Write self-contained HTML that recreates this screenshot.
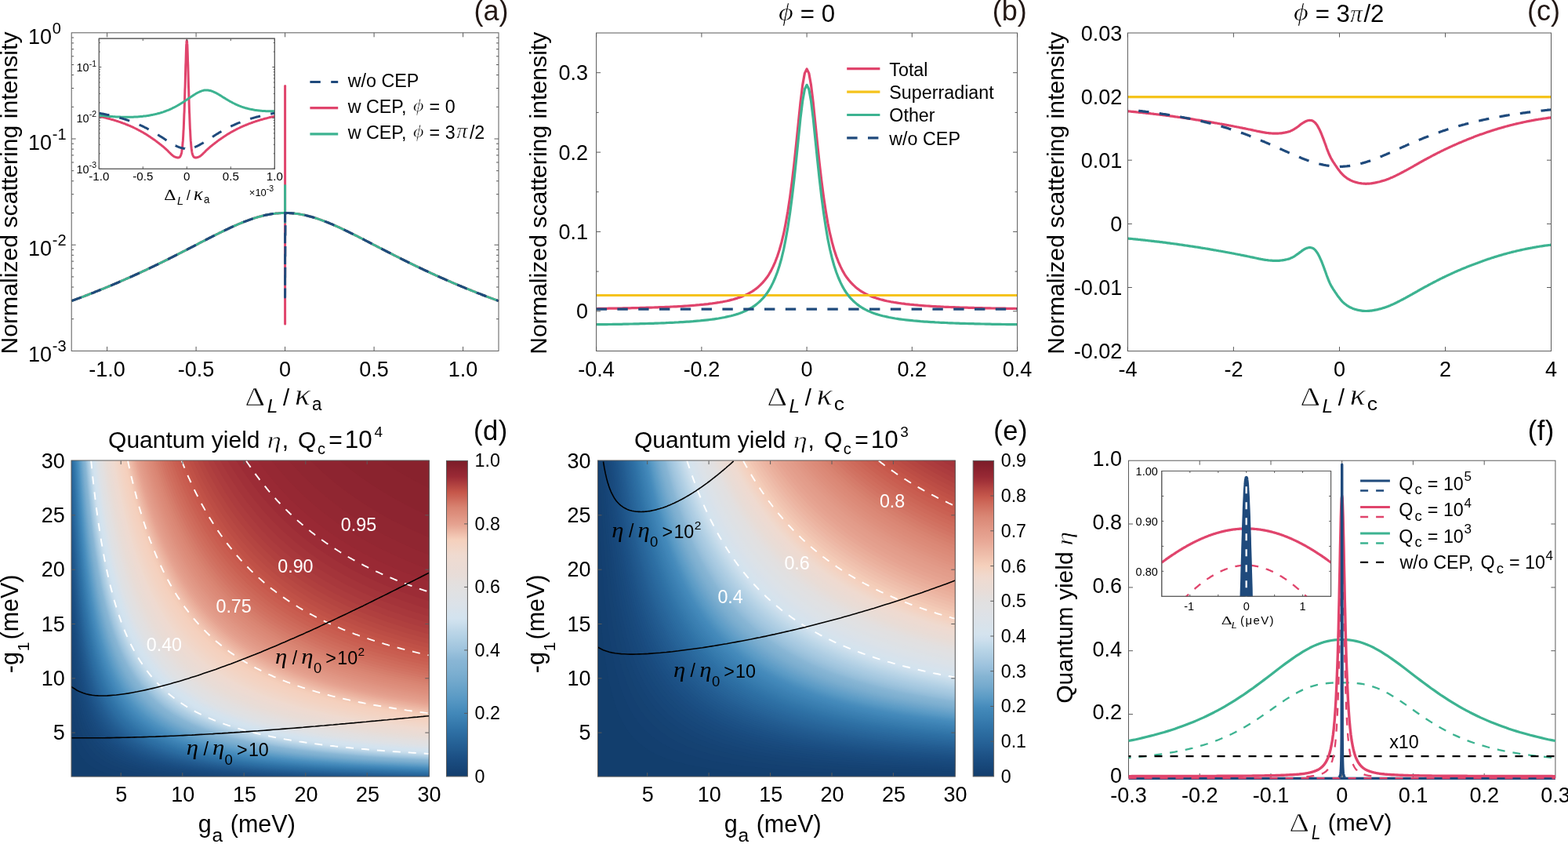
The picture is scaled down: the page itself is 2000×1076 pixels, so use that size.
<!DOCTYPE html>
<html lang="en"><head><meta charset="utf-8"><title>Figure</title>
<style>
html,body{margin:0;padding:0;background:#fff;}
body{width:2000px;height:1076px;position:relative;overflow:hidden;font-family:"Liberation Sans",sans-serif;}
svg{position:absolute;left:0;top:0;}
svg{font-family:"Liberation Sans",sans-serif;}
</style></head><body>

<svg width="2000" height="1076" viewBox="0 0 2000 1076">
<defs>
<clipPath id="cp_a"><rect x="90.7" y="41.3" width="545.8" height="406.6"/></clipPath>
<clipPath id="cp_ai"><rect x="125.8" y="48.6" width="225" height="167.2"/></clipPath>
<clipPath id="cp_b"><rect x="760.1" y="41.5" width="538" height="406.5"/></clipPath>
<clipPath id="cp_c"><rect x="1437.9" y="41.5" width="541.1" height="406.6"/></clipPath>
<clipPath id="cp_d"><rect x="91" y="587" width="456.3" height="403.1"/></clipPath>
<clipPath id="cp_dc"><rect x="569" y="586.9" width="27.9" height="403.5"/></clipPath>
<clipPath id="cp_e"><rect x="762.5" y="587" width="455.8" height="403.1"/></clipPath>
<clipPath id="cp_ec"><rect x="1240.7" y="586.9" width="27.4" height="403.5"/></clipPath>
<clipPath id="cp_f"><rect x="1439" y="586.7" width="545.4" height="405.2"/></clipPath>
<clipPath id="cp_fi"><rect x="1481.3" y="600" width="216.8" height="160.8"/></clipPath>
</defs>
<path d="M136.6 447.4v-5.5M136.6 41.8v5.5M250.1 447.4v-5.5M250.1 41.8v5.5M363.6 447.4v-5.5M363.6 41.8v5.5M477.1 447.4v-5.5M477.1 41.8v5.5M590.6 447.4v-5.5M590.6 41.8v5.5" stroke="#5a5a5a" stroke-width="1.0" fill="none"/>
<path d="M91.2 312.2h5.5M636 312.2h-5.5M91.2 177h5.5M636 177h-5.5" stroke="#5a5a5a" stroke-width="1.0" fill="none"/>
<path d="M91.2 406.7h3M636 406.7h-3M91.2 382.9h3M636 382.9h-3M91.2 366h3M636 366h-3M91.2 352.9h3M636 352.9h-3M91.2 342.2h3M636 342.2h-3M91.2 333.1h3M636 333.1h-3M91.2 325.3h3M636 325.3h-3M91.2 318.4h3M636 318.4h-3M91.2 271.5h3M636 271.5h-3M91.2 247.7h3M636 247.7h-3M91.2 230.8h3M636 230.8h-3M91.2 217.7h3M636 217.7h-3M91.2 207h3M636 207h-3M91.2 197.9h3M636 197.9h-3M91.2 190.1h3M636 190.1h-3M91.2 183.2h3M636 183.2h-3M91.2 136.3h3M636 136.3h-3M91.2 112.5h3M636 112.5h-3M91.2 95.6h3M636 95.6h-3M91.2 82.5h3M636 82.5h-3M91.2 71.8h3M636 71.8h-3M91.2 62.7h3M636 62.7h-3M91.2 54.9h3M636 54.9h-3M91.2 48h3M636 48h-3" stroke="#5a5a5a" stroke-width="1.0" fill="none"/>
<path d="M91.2 383.7L92.6 383.2L93.9 382.7L95.3 382.2L96.7 381.7L98 381.2L99.4 380.7L100.8 380.2L102.1 379.6L103.5 379.1L104.9 378.6L106.2 378.1L107.6 377.6L109 377L110.3 376.5L111.7 376L113 375.5L114.4 374.9L115.8 374.4L117.1 373.9L118.5 373.3L119.9 372.8L121.2 372.2L122.6 371.7L124 371.1L125.3 370.6L126.7 370L128.1 369.5L129.4 368.9L130.8 368.4L132.2 367.8L133.5 367.3L134.9 366.7L136.3 366.1L137.6 365.6L139 365L140.4 364.4L141.7 363.9L143.1 363.3L144.5 362.7L145.8 362.1L147.2 361.6L148.5 361L149.9 360.4L151.3 359.8L152.6 359.2L154 358.6L155.4 358L156.7 357.4L158.1 356.8L159.5 356.2L160.8 355.6L162.2 355L163.6 354.4L164.9 353.8L166.3 353.2L167.7 352.6L169 352L170.4 351.4L171.8 350.8L173.1 350.1L174.5 349.5L175.9 348.9L177.2 348.3L178.6 347.6L180 347L181.3 346.4L182.7 345.7L184 345.1L185.4 344.5L186.8 343.8L188.1 343.2L189.5 342.5L190.9 341.9L192.2 341.2L193.6 340.6L195 339.9L196.3 339.3L197.7 338.6L199.1 338L200.4 337.3L201.8 336.6L203.2 336L204.5 335.3L205.9 334.6L207.3 334L208.6 333.3L210 332.6L211.4 331.9L212.7 331.3L214.1 330.6L215.5 329.9L216.8 329.2L218.2 328.5L219.5 327.8L220.9 327.2L222.3 326.5L223.6 325.8L225 325.1L226.4 324.4L227.7 323.7L229.1 323L230.5 322.3L231.8 321.6L233.2 320.9L234.6 320.2L235.9 319.5L237.3 318.8L238.7 318.1L240 317.4L241.4 316.7L242.8 316L244.1 315.3L245.5 314.6L246.9 313.9L248.2 313.2L249.6 312.5L251 311.8L252.3 311.1L253.7 310.3L255 309.6L256.4 308.9L257.8 308.2L259.1 307.5L260.5 306.8L261.9 306.1L263.2 305.4L264.6 304.7L266 304L267.3 303.3L268.7 302.6L270.1 301.9L271.4 301.2L272.8 300.5L274.2 299.9L275.5 299.2L276.9 298.5L278.3 297.8L279.6 297.1L281 296.5L282.4 295.8L283.7 295.1L285.1 294.5L286.5 293.8L287.8 293.1L289.2 292.5L290.6 291.9L291.9 291.2L293.3 290.6L294.6 289.9L296 289.3L297.4 288.7L298.7 288.1L300.1 287.5L301.5 286.9L302.8 286.3L304.2 285.7L305.6 285.1L306.9 284.6L308.3 284L309.7 283.5L311 282.9L312.4 282.4L313.8 281.9L315.1 281.3L316.5 280.8L317.9 280.3L319.2 279.9L320.6 279.4L322 278.9L323.3 278.5L324.7 278L326.1 277.6L327.4 277.2L328.8 276.8L330.1 276.4L331.5 276L332.9 275.7L334.2 275.3L335.6 275L337 274.6L338.3 274.3L339.7 274L341.1 273.8L342.4 273.5L343.8 273.3L345.2 273L346.5 272.8L347.9 272.6L349.3 272.4L350.6 272.3L352 272.1L353.4 272L354.7 271.9L356.1 271.8L357.5 271.7L358.8 271.6L360.2 271.6L361.6 271.5L362.9 271.5L364.3 271.5L365.6 271.5L367 271.6L368.4 271.6L369.7 271.7L371.1 271.8L372.5 271.9L373.8 272L375.2 272.1L376.6 272.3L377.9 272.4L379.3 272.6L380.7 272.8L382 273L383.4 273.3L384.8 273.5L386.1 273.8L387.5 274L388.9 274.3L390.2 274.6L391.6 275L393 275.3L394.3 275.7L395.7 276L397.1 276.4L398.4 276.8L399.8 277.2L401.1 277.6L402.5 278L403.9 278.5L405.2 278.9L406.6 279.4L408 279.9L409.3 280.3L410.7 280.8L412.1 281.3L413.4 281.9L414.8 282.4L416.2 282.9L417.5 283.5L418.9 284L420.3 284.6L421.6 285.1L423 285.7L424.4 286.3L425.7 286.9L427.1 287.5L428.5 288.1L429.8 288.7L431.2 289.3L432.6 289.9L433.9 290.6L435.3 291.2L436.6 291.9L438 292.5L439.4 293.1L440.7 293.8L442.1 294.5L443.5 295.1L444.8 295.8L446.2 296.5L447.6 297.1L448.9 297.8L450.3 298.5L451.7 299.2L453 299.9L454.4 300.5L455.8 301.2L457.1 301.9L458.5 302.6L459.9 303.3L461.2 304L462.6 304.7L464 305.4L465.3 306.1L466.7 306.8L468.1 307.5L469.4 308.2L470.8 308.9L472.2 309.6L473.5 310.3L474.9 311.1L476.2 311.8L477.6 312.5L479 313.2L480.3 313.9L481.7 314.6L483.1 315.3L484.4 316L485.8 316.7L487.2 317.4L488.5 318.1L489.9 318.8L491.3 319.5L492.6 320.2L494 320.9L495.4 321.6L496.7 322.3L498.1 323L499.5 323.7L500.8 324.4L502.2 325.1L503.6 325.8L504.9 326.5L506.3 327.2L507.7 327.8L509 328.5L510.4 329.2L511.7 329.9L513.1 330.6L514.5 331.3L515.8 331.9L517.2 332.6L518.6 333.3L519.9 334L521.3 334.6L522.7 335.3L524 336L525.4 336.6L526.8 337.3L528.1 338L529.5 338.6L530.9 339.3L532.2 339.9L533.6 340.6L535 341.2L536.3 341.9L537.7 342.5L539.1 343.2L540.4 343.8L541.8 344.5L543.2 345.1L544.5 345.7L545.9 346.4L547.2 347L548.6 347.6L550 348.3L551.3 348.9L552.7 349.5L554.1 350.1L555.4 350.8L556.8 351.4L558.2 352L559.5 352.6L560.9 353.2L562.3 353.8L563.6 354.4L565 355L566.4 355.6L567.7 356.2L569.1 356.8L570.5 357.4L571.8 358L573.2 358.6L574.6 359.2L575.9 359.8L577.3 360.4L578.7 361L580 361.6L581.4 362.1L582.7 362.7L584.1 363.3L585.5 363.9L586.8 364.4L588.2 365L589.6 365.6L590.9 366.1L592.3 366.7L593.7 367.3L595 367.8L596.4 368.4L597.8 368.9L599.1 369.5L600.5 370L601.9 370.6L603.2 371.1L604.6 371.7L606 372.2L607.3 372.8L608.7 373.3L610.1 373.9L611.4 374.4L612.8 374.9L614.2 375.5L615.5 376L616.9 376.5L618.2 377L619.6 377.6L621 378.1L622.3 378.6L623.7 379.1L625.1 379.6L626.4 380.2L627.8 380.7L629.2 381.2L630.5 381.7L631.9 382.2L633.3 382.7L634.6 383.2L636 383.7" fill="none" stroke="#E0446C" stroke-width="3" clip-path="url(#cp_a)" stroke-linejoin="round"/>
<path d="M363.6 412.9V109.4" stroke="#E0446C" stroke-width="3" stroke-linecap="round" fill="none"/>
<path d="M91.2 383.7L92.6 383.2L93.9 382.7L95.3 382.2L96.7 381.7L98 381.2L99.4 380.7L100.8 380.2L102.1 379.6L103.5 379.1L104.9 378.6L106.2 378.1L107.6 377.6L109 377L110.3 376.5L111.7 376L113 375.5L114.4 374.9L115.8 374.4L117.1 373.9L118.5 373.3L119.9 372.8L121.2 372.2L122.6 371.7L124 371.1L125.3 370.6L126.7 370L128.1 369.5L129.4 368.9L130.8 368.4L132.2 367.8L133.5 367.3L134.9 366.7L136.3 366.1L137.6 365.6L139 365L140.4 364.4L141.7 363.9L143.1 363.3L144.5 362.7L145.8 362.1L147.2 361.6L148.5 361L149.9 360.4L151.3 359.8L152.6 359.2L154 358.6L155.4 358L156.7 357.4L158.1 356.8L159.5 356.2L160.8 355.6L162.2 355L163.6 354.4L164.9 353.8L166.3 353.2L167.7 352.6L169 352L170.4 351.4L171.8 350.8L173.1 350.1L174.5 349.5L175.9 348.9L177.2 348.3L178.6 347.6L180 347L181.3 346.4L182.7 345.7L184 345.1L185.4 344.5L186.8 343.8L188.1 343.2L189.5 342.5L190.9 341.9L192.2 341.2L193.6 340.6L195 339.9L196.3 339.3L197.7 338.6L199.1 338L200.4 337.3L201.8 336.6L203.2 336L204.5 335.3L205.9 334.6L207.3 334L208.6 333.3L210 332.6L211.4 331.9L212.7 331.3L214.1 330.6L215.5 329.9L216.8 329.2L218.2 328.5L219.5 327.8L220.9 327.2L222.3 326.5L223.6 325.8L225 325.1L226.4 324.4L227.7 323.7L229.1 323L230.5 322.3L231.8 321.6L233.2 320.9L234.6 320.2L235.9 319.5L237.3 318.8L238.7 318.1L240 317.4L241.4 316.7L242.8 316L244.1 315.3L245.5 314.6L246.9 313.9L248.2 313.2L249.6 312.5L251 311.8L252.3 311.1L253.7 310.3L255 309.6L256.4 308.9L257.8 308.2L259.1 307.5L260.5 306.8L261.9 306.1L263.2 305.4L264.6 304.7L266 304L267.3 303.3L268.7 302.6L270.1 301.9L271.4 301.2L272.8 300.5L274.2 299.9L275.5 299.2L276.9 298.5L278.3 297.8L279.6 297.1L281 296.5L282.4 295.8L283.7 295.1L285.1 294.5L286.5 293.8L287.8 293.1L289.2 292.5L290.6 291.9L291.9 291.2L293.3 290.6L294.6 289.9L296 289.3L297.4 288.7L298.7 288.1L300.1 287.5L301.5 286.9L302.8 286.3L304.2 285.7L305.6 285.1L306.9 284.6L308.3 284L309.7 283.5L311 282.9L312.4 282.4L313.8 281.9L315.1 281.3L316.5 280.8L317.9 280.3L319.2 279.9L320.6 279.4L322 278.9L323.3 278.5L324.7 278L326.1 277.6L327.4 277.2L328.8 276.8L330.1 276.4L331.5 276L332.9 275.7L334.2 275.3L335.6 275L337 274.6L338.3 274.3L339.7 274L341.1 273.8L342.4 273.5L343.8 273.3L345.2 273L346.5 272.8L347.9 272.6L349.3 272.4L350.6 272.3L352 272.1L353.4 272L354.7 271.9L356.1 271.8L357.5 271.7L358.8 271.6L360.2 271.6L361.6 271.5L362.9 271.5L364.3 271.5L365.6 271.5L367 271.6L368.4 271.6L369.7 271.7L371.1 271.8L372.5 271.9L373.8 272L375.2 272.1L376.6 272.3L377.9 272.4L379.3 272.6L380.7 272.8L382 273L383.4 273.3L384.8 273.5L386.1 273.8L387.5 274L388.9 274.3L390.2 274.6L391.6 275L393 275.3L394.3 275.7L395.7 276L397.1 276.4L398.4 276.8L399.8 277.2L401.1 277.6L402.5 278L403.9 278.5L405.2 278.9L406.6 279.4L408 279.9L409.3 280.3L410.7 280.8L412.1 281.3L413.4 281.9L414.8 282.4L416.2 282.9L417.5 283.5L418.9 284L420.3 284.6L421.6 285.1L423 285.7L424.4 286.3L425.7 286.9L427.1 287.5L428.5 288.1L429.8 288.7L431.2 289.3L432.6 289.9L433.9 290.6L435.3 291.2L436.6 291.9L438 292.5L439.4 293.1L440.7 293.8L442.1 294.5L443.5 295.1L444.8 295.8L446.2 296.5L447.6 297.1L448.9 297.8L450.3 298.5L451.7 299.2L453 299.9L454.4 300.5L455.8 301.2L457.1 301.9L458.5 302.6L459.9 303.3L461.2 304L462.6 304.7L464 305.4L465.3 306.1L466.7 306.8L468.1 307.5L469.4 308.2L470.8 308.9L472.2 309.6L473.5 310.3L474.9 311.1L476.2 311.8L477.6 312.5L479 313.2L480.3 313.9L481.7 314.6L483.1 315.3L484.4 316L485.8 316.7L487.2 317.4L488.5 318.1L489.9 318.8L491.3 319.5L492.6 320.2L494 320.9L495.4 321.6L496.7 322.3L498.1 323L499.5 323.7L500.8 324.4L502.2 325.1L503.6 325.8L504.9 326.5L506.3 327.2L507.7 327.8L509 328.5L510.4 329.2L511.7 329.9L513.1 330.6L514.5 331.3L515.8 331.9L517.2 332.6L518.6 333.3L519.9 334L521.3 334.6L522.7 335.3L524 336L525.4 336.6L526.8 337.3L528.1 338L529.5 338.6L530.9 339.3L532.2 339.9L533.6 340.6L535 341.2L536.3 341.9L537.7 342.5L539.1 343.2L540.4 343.8L541.8 344.5L543.2 345.1L544.5 345.7L545.9 346.4L547.2 347L548.6 347.6L550 348.3L551.3 348.9L552.7 349.5L554.1 350.1L555.4 350.8L556.8 351.4L558.2 352L559.5 352.6L560.9 353.2L562.3 353.8L563.6 354.4L565 355L566.4 355.6L567.7 356.2L569.1 356.8L570.5 357.4L571.8 358L573.2 358.6L574.6 359.2L575.9 359.8L577.3 360.4L578.7 361L580 361.6L581.4 362.1L582.7 362.7L584.1 363.3L585.5 363.9L586.8 364.4L588.2 365L589.6 365.6L590.9 366.1L592.3 366.7L593.7 367.3L595 367.8L596.4 368.4L597.8 368.9L599.1 369.5L600.5 370L601.9 370.6L603.2 371.1L604.6 371.7L606 372.2L607.3 372.8L608.7 373.3L610.1 373.9L611.4 374.4L612.8 374.9L614.2 375.5L615.5 376L616.9 376.5L618.2 377L619.6 377.6L621 378.1L622.3 378.6L623.7 379.1L625.1 379.6L626.4 380.2L627.8 380.7L629.2 381.2L630.5 381.7L631.9 382.2L633.3 382.7L634.6 383.2L636 383.7" fill="none" stroke="#3DB391" stroke-width="3" clip-path="url(#cp_a)" stroke-linejoin="round"/>
<path d="M363.6 284.6V235.4" stroke="#3DB391" stroke-width="3" fill="none"/>
<path d="M91.2 383.7L92.6 383.2L93.9 382.7L95.3 382.2L96.7 381.7L98 381.2L99.4 380.7L100.8 380.2L102.1 379.6L103.5 379.1L104.9 378.6L106.2 378.1L107.6 377.6L109 377L110.3 376.5L111.7 376L113.1 375.4L114.4 374.9L115.8 374.4L117.2 373.8L118.5 373.3L119.9 372.8L121.3 372.2L122.6 371.7L124 371.1L125.4 370.6L126.7 370L128.1 369.5L129.5 368.9L130.8 368.4L132.2 367.8L133.6 367.3L134.9 366.7L136.3 366.1L137.7 365.6L139 365L140.4 364.4L141.8 363.9L143.1 363.3L144.5 362.7L145.9 362.1L147.2 361.5L148.6 361L150 360.4L151.3 359.8L152.7 359.2L154.1 358.6L155.4 358L156.8 357.4L158.2 356.8L159.5 356.2L160.9 355.6L162.3 355L163.6 354.4L165 353.8L166.4 353.2L167.7 352.6L169.1 352L170.5 351.3L171.8 350.7L173.2 350.1L174.6 349.5L175.9 348.9L177.3 348.2L178.7 347.6L180 347L181.4 346.3L182.8 345.7L184.1 345.1L185.5 344.4L186.9 343.8L188.2 343.1L189.6 342.5L191 341.8L192.3 341.2L193.7 340.5L195.1 339.9L196.4 339.2L197.8 338.6L199.2 337.9L200.5 337.3L201.9 336.6L203.3 335.9L204.6 335.3L206 334.6L207.4 333.9L208.7 333.2L210.1 332.6L211.5 331.9L212.8 331.2L214.2 330.5L215.6 329.8L216.9 329.2L218.3 328.5L219.7 327.8L221 327.1L222.4 326.4L223.8 325.7L225.1 325L226.5 324.3L227.9 323.6L229.2 322.9L230.6 322.2L232 321.6L233.3 320.9L234.7 320.2L236.1 319.4L237.4 318.7L238.8 318L240.2 317.3L241.5 316.6L242.9 315.9L244.3 315.2L245.6 314.5L247 313.8L248.4 313.1L249.7 312.4L251.1 311.7L252.5 311L253.8 310.3L255.2 309.6L256.6 308.9L257.9 308.2L259.3 307.5L260.7 306.7L262 306L263.4 305.3L264.8 304.6L266.1 303.9L267.5 303.2L268.9 302.5L270.2 301.9L271.6 301.2L273 300.5L274.3 299.8L275.7 299.1L277.1 298.4L278.4 297.7L279.8 297.1L281.2 296.4L282.5 295.7L283.9 295L285.3 294.4L286.6 293.7L288 293.1L289.4 292.4L290.7 291.8L292.1 291.1L293.5 290.5L294.8 289.9L296.2 289.2L297.6 288.6L298.9 288L300.3 287.4L301.7 286.8L303 286.2L304.4 285.6L305.8 285.1L307.1 284.5L308.5 283.9L309.9 283.4L311.2 282.8L312.6 282.3L313.9 281.8L315.3 281.3L316.7 280.8L318 280.3L319.4 279.8L320.8 279.3L322.1 278.9L323.5 278.4L324.9 278L326.2 277.5L327.6 277.1L329 276.7L330.3 276.3L331.7 276L333.1 275.6L334.4 275.3L335.8 274.9L337.2 274.6L338.5 274.3L339.9 274L341.3 273.7L342.6 273.5L344 273.2L345.4 273L346.7 272.8L348.1 272.6L349.5 272.4L350.8 272.2L352.2 272.1L353.6 272L354.9 271.8L356.3 271.7L357.7 271.7L359 271.6L360.4 271.5L361.8 271.5L363.1 271.5L363.6 271.5L363.6 379.1L364.1 271.5L365.4 271.5L366.8 271.5L368.2 271.6L369.5 271.7L370.9 271.7L372.3 271.8L373.6 272L375 272.1L376.4 272.2L377.7 272.4L379.1 272.6L380.5 272.8L381.8 273L383.2 273.2L384.6 273.5L385.9 273.7L387.3 274L388.7 274.3L390 274.6L391.4 274.9L392.8 275.3L394.1 275.6L395.5 276L396.9 276.3L398.2 276.7L399.6 277.1L401 277.5L402.3 278L403.7 278.4L405.1 278.9L406.4 279.3L407.8 279.8L409.2 280.3L410.5 280.8L411.9 281.3L413.3 281.8L414.6 282.3L416 282.8L417.3 283.4L418.7 283.9L420.1 284.5L421.4 285.1L422.8 285.6L424.2 286.2L425.5 286.8L426.9 287.4L428.3 288L429.6 288.6L431 289.2L432.4 289.9L433.7 290.5L435.1 291.1L436.5 291.8L437.8 292.4L439.2 293.1L440.6 293.7L441.9 294.4L443.3 295L444.7 295.7L446 296.4L447.4 297.1L448.8 297.7L450.1 298.4L451.5 299.1L452.9 299.8L454.2 300.5L455.6 301.2L457 301.9L458.3 302.5L459.7 303.2L461.1 303.9L462.4 304.6L463.8 305.3L465.2 306L466.5 306.7L467.9 307.5L469.3 308.2L470.6 308.9L472 309.6L473.4 310.3L474.7 311L476.1 311.7L477.5 312.4L478.8 313.1L480.2 313.8L481.6 314.5L482.9 315.2L484.3 315.9L485.7 316.6L487 317.3L488.4 318L489.8 318.7L491.1 319.4L492.5 320.2L493.9 320.9L495.2 321.6L496.6 322.2L498 322.9L499.3 323.6L500.7 324.3L502.1 325L503.4 325.7L504.8 326.4L506.2 327.1L507.5 327.8L508.9 328.5L510.3 329.2L511.6 329.8L513 330.5L514.4 331.2L515.7 331.9L517.1 332.6L518.5 333.2L519.8 333.9L521.2 334.6L522.6 335.3L523.9 335.9L525.3 336.6L526.7 337.3L528 337.9L529.4 338.6L530.8 339.2L532.1 339.9L533.5 340.5L534.9 341.2L536.2 341.8L537.6 342.5L539 343.1L540.3 343.8L541.7 344.4L543.1 345.1L544.4 345.7L545.8 346.3L547.2 347L548.5 347.6L549.9 348.2L551.3 348.9L552.6 349.5L554 350.1L555.4 350.7L556.7 351.3L558.1 352L559.5 352.6L560.8 353.2L562.2 353.8L563.6 354.4L564.9 355L566.3 355.6L567.7 356.2L569 356.8L570.4 357.4L571.8 358L573.1 358.6L574.5 359.2L575.9 359.8L577.2 360.4L578.6 361L580 361.5L581.3 362.1L582.7 362.7L584.1 363.3L585.4 363.9L586.8 364.4L588.2 365L589.5 365.6L590.9 366.1L592.3 366.7L593.6 367.3L595 367.8L596.4 368.4L597.7 368.9L599.1 369.5L600.5 370L601.8 370.6L603.2 371.1L604.6 371.7L605.9 372.2L607.3 372.8L608.7 373.3L610 373.8L611.4 374.4L612.8 374.9L614.1 375.4L615.5 376L616.9 376.5L618.2 377L619.6 377.6L621 378.1L622.3 378.6L623.7 379.1L625.1 379.6L626.4 380.2L627.8 380.7L629.2 381.2L630.5 381.7L631.9 382.2L633.3 382.7L634.6 383.2L636 383.7" fill="none" stroke="#1F4A7C" stroke-width="3" stroke-dasharray="13.4 13.4" clip-path="url(#cp_a)" stroke-linejoin="round"/>
<rect x="91.2" y="41.8" width="544.8" height="405.6" fill="none" stroke="#5a5a5a" stroke-width="1.0"/>
<text x="136.6" y="479.6" font-size="27.0" text-anchor="middle">-1.0</text>
<text x="250.1" y="479.6" font-size="27.0" text-anchor="middle">-0.5</text>
<text x="363.6" y="479.6" font-size="27.0" text-anchor="middle">0</text>
<text x="477.1" y="479.6" font-size="27.0" text-anchor="middle">0.5</text>
<text x="590.6" y="479.6" font-size="27.0" text-anchor="middle">1.0</text>
<text x="36" y="55.6" font-size="27.0" text-anchor="start">10<tspan dy="-12.9" dx="0.7" font-size="20">0</tspan><tspan dy="12.9" font-size="27.0">&#8203;</tspan></text>
<text x="36" y="190.8" font-size="27.0" text-anchor="start">10<tspan dy="-12.9" dx="0.7" font-size="20">-1</tspan><tspan dy="12.9" font-size="27.0">&#8203;</tspan></text>
<text x="36" y="326" font-size="27.0" text-anchor="start">10<tspan dy="-12.9" dx="0.7" font-size="20">-2</tspan><tspan dy="12.9" font-size="27.0">&#8203;</tspan></text>
<text x="36" y="461.2" font-size="27.0" text-anchor="start">10<tspan dy="-12.9" dx="0.7" font-size="20">-3</tspan><tspan dy="12.9" font-size="27.0">&#8203;</tspan></text>
<text transform="translate(22.1 246) rotate(-90)" font-size="30.2" text-anchor="middle">Normalized scattering intensity</text>
<text transform="matrix(0.3982 0 0 0.3344 312.51 516.50)" font-size="100" font-family='"Liberation Serif", serif' stroke="#fff" stroke-width="1.91">Δ</text>
<text transform="matrix(0.2440 0 0 0.2478 340.67 526.10)" font-size="100" font-family='"Liberation Sans", sans-serif' font-style="italic">L</text>
<text transform="matrix(0.2945 0 0 0.2939 360.90 516.51)" font-size="100" font-family='"Liberation Sans", sans-serif'>/</text>
<text transform="matrix(0.4154 0 0 0.3758 375.95 516.20)" font-size="100" font-family='"Liberation Serif", serif' font-style="italic" stroke="#fff" stroke-width="1.26">κ</text>
<text transform="matrix(0.2235 0 0 0.2345 397.99 523.17)" font-size="100" font-family='"Liberation Sans", sans-serif'>a</text>
<text x="626.6" y="25.7" font-size="36" text-anchor="middle" fill="#231815">(a)</text>
<path d="M395.4 104.5H431.2" stroke="#1F4A7C" stroke-width="3.2" stroke-dasharray="13.4 13.4"/>
<text x="443.7" y="110.5" font-size="23.3" text-anchor="start">w/o CEP</text>
<path d="M395.4 137.7H431.2" stroke="#E0446C" stroke-width="3.2"/>
<text x="443.7" y="143.7" font-size="23.3" text-anchor="start">w CEP,</text>
<text transform="matrix(0.2628 0 0 0.2343 526.99 142.18)" font-size="100" font-family='"Liberation Serif", serif' font-style="italic" stroke="#fff" stroke-width="2.41">ϕ</text>
<text x="547.6" y="143.7" font-size="23.3" text-anchor="start">= 0</text>
<path d="M395.4 170.9H431.2" stroke="#3DB391" stroke-width="3.2"/>
<text x="443.7" y="176.9" font-size="23.3" text-anchor="start">w CEP,</text>
<text transform="matrix(0.2628 0 0 0.2343 526.99 175.38)" font-size="100" font-family='"Liberation Serif", serif' font-style="italic" stroke="#fff" stroke-width="2.41">ϕ</text>
<text x="547.6" y="176.9" font-size="23.3" text-anchor="start">= 3</text>
<text transform="matrix(0.2827 0 0 0.2667 582.16 176.43)" font-size="100" font-family='"Liberation Serif", serif' font-style="italic" stroke="#fff" stroke-width="1.46">π</text>
<text x="598.9" y="176.9" font-size="23.3" text-anchor="start">/2</text>
<rect x="126.3" y="49.1" width="224" height="166.2" fill="#fff" stroke="#5a5a5a" stroke-width="1.0"/>
<path d="M126.3 148.3L127.4 148.5L128.5 148.8L129.7 149L130.8 149.3L131.9 149.5L133 149.8L134.1 150.1L135.3 150.4L136.4 150.7L137.5 150.9L138.6 151.2L139.7 151.5L140.9 151.9L142 152.2L143.1 152.5L144.2 152.8L145.3 153.1L146.5 153.5L147.6 153.8L148.7 154.2L149.8 154.5L150.9 154.9L152.1 155.3L153.2 155.7L154.3 156.1L155.4 156.5L156.5 156.9L157.7 157.3L158.8 157.7L159.9 158.1L161 158.6L162.1 159L163.3 159.5L164.4 160L165.5 160.4L166.6 160.9L167.7 161.4L168.9 161.9L170 162.4L171.1 163L172.2 163.5L173.3 164L174.5 164.6L175.6 165.2L176.7 165.8L177.8 166.3L178.9 167L180.1 167.6L181.2 168.2L182.3 168.8L183.4 169.5L184.5 170.2L185.7 170.8L186.8 171.5L187.9 172.2L189 172.9L190.1 173.7L191.3 174.4L192.4 175.2L193.5 175.9L194.6 176.7L195.7 177.5L196.9 178.3L198 179.1L199.1 179.9L200.2 180.8L201.3 181.6L202.5 182.5L203.6 183.4L204.7 184.2L205.8 185.1L206.9 186L208.1 186.9L209.2 187.9L210.3 188.8L211.4 189.8L212.5 190.9L213.7 191.9L214.8 193.1L215.9 194.2L217 195.3L218.1 196.4L219.3 197.5L220.4 198.4L221.5 199.2L221.5 199.2L221.6 199.2L221.7 199.3L221.8 199.4L221.9 199.4L222.1 199.5L222.2 199.5L222.3 199.6L222.4 199.7L222.5 199.7L222.6 199.8L222.6 199.8L222.7 199.8L222.8 199.9L223 200L223.1 200L223.2 200.1L223.3 200.1L223.4 200.1L223.5 200.2L223.6 200.2L223.7 200.3L223.9 200.3L224 200.4L224.1 200.4L224.2 200.4L224.3 200.5L224.4 200.5L224.5 200.6L224.6 200.6L224.7 200.6L224.9 200.6L225 200.7L225.1 200.7L225.2 200.7L225.3 200.8L225.4 200.8L225.5 200.8L225.6 200.8L225.8 200.8L225.9 200.9L226 200.9L226.1 200.9L226.2 200.9L226.3 200.9L226.4 200.9L226.5 200.9L226.7 200.9L226.8 201L226.9 201L227 201L227.1 200.9L227.1 200.9L227.2 200.9L227.3 200.9L227.4 200.9L227.5 200.9L227.7 200.9L227.8 200.9L227.9 200.9L228 200.8L228.1 200.8L228.2 200.8L228.2 200.8L228.3 200.7L228.4 200.7L228.6 200.6L228.7 200.6L228.8 200.5L228.9 200.4L229 200.3L229.1 200.3L229.2 200.2L229.3 200.1L229.3 200.1L229.5 200L229.6 199.8L229.7 199.7L229.8 199.5L229.9 199.4L230 199.2L230.1 199L230.2 198.8L230.3 198.6L230.5 198.4L230.5 198.4L230.6 198.1L230.7 197.8L230.8 197.5L230.9 197.2L231 196.8L231.1 196.4L231.2 196L231.4 195.6L231.5 195.1L231.6 194.6L231.6 194.6L231.7 194L231.8 193.4L231.9 192.7L232 192L232.1 191.2L232.3 190.4L232.4 189.6L232.5 188.6L232.6 187.6L232.7 186.5L232.7 186.5L232.8 185.4L232.9 184.1L233 182.8L233.1 181.4L233.3 179.9L233.4 178.4L233.5 176.7L233.6 174.9L233.7 173.1L233.8 171.1L233.8 171.1L233.9 169L234 166.9L234.2 164.6L234.3 162.2L234.4 159.7L234.5 157.1L234.6 154.4L234.7 151.6L234.8 148.7L234.9 145.7L234.9 145.7L235.1 142.6L235.2 139.4L235.3 136.1L235.4 132.7L235.5 129.2L235.6 125.7L235.7 122L235.8 118.3L235.9 114.5L236.1 110.7L236.1 110.7L236.2 106.8L236.3 102.8L236.4 98.8L236.5 94.9L236.6 90.9L236.7 87L236.8 83L237 79.2L237.1 75.5L237.2 71.9L237.2 71.9L237.3 68.5L237.4 65.3L237.5 62.3L237.6 59.6L237.7 57.2L237.9 55.2L238 53.7L238.1 52.5L238.2 51.8L238.3 51.6L238.4 51.8L238.5 52.5L238.6 53.7L238.7 55.2L238.9 57.2L239 59.6L239.1 62.3L239.2 65.3L239.3 68.5L239.4 71.9L239.5 75.5L239.6 79.2L239.8 83L239.9 87L240 90.9L240.1 94.9L240.2 98.8L240.3 102.8L240.4 106.8L240.5 110.7L240.7 114.5L240.8 118.3L240.9 122L241 125.7L241.1 129.2L241.2 132.7L241.3 136.1L241.4 139.4L241.5 142.6L241.7 145.7L241.7 145.7L241.8 148.7L241.9 151.6L242 154.4L242.1 157.1L242.2 159.7L242.3 162.2L242.4 164.6L242.6 166.9L242.7 169L242.8 171.1L242.8 171.1L242.9 173.1L243 174.9L243.1 176.7L243.2 178.4L243.3 179.9L243.5 181.4L243.6 182.8L243.7 184.1L243.8 185.4L243.9 186.5L243.9 186.5L244 187.6L244.1 188.6L244.2 189.6L244.3 190.4L244.5 191.2L244.6 192L244.7 192.7L244.8 193.4L244.9 194L245 194.6L245 194.6L245.1 195.1L245.2 195.6L245.4 196L245.5 196.4L245.6 196.8L245.7 197.2L245.8 197.5L245.9 197.8L246 198.1L246.1 198.4L246.1 198.4L246.3 198.6L246.4 198.8L246.5 199L246.6 199.2L246.7 199.4L246.8 199.5L246.9 199.7L247 199.8L247.1 200L247.3 200.1L247.3 200.1L247.4 200.2L247.5 200.3L247.6 200.3L247.7 200.4L247.8 200.5L247.9 200.6L248 200.6L248.2 200.7L248.3 200.7L248.4 200.8L248.4 200.8L248.5 200.8L248.6 200.8L248.7 200.9L248.8 200.9L248.9 200.9L249.1 200.9L249.2 200.9L249.3 200.9L249.4 200.9L249.5 200.9L249.5 200.9L249.6 201L249.7 201L249.8 201L249.9 200.9L250.1 200.9L250.2 200.9L250.3 200.9L250.4 200.9L250.5 200.9L250.6 200.9L250.6 200.9L250.7 200.9L250.8 200.8L251 200.8L251.1 200.8L251.2 200.8L251.3 200.8L251.4 200.7L251.5 200.7L251.6 200.7L251.7 200.6L251.7 200.6L251.9 200.6L252 200.6L252.1 200.6L252.2 200.5L252.3 200.5L252.4 200.4L252.5 200.4L252.6 200.4L252.7 200.3L252.9 200.3L252.9 200.3L253 200.2L253.1 200.2L253.2 200.1L253.3 200.1L253.4 200.1L253.5 200L253.6 200L253.8 199.9L253.9 199.8L254 199.8L254 199.8L254.1 199.7L254.2 199.7L254.3 199.6L254.4 199.5L254.5 199.5L254.7 199.4L254.8 199.4L254.9 199.3L255 199.2L255.1 199.2L255.1 199.2L256.2 198.4L257.3 197.5L258.5 196.4L259.6 195.3L260.7 194.2L261.8 193.1L262.9 191.9L264.1 190.9L265.2 189.8L266.3 188.8L267.4 187.9L268.5 186.9L269.7 186L270.8 185.1L271.9 184.2L273 183.4L274.1 182.5L275.3 181.6L276.4 180.8L277.5 179.9L278.6 179.1L279.7 178.3L280.9 177.5L282 176.7L283.1 175.9L284.2 175.2L285.3 174.4L286.5 173.7L287.6 172.9L288.7 172.2L289.8 171.5L290.9 170.8L292.1 170.2L293.2 169.5L294.3 168.8L295.4 168.2L296.5 167.6L297.7 167L298.8 166.3L299.9 165.8L301 165.2L302.1 164.6L303.3 164L304.4 163.5L305.5 163L306.6 162.4L307.7 161.9L308.9 161.4L310 160.9L311.1 160.4L312.2 160L313.3 159.5L314.5 159L315.6 158.6L316.7 158.1L317.8 157.7L318.9 157.3L320.1 156.9L321.2 156.5L322.3 156.1L323.4 155.7L324.5 155.3L325.7 154.9L326.8 154.5L327.9 154.2L329 153.8L330.1 153.5L331.3 153.1L332.4 152.8L333.5 152.5L334.6 152.2L335.7 151.9L336.9 151.5L338 151.2L339.1 150.9L340.2 150.7L341.3 150.4L342.5 150.1L343.6 149.8L344.7 149.5L345.8 149.3L346.9 149L348.1 148.8L349.2 148.5L350.3 148.3" fill="none" stroke="#E0446C" stroke-width="3" clip-path="url(#cp_ai)" stroke-linejoin="round"/>
<path d="M126.3 147.2L127.4 147.3L128.5 147.4L129.7 147.5L130.8 147.6L131.9 147.7L133 147.8L134.1 147.9L135.3 148L136.4 148.1L137.5 148.2L138.6 148.3L139.7 148.4L140.9 148.5L142 148.5L143.1 148.6L144.2 148.7L145.3 148.8L146.5 148.8L147.6 148.9L148.7 148.9L149.8 149L150.9 149L152.1 149.1L153.2 149.1L154.3 149.2L155.4 149.2L156.5 149.2L157.7 149.3L158.8 149.3L159.9 149.3L161 149.3L162.1 149.3L163.3 149.3L164.4 149.3L165.5 149.3L166.6 149.2L167.7 149.2L168.9 149.2L170 149.2L171.1 149.1L172.2 149.1L173.3 149L174.5 148.9L175.6 148.9L176.7 148.8L177.8 148.7L178.9 148.6L180.1 148.5L181.2 148.4L182.3 148.3L183.4 148.1L184.5 148L185.7 147.9L186.8 147.7L187.9 147.6L189 147.4L190.1 147.2L191.3 147L192.4 146.8L193.5 146.6L194.6 146.4L195.7 146.1L196.9 145.9L198 145.6L199.1 145.4L200.2 145.1L201.3 144.8L202.5 144.5L203.6 144.2L204.7 143.9L205.8 143.5L206.9 143.2L208.1 142.8L209.2 142.4L210.3 142L211.4 141.6L212.5 141.2L213.7 140.7L214.8 140.3L215.9 139.8L217 139.3L218.1 138.8L219.3 138.3L220.4 137.7L221.5 137.2L221.5 137.2L221.6 137.1L221.7 137.1L221.8 137L221.9 136.9L222.1 136.9L222.2 136.8L222.3 136.8L222.4 136.7L222.5 136.7L222.6 136.6L222.6 136.6L222.7 136.5L222.8 136.5L223 136.4L223.1 136.4L223.2 136.3L223.3 136.3L223.4 136.2L223.5 136.1L223.6 136.1L223.7 136L223.9 136L224 135.9L224.1 135.8L224.2 135.8L224.3 135.7L224.4 135.7L224.5 135.6L224.6 135.5L224.7 135.5L224.9 135.4L225 135.4L225.1 135.3L225.2 135.2L225.3 135.2L225.4 135.1L225.5 135L225.6 135L225.8 134.9L225.9 134.9L226 134.8L226.1 134.7L226.2 134.7L226.3 134.6L226.4 134.5L226.5 134.5L226.7 134.4L226.8 134.4L226.9 134.3L227 134.2L227.1 134.2L227.1 134.2L227.2 134.1L227.3 134L227.4 134L227.5 133.9L227.7 133.8L227.8 133.8L227.9 133.7L228 133.6L228.1 133.6L228.2 133.5L228.2 133.5L228.3 133.4L228.4 133.4L228.6 133.3L228.7 133.2L228.8 133.2L228.9 133.1L229 133.1L229.1 133L229.2 132.9L229.3 132.8L229.3 132.8L229.5 132.8L229.6 132.7L229.7 132.6L229.8 132.6L229.9 132.5L230 132.4L230.1 132.4L230.2 132.3L230.3 132.2L230.5 132.2L230.5 132.2L230.6 132.1L230.7 132L230.8 132L230.9 131.9L231 131.8L231.1 131.8L231.2 131.7L231.4 131.6L231.5 131.5L231.6 131.5L231.6 131.5L231.7 131.4L231.8 131.3L231.9 131.3L232 131.2L232.1 131.1L232.3 131.1L232.4 131L232.5 130.9L232.6 130.8L232.7 130.8L232.7 130.8L232.8 130.7L232.9 130.6L233 130.6L233.1 130.5L233.3 130.4L233.4 130.3L233.5 130.3L233.6 130.2L233.7 130.1L233.8 130.1L233.8 130.1L233.9 130L234 129.9L234.2 129.8L234.3 129.8L234.4 129.7L234.5 129.6L234.6 129.5L234.7 129.5L234.8 129.4L234.9 129.3L234.9 129.3L235.1 129.2L235.2 129.2L235.3 129.1L235.4 129L235.5 129L235.6 128.9L235.7 128.8L235.8 128.7L235.9 128.7L236.1 128.6L236.1 128.6L236.2 128.5L236.3 128.4L236.4 128.4L236.5 128.3L236.6 128.2L236.7 128.1L236.8 128.1L237 128L237.1 127.9L237.2 127.8L237.2 127.8L237.3 127.8L237.4 127.7L237.5 127.6L237.6 127.5L237.7 127.5L237.9 127.4L238 127.3L238.1 127.2L238.2 127.2L238.3 127.1L238.4 127L238.5 126.9L238.6 126.9L238.7 126.8L238.9 126.7L239 126.6L239.1 126.5L239.2 126.5L239.3 126.4L239.4 126.3L239.5 126.2L239.6 126.2L239.8 126.1L239.9 126L240 125.9L240.1 125.9L240.2 125.8L240.3 125.7L240.4 125.6L240.5 125.6L240.7 125.5L240.8 125.4L240.9 125.3L241 125.3L241.1 125.2L241.2 125.1L241.3 125L241.4 124.9L241.5 124.9L241.7 124.8L241.7 124.8L241.8 124.7L241.9 124.6L242 124.6L242.1 124.5L242.2 124.4L242.3 124.3L242.4 124.3L242.6 124.2L242.7 124.1L242.8 124L242.8 124L242.9 124L243 123.9L243.1 123.8L243.2 123.7L243.3 123.7L243.5 123.6L243.6 123.5L243.7 123.4L243.8 123.3L243.9 123.3L243.9 123.3L244 123.2L244.1 123.1L244.2 123L244.3 123L244.5 122.9L244.6 122.8L244.7 122.7L244.8 122.7L244.9 122.6L245 122.5L245 122.5L245.1 122.4L245.2 122.4L245.4 122.3L245.5 122.2L245.6 122.2L245.7 122.1L245.8 122L245.9 121.9L246 121.9L246.1 121.8L246.1 121.8L246.3 121.7L246.4 121.6L246.5 121.6L246.6 121.5L246.7 121.4L246.8 121.4L246.9 121.3L247 121.2L247.1 121.1L247.3 121.1L247.3 121.1L247.4 121L247.5 120.9L247.6 120.8L247.7 120.8L247.8 120.7L247.9 120.6L248 120.6L248.2 120.5L248.3 120.4L248.4 120.4L248.4 120.4L248.5 120.3L248.6 120.2L248.7 120.2L248.8 120.1L248.9 120L249.1 119.9L249.2 119.9L249.3 119.8L249.4 119.7L249.5 119.7L249.5 119.7L249.6 119.6L249.7 119.5L249.8 119.5L249.9 119.4L250.1 119.3L250.2 119.3L250.3 119.2L250.4 119.2L250.5 119.1L250.6 119L250.6 119L250.7 119L250.8 118.9L251 118.8L251.1 118.8L251.2 118.7L251.3 118.6L251.4 118.6L251.5 118.5L251.6 118.5L251.7 118.4L251.7 118.4L251.9 118.3L252 118.3L252.1 118.2L252.2 118.2L252.3 118.1L252.4 118L252.5 118L252.6 117.9L252.7 117.9L252.9 117.8L252.9 117.8L253 117.8L253.1 117.7L253.2 117.7L253.3 117.6L253.4 117.5L253.5 117.5L253.6 117.4L253.8 117.4L253.9 117.3L254 117.3L254 117.3L254.1 117.2L254.2 117.2L254.3 117.1L254.4 117.1L254.5 117L254.7 117L254.8 116.9L254.9 116.9L255 116.8L255.1 116.8L255.1 116.8L256.2 116.3L257.3 115.9L258.5 115.6L259.6 115.3L260.7 115.1L261.8 115L262.9 114.9L264.1 114.9L265.2 115L266.3 115.2L267.4 115.4L268.5 115.6L269.7 116L270.8 116.4L271.9 116.8L273 117.3L274.1 117.8L275.3 118.4L276.4 119L277.5 119.6L278.6 120.3L279.7 120.9L280.9 121.6L282 122.3L283.1 123L284.2 123.7L285.3 124.4L286.5 125.1L287.6 125.8L288.7 126.5L289.8 127.1L290.9 127.8L292.1 128.5L293.2 129.1L294.3 129.7L295.4 130.3L296.5 130.9L297.7 131.5L298.8 132L299.9 132.6L301 133.1L302.1 133.6L303.3 134.1L304.4 134.6L305.5 135L306.6 135.5L307.7 135.9L308.9 136.3L310 136.7L311.1 137L312.2 137.4L313.3 137.7L314.5 138L315.6 138.3L316.7 138.6L317.8 138.9L318.9 139.1L320.1 139.4L321.2 139.6L322.3 139.8L323.4 140L324.5 140.2L325.7 140.4L326.8 140.5L327.9 140.7L329 140.8L330.1 141L331.3 141.1L332.4 141.2L333.5 141.3L334.6 141.4L335.7 141.5L336.9 141.5L338 141.6L339.1 141.7L340.2 141.7L341.3 141.8L342.5 141.8L343.6 141.8L344.7 141.8L345.8 141.8L346.9 141.8L348.1 141.8L349.2 141.8L350.3 141.8" fill="none" stroke="#3DB391" stroke-width="3" clip-path="url(#cp_ai)" stroke-linejoin="round"/>
<path d="M126.3 144.2L127.4 144.4L128.5 144.6L129.7 144.9L130.8 145.1L131.9 145.3L133 145.5L134.1 145.7L135.3 145.9L136.4 146.2L137.5 146.4L138.6 146.6L139.7 146.9L140.9 147.1L142 147.4L143.1 147.7L144.2 147.9L145.3 148.2L146.5 148.5L147.6 148.8L148.7 149L149.8 149.3L150.9 149.6L152.1 149.9L153.2 150.3L154.3 150.6L155.4 150.9L156.5 151.2L157.7 151.6L158.8 151.9L159.9 152.3L161 152.6L162.1 153L163.3 153.4L164.4 153.8L165.5 154.2L166.6 154.6L167.7 155L168.9 155.4L170 155.8L171.1 156.3L172.2 156.7L173.3 157.2L174.5 157.6L175.6 158.1L176.7 158.6L177.8 159.1L178.9 159.6L180.1 160.1L181.2 160.6L182.3 161.2L183.4 161.7L184.5 162.3L185.7 162.8L186.8 163.4L187.9 164L189 164.6L190.1 165.2L191.3 165.8L192.4 166.4L193.5 167.1L194.6 167.7L195.7 168.4L196.9 169L198 169.7L199.1 170.4L200.2 171.1L201.3 171.8L202.5 172.5L203.6 173.2L204.7 173.9L205.8 174.6L206.9 175.3L208.1 176.1L209.2 176.8L210.3 177.5L211.4 178.2L212.5 179L213.7 179.7L214.8 180.4L215.9 181.1L217 181.8L218.1 182.5L219.3 183.1L220.4 183.8L221.5 184.4L221.5 184.4L221.6 184.5L221.7 184.5L221.8 184.6L221.9 184.6L222.1 184.7L222.2 184.8L222.3 184.8L222.4 184.9L222.5 184.9L222.6 185L222.6 185L222.7 185.1L222.8 185.1L223 185.2L223.1 185.2L223.2 185.3L223.3 185.4L223.4 185.4L223.5 185.5L223.6 185.5L223.7 185.6L223.9 185.6L224 185.7L224.1 185.7L224.2 185.8L224.3 185.9L224.4 185.9L224.5 186L224.6 186L224.7 186.1L224.9 186.1L225 186.2L225.1 186.2L225.2 186.3L225.3 186.3L225.4 186.4L225.5 186.4L225.6 186.5L225.8 186.5L225.9 186.6L226 186.6L226.1 186.7L226.2 186.7L226.3 186.8L226.4 186.8L226.5 186.9L226.7 186.9L226.8 187L226.9 187L227 187.1L227.1 187.1L227.1 187.1L227.2 187.2L227.3 187.2L227.4 187.3L227.5 187.3L227.7 187.4L227.8 187.4L227.9 187.4L228 187.5L228.1 187.5L228.2 187.6L228.2 187.6L228.3 187.6L228.4 187.7L228.6 187.7L228.7 187.7L228.8 187.8L228.9 187.8L229 187.9L229.1 187.9L229.2 187.9L229.3 188L229.3 188L229.5 188L229.6 188.1L229.7 188.1L229.8 188.1L229.9 188.2L230 188.2L230.1 188.2L230.2 188.3L230.3 188.3L230.5 188.4L230.5 188.4L230.6 188.4L230.7 188.4L230.8 188.5L230.9 188.5L231 188.5L231.1 188.5L231.2 188.6L231.4 188.6L231.5 188.6L231.6 188.7L231.6 188.7L231.7 188.7L231.8 188.7L231.9 188.8L232 188.8L232.1 188.8L232.3 188.8L232.4 188.9L232.5 188.9L232.6 188.9L232.7 188.9L232.7 188.9L232.8 189L232.9 189L233 189L233.1 189L233.3 189.1L233.4 189.1L233.5 189.1L233.6 189.1L233.7 189.2L233.8 189.2L233.8 189.2L233.9 189.2L234 189.2L234.2 189.2L234.3 189.3L234.4 189.3L234.5 189.3L234.6 189.3L234.7 189.3L234.8 189.3L234.9 189.4L234.9 189.4L235.1 189.4L235.2 189.4L235.3 189.4L235.4 189.4L235.5 189.4L235.6 189.4L235.7 189.5L235.8 189.5L235.9 189.5L236.1 189.5L236.1 189.5L236.2 189.5L236.3 189.5L236.4 189.5L236.5 189.5L236.6 189.5L236.7 189.5L236.8 189.5L237 189.6L237.1 189.6L237.2 189.6L237.2 189.6L237.3 189.6L237.4 189.6L237.5 189.6L237.6 189.6L237.7 189.6L237.9 189.6L238 189.6L238.1 189.6L238.2 189.6L238.3 189.6L238.4 189.6L238.5 189.6L238.6 189.6L238.7 189.6L238.9 189.6L239 189.6L239.1 189.6L239.2 189.6L239.3 189.6L239.4 189.6L239.5 189.6L239.6 189.6L239.8 189.5L239.9 189.5L240 189.5L240.1 189.5L240.2 189.5L240.3 189.5L240.4 189.5L240.5 189.5L240.7 189.5L240.8 189.5L240.9 189.5L241 189.4L241.1 189.4L241.2 189.4L241.3 189.4L241.4 189.4L241.5 189.4L241.7 189.4L241.7 189.4L241.8 189.3L241.9 189.3L242 189.3L242.1 189.3L242.2 189.3L242.3 189.3L242.4 189.2L242.6 189.2L242.7 189.2L242.8 189.2L242.8 189.2L242.9 189.2L243 189.1L243.1 189.1L243.2 189.1L243.3 189.1L243.5 189L243.6 189L243.7 189L243.8 189L243.9 188.9L243.9 188.9L244 188.9L244.1 188.9L244.2 188.9L244.3 188.8L244.5 188.8L244.6 188.8L244.7 188.8L244.8 188.7L244.9 188.7L245 188.7L245 188.7L245.1 188.6L245.2 188.6L245.4 188.6L245.5 188.5L245.6 188.5L245.7 188.5L245.8 188.5L245.9 188.4L246 188.4L246.1 188.4L246.1 188.4L246.3 188.3L246.4 188.3L246.5 188.2L246.6 188.2L246.7 188.2L246.8 188.1L246.9 188.1L247 188.1L247.1 188L247.3 188L247.3 188L247.4 187.9L247.5 187.9L247.6 187.9L247.7 187.8L247.8 187.8L247.9 187.7L248 187.7L248.2 187.7L248.3 187.6L248.4 187.6L248.4 187.6L248.5 187.5L248.6 187.5L248.7 187.4L248.8 187.4L248.9 187.4L249.1 187.3L249.2 187.3L249.3 187.2L249.4 187.2L249.5 187.1L249.5 187.1L249.6 187.1L249.7 187L249.8 187L249.9 186.9L250.1 186.9L250.2 186.8L250.3 186.8L250.4 186.7L250.5 186.7L250.6 186.6L250.6 186.6L250.7 186.6L250.8 186.5L251 186.5L251.1 186.4L251.2 186.4L251.3 186.3L251.4 186.3L251.5 186.2L251.6 186.2L251.7 186.1L251.7 186.1L251.9 186.1L252 186L252.1 186L252.2 185.9L252.3 185.9L252.4 185.8L252.5 185.7L252.6 185.7L252.7 185.6L252.9 185.6L252.9 185.6L253 185.5L253.1 185.5L253.2 185.4L253.3 185.4L253.4 185.3L253.5 185.2L253.6 185.2L253.8 185.1L253.9 185.1L254 185L254 185L254.1 184.9L254.2 184.9L254.3 184.8L254.4 184.8L254.5 184.7L254.7 184.6L254.8 184.6L254.9 184.5L255 184.5L255.1 184.4L255.1 184.4L256.2 183.8L257.3 183.1L258.5 182.5L259.6 181.8L260.7 181.1L261.8 180.4L262.9 179.7L264.1 179L265.2 178.2L266.3 177.5L267.4 176.8L268.5 176.1L269.7 175.3L270.8 174.6L271.9 173.9L273 173.2L274.1 172.5L275.3 171.8L276.4 171.1L277.5 170.4L278.6 169.7L279.7 169L280.9 168.4L282 167.7L283.1 167.1L284.2 166.4L285.3 165.8L286.5 165.2L287.6 164.6L288.7 164L289.8 163.4L290.9 162.8L292.1 162.3L293.2 161.7L294.3 161.2L295.4 160.6L296.5 160.1L297.7 159.6L298.8 159.1L299.9 158.6L301 158.1L302.1 157.6L303.3 157.2L304.4 156.7L305.5 156.3L306.6 155.8L307.7 155.4L308.9 155L310 154.6L311.1 154.2L312.2 153.8L313.3 153.4L314.5 153L315.6 152.6L316.7 152.3L317.8 151.9L318.9 151.6L320.1 151.2L321.2 150.9L322.3 150.6L323.4 150.3L324.5 149.9L325.7 149.6L326.8 149.3L327.9 149L329 148.8L330.1 148.5L331.3 148.2L332.4 147.9L333.5 147.7L334.6 147.4L335.7 147.1L336.9 146.9L338 146.6L339.1 146.4L340.2 146.2L341.3 145.9L342.5 145.7L343.6 145.5L344.7 145.3L345.8 145.1L346.9 144.9L348.1 144.6L349.2 144.4L350.3 144.2" fill="none" stroke="#1F4A7C" stroke-width="3" stroke-dasharray="13.4 13.4" clip-path="url(#cp_ai)" stroke-linejoin="round"/>
<rect x="126.3" y="49.1" width="224" height="166.2" fill="none" stroke="#5a5a5a" stroke-width="1.0"/>
<path d="M126.3 215.3v-3M126.3 49.1v3M182.3 215.3v-3M182.3 49.1v3M238.3 215.3v-3M238.3 49.1v3M294.3 215.3v-3M294.3 49.1v3M350.3 215.3v-3M350.3 49.1v3" stroke="#5a5a5a" stroke-width="1.0" fill="none"/>
<path d="M126.3 215.3h3M350.3 215.3h-3M126.3 150.4h3M350.3 150.4h-3M126.3 85.5h3M350.3 85.5h-3" stroke="#5a5a5a" stroke-width="1.0" fill="none"/>
<path d="M126.3 195.8h1.5M350.3 195.8h-1.5M126.3 184.3h1.5M350.3 184.3h-1.5M126.3 176.2h1.5M350.3 176.2h-1.5M126.3 169.9h1.5M350.3 169.9h-1.5M126.3 164.8h1.5M350.3 164.8h-1.5M126.3 160.5h1.5M350.3 160.5h-1.5M126.3 156.7h1.5M350.3 156.7h-1.5M126.3 153.4h1.5M350.3 153.4h-1.5M126.3 130.9h1.5M350.3 130.9h-1.5M126.3 119.4h1.5M350.3 119.4h-1.5M126.3 111.3h1.5M350.3 111.3h-1.5M126.3 105h1.5M350.3 105h-1.5M126.3 99.9h1.5M350.3 99.9h-1.5M126.3 95.6h1.5M350.3 95.6h-1.5M126.3 91.8h1.5M350.3 91.8h-1.5M126.3 88.5h1.5M350.3 88.5h-1.5M126.3 66h1.5M350.3 66h-1.5M126.3 54.5h1.5M350.3 54.5h-1.5" stroke="#5a5a5a" stroke-width="1.0" fill="none"/>
<text x="126.3" y="230.2" font-size="15.1" text-anchor="middle">-1.0</text>
<text x="182.3" y="230.2" font-size="15.1" text-anchor="middle">-0.5</text>
<text x="238.3" y="230.2" font-size="15.1" text-anchor="middle">0</text>
<text x="294.3" y="230.2" font-size="15.1" text-anchor="middle">0.5</text>
<text x="350.3" y="230.2" font-size="15.1" text-anchor="middle">1.0</text>
<text x="123" y="91" font-size="14.5" text-anchor="end">10<tspan dy="-6.5" font-size="10.5">-1</tspan><tspan dy="6.5" font-size="14.5">&#8203;</tspan></text>
<text x="123" y="155.9" font-size="14.5" text-anchor="end">10<tspan dy="-6.5" font-size="10.5">-2</tspan><tspan dy="6.5" font-size="14.5">&#8203;</tspan></text>
<text x="123" y="220.8" font-size="14.5" text-anchor="end">10<tspan dy="-6.5" font-size="10.5">-3</tspan><tspan dy="6.5" font-size="14.5">&#8203;</tspan></text>
<text transform="matrix(0.2362 0 0 0.1983 209.36 255.20)" font-size="100" font-family='"Liberation Serif", serif'>Δ</text>
<text transform="matrix(0.1447 0 0 0.1470 226.05 260.89)" font-size="100" font-family='"Liberation Sans", sans-serif' font-style="italic">L</text>
<text transform="matrix(0.1747 0 0 0.1743 238.05 255.20)" font-size="100" font-family='"Liberation Sans", sans-serif'>/</text>
<text transform="matrix(0.2463 0 0 0.2229 246.97 255.02)" font-size="100" font-family='"Liberation Serif", serif' font-style="italic">κ</text>
<text transform="matrix(0.1326 0 0 0.1391 260.05 259.15)" font-size="100" font-family='"Liberation Sans", sans-serif'>a</text>
<text x="333.5" y="250.2" font-size="13" text-anchor="middle">&#215;10<tspan dy="-6" font-size="10.5">-3</tspan><tspan dy="6" font-size="13">&#8203;</tspan></text>
<path d="M760.6 447.5v-5.5M760.6 42v5.5M894.9 447.5v-5.5M894.9 42v5.5M1029.1 447.5v-5.5M1029.1 42v5.5M1163.3 447.5v-5.5M1163.3 42v5.5M1297.6 447.5v-5.5M1297.6 42v5.5" stroke="#5a5a5a" stroke-width="1.0" fill="none"/>
<path d="M760.6 396.8h5.5M1297.6 396.8h-5.5M760.6 295.4h5.5M1297.6 295.4h-5.5M760.6 194.1h5.5M1297.6 194.1h-5.5M760.6 92.7h5.5M1297.6 92.7h-5.5" stroke="#5a5a5a" stroke-width="1.0" fill="none"/>
<path d="M760.6 346.1h3M1297.6 346.1h-3M760.6 244.7h3M1297.6 244.7h-3M760.6 143.4h3M1297.6 143.4h-3" stroke="#5a5a5a" stroke-width="1.0" fill="none"/>
<path d="M760.6 393.5L763.3 393.4L766 393.4L768.7 393.4L771.3 393.3L774 393.3L776.7 393.2L779.4 393.2L782.1 393.2L784.8 393.1L787.5 393.1L790.1 393L792.8 393L795.5 392.9L798.2 392.9L800.9 392.8L803.6 392.8L806.2 392.7L808.9 392.6L811.6 392.6L814.3 392.5L817 392.4L819.7 392.4L822.4 392.3L825 392.2L827.7 392.1L830.4 392.1L833.1 392L835.8 391.9L838.5 391.8L841.1 391.7L843.8 391.6L846.5 391.5L849.2 391.4L851.9 391.3L854.6 391.2L857.3 391L859.9 390.9L862.6 390.8L865.3 390.6L868 390.5L870.7 390.3L873.4 390.1L876.1 390L878.7 389.8L881.4 389.6L884.1 389.4L886.8 389.2L889.5 388.9L892.2 388.7L894.9 388.4L897.5 388.2L900.2 387.9L902.9 387.6L905.6 387.2L908.3 386.9L911 386.5L913.6 386.1L916.3 385.7L919 385.2L921.7 384.8L924.4 384.2L927.1 383.7L929.8 383.1L932.4 382.4L935.1 381.7L937.8 380.9L940.5 380.1L943.2 379.2L945.9 378.2L948.5 377.1L951.2 375.9L953.9 374.6L956.6 373.2L959.3 371.6L962 369.8L964.7 367.9L967.3 365.7L970 363.2L972.7 360.4L975.4 357.3L978.1 353.8L980.8 349.8L983.5 345.1L986.1 339.9L988.8 333.8L991.5 326.7L994.2 318.5L996.9 308.9L999.6 297.7L1002.2 284.6L1004.9 269.3L1007.6 251.5L1010.3 231L1013 207.9L1015.7 182.5L1018.4 156L1021 130.4L1023.7 108.4L1026.4 93.4L1029.1 88L1031.8 93.4L1034.5 108.4L1037.2 130.4L1039.8 156L1042.5 182.5L1045.2 207.9L1047.9 231L1050.6 251.5L1053.3 269.3L1055.9 284.6L1058.6 297.7L1061.3 308.9L1064 318.5L1066.7 326.7L1069.4 333.8L1072.1 339.9L1074.7 345.1L1077.4 349.8L1080.1 353.8L1082.8 357.3L1085.5 360.4L1088.2 363.2L1090.9 365.7L1093.5 367.9L1096.2 369.8L1098.9 371.6L1101.6 373.2L1104.3 374.6L1107 375.9L1109.7 377.1L1112.3 378.2L1115 379.2L1117.7 380.1L1120.4 380.9L1123.1 381.7L1125.8 382.4L1128.4 383.1L1131.1 383.7L1133.8 384.2L1136.5 384.8L1139.2 385.2L1141.9 385.7L1144.6 386.1L1147.2 386.5L1149.9 386.9L1152.6 387.2L1155.3 387.6L1158 387.9L1160.7 388.2L1163.3 388.4L1166 388.7L1168.7 388.9L1171.4 389.2L1174.1 389.4L1176.8 389.6L1179.5 389.8L1182.1 390L1184.8 390.1L1187.5 390.3L1190.2 390.5L1192.9 390.6L1195.6 390.8L1198.3 390.9L1200.9 391L1203.6 391.2L1206.3 391.3L1209 391.4L1211.7 391.5L1214.4 391.6L1217 391.7L1219.7 391.8L1222.4 391.9L1225.1 392L1227.8 392.1L1230.5 392.1L1233.2 392.2L1235.8 392.3L1238.5 392.4L1241.2 392.4L1243.9 392.5L1246.6 392.6L1249.3 392.6L1252 392.7L1254.6 392.8L1257.3 392.8L1260 392.9L1262.7 392.9L1265.4 393L1268.1 393L1270.8 393.1L1273.4 393.1L1276.1 393.2L1278.8 393.2L1281.5 393.2L1284.2 393.3L1286.9 393.3L1289.5 393.4L1292.2 393.4L1294.9 393.4L1297.6 393.5" fill="none" stroke="#E0446C" stroke-width="3.2" clip-path="url(#cp_b)" stroke-linejoin="round"/>
<path d="M760.6 376.5L1297.6 376.5" fill="none" stroke="#F5C31C" stroke-width="3.2" clip-path="url(#cp_b)" stroke-linejoin="round"/>
<path d="M760.6 413.7L763.3 413.7L766 413.7L768.7 413.6L771.3 413.6L774 413.6L776.7 413.5L779.4 413.5L782.1 413.4L784.8 413.4L787.5 413.3L790.1 413.3L792.8 413.3L795.5 413.2L798.2 413.1L800.9 413.1L803.6 413L806.2 413L808.9 412.9L811.6 412.9L814.3 412.8L817 412.7L819.7 412.7L822.4 412.6L825 412.5L827.7 412.4L830.4 412.3L833.1 412.3L835.8 412.2L838.5 412.1L841.1 412L843.8 411.9L846.5 411.8L849.2 411.7L851.9 411.5L854.6 411.4L857.3 411.3L859.9 411.2L862.6 411L865.3 410.9L868 410.7L870.7 410.6L873.4 410.4L876.1 410.2L878.7 410.1L881.4 409.9L884.1 409.7L886.8 409.4L889.5 409.2L892.2 409L894.9 408.7L897.5 408.4L900.2 408.1L902.9 407.8L905.6 407.5L908.3 407.2L911 406.8L913.6 406.4L916.3 406L919 405.5L921.7 405L924.4 404.5L927.1 403.9L929.8 403.3L932.4 402.7L935.1 402L937.8 401.2L940.5 400.4L943.2 399.5L945.9 398.5L948.5 397.4L951.2 396.2L953.9 394.9L956.6 393.5L959.3 391.9L962 390.1L964.7 388.1L967.3 385.9L970 383.5L972.7 380.7L975.4 377.6L978.1 374.1L980.8 370L983.5 365.4L986.1 360.1L988.8 354L991.5 347L994.2 338.8L996.9 329.2L999.6 318L1002.2 304.9L1004.9 289.6L1007.6 271.8L1010.3 251.3L1013 228.2L1015.7 202.8L1018.4 176.3L1021 150.7L1023.7 128.7L1026.4 113.7L1029.1 108.3L1031.8 113.7L1034.5 128.7L1037.2 150.7L1039.8 176.3L1042.5 202.8L1045.2 228.2L1047.9 251.3L1050.6 271.8L1053.3 289.6L1055.9 304.9L1058.6 318L1061.3 329.2L1064 338.8L1066.7 347L1069.4 354L1072.1 360.1L1074.7 365.4L1077.4 370L1080.1 374.1L1082.8 377.6L1085.5 380.7L1088.2 383.5L1090.9 385.9L1093.5 388.1L1096.2 390.1L1098.9 391.9L1101.6 393.5L1104.3 394.9L1107 396.2L1109.7 397.4L1112.3 398.5L1115 399.5L1117.7 400.4L1120.4 401.2L1123.1 402L1125.8 402.7L1128.4 403.3L1131.1 403.9L1133.8 404.5L1136.5 405L1139.2 405.5L1141.9 406L1144.6 406.4L1147.2 406.8L1149.9 407.2L1152.6 407.5L1155.3 407.8L1158 408.1L1160.7 408.4L1163.3 408.7L1166 409L1168.7 409.2L1171.4 409.4L1174.1 409.7L1176.8 409.9L1179.5 410.1L1182.1 410.2L1184.8 410.4L1187.5 410.6L1190.2 410.7L1192.9 410.9L1195.6 411L1198.3 411.2L1200.9 411.3L1203.6 411.4L1206.3 411.5L1209 411.7L1211.7 411.8L1214.4 411.9L1217 412L1219.7 412.1L1222.4 412.2L1225.1 412.3L1227.8 412.3L1230.5 412.4L1233.2 412.5L1235.8 412.6L1238.5 412.7L1241.2 412.7L1243.9 412.8L1246.6 412.9L1249.3 412.9L1252 413L1254.6 413L1257.3 413.1L1260 413.1L1262.7 413.2L1265.4 413.3L1268.1 413.3L1270.8 413.3L1273.4 413.4L1276.1 413.4L1278.8 413.5L1281.5 413.5L1284.2 413.6L1286.9 413.6L1289.5 413.6L1292.2 413.7L1294.9 413.7L1297.6 413.7" fill="none" stroke="#3DB391" stroke-width="3.2" clip-path="url(#cp_b)" stroke-linejoin="round"/>
<path d="M760.6 394.2L1297.6 394.2" fill="none" stroke="#1F4A7C" stroke-width="3.2" stroke-dasharray="13.4 13.4" clip-path="url(#cp_b)" stroke-linejoin="round"/>
<rect x="760.6" y="42" width="537" height="405.5" fill="none" stroke="#5a5a5a" stroke-width="1.0"/>
<text x="760.6" y="479.6" font-size="27.0" text-anchor="middle">-0.4</text>
<text x="894.9" y="479.6" font-size="27.0" text-anchor="middle">-0.2</text>
<text x="1029.1" y="479.6" font-size="27.0" text-anchor="middle">0</text>
<text x="1163.3" y="479.6" font-size="27.0" text-anchor="middle">0.2</text>
<text x="1297.6" y="479.6" font-size="27.0" text-anchor="middle">0.4</text>
<text x="750" y="406.3" font-size="27.0" text-anchor="end">0</text>
<text x="750" y="304.9" font-size="27.0" text-anchor="end">0.1</text>
<text x="750" y="203.6" font-size="27.0" text-anchor="end">0.2</text>
<text x="750" y="102.2" font-size="27.0" text-anchor="end">0.3</text>
<text transform="translate(696.5 246.2) rotate(-90)" font-size="30.2" text-anchor="middle">Normalized scattering intensity</text>
<text transform="matrix(0.3982 0 0 0.3344 978.41 516.50)" font-size="100" font-family='"Liberation Serif", serif' stroke="#fff" stroke-width="1.91">Δ</text>
<text transform="matrix(0.2440 0 0 0.2478 1006.57 526.10)" font-size="100" font-family='"Liberation Sans", sans-serif' font-style="italic">L</text>
<text transform="matrix(0.2945 0 0 0.2939 1026.80 516.51)" font-size="100" font-family='"Liberation Sans", sans-serif'>/</text>
<text transform="matrix(0.4154 0 0 0.3758 1041.85 516.20)" font-size="100" font-family='"Liberation Serif", serif' font-style="italic" stroke="#fff" stroke-width="1.26">κ</text>
<text transform="matrix(0.2651 0 0 0.2345 1063.71 523.17)" font-size="100" font-family='"Liberation Sans", sans-serif'>c</text>
<text transform="matrix(0.3649 0 0 0.3160 993.04 26.16)" font-size="100" font-family='"Liberation Serif", serif' font-style="italic" stroke="#fff" stroke-width="1.76">ϕ</text>
<text x="1020.8" y="28.3" font-size="31.2" text-anchor="start">= 0</text>
<text x="1287.7" y="25.7" font-size="36" text-anchor="middle" fill="#231815">(b)</text>
<path d="M1080.2 87.7H1122.4" stroke="#E0446C" stroke-width="3.2"/>
<text x="1134.3" y="96.6" font-size="23.3" text-anchor="start">Total</text>
<path d="M1080.2 117.1H1122.4" stroke="#F5C31C" stroke-width="3.2"/>
<text x="1134.3" y="126" font-size="23.3" text-anchor="start">Superradiant</text>
<path d="M1080.2 146.5H1122.4" stroke="#3DB391" stroke-width="3.2"/>
<text x="1134.3" y="155.4" font-size="23.3" text-anchor="start">Other</text>
<path d="M1080.2 175.9H1122.4" stroke="#1F4A7C" stroke-width="3.2" stroke-dasharray="13.4 13.4"/>
<text x="1134.3" y="184.8" font-size="23.3" text-anchor="start">w/o CEP</text>
<path d="M1438.4 447.6v-5.5M1438.4 42v5.5M1573.4 447.6v-5.5M1573.4 42v5.5M1708.5 447.6v-5.5M1708.5 42v5.5M1843.5 447.6v-5.5M1843.5 42v5.5M1978.5 447.6v-5.5M1978.5 42v5.5" stroke="#5a5a5a" stroke-width="1.0" fill="none"/>
<path d="M1438.4 366.5h5.5M1978.5 366.5h-5.5M1438.4 285.4h5.5M1978.5 285.4h-5.5M1438.4 204.2h5.5M1978.5 204.2h-5.5M1438.4 123.1h5.5M1978.5 123.1h-5.5" stroke="#5a5a5a" stroke-width="1.0" fill="none"/>
<path d="M1438.4 123.7L1978.5 123.7" fill="none" stroke="#F5C31C" stroke-width="3.2" clip-path="url(#cp_c)" stroke-linejoin="round"/>
<path d="M1438.4 141.8L1439.8 141.9L1441.1 142L1442.5 142.2L1443.8 142.3L1445.2 142.4L1446.5 142.6L1447.9 142.7L1449.2 142.8L1450.6 143L1451.9 143.1L1453.3 143.3L1454.6 143.4L1456 143.5L1457.3 143.7L1458.7 143.8L1460 144L1461.4 144.1L1462.7 144.3L1464.1 144.4L1465.4 144.6L1466.8 144.7L1468.1 144.9L1469.5 145L1470.8 145.2L1472.2 145.4L1473.5 145.5L1474.9 145.7L1476.2 145.8L1477.6 146L1478.9 146.2L1480.3 146.3L1481.6 146.5L1483 146.7L1484.3 146.8L1485.7 147L1487 147.2L1488.4 147.4L1489.7 147.5L1491.1 147.7L1492.4 147.9L1493.8 148.1L1495.1 148.2L1496.5 148.4L1497.8 148.6L1499.2 148.8L1500.5 149L1501.9 149.2L1503.2 149.4L1504.6 149.5L1505.9 149.7L1507.3 149.9L1508.6 150.1L1510 150.3L1511.3 150.5L1512.7 150.7L1514 150.9L1515.4 151.1L1516.7 151.3L1518.1 151.5L1519.4 151.7L1520.8 151.9L1522.1 152.1L1523.5 152.3L1524.8 152.6L1526.2 152.8L1527.5 153L1528.9 153.2L1530.2 153.4L1531.6 153.6L1532.9 153.8L1534.3 154.1L1535.6 154.3L1537 154.5L1538.3 154.7L1539.7 155L1541 155.2L1542.4 155.4L1543.7 155.6L1545.1 155.9L1546.4 156.1L1547.8 156.3L1549.1 156.6L1550.5 156.8L1551.8 157L1553.2 157.3L1554.5 157.5L1555.9 157.8L1557.2 158L1558.6 158.2L1559.9 158.5L1561.3 158.7L1562.6 159L1564 159.2L1565.3 159.5L1566.7 159.7L1568 160L1569.4 160.2L1570.7 160.5L1572.1 160.7L1573.4 161L1574.8 161.3L1576.1 161.5L1577.5 161.8L1578.8 162L1580.2 162.3L1581.5 162.6L1582.9 162.8L1584.2 163.1L1585.6 163.4L1586.9 163.6L1588.3 163.9L1589.6 164.2L1591 164.5L1592.3 164.8L1593.7 165L1595 165.3L1596.4 165.6L1597.7 165.9L1599.1 166.2L1600.4 166.5L1601.8 166.8L1603.1 167.1L1604.5 167.3L1605.8 167.6L1607.2 167.9L1608.5 168.2L1609.9 168.4L1611.2 168.7L1612.6 168.9L1613.9 169.1L1615.3 169.3L1616.6 169.5L1618 169.6L1619.3 169.8L1620.7 169.9L1622 170L1623.4 170.1L1624.7 170.1L1626.1 170.2L1627.4 170.2L1628.8 170.1L1630.1 170.1L1631.5 170L1632.8 169.9L1634.2 169.8L1635.5 169.6L1636.9 169.4L1638.2 169.2L1639.6 168.9L1640.9 168.6L1642.3 168.3L1643.6 167.9L1645 167.4L1646.3 166.9L1647.7 166.3L1649 165.6L1650.4 164.9L1651.7 164L1653.1 163.1L1654.4 162.2L1655.8 161.2L1657.1 160.2L1658.5 159.1L1659.8 158.1L1661.2 157.2L1662.5 156.3L1663.9 155.5L1665.2 154.8L1666.6 154.2L1667.9 153.8L1669.3 153.5L1670.6 153.4L1672 153.5L1673.3 153.7L1674.7 154.3L1676 155.2L1677.4 156.4L1678.7 157.9L1680.1 159.8L1681.4 162.1L1682.8 164.7L1684.1 167.5L1685.5 170.7L1686.8 174.1L1688.2 177.6L1689.5 181.3L1690.9 185L1692.2 188.8L1693.6 192.4L1694.9 195.8L1696.3 198.8L1697.6 201.5L1699 203.9L1700.3 206.1L1701.7 208.1L1703 210.1L1704.4 212.1L1705.7 214.1L1707.1 216L1708.5 217.9L1709.8 219.6L1711.2 221.1L1712.5 222.5L1713.9 223.8L1715.2 225L1716.6 226.1L1717.9 227.1L1719.3 228L1720.6 228.7L1722 229.5L1723.3 230.1L1724.7 230.7L1726 231.2L1727.4 231.7L1728.7 232.1L1730.1 232.5L1731.4 232.9L1732.8 233.2L1734.1 233.5L1735.5 233.7L1736.8 233.9L1738.2 234L1739.5 234.2L1740.9 234.2L1742.2 234.3L1743.6 234.2L1744.9 234.2L1746.3 234.1L1747.6 234L1749 233.8L1750.3 233.6L1751.7 233.4L1753 233.2L1754.4 232.9L1755.7 232.6L1757.1 232.3L1758.4 232L1759.8 231.7L1761.1 231.3L1762.5 230.9L1763.8 230.5L1765.2 230.1L1766.5 229.7L1767.9 229.2L1769.2 228.7L1770.6 228.2L1771.9 227.7L1773.3 227.1L1774.6 226.6L1776 226L1777.3 225.4L1778.7 224.7L1780 224.1L1781.4 223.4L1782.7 222.8L1784.1 222.1L1785.4 221.4L1786.8 220.7L1788.1 220L1789.5 219.3L1790.8 218.5L1792.2 217.8L1793.5 217.1L1794.9 216.3L1796.2 215.6L1797.6 214.8L1798.9 214.1L1800.3 213.3L1801.6 212.6L1803 211.8L1804.3 211L1805.7 210.3L1807 209.5L1808.4 208.8L1809.7 208L1811.1 207.2L1812.4 206.5L1813.8 205.7L1815.1 205L1816.5 204.2L1817.8 203.5L1819.2 202.8L1820.5 202L1821.9 201.3L1823.2 200.6L1824.6 199.9L1825.9 199.1L1827.3 198.4L1828.6 197.7L1830 197L1831.3 196.3L1832.7 195.6L1834 194.9L1835.4 194.3L1836.7 193.6L1838.1 192.9L1839.4 192.2L1840.8 191.6L1842.1 190.9L1843.5 190.3L1844.8 189.6L1846.2 189L1847.5 188.4L1848.9 187.7L1850.2 187.1L1851.6 186.5L1852.9 185.9L1854.3 185.3L1855.6 184.7L1857 184.1L1858.3 183.5L1859.7 182.9L1861 182.3L1862.4 181.7L1863.7 181.2L1865.1 180.6L1866.4 180L1867.8 179.5L1869.1 178.9L1870.5 178.4L1871.8 177.8L1873.2 177.3L1874.5 176.7L1875.9 176.2L1877.2 175.7L1878.6 175.2L1879.9 174.6L1881.3 174.1L1882.6 173.6L1884 173.1L1885.3 172.6L1886.7 172.1L1888 171.6L1889.4 171.1L1890.7 170.7L1892.1 170.2L1893.4 169.7L1894.8 169.3L1896.1 168.8L1897.5 168.3L1898.8 167.9L1900.2 167.4L1901.5 167L1902.9 166.6L1904.2 166.1L1905.6 165.7L1906.9 165.3L1908.3 164.9L1909.6 164.4L1911 164L1912.3 163.6L1913.7 163.2L1915 162.9L1916.4 162.5L1917.7 162.1L1919.1 161.7L1920.4 161.3L1921.8 161L1923.1 160.6L1924.5 160.2L1925.8 159.9L1927.2 159.5L1928.5 159.2L1929.9 158.9L1931.2 158.5L1932.6 158.2L1933.9 157.9L1935.3 157.6L1936.6 157.3L1938 157L1939.3 156.7L1940.7 156.4L1942 156.1L1943.4 155.8L1944.7 155.5L1946.1 155.2L1947.4 154.9L1948.8 154.7L1950.1 154.4L1951.5 154.1L1952.8 153.9L1954.2 153.6L1955.5 153.4L1956.9 153.1L1958.2 152.9L1959.6 152.7L1960.9 152.5L1962.3 152.2L1963.6 152L1965 151.8L1966.3 151.6L1967.7 151.4L1969 151.2L1970.4 151L1971.7 150.8L1973.1 150.6L1974.4 150.4L1975.8 150.2L1977.1 150.1L1978.5 149.9" fill="none" stroke="#E0446C" stroke-width="3.2" clip-path="url(#cp_c)" stroke-linejoin="round"/>
<path d="M1438.4 304L1439.8 304.1L1441.1 304.3L1442.5 304.4L1443.8 304.5L1445.2 304.7L1446.5 304.8L1447.9 304.9L1449.2 305.1L1450.6 305.2L1451.9 305.4L1453.3 305.5L1454.6 305.6L1456 305.8L1457.3 305.9L1458.7 306.1L1460 306.2L1461.4 306.4L1462.7 306.5L1464.1 306.7L1465.4 306.8L1466.8 307L1468.1 307.1L1469.5 307.3L1470.8 307.4L1472.2 307.6L1473.5 307.8L1474.9 307.9L1476.2 308.1L1477.6 308.2L1478.9 308.4L1480.3 308.6L1481.6 308.7L1483 308.9L1484.3 309.1L1485.7 309.2L1487 309.4L1488.4 309.6L1489.7 309.8L1491.1 309.9L1492.4 310.1L1493.8 310.3L1495.1 310.5L1496.5 310.7L1497.8 310.8L1499.2 311L1500.5 311.2L1501.9 311.4L1503.2 311.6L1504.6 311.8L1505.9 312L1507.3 312.2L1508.6 312.4L1510 312.6L1511.3 312.8L1512.7 313L1514 313.2L1515.4 313.4L1516.7 313.6L1518.1 313.8L1519.4 314L1520.8 314.2L1522.1 314.4L1523.5 314.6L1524.8 314.8L1526.2 315L1527.5 315.2L1528.9 315.4L1530.2 315.6L1531.6 315.9L1532.9 316.1L1534.3 316.3L1535.6 316.5L1537 316.7L1538.3 317L1539.7 317.2L1541 317.4L1542.4 317.6L1543.7 317.9L1545.1 318.1L1546.4 318.3L1547.8 318.6L1549.1 318.8L1550.5 319L1551.8 319.3L1553.2 319.5L1554.5 319.8L1555.9 320L1557.2 320.2L1558.6 320.5L1559.9 320.7L1561.3 321L1562.6 321.2L1564 321.5L1565.3 321.7L1566.7 322L1568 322.2L1569.4 322.5L1570.7 322.7L1572.1 323L1573.4 323.2L1574.8 323.5L1576.1 323.8L1577.5 324L1578.8 324.3L1580.2 324.5L1581.5 324.8L1582.9 325.1L1584.2 325.3L1585.6 325.6L1586.9 325.9L1588.3 326.2L1589.6 326.4L1591 326.7L1592.3 327L1593.7 327.3L1595 327.6L1596.4 327.8L1597.7 328.1L1599.1 328.4L1600.4 328.7L1601.8 329L1603.1 329.3L1604.5 329.6L1605.8 329.9L1607.2 330.1L1608.5 330.4L1609.9 330.6L1611.2 330.9L1612.6 331.1L1613.9 331.3L1615.3 331.5L1616.6 331.7L1618 331.9L1619.3 332L1620.7 332.1L1622 332.2L1623.4 332.3L1624.7 332.4L1626.1 332.4L1627.4 332.4L1628.8 332.4L1630.1 332.3L1631.5 332.3L1632.8 332.1L1634.2 332L1635.5 331.8L1636.9 331.6L1638.2 331.4L1639.6 331.1L1640.9 330.8L1642.3 330.5L1643.6 330.1L1645 329.7L1646.3 329.1L1647.7 328.6L1649 327.9L1650.4 327.1L1651.7 326.3L1653.1 325.3L1654.4 324.4L1655.8 323.4L1657.1 322.4L1658.5 321.4L1659.8 320.4L1661.2 319.4L1662.5 318.5L1663.9 317.7L1665.2 317L1666.6 316.4L1667.9 316L1669.3 315.7L1670.6 315.6L1672 315.7L1673.3 316L1674.7 316.5L1676 317.4L1677.4 318.6L1678.7 320.2L1680.1 322.1L1681.4 324.3L1682.8 326.9L1684.1 329.8L1685.5 332.9L1686.8 336.3L1688.2 339.8L1689.5 343.5L1690.9 347.3L1692.2 351L1693.6 354.6L1694.9 358L1696.3 361.1L1697.6 363.7L1699 366.1L1700.3 368.3L1701.7 370.3L1703 372.3L1704.4 374.3L1705.7 376.3L1707.1 378.3L1708.5 380.1L1709.8 381.8L1711.2 383.4L1712.5 384.8L1713.9 386.1L1715.2 387.3L1716.6 388.3L1717.9 389.3L1719.3 390.2L1720.6 391L1722 391.7L1723.3 392.3L1724.7 392.9L1726 393.4L1727.4 393.9L1728.7 394.4L1730.1 394.7L1731.4 395.1L1732.8 395.4L1734.1 395.7L1735.5 395.9L1736.8 396.1L1738.2 396.3L1739.5 396.4L1740.9 396.5L1742.2 396.5L1743.6 396.5L1744.9 396.4L1746.3 396.3L1747.6 396.2L1749 396.1L1750.3 395.9L1751.7 395.7L1753 395.4L1754.4 395.1L1755.7 394.9L1757.1 394.6L1758.4 394.2L1759.8 393.9L1761.1 393.6L1762.5 393.2L1763.8 392.8L1765.2 392.4L1766.5 391.9L1767.9 391.5L1769.2 391L1770.6 390.5L1771.9 389.9L1773.3 389.4L1774.6 388.8L1776 388.2L1777.3 387.6L1778.7 387L1780 386.3L1781.4 385.7L1782.7 385L1784.1 384.3L1785.4 383.6L1786.8 382.9L1788.1 382.2L1789.5 381.5L1790.8 380.8L1792.2 380.1L1793.5 379.3L1794.9 378.6L1796.2 377.8L1797.6 377.1L1798.9 376.3L1800.3 375.6L1801.6 374.8L1803 374L1804.3 373.3L1805.7 372.5L1807 371.8L1808.4 371L1809.7 370.2L1811.1 369.5L1812.4 368.7L1813.8 368L1815.1 367.2L1816.5 366.5L1817.8 365.7L1819.2 365L1820.5 364.3L1821.9 363.5L1823.2 362.8L1824.6 362.1L1825.9 361.4L1827.3 360.7L1828.6 360L1830 359.3L1831.3 358.6L1832.7 357.9L1834 357.2L1835.4 356.5L1836.7 355.8L1838.1 355.1L1839.4 354.5L1840.8 353.8L1842.1 353.2L1843.5 352.5L1844.8 351.9L1846.2 351.2L1847.5 350.6L1848.9 350L1850.2 349.4L1851.6 348.7L1852.9 348.1L1854.3 347.5L1855.6 346.9L1857 346.3L1858.3 345.7L1859.7 345.1L1861 344.6L1862.4 344L1863.7 343.4L1865.1 342.8L1866.4 342.3L1867.8 341.7L1869.1 341.2L1870.5 340.6L1871.8 340.1L1873.2 339.5L1874.5 339L1875.9 338.5L1877.2 337.9L1878.6 337.4L1879.9 336.9L1881.3 336.4L1882.6 335.9L1884 335.4L1885.3 334.9L1886.7 334.4L1888 333.9L1889.4 333.4L1890.7 332.9L1892.1 332.4L1893.4 332L1894.8 331.5L1896.1 331L1897.5 330.6L1898.8 330.1L1900.2 329.7L1901.5 329.2L1902.9 328.8L1904.2 328.4L1905.6 327.9L1906.9 327.5L1908.3 327.1L1909.6 326.7L1911 326.3L1912.3 325.9L1913.7 325.5L1915 325.1L1916.4 324.7L1917.7 324.3L1919.1 323.9L1920.4 323.6L1921.8 323.2L1923.1 322.8L1924.5 322.5L1925.8 322.1L1927.2 321.8L1928.5 321.4L1929.9 321.1L1931.2 320.8L1932.6 320.5L1933.9 320.1L1935.3 319.8L1936.6 319.5L1938 319.2L1939.3 318.9L1940.7 318.6L1942 318.3L1943.4 318L1944.7 317.7L1946.1 317.4L1947.4 317.2L1948.8 316.9L1950.1 316.6L1951.5 316.4L1952.8 316.1L1954.2 315.9L1955.5 315.6L1956.9 315.4L1958.2 315.2L1959.6 314.9L1960.9 314.7L1962.3 314.5L1963.6 314.2L1965 314L1966.3 313.8L1967.7 313.6L1969 313.4L1970.4 313.2L1971.7 313L1973.1 312.8L1974.4 312.7L1975.8 312.5L1977.1 312.3L1978.5 312.1" fill="none" stroke="#3DB391" stroke-width="3.2" clip-path="url(#cp_c)" stroke-linejoin="round"/>
<path d="M1438.4 139.8L1439.8 140L1441.1 140.1L1442.5 140.2L1443.8 140.4L1445.2 140.5L1446.5 140.7L1447.9 140.8L1449.2 141L1450.6 141.1L1451.9 141.3L1453.3 141.4L1454.6 141.6L1456 141.7L1457.3 141.9L1458.7 142.1L1460 142.2L1461.4 142.4L1462.7 142.5L1464.1 142.7L1465.4 142.9L1466.8 143.1L1468.1 143.2L1469.5 143.4L1470.8 143.6L1472.2 143.8L1473.5 143.9L1474.9 144.1L1476.2 144.3L1477.6 144.5L1478.9 144.7L1480.3 144.9L1481.6 145.1L1483 145.3L1484.3 145.5L1485.7 145.7L1487 145.9L1488.4 146.1L1489.7 146.3L1491.1 146.5L1492.4 146.7L1493.8 147L1495.1 147.2L1496.5 147.4L1497.8 147.6L1499.2 147.9L1500.5 148.1L1501.9 148.3L1503.2 148.6L1504.6 148.8L1505.9 149L1507.3 149.3L1508.6 149.5L1510 149.8L1511.3 150.1L1512.7 150.3L1514 150.6L1515.4 150.8L1516.7 151.1L1518.1 151.4L1519.4 151.7L1520.8 151.9L1522.1 152.2L1523.5 152.5L1524.8 152.8L1526.2 153.1L1527.5 153.4L1528.9 153.7L1530.2 154L1531.6 154.3L1532.9 154.6L1534.3 154.9L1535.6 155.2L1537 155.6L1538.3 155.9L1539.7 156.2L1541 156.6L1542.4 156.9L1543.7 157.2L1545.1 157.6L1546.4 157.9L1547.8 158.3L1549.1 158.7L1550.5 159L1551.8 159.4L1553.2 159.8L1554.5 160.1L1555.9 160.5L1557.2 160.9L1558.6 161.3L1559.9 161.7L1561.3 162.1L1562.6 162.5L1564 162.9L1565.3 163.3L1566.7 163.7L1568 164.2L1569.4 164.6L1570.7 165L1572.1 165.5L1573.4 165.9L1574.8 166.4L1576.1 166.8L1577.5 167.3L1578.8 167.7L1580.2 168.2L1581.5 168.7L1582.9 169.2L1584.2 169.6L1585.6 170.1L1586.9 170.6L1588.3 171.1L1589.6 171.6L1591 172.1L1592.3 172.6L1593.7 173.1L1595 173.7L1596.4 174.2L1597.7 174.7L1599.1 175.2L1600.4 175.8L1601.8 176.3L1603.1 176.9L1604.5 177.4L1605.8 178L1607.2 178.5L1608.5 179.1L1609.9 179.7L1611.2 180.2L1612.6 180.8L1613.9 181.4L1615.3 182L1616.6 182.5L1618 183.1L1619.3 183.7L1620.7 184.3L1622 184.9L1623.4 185.5L1624.7 186.1L1626.1 186.7L1627.4 187.3L1628.8 187.9L1630.1 188.5L1631.5 189.1L1632.8 189.7L1634.2 190.3L1635.5 190.9L1636.9 191.5L1638.2 192.1L1639.6 192.7L1640.9 193.3L1642.3 193.9L1643.6 194.5L1645 195.1L1646.3 195.7L1647.7 196.3L1649 196.9L1650.4 197.4L1651.7 198L1653.1 198.6L1654.4 199.2L1655.8 199.7L1657.1 200.3L1658.5 200.8L1659.8 201.4L1661.2 201.9L1662.5 202.4L1663.9 202.9L1665.2 203.4L1666.6 203.9L1667.9 204.4L1669.3 204.9L1670.6 205.4L1672 205.8L1673.3 206.3L1674.7 206.7L1676 207.1L1677.4 207.5L1678.7 207.9L1680.1 208.3L1681.4 208.6L1682.8 209L1684.1 209.3L1685.5 209.6L1686.8 209.9L1688.2 210.2L1689.5 210.5L1690.9 210.7L1692.2 211L1693.6 211.2L1694.9 211.4L1696.3 211.6L1697.6 211.7L1699 211.9L1700.3 212L1701.7 212.1L1703 212.2L1704.4 212.3L1705.7 212.3L1707.1 212.3L1708.5 212.4L1709.8 212.3L1711.2 212.3L1712.5 212.3L1713.9 212.2L1715.2 212.1L1716.6 212L1717.9 211.9L1719.3 211.7L1720.6 211.6L1722 211.4L1723.3 211.2L1724.7 211L1726 210.7L1727.4 210.5L1728.7 210.2L1730.1 209.9L1731.4 209.6L1732.8 209.3L1734.1 209L1735.5 208.6L1736.8 208.3L1738.2 207.9L1739.5 207.5L1740.9 207.1L1742.2 206.7L1743.6 206.3L1744.9 205.8L1746.3 205.4L1747.6 204.9L1749 204.4L1750.3 203.9L1751.7 203.4L1753 202.9L1754.4 202.4L1755.7 201.9L1757.1 201.4L1758.4 200.8L1759.8 200.3L1761.1 199.7L1762.5 199.2L1763.8 198.6L1765.2 198L1766.5 197.4L1767.9 196.9L1769.2 196.3L1770.6 195.7L1771.9 195.1L1773.3 194.5L1774.6 193.9L1776 193.3L1777.3 192.7L1778.7 192.1L1780 191.5L1781.4 190.9L1782.7 190.3L1784.1 189.7L1785.4 189.1L1786.8 188.5L1788.1 187.9L1789.5 187.3L1790.8 186.7L1792.2 186.1L1793.5 185.5L1794.9 184.9L1796.2 184.3L1797.6 183.7L1798.9 183.1L1800.3 182.5L1801.6 182L1803 181.4L1804.3 180.8L1805.7 180.2L1807 179.7L1808.4 179.1L1809.7 178.5L1811.1 178L1812.4 177.4L1813.8 176.9L1815.1 176.3L1816.5 175.8L1817.8 175.2L1819.2 174.7L1820.5 174.2L1821.9 173.7L1823.2 173.1L1824.6 172.6L1825.9 172.1L1827.3 171.6L1828.6 171.1L1830 170.6L1831.3 170.1L1832.7 169.6L1834 169.2L1835.4 168.7L1836.7 168.2L1838.1 167.7L1839.4 167.3L1840.8 166.8L1842.1 166.4L1843.5 165.9L1844.8 165.5L1846.2 165L1847.5 164.6L1848.9 164.2L1850.2 163.7L1851.6 163.3L1852.9 162.9L1854.3 162.5L1855.6 162.1L1857 161.7L1858.3 161.3L1859.7 160.9L1861 160.5L1862.4 160.1L1863.7 159.8L1865.1 159.4L1866.4 159L1867.8 158.7L1869.1 158.3L1870.5 157.9L1871.8 157.6L1873.2 157.2L1874.5 156.9L1875.9 156.6L1877.2 156.2L1878.6 155.9L1879.9 155.6L1881.3 155.2L1882.6 154.9L1884 154.6L1885.3 154.3L1886.7 154L1888 153.7L1889.4 153.4L1890.7 153.1L1892.1 152.8L1893.4 152.5L1894.8 152.2L1896.1 151.9L1897.5 151.7L1898.8 151.4L1900.2 151.1L1901.5 150.8L1902.9 150.6L1904.2 150.3L1905.6 150.1L1906.9 149.8L1908.3 149.5L1909.6 149.3L1911 149L1912.3 148.8L1913.7 148.6L1915 148.3L1916.4 148.1L1917.7 147.9L1919.1 147.6L1920.4 147.4L1921.8 147.2L1923.1 147L1924.5 146.7L1925.8 146.5L1927.2 146.3L1928.5 146.1L1929.9 145.9L1931.2 145.7L1932.6 145.5L1933.9 145.3L1935.3 145.1L1936.6 144.9L1938 144.7L1939.3 144.5L1940.7 144.3L1942 144.1L1943.4 143.9L1944.7 143.8L1946.1 143.6L1947.4 143.4L1948.8 143.2L1950.1 143.1L1951.5 142.9L1952.8 142.7L1954.2 142.5L1955.5 142.4L1956.9 142.2L1958.2 142.1L1959.6 141.9L1960.9 141.7L1962.3 141.6L1963.6 141.4L1965 141.3L1966.3 141.1L1967.7 141L1969 140.8L1970.4 140.7L1971.7 140.5L1973.1 140.4L1974.4 140.2L1975.8 140.1L1977.1 140L1978.5 139.8" fill="none" stroke="#1F4A7C" stroke-width="3.2" stroke-dasharray="13.4 13.4" clip-path="url(#cp_c)" stroke-linejoin="round" stroke-dashoffset="12.9"/>
<rect x="1438.4" y="42" width="540.1" height="405.6" fill="none" stroke="#5a5a5a" stroke-width="1.0"/>
<text x="1438.4" y="479.6" font-size="27.0" text-anchor="middle">-4</text>
<text x="1573.4" y="479.6" font-size="27.0" text-anchor="middle">-2</text>
<text x="1708.5" y="479.6" font-size="27.0" text-anchor="middle">0</text>
<text x="1843.5" y="479.6" font-size="27.0" text-anchor="middle">2</text>
<text x="1978.5" y="479.6" font-size="27.0" text-anchor="middle">4</text>
<text x="1431.2" y="457.3" font-size="27.0" text-anchor="end">-0.02</text>
<text x="1431.2" y="376.2" font-size="27.0" text-anchor="end">-0.01</text>
<text x="1431.2" y="295.1" font-size="27.0" text-anchor="end">0</text>
<text x="1431.2" y="213.9" font-size="27.0" text-anchor="end">0.01</text>
<text x="1431.2" y="132.8" font-size="27.0" text-anchor="end">0.02</text>
<text x="1431.2" y="51.7" font-size="27.0" text-anchor="end">0.03</text>
<text transform="translate(1356.6 246.2) rotate(-90)" font-size="30.2" text-anchor="middle">Normalized scattering intensity</text>
<text transform="matrix(0.3982 0 0 0.3344 1658.41 516.50)" font-size="100" font-family='"Liberation Serif", serif' stroke="#fff" stroke-width="1.91">Δ</text>
<text transform="matrix(0.2440 0 0 0.2478 1686.57 526.10)" font-size="100" font-family='"Liberation Sans", sans-serif' font-style="italic">L</text>
<text transform="matrix(0.2945 0 0 0.2939 1706.80 516.51)" font-size="100" font-family='"Liberation Sans", sans-serif'>/</text>
<text transform="matrix(0.4154 0 0 0.3758 1721.85 516.20)" font-size="100" font-family='"Liberation Serif", serif' font-style="italic" stroke="#fff" stroke-width="1.26">κ</text>
<text transform="matrix(0.2651 0 0 0.2345 1743.71 523.17)" font-size="100" font-family='"Liberation Sans", sans-serif'>c</text>
<text transform="matrix(0.3649 0 0 0.3160 1649.94 26.16)" font-size="100" font-family='"Liberation Serif", serif' font-style="italic" stroke="#fff" stroke-width="1.76">ϕ</text>
<text x="1677.7" y="28.3" font-size="31.2" text-anchor="start">= 3</text>
<text transform="matrix(0.3163 0 0 0.3161 1722.09 27.68)" font-size="100" font-family='"Liberation Serif", serif' font-style="italic" stroke="#fff" stroke-width="1.26">π</text>
<text x="1739.4" y="28.3" font-size="31.2" text-anchor="start">/2</text>
<text x="1969" y="25.8" font-size="36" text-anchor="middle" fill="#231815">(c)</text>
<g clip-path="url(#cp_d)"><rect x="90.5" y="586.7" width="457.2" height="403.8" fill="#123e6d"/><path d="M147 988.7L155.9 990.4L547.7 990.4L547.7 586.7L90.5 586.7L90.5 927.7L93.6 941.4L97.6 953.3L100 958.3L102.9 963.4L108.2 970.2L111.5 973.4L115.4 976.4L123 981L132.6 984.9L138.3 986.7L147 988.7Z" fill="#133f6f"/><path d="M177.8 988.7L190.9 990.4L547.7 990.4L547.7 586.7L90.5 586.7L90.5 894.1L92.8 909.3L94.7 919.5L96.8 927.9L99.3 936.4L101.8 943.1L105 949.9L107.9 955L111.5 960L115.4 964.4L119.8 968.5L124.9 972.3L129.9 975.2L136.4 978.4L142.2 980.6L149.8 983L157.5 985L165.1 986.6L177.8 988.7Z" fill="#144071"/><path d="M202.3 988.7L218.9 990.4L547.7 990.4L547.7 586.7L90.5 586.7L90.5 867.8L92.6 885.7L94.7 899.2L97.1 911L99.6 921.2L102.2 929.6L104.7 936.4L107.9 943.1L111.7 949.9L115.4 955L119.8 960L124.9 964.8L130.7 969L136.4 972.3L144.1 975.9L151.7 978.8L159.4 981.1L168.9 983.4L180.4 985.7L202.3 988.7Z" fill="#154272"/><path d="M223.6 988.7L243.4 990.4L547.7 990.4L547.7 586.7L90.5 586.7L90.5 845.3L93 868.8L95.6 887.4L99.2 906L103.4 921.2L106.4 929.6L109.3 936.4L113 943.1L117.5 949.9L121.6 955L126.9 960.1L133.3 965.1L140.2 969.4L147.9 973.1L155.5 976.1L165.1 979.1L172.8 981L182.3 983.1L193.8 985.1L205.3 986.7L223.6 988.7Z" fill="#154374"/><path d="M243 988.7L265.9 990.4L547.7 990.4L547.7 586.7L90.5 586.7L90.5 825.3L93.5 857L97.4 884L101.6 904.3L104.5 914.4L107.3 922.9L110.9 931.3L114.4 938.1L118.6 944.8L124 951.6L129 956.6L134.5 961.1L140.3 965.1L147.9 969.2L155.5 972.6L165.1 976L176.6 979.2L186.2 981.3L197.6 983.4L212.9 985.6L243 988.7Z" fill="#164476"/><path d="M261.2 988.7L287.1 990.4L547.7 990.4L547.7 586.7L90.5 586.7L90.5 807.1L93.9 845.1L95.7 860.3L98.6 878.9L101.3 892.4L104.2 904.3L107.3 914.4L110.5 922.9L114.4 931.3L118.2 938.1L123 945L128.8 951.5L134.3 956.6L140.2 961.1L147.9 965.7L155.5 969.4L165.1 973.1L174.7 976.1L186.2 979L197.6 981.3L211 983.5L228.2 985.7L261.2 988.7Z" fill="#174678"/><path d="M278.5 988.7L307.5 990.4L547.7 990.4L547.7 586.7L90.5 586.7L90.5 790.1L91 797.8L93.1 823.2L95 841.8L97.2 858.7L99.6 873.9L102.6 889.1L106.1 902.6L109.9 914.4L114.1 924.5L118.5 933L122.9 939.8L128.3 946.5L133.2 951.6L139.2 956.6L146.7 961.7L153.6 965.5L163.2 969.8L172.8 973.1L184.2 976.4L195.7 979L209.1 981.4L226.3 983.9L241.6 985.7L278.5 988.7Z" fill="#17477a"/><path d="M295.1 988.7L327.2 990.4L547.7 990.4L547.7 586.7L90.5 586.7L90.5 774.3L92 796.2L93.7 816.4L95.8 836.7L98.7 858.7L101.3 873.9L104.5 889.1L108.2 902.6L112.4 914.4L116.9 924.5L121.6 933L126.3 939.8L132.1 946.5L137.4 951.6L144.1 956.8L151.7 961.6L159.4 965.5L168.9 969.5L178.5 972.7L191.9 976.3L205.3 979.1L218.7 981.4L234 983.4L255 985.7L295.1 988.7Z" fill="#18497b"/><path d="M311.3 988.7L346.7 990.4L547.7 990.4L547.7 586.7L90.5 586.7L90.5 759.2L93.7 804.6L95.9 826.6L98.6 848.5L101.3 865.4L104.3 880.6L107.3 892.4L111.5 906L116.2 917.8L120.4 926.2L125.7 934.7L131 941.4L136.4 947.2L143.5 953.3L150.9 958.3L159.4 963L168.9 967.3L178.5 970.7L190 974L201.5 976.7L214.8 979.3L230.1 981.6L249.3 983.9L268.4 985.8L311.3 988.7Z" fill="#194a7d"/><path d="M327.2 988.7L365.9 990.4L547.7 990.4L547.7 586.7L90.5 586.7L90.5 744.9L92.9 782.6L95.2 809.7L97.6 831.6L100.4 851.9L103.1 867.1L106.4 882.3L110.1 895.8L114.1 907.7L118.5 917.8L123 926.2L128.6 934.7L134.1 941.4L140.2 947.5L147.4 953.3L155.2 958.3L163.2 962.6L172.8 966.7L184.2 970.6L195.7 973.8L209.1 976.7L224.4 979.4L239.7 981.6L260.8 984L279.9 985.7L327.2 988.7Z" fill="#1a4b7f"/><path d="M342.9 988.7L385 990.4L547.7 990.4L547.7 586.7L90.5 586.7L90.5 731.2L93.3 775.9L96.6 813L99 833.3L101.4 850.2L104.5 867.1L107.9 882.3L111.8 895.8L116.1 907.7L120.7 917.8L125.4 926.2L131.3 934.7L137.1 941.4L144.1 947.9L151.1 953.3L159.4 958.3L168.9 963.1L178.5 966.9L190 970.6L203.4 974L214.8 976.4L232.1 979.4L249.3 981.7L272.2 984.1L293.3 985.8L342.9 988.7Z" fill="#1a4d81"/><path d="M358.4 988.7L404.3 990.4L547.7 990.4L547.7 586.7L90.5 586.7L90.5 718.1L93.5 767.4L97.4 811.4L99.6 829.9L102.6 850.2L105.5 865.4L109 880.6L113 894.1L117.3 906L121.9 916.1L127.8 926.2L133.9 934.7L140 941.4L147.7 948.2L154.7 953.3L163.2 958.2L172.8 962.8L184.2 967.1L195.7 970.6L209.1 973.9L222.5 976.6L239.7 979.3L258.8 981.7L281.8 984L304.8 985.8L358.4 988.7Z" fill="#1b4f83"/><path d="M373.9 988.7L423.6 990.4L547.7 990.4L547.7 586.7L90.5 586.7L90.5 705.4L94 764.1L96.5 794.5L98.9 816.4L101.4 835L104.7 855.3L108.3 872.2L111.9 885.7L116.4 899.2L120.6 909.3L125.8 919.5L131.2 927.9L137.9 936.4L144.1 942.6L151.7 948.9L159.4 954L168.9 959.2L178.6 963.4L190 967.4L203.4 971.2L218.7 974.6L234 977.3L251.2 979.8L272.2 982.2L295.2 984.3L318.1 985.9L373.9 988.7Z" fill="#1c5085"/><path d="M389.4 988.7L443.3 990.4L547.7 990.4L547.7 586.7L90.5 586.7L90.5 693.1L92.7 735.3L94.7 764.1L97.2 792.8L99.8 816.4L102.6 836.7L105.6 853.6L108.8 868.8L112.8 884L117.4 897.5L122.4 909.3L127.8 919.5L133.4 927.9L140.2 936.1L147.5 943.1L155.5 949.4L163.2 954.2L172.8 959.2L184.2 963.9L195.7 967.7L209.1 971.3L224.4 974.5L241.6 977.5L258.8 979.8L281.8 982.3L306.7 984.4L331.5 986L389.4 988.7Z" fill="#1d5286"/><path d="M405 988.7L463.3 990.4L547.7 990.4L547.7 586.7L90.5 586.7L90.5 681.2L90.9 689.7L93.1 730.3L95.3 762.4L97.8 791.1L101.2 819.8L104.2 840.1L107 855.3L110.4 870.5L114.8 885.7L118.9 897.5L124.2 909.3L129.8 919.5L136.4 928.9L142.9 936.4L150.2 943.1L157.5 948.6L167 954.5L176.6 959.2L188.1 963.8L201.5 968L214.8 971.4L230.1 974.5L249.3 977.6L268.4 980L291.4 982.3L316.2 984.3L343 986L405 988.7Z" fill="#1e5488"/><path d="M420.7 988.7L483.7 990.4L547.7 990.4L547.7 586.7L90.5 586.7L90.5 669.6L91.7 694.8L93.9 733.6L96.7 770.8L99.3 797.8L102.5 823.2L105.2 840.1L108.8 858.7L112.6 873.9L116.7 887.4L121.9 900.9L126.8 911L132.8 921.2L139.1 929.6L146 937L153.6 943.7L163.2 950.4L172.8 955.7L184.2 960.8L195.7 964.9L209.1 968.8L224.4 972.3L241.6 975.4L258.8 978L281.8 980.6L302.8 982.6L327.7 984.4L356.4 986.1L420.7 988.7Z" fill="#1f568a"/><path d="M436.6 988.7L504.7 990.4L547.7 990.4L547.7 586.7L90.5 586.7L90.5 658.3L92.7 704.9L95 740.4L97.2 769.1L99.7 794.5L103.2 821.5L106.5 841.8L109.9 858.7L113.8 873.9L118.1 887.4L122.7 899.2L128.5 911L134.7 921.2L141.2 929.6L149.4 938.1L157.5 944.6L167 950.9L176.6 956L188.1 960.9L201.5 965.4L214.8 969.1L230.1 972.4L249.3 975.7L266.5 978.1L289.4 980.6L312.4 982.6L339.2 984.5L367.9 986.1L436.6 988.7Z" fill="#20578c"/><path d="M452.8 988.7L526.3 990.4L547.7 990.4L547.7 586.7L90.5 586.7L90.5 647.2L93.5 708.3L95.7 742.1L98.5 775.9L101.3 801.2L104.6 824.9L108.1 845.1L111.4 860.3L115.5 875.6L120 889.1L124.9 900.9L130.7 912L136.6 921.2L144.1 930.5L151.8 938.1L160.3 944.8L168.9 950.3L180.4 956.2L191.9 960.9L205.3 965.3L220.6 969.3L235.9 972.5L255 975.7L274.1 978.2L297.1 980.6L322 982.7L350.7 984.6L381.3 986.2L452.8 988.7Z" fill="#21598e"/><path d="M469.2 988.7L547.7 990.4L547.7 586.7L90.5 586.7L90.5 636.4L92.2 674.5L94.6 718.4L96.9 750.5L99.4 777.6L102.5 804.6L105.4 824.9L108.7 843.5L112.5 860.3L116.7 875.6L121.3 889.1L126.4 900.9L131.7 911L138.4 921.2L146 930.3L154.1 938.1L163.2 945L172.8 950.9L184.2 956.5L195.7 961L211 965.8L226.3 969.6L241.6 972.6L260.8 975.7L279.9 978.1L304.8 980.6L331.5 982.8L360.2 984.6L392.7 986.2L469.2 988.7Z" fill="#225b8f"/><path d="M486 988.7L547.7 990L547.7 586.7L90.5 586.7L90.5 625.9L92.9 679.6L95.4 721.8L97.7 752.2L100.6 782.6L103.5 806.3L106.8 828.3L110.4 846.8L114.4 863.7L118.4 877.2L123.3 890.8L128.7 902.6L134.5 912.9L141.5 922.9L149 931.3L157.5 939L167 945.9L176.9 951.6L188.1 956.8L199.5 961.1L214.8 965.7L230.1 969.4L247.4 972.7L266.5 975.7L287.5 978.2L314.3 980.8L341.1 982.8L371.7 984.6L406.1 986.2L486 988.7Z" fill="#235c91"/><path d="M503.1 988.7L547.7 989.7L547.7 586.7L90.5 586.7L90.5 615.5L91.1 630.6L93.3 679.6L95.8 720.1L98.4 753.9L100.9 779.3L104.2 806.3L107.4 826.6L110.9 845.1L115 862L119.5 877.2L124.6 890.8L130.1 902.6L136.4 913.4L143.3 922.9L151 931.3L159.4 938.7L168.9 945.5L179.7 951.6L191.9 957.1L203.4 961.2L218.7 965.7L234 969.3L253.1 972.8L274.1 975.9L295.2 978.3L322 980.8L350.7 982.9L381.3 984.6L417.6 986.2L503.1 988.7Z" fill="#245e93"/><path d="M520.8 988.7L547.7 989.3L547.7 586.7L90.5 586.7L90.5 605.4L92.1 644.1L94.6 693.1L97 730.3L99.5 759L102.5 787.7L105.4 809.7L108.8 829.9L112.6 848.5L116.5 863.7L121.2 878.9L126.6 892.4L132.4 904.3L138.7 914.4L146 923.9L153.6 932L162.9 939.8L172.8 946.3L184.2 952.4L195.7 957.3L209.1 961.9L224.4 966.2L241.6 969.9L260.8 973.2L281.8 976.1L306.7 978.8L333.4 981.1L362.1 983L394.7 984.7L432.9 986.3L520.8 988.7Z" fill="#256095"/><path d="M538.9 988.7L547.7 988.9L547.7 586.7L90.5 586.7L91 608.6L93.3 661L95.3 698.2L97.7 732L100.4 762.4L103.2 787.7L106.4 811.4L109.9 831.6L113.9 850.2L118 865.4L122.4 878.9L127.8 892.4L133.8 904.3L140.2 914.4L147.9 924.1L156.7 933L165.1 939.8L175.5 946.5L186.2 952L199.5 957.6L212.9 962.1L228.2 966.1L245.5 969.8L266.5 973.3L289.4 976.4L314.3 978.9L341.1 981.1L371.7 983.1L404.2 984.7L444.4 986.3L538.9 988.7Z" fill="#266297"/><path d="M483.4 987.1L547.7 988.6L547.7 586.7L90.5 586.7L93.7 661L95.6 694.8L97.8 726.9L100.5 757.3L103 780.9L106.1 804.6L109.5 824.9L112.8 841.8L117 858.7L121.7 873.9L126.8 887.4L132.4 899.2L138.3 909.3L145.7 919.5L153.3 927.9L161.3 935.2L170.8 942.2L182.3 948.9L193.8 954.2L207.2 959.2L220.6 963.2L235.9 967L253.1 970.4L270.3 973.2L293.3 976.1L320.1 978.8L344.9 980.8L375.5 982.8L408.1 984.4L483.4 987.1Z" fill="#276498"/><path d="M497.8 987.1L547.7 988.2L547.7 586.7L90.9 586.7L94.1 661L96.6 703.2L98.7 732L101.2 759L104.3 786L107.1 806.3L110.5 826.6L114.5 845.1L118.4 860.3L122.7 873.9L128 887.4L133.7 899.2L139.8 909.3L147.3 919.5L155.1 927.9L163.2 935.1L172.8 942L183.6 948.2L195.7 953.8L209.1 958.8L222.5 962.8L239.7 967L258.8 970.6L279.9 973.8L300.9 976.3L327.7 978.9L354.5 981L385.1 982.8L419.5 984.5L497.8 987.1Z" fill="#28659a"/><path d="M512.4 987.1L547.7 987.9L547.7 586.7L91.2 586.7L93.4 639L95.1 672.8L99.1 730.3L101.6 757.3L104.5 782.6L107.3 802.9L111 824.9L114.5 841.8L118.9 858.7L123.8 873.9L129.2 887.4L135 899.2L141.2 909.3L148.9 919.5L156.8 927.9L166.8 936.4L176.6 943L188.1 949.2L199.5 954.2L212.9 959L226.3 962.9L243.5 966.9L262.7 970.5L283.7 973.6L306.7 976.3L333.4 978.8L362.1 981L394.7 982.8L429.1 984.4L512.4 987.1Z" fill="#29679c"/><path d="M527.5 987.1L547.7 987.5L547.7 586.7L91.6 586.7L93.8 639L95.6 672.8L99.6 730.3L102 755.7L105.3 784.3L108.7 808L112.4 828.3L116.6 846.8L120.8 862L125.4 875.6L131.1 889.1L137.3 900.9L143.8 911L151.7 920.9L159.4 928.6L168.8 936.4L178.5 942.8L190 948.9L201.5 953.9L214.8 958.6L230.1 963L249.3 967.3L268.4 970.7L289.4 973.7L310.5 976.1L339.2 978.8L369.8 980.9L436.7 984.3L527.5 987.1Z" fill="#2a699e"/><path d="M542.9 987.1L547.7 987.2L547.7 586.7L91.9 586.7L94.1 639L96 672.8L100.1 729.9L102 750.5L105.7 782.6L109.4 808L113.2 828.3L117 845.1L121.1 859.9L126.5 875.6L132.2 889.1L138.3 900.5L145.2 911L153.5 921.2L161.3 928.8L170.8 936.4L181.3 943.1L191.9 948.7L203.4 953.6L218.7 958.9L235.2 963.4L251.2 966.9L272.2 970.6L293.1 973.5L310.5 975.5L343.9 978.6L371.7 980.6L436.7 983.9L484.6 985.6L542.9 987.1Z" fill="#2b6b9f"/><path d="M492.2 985.4L547.7 986.8L547.7 586.7L92.3 586.7L94.3 634.7L96.2 669.8L100.2 725.2L102.2 747.2L105.8 778.6L108 794.5L111.7 816.4L115.5 835L119.3 850.2L124.9 868.4L130.7 883L136.4 894.7L142.2 904.4L149.8 914.9L157.5 923.4L166.2 931.3L175.4 938.1L186.2 944.5L197.3 949.9L210 955L226 960L245.5 964.9L262.7 968.2L283.7 971.6L298.7 973.5L327.7 976.6L351.2 978.6L405.4 982L442.9 983.7L492.2 985.4Z" fill="#2c6da1"/><path d="M508.5 985.4L547.7 986.3L547.7 586.7L92.6 586.7L96.5 666.1L98.6 698.2L100.8 725.2L103.9 756.6L106.6 779.3L110.2 802.9L113.9 823.2L118.1 841.8L122.4 857L127.6 872.2L132.5 884L138.6 895.8L144.9 906L152.7 916.1L160.7 924.5L170.7 933L180.4 939.6L191.9 946L203.4 951.1L216.8 956L232.1 960.6L247.4 964.3L266.5 968L287.5 971.3L310.5 974.2L333.4 976.5L359.8 978.6L416.5 982L456.1 983.7L508.5 985.4Z" fill="#2d6ea3"/><path d="M525.2 985.4L547.7 985.9L547.7 586.7L93 586.7L96.9 664.4L99.1 696.5L101.4 725.2L104.3 753.9L107.2 777.6L110.7 801.2L114.5 821.5L118.7 840.1L123.5 857L128.2 870.5L133.9 884L140.1 895.8L146.6 906L154.6 916.1L162.8 924.5L172.8 932.8L182.3 939.2L193.8 945.5L207.2 951.4L220.6 956.1L235.9 960.5L253.1 964.5L272.2 968.1L293.3 971.3L318.1 974.3L343 976.6L373.6 979L406.1 980.9L442.5 982.6L525.2 985.4Z" fill="#2e70a4"/><path d="M542.5 985.4L547.7 985.5L547.7 586.7L93.4 586.7L97.4 664.4L99.6 696.5L102.5 730.3L105.3 757.3L108.6 782.6L112.1 804.6L115.7 823.2L120.2 841.8L124.6 857L129.4 870.5L135.3 884L141.6 895.8L148.3 906L156.4 916.1L165.1 924.7L174.7 932.5L184.2 938.8L195.7 945L209.1 950.9L224.4 956.2L239.7 960.5L256.9 964.4L278 968.2L299 971.3L325.8 974.4L352.6 976.8L383.2 979L417.6 981L454 982.6L542.5 985.4Z" fill="#2f72a6"/><path d="M497.3 983.7L547.7 985.1L547.7 586.7L93.8 586.7L97.6 659.3L99.8 691.4L102.4 723.5L105 748.8L108.1 774.2L111.2 794.5L114.9 814.7L119 833.3L123.6 850.2L128 863.7L133.5 877.2L139.2 889.1L146.3 900.9L153.6 910.8L161.5 919.5L170.8 927.8L180.4 934.8L191.5 941.4L203.4 947.2L216.8 952.5L232.1 957.4L247.4 961.4L264.6 965L283.7 968.3L304.8 971.3L329.6 974.1L356.4 976.5L388.9 978.8L421.4 980.6L497.3 983.7Z" fill="#3174a8"/><path d="M511.7 983.7L547.7 984.7L547.7 586.7L94.2 586.7L96 623.8L98.4 664.4L100.7 696.5L103.2 725.2L106.2 753.9L109.1 775.9L112.5 797.8L116.4 818.1L120.8 836.7L125.7 853.6L130.7 867.7L136.3 880.6L142.5 892.4L149.1 902.6L157 912.7L165.1 921.1L174.7 929.2L184.2 935.8L195.7 942.3L207.2 947.6L220.6 952.7L235.9 957.4L253.1 961.7L272.2 965.6L293.3 969L314.3 971.7L339.2 974.4L366 976.6L398.5 978.8L432.9 980.7L511.7 983.7Z" fill="#3276a9"/><path d="M526.5 983.7L547.7 984.2L547.7 586.7L94.6 586.7L96.7 628.9L98.7 662.7L101.1 694.8L103.6 723.5L106.7 752.2L109.8 775.9L113.3 797.8L117.3 818.1L121.7 836.7L126.2 851.9L131.6 867.1L137.6 880.6L144 892.4L150.6 902.6L158.8 912.7L167 921.1L176.6 929L186.2 935.5L197.6 941.9L211 948L225.5 953.3L241.6 958L258.8 962.1L278 965.8L299 969L322 971.9L346.8 974.4L375.5 976.8L410 979L444.4 980.7L526.5 983.7Z" fill="#3478ab"/><path d="M541.8 983.7L547.7 983.8L547.7 586.7L95 586.7L97 627.2L99.2 662.7L101.6 694.8L104.5 726.9L107.3 752.2L110.7 777.6L114.4 799.5L118.1 818.1L122.7 836.7L127.8 853.6L133.5 868.8L138.8 880.6L145.4 892.4L152.2 902.6L160.5 912.7L169 921.2L178.5 928.9L189.9 936.4L201.5 942.5L214.8 948.3L230.1 953.7L245.5 958L264.6 962.4L283.7 966L306.7 969.4L331.5 972.3L356.4 974.7L387 977L421.4 979.1L457.8 980.8L541.8 983.7Z" fill="#367aad"/><path d="M499.6 982L547.7 983.4L547.7 586.7L95.4 586.7L99.4 659.3L101.7 689.7L104.5 721.8L107.3 747.2L110.7 772.5L114.2 794.5L117.8 813L122.2 831.6L126.6 846.8L131.2 860.3L136.8 873.9L142.8 885.7L149.8 897.1L157.5 907.3L165.5 916.1L174.7 924.3L184.2 931.4L195.3 938.1L207.2 944L220.6 949.4L235.9 954.4L253.1 959L270.3 962.7L289.4 966.1L312.4 969.4L337.3 972.3L362.1 974.6L390.8 976.7L425.3 978.8L499.6 982Z" fill="#377cae"/><path d="M512.5 982L547.7 983L547.7 586.7L95.8 586.7L99.9 659.3L102.5 693.1L105.1 721.8L108.1 748.8L111.1 770.8L114.6 792.8L118.6 813L122.7 829.9L127.6 846.8L133 862L138.8 875.6L145.1 887.4L152.7 899.2L160.8 909.3L168.9 917.7L178.5 925.8L188.9 933L199.5 939L212.9 945.3L226.3 950.4L241.6 955.1L258.8 959.5L276.1 963L295.2 966.3L318.1 969.5L343 972.2L369.8 974.6L398.5 976.7L434.8 978.8L512.5 982Z" fill="#397eb0"/><path d="M525.7 982L547.7 982.6L547.7 586.7L96.1 586.7L98.4 628.9L100.6 662.7L103 693.1L105.7 721.8L108.7 748.8L112 772.5L115.7 794.5L119.8 814.7L124 831.6L129.1 848.5L134.5 863.2L140.2 876L146.4 887.4L154.2 899.2L162.4 909.3L170.8 917.8L180.4 925.7L191.1 933L201.5 938.8L214.8 945L228.2 950L243.5 954.7L260.8 959.1L279.9 963L300.9 966.4L323.9 969.5L350.7 972.4L377.4 974.7L408.1 976.8L444.4 978.8L525.7 982Z" fill="#3b7fb2"/><path d="M539.3 982L547.7 982.2L547.7 586.7L96.5 586.7L98.7 627.2L101 662.7L103.5 693.1L106.4 723.5L109.3 748.8L112.7 772.5L116.4 794.5L120.6 814.7L125.4 833.3L130.1 848.5L135.1 862L141.2 875.6L147.9 887.7L155.5 899.1L164.1 909.3L172.8 917.9L183.1 926.2L193.8 933.3L205.3 939.5L218.7 945.4L234 950.9L249.3 955.4L266.5 959.5L285.6 963.2L306.7 966.6L331.5 969.8L358.3 972.5L387 974.9L421.4 977.1L455.9 978.9L539.3 982Z" fill="#3c81b3"/><path d="M500.1 980.3L547.7 981.8L547.7 586.7L96.9 586.7L99 625.5L101.2 659.3L103.7 689.7L106.6 720.1L109.5 745.5L112.8 769.1L116.5 791.1L120.3 809.7L124.4 826.6L129.4 843.5L134.2 857L139.9 870.5L146 882.3L153.4 894.1L161.2 904.3L168.9 912.7L178.4 921.2L188.1 928.3L199.5 935.3L211 941L224.4 946.6L239.7 951.7L255 956L274.1 960.3L295.2 964.1L316.2 967.2L339.2 970L366 972.6L392.7 974.7L425.3 976.8L500.1 980.3Z" fill="#3e83b5"/><path d="M511.8 980.3L547.7 981.4L547.7 586.7L97.2 586.7L101.6 657.6L104.3 691.4L107.1 720.1L110.3 747.2L113.7 770.8L117.5 792.8L121.5 811.4L125.7 828.3L130.9 845.1L136.4 860L142.2 872.8L149.2 885.7L156 895.8L164.1 906L172.4 914.4L182.3 922.8L192.1 929.6L203.8 936.4L216.8 942.5L230.1 947.6L245.5 952.5L262.7 957L279.9 960.7L299 964L322 967.3L346.8 970.2L373.6 972.7L402.3 974.9L436.7 977L511.8 980.3Z" fill="#4085b7"/><path d="M523.7 980.3L547.7 981.1L547.7 586.7L97.6 586.7L99.7 623.8L102.3 661L104.8 691.4L107.4 718.4L110.7 745.5L114.1 769.1L117.9 791.1L122.2 811.4L126.6 828.3L131.8 845.1L136.9 858.7L143 872.2L149.8 884.6L157.4 895.8L165.1 905.3L174.1 914.4L184.2 922.8L194.1 929.6L206.1 936.4L218.7 942.2L232.1 947.3L247.4 952.2L264.6 956.6L283.7 960.6L304.8 964.2L327.7 967.4L352.6 970.2L379.4 972.7L410 974.9L446.3 977.1L523.7 980.3Z" fill="#4187b8"/><path d="M535.9 980.3L547.7 980.7L547.7 586.7L98 586.7L100.3 627.2L102.7 661L105.3 691.4L108.2 720.1L111.3 745.5L114.7 769.1L118.3 789.4L122.6 809.7L127.4 828.3L132.2 843.5L137.9 858.7L144.1 872.2L150.7 884L158.8 895.8L167 905.8L175.8 914.4L186.2 922.9L197.6 930.5L209.1 936.7L222.5 942.7L237.5 948.2L253.1 952.9L270.3 957.1L289.4 961L310.5 964.4L333.4 967.5L360.2 970.4L388.9 972.9L419.5 975L455.9 977.1L535.9 980.3Z" fill="#4389ba"/><path d="M499.6 978.6L547.7 980.3L547.7 586.7L98.3 586.7L100.6 625.5L102.9 657.6L105.4 688L108.3 716.8L111.4 742.1L114.8 765.7L118.3 786L122.6 806.3L127.3 824.9L131.9 840.1L136.9 853.6L142.7 867.1L148.9 878.9L156.4 890.8L164.2 900.9L172.8 910.1L182.3 918.5L191.9 925.6L203.4 932.6L214.8 938.4L228.2 944L243.5 949.2L260.8 954L278 958L297.1 961.6L318.1 964.9L341.1 967.8L367.9 970.6L396.6 973L427.2 975L499.6 978.6Z" fill="#458abb"/><path d="M510.3 978.6L547.7 979.9L547.7 586.7L98.7 586.7L100.9 623.8L103.3 657.6L106.1 689.7L108.8 716.8L111.9 742.1L115.4 765.7L119.4 787.7L123.3 806.3L127.6 823.2L132.8 840.1L138.5 855.3L144.6 868.8L151.1 880.6L157.7 890.8L165.7 900.9L174.7 910.4L184.2 918.7L194.8 926.2L206.3 933L218.7 939L232.1 944.4L247.4 949.5L264.6 954.2L281.8 958L301.8 961.7L323.9 965L346.8 967.9L373.6 970.6L402.3 972.9L434.8 975L510.3 978.6Z" fill="#478cbc"/><path d="M521.2 978.6L547.7 979.5L547.7 586.7L99 586.7L101.4 625.5L104 661L106.5 689.7L109.3 716.8L112.5 742.1L116.1 765.7L120 787.7L124.1 806.3L128.5 823.2L133.7 840.1L139.5 855.3L145.7 868.8L152.3 880.6L159.4 891.2L167.1 900.9L176.6 910.7L186.2 918.8L196.8 926.2L208.4 933L220.6 938.8L234 944.2L249.3 949.2L266.5 953.8L285.6 958.1L306.7 961.8L329.6 965.2L354.5 968.1L381.3 970.7L411.9 973.1L444.4 975.1L521.2 978.6Z" fill="#4a8ebd"/><path d="M532.3 978.6L547.7 979.1L547.7 586.7L99.4 586.7L102.2 632.3L104.3 659.3L106.3 683L109.9 716.8L113.1 742.1L116.7 765.7L120.7 787.7L125.2 808L129.8 824.9L135.2 841.8L140.5 855.3L146.8 868.8L153.6 880.8L161.3 892L170.1 902.6L178.6 911L188.8 919.5L199.5 926.8L211 933.2L224.4 939.4L239.7 945.3L255 950L272.2 954.4L291.4 958.5L312.4 962.1L335.4 965.3L362.1 968.4L388.9 970.8L421.4 973.3L450.1 975L484.6 976.7L532.3 978.6Z" fill="#4c8fbe"/><path d="M543.7 978.6L547.7 978.7L547.7 586.7L99.8 586.7L102.5 630.6L104.5 657.6L106.6 681.3L110.1 715.1L113.8 743.8L117.6 767.4L121.4 787.7L125.6 806.3L131.1 826.6L135.5 840.1L141.5 855.3L147.9 868.8L154.7 880.6L162.9 892.4L171.5 902.6L180.4 911.3L190.6 919.5L201.5 926.7L212.9 933.1L226.3 939.2L241.1 944.8L256.9 949.7L276.1 954.6L293.3 958.1L312.4 961.5L335.4 964.7L364.1 968L400.4 971.3L455.9 974.9L490.3 976.6L543.7 978.6Z" fill="#4e91bf"/><path d="M508.4 976.9L547.7 978.4L547.7 586.7L100.1 586.7L102.6 627.2L104.6 654.2L106.7 677.9L110.4 713.4L114.1 742.1L117.8 765.7L121.6 786L125.8 804.6L129.4 818.1L135.2 836.7L141 851.9L146.3 863.7L153.8 877.2L161.6 889.1L169.8 899.2L178 907.7L187.9 916.1L197.2 922.9L207.2 929L220.6 935.8L232.1 940.6L247.4 946.1L264.6 951L285.6 956L304.8 959.6L325.8 962.9L350.7 966.1L383.2 969.4L431 973L459.7 974.7L508.4 976.9Z" fill="#5093c0"/><path d="M517.5 976.9L547.7 978.1L547.7 586.7L100.4 586.7L102.8 625.5L104.9 652.6L106.9 676.2L110.6 711.7L114.4 740.4L118.1 764.1L122.2 786L126 802.9L130.1 818.1L135.3 835L141.1 850.2L147.3 863.7L154.7 877.2L162.8 889.1L169.6 897.5L179.4 907.7L188.1 915.1L199.5 923.3L211 930.1L222.5 935.7L237.8 942L253.1 947.1L272.2 952.3L287.5 955.7L304.8 959L327.7 962.6L354.5 966L385.1 969.1L410 971.1L455.9 974.1L517.5 976.9Z" fill="#5294c1"/><path d="M525.3 976.9L547.7 977.8L547.7 586.7L100.7 586.7L105.1 650.9L107.2 674.5L110.9 710L114.6 738.7L118.3 762.4L122.4 784.3L126.2 801.2L130.2 816.4L136.1 835L141.9 850.2L148.1 863.7L154.7 875.6L162.5 887.4L170.7 897.5L180.6 907.7L190.7 916.1L201.5 923.6L212.9 930.2L226.3 936.6L239.7 941.9L255 947L274.1 952.1L289.4 955.5L306.7 958.8L329.6 962.4L356.4 965.8L388.9 969L431 972.2L459.7 974L525.3 976.9Z" fill="#5596c2"/><path d="M533.3 976.9L547.7 977.5L547.7 586.7L100.9 586.7L105.3 649.2L107.4 672.8L111.1 708.3L114.8 737L118.8 762.4L122.6 782.6L127.7 804.6L132.3 821.5L138 838.4L143.4 851.9L149.8 865.4L156.6 877.2L164.8 889.1L173.3 899.2L182.3 908.1L192 916.1L203.4 923.9L214.8 930.4L228.2 936.7L243.5 942.6L258.8 947.4L276.1 952L295.2 956.1L318.1 960.1L343 963.7L371.7 966.9L392.7 968.9L434.8 972.1L463.5 973.8L533.3 976.9Z" fill="#5798c3"/><path d="M541.5 976.9L547.7 977.2L547.7 586.7L101.2 586.7L103.4 620.5L106.4 657.6L109.2 688L112.3 715.1L115.7 740.4L119.6 764.1L123.9 786L128.2 804.6L133.5 823.2L138.6 838.4L144.8 853.6L151.5 867.1L158.6 878.9L167 890.7L174.7 899.5L184.2 908.8L193.8 916.5L205.9 924.5L218.3 931.3L232.1 937.5L247.1 943.1L262.7 947.9L279.9 952.3L299 956.3L320.1 960L343 963.2L367.9 966.1L394.7 968.7L429.1 971.3L467.4 973.7L541.5 976.9Z" fill="#5999c4"/><path d="M506.3 975.2L547.7 976.8L547.7 586.7L101.5 586.7L103.6 618.8L106.6 655.9L109.4 686.3L112.5 713.4L115.9 738.7L119.4 760.7L123.7 782.6L127.9 801.2L132.6 818.3L138.1 835L143.4 848.5L149.7 862L156.2 873.9L164.2 885.7L172.3 895.8L180.4 904.2L190 912.6L199.5 919.6L211 926.7L224.4 933.5L237.8 939.1L253.1 944.4L268.4 948.9L286.7 953.3L306.7 957.2L327.7 960.7L350.7 963.7L375.5 966.5L404.2 969.1L434.8 971.4L469.3 973.4L506.3 975.2Z" fill="#5b9bc5"/><path d="M513.4 975.2L547.7 976.6L547.7 586.7L101.8 586.7L104.2 622.1L106.7 654.2L109.4 683L112.7 711.7L116.1 737L119.6 759L123.8 780.9L128.1 799.5L133.1 818.1L138.1 833.3L144.1 848.5L150.4 862L157.5 874.5L165.1 885.7L172.8 895.1L181.6 904.3L191.4 912.7L201.5 920L212.9 926.9L226.3 933.6L239.7 939.1L255 944.4L272.2 949.3L289.4 953.3L310.5 957.4L331.5 960.7L354.5 963.8L381.3 966.7L410 969.2L440.6 971.4L475 973.4L513.4 975.2Z" fill="#5d9cc6"/><path d="M520.7 975.2L547.7 976.3L547.7 586.7L102.1 586.7L104.5 622.1L107 654.2L110 684.7L113.1 711.7L116.5 737L120.4 760.7L124.3 780.9L128.8 800.2L133.7 818.1L138.8 833.3L144.8 848.5L151.2 862L158 873.9L166 885.7L174.4 895.8L182.7 904.3L192.6 912.7L203.4 920.3L214.8 927.1L228.2 933.7L243.3 939.8L258.5 944.8L274.1 949.2L293.3 953.6L314.3 957.6L335.4 960.8L360.2 964L386.5 966.8L415.7 969.3L446.3 971.4L480.7 973.4L520.7 975.2Z" fill="#5f9dc7"/><path d="M528.1 975.2L547.7 976L547.7 586.7L102.3 586.7L104.8 622.1L107.5 655.9L110.5 686.3L113.7 713.4L117.2 738.7L120.8 760.7L124.9 781.6L129.6 801.2L134.5 818.6L140.1 835L146 849.6L152 862L159.4 874.8L167 885.7L175.5 895.8L184.2 904.6L193.9 912.7L205.3 920.7L216.8 927.3L230.1 933.8L245.1 939.8L260.5 944.8L278 949.6L295.2 953.5L316.2 957.4L339.2 960.9L364.1 964L390.7 966.8L419.5 969.2L452 971.4L488.4 973.5L528.1 975.2Z" fill="#619ec7"/><path d="M535.6 975.2L547.7 975.7L547.7 586.7L102.6 586.7L105 622.1L107.8 655.9L110.8 686.3L114 713.4L117.6 738.7L121.3 760.7L125.7 782.6L130.1 801.2L134.9 818.1L140.7 835L146.2 848.5L152.8 862L159.7 873.9L167.9 885.7L176.6 895.9L186.2 905.3L195.7 913.2L207.2 921L218.7 927.5L232.1 933.9L247 939.8L262.7 944.8L279.9 949.5L299 953.7L320.1 957.6L343 961L367.9 964.1L394.9 966.8L425.3 969.3L457.8 971.5L494.1 973.4L535.6 975.2Z" fill="#63a0c8"/><path d="M543.3 975.2L547.7 975.4L547.7 586.7L102.9 586.7L105.5 623.8L108.3 657.6L111.4 688L114.6 715.1L118.3 740.4L122 762.4L126.6 784.3L131.1 802.9L136.4 820.9L142 836.7L147.9 850.6L154.5 863.7L161.6 875.6L170.2 887.4L178.5 896.8L188 906L197.6 913.6L209.1 921.3L222.5 928.7L235.6 934.7L251.2 940.6L266.5 945.3L283.7 949.8L302.8 954L323.9 957.7L346.8 961.1L371.7 964.1L400.4 966.9L431 969.3L465.4 971.6L543.3 975.2Z" fill="#65a1c9"/><path d="M509.7 973.5L547.7 975.1L547.7 586.7L103.1 586.7L105.6 622.1L108.3 654.2L111.2 683L114.4 710L117.9 735.3L121.6 757.3L125.9 779.3L130.3 797.8L135.1 814.7L140.8 831.6L146.2 845.1L152.6 858.7L159.4 870.7L167 882L175.5 892.4L184.2 901.5L193.8 909.8L204.9 917.8L216.1 924.5L228.2 930.7L241.6 936.4L256.9 941.8L272.8 946.5L291.4 951L310.5 954.9L331.5 958.4L355.1 961.7L381.3 964.7L408.1 967.2L438.7 969.5L473.1 971.7L509.7 973.5Z" fill="#68a2c9"/><path d="M516.5 973.5L547.7 974.8L547.7 586.7L103.4 586.7L105.9 622.1L108.6 654.2L111.5 683.1L114.7 710L118.3 735.3L122 757.3L126.1 777.6L130.7 797.1L135.7 814.7L140.8 829.9L146.9 845.1L153.3 858.7L160.1 870.5L168.2 882.3L176.5 892.4L184.7 900.9L194.5 909.3L205.3 917.2L216.8 924.1L230.1 930.9L243.5 936.5L258.8 941.8L275 946.5L293.3 950.9L313.4 955L335.4 958.6L358.5 961.7L385.1 964.7L413.8 967.3L444.4 969.6L478.8 971.7L516.5 973.5Z" fill="#6aa3ca"/><path d="M523.4 973.5L547.7 974.5L547.7 586.7L103.7 586.7L106.2 622.1L109 654.2L111.9 683L115.1 710L118.7 735.3L122.5 757.3L126.9 778.9L131.4 797.8L136.4 815.2L142 831.6L147.9 845.9L154.1 858.7L161.3 871.1L168.9 882.1L177.5 892.4L186.2 901.2L195.7 909.4L207.2 917.6L219 924.5L232.1 931L245.5 936.5L260.8 941.8L278 946.7L297.1 951.2L316.2 955L339.2 958.7L362.1 961.7L388.9 964.7L417.6 967.2L450.1 969.6L484.6 971.7L523.4 973.5Z" fill="#6ca4cb"/><path d="M530.4 973.5L547.7 974.2L547.7 586.7L103.9 586.7L106.5 622.1L109.3 654.2L112.2 683L115.5 710L119.2 735.3L123 757.8L127.4 779.3L132 797.8L136.8 814.7L142.2 830.2L148.3 845.1L154.9 858.7L161.8 870.5L170 882.3L178.5 892.5L188.1 902L197.6 909.9L209.1 917.9L220.6 924.6L234.4 931.3L249.3 937.3L264.6 942.4L281.8 947.1L300.9 951.5L320.1 955.2L343 958.8L367.9 962L394.7 964.8L423.4 967.3L455.9 969.7L492.2 971.8L530.4 973.5Z" fill="#6ea6cb"/><path d="M537.6 973.5L547.7 973.9L547.7 586.7L104.2 586.7L106.8 622.1L109.6 654.5L112.8 684.7L116.1 711.7L119.8 737L123.7 759L127.9 779.3L132.6 798.2L138 816.4L143.3 831.6L149.7 846.8L156.6 860.3L163.7 872.2L172.3 884L180.4 893.4L189.9 902.6L200.3 911L211 918.3L222.5 924.8L236 931.3L251.2 937.3L266.5 942.3L283.7 947.1L303.7 951.6L323.9 955.3L346.8 958.9L371.7 962L400.4 965L431 967.6L463.5 969.8L537.6 973.5Z" fill="#70a7cc"/><path d="M544.9 973.5L547.7 973.6L547.7 586.7L104.5 586.7L107.1 622.1L109.9 654.2L113.1 684.7L116.5 711.7L120.3 737L124.2 759L128.8 780.8L133.5 799.5L138.6 816.4L144.6 833.3L150.4 846.8L157.3 860.3L164.5 872.2L172.8 883.5L182.1 894.1L191 902.6L201.5 911L212.9 918.6L224.4 925.1L237.8 931.4L253.1 937.3L268.4 942.3L287.5 947.4L306.7 951.7L327.7 955.5L350.7 959L375.5 962.1L404.2 965L434.8 967.5L467.4 969.7L503.7 971.7L544.9 973.5Z" fill="#72a8cc"/><path d="M512.8 971.8L547.7 973.4L547.7 586.7L104.7 586.7L107.3 620.5L110.1 652.6L113.1 681.3L116.4 708.3L120.1 733.6L124 755.6L128.1 775.9L132.7 794.5L137.5 811.4L143.3 828.3L148.8 841.8L155.5 855.7L162.1 867.1L170.2 878.9L178.5 889.1L188.1 898.9L197.6 907.2L207.6 914.4L218.7 921.2L232.1 928.1L245.5 933.8L260.8 939.3L278 944.4L295.2 948.7L316.2 953L337.3 956.6L360.2 959.8L385.1 962.7L411.9 965.3L442.5 967.7L476.9 970L512.8 971.8Z" fill="#74a9cd"/><path d="M519.3 971.8L547.7 973.1L547.7 586.7L105 586.7L107.7 622.1L110.6 654.2L113.6 683L117 710L120.8 735.3L124.7 757.3L129 777.6L133.6 796.2L138.6 813L144.1 828.5L150.3 843.5L157 857L164 868.8L172.4 880.6L180.4 890.2L189.4 899.2L199.5 907.7L209.1 914.5L220.6 921.5L234 928.3L249.3 934.6L264 939.8L281.5 944.8L299 949L318.1 952.9L340.6 956.6L364.1 959.9L388.9 962.7L417.6 965.4L448.2 967.8L482.7 970L519.3 971.8Z" fill="#76abce"/><path d="M525.9 971.8L547.7 972.8L547.7 586.7L105.3 586.7L107.8 620.5L110.7 652.6L113.8 681.3L117.2 708.3L121 733.6L124.9 755.6L129.1 775.9L133.7 794.5L138.7 811.4L144.1 826.9L150.2 841.8L156.8 855.3L163.7 867.1L172 878.9L180.4 889.1L190 898.7L199.5 906.8L211 914.9L222.5 921.8L235.9 928.4L251.1 934.7L265.9 939.8L283.6 944.8L300.9 948.9L322 953.1L343 956.6L367.9 959.9L392.7 962.7L421.4 965.4L454 967.8L488.4 970L525.9 971.8Z" fill="#78acce"/><path d="M532.6 971.8L547.7 972.5L547.7 586.7L105.5 586.7L108.1 620.5L111 652.6L114.1 681.3L117.5 708.3L121.1 732.1L125.3 755.6L129.6 775.9L134.5 795.4L139.8 813L145.2 828.3L151.7 843.5L158.5 857L165.7 868.8L174.2 880.6L182.3 890.1L191.6 899.2L201.8 907.7L212.9 915.3L224.4 922L237.8 928.6L252.9 934.7L268.4 939.9L285.8 944.8L304.8 949.2L325.5 953.3L346.8 956.7L371.7 960L398.5 962.9L427.2 965.5L459.7 967.9L494.1 970L532.6 971.8Z" fill="#7aadcf"/><path d="M539.5 971.8L547.7 972.2L547.7 586.7L105.8 586.7L108.6 622.1L111.5 654.2L114.7 683L118.2 710L122.1 735.3L126.1 757.3L130.5 777.6L135.3 796.2L140.4 813L146 828.6L152.4 843.5L159.3 857L166.5 868.8L174.7 880.1L183.9 890.8L192.7 899.2L203.4 907.9L214.8 915.7L226.3 922.3L239.7 928.7L254.6 934.7L270.3 939.9L287.5 944.7L306.7 949.1L327.7 953.2L349.6 956.6L375.4 960L402.3 962.9L432.9 965.6L465.4 967.9L501.8 970.1L539.5 971.8Z" fill="#7caed0"/><path d="M546.4 971.8L547.7 971.9L547.7 586.7L106.1 586.7L108.7 620.5L111.7 652.6L115 683L118.5 710L122.5 735.3L126.5 757.3L131 777.6L135.8 796.2L141 813L147.2 829.9L153.6 844.6L160 857L167.3 868.8L176 880.6L184.2 890L193.8 899.2L204.2 907.7L214.8 914.9L228.2 922.5L241.6 928.8L256.4 934.7L272.2 939.9L290.1 944.8L310.5 949.4L331.5 953.4L354.5 956.9L379.4 960.1L408.1 963.1L438.7 965.7L471.2 968L507.5 970L546.4 971.8Z" fill="#7dafd0"/><path d="M515.8 970.2L547.7 971.6L547.7 586.7L106.4 586.7L109 620.5L111.8 650.9L115 679.6L118.4 706.6L122.3 732L126.3 753.9L130.7 774.2L135.4 792.8L140.4 809.7L146 825.3L152.2 840.1L158.9 853.6L165.9 865.4L174.3 877.2L182.3 886.9L191.1 895.8L201 904.3L211 911.6L222.5 918.6L235.9 925.6L249.3 931.3L264.6 936.9L281.8 942.1L299.4 946.5L320.1 950.8L341.1 954.5L364.1 957.8L388.9 960.8L415.7 963.4L446.3 965.9L480.7 968.2L515.8 970.2Z" fill="#7fb0d1"/><path d="M522.1 970.2L547.7 971.3L547.7 586.7L106.6 586.7L109.3 620.5L112.1 650.9L115.4 680.2L118.8 706.6L122.7 732L126.8 753.9L131.2 774.2L135.9 792.8L141 809.7L146.4 824.9L152.9 840.1L159.4 853L166.7 865.4L174.7 876.6L183.7 887.4L192.2 895.8L202.1 904.3L212.9 912L224.4 918.9L237.8 925.7L253.1 932.2L268.4 937.5L285.6 942.6L302.8 946.8L323.9 951.1L344.9 954.6L367.9 957.9L392.7 960.8L421.4 963.6L452 966L486.5 968.3L522.1 970.2Z" fill="#80b1d1"/><path d="M528.4 970.2L547.7 971L547.7 586.7L106.9 586.7L109.6 620.9L112.6 652.6L115.9 681.3L119.2 706.6L123 731.2L126.9 752.2L131.2 772.5L136.4 792.7L142.2 811.3L147.7 826.6L153.6 840.2L160.4 853.6L167.6 865.4L176 877.2L184.7 887.4L193.8 896.3L203.4 904.3L214.8 912.4L226.8 919.5L239.7 925.9L255 932.3L270.3 937.5L287.5 942.5L304.8 946.7L325.8 950.9L346.8 954.5L371.7 957.9L396.6 960.8L425.3 963.5L455.9 965.9L490.3 968.2L528.4 970.2Z" fill="#81b2d2"/><path d="M534.9 970.2L547.7 970.7L547.7 586.7L107.2 586.7L109.6 617.5L113 652.6L116.2 681.3L119.8 708.3L123.6 732L127.7 753.9L132.1 774.2L137 792.8L142.2 809.6L147.9 825.4L154.2 840.1L161.2 853.6L168.4 865.4L176.6 876.8L185.7 887.4L194.3 895.8L205.3 904.9L216.6 912.7L228.2 919.5L241.6 926.1L256.9 932.3L272.2 937.5L289.4 942.5L306.7 946.6L327.7 950.8L348.8 954.3L373.6 957.8L400.4 960.8L429.1 963.5L461.6 966L498 968.3L534.9 970.2Z" fill="#83b3d2"/><path d="M541.5 970.2L547.7 970.4L547.7 586.7L107.4 586.7L110.5 623.8L113.5 654.2L116.8 683L120.2 708.3L124 732L128.1 753.9L132.6 774L137.5 792.8L142.8 809.7L149 826.6L155.5 841.4L161.9 853.6L169.2 865.4L177.8 877.2L186.2 886.8L195.7 896.1L205.6 904.3L217.9 912.7L230.1 919.8L243.5 926.2L258.8 932.4L274.1 937.6L291.4 942.4L310.5 946.9L331.5 951L354.5 954.7L379.4 958.1L404.2 960.8L432 963.4L463.5 965.8L503.7 968.3L541.5 970.2Z" fill="#84b3d3"/><path d="M512.9 968.5L547.7 970.1L547.7 586.7L107.7 586.7L113.1 647.5L115.4 668.6L119.2 698.7L123 723.5L126.9 745.3L131.9 769.1L136.4 787L141.7 804.6L147 819.8L153.3 835L159.4 847.5L166.7 860.3L174.7 872L183 882.3L192.8 892.4L202.4 900.9L212.9 908.7L224.8 916.1L237.7 922.9L251.2 928.8L267.1 934.7L283.5 939.8L299 943.8L319 948.2L339.2 951.9L362.1 955.4L387 958.6L417.1 961.7L442.5 963.9L480.7 966.6L512.9 968.5Z" fill="#86b4d3"/><path d="M518.9 968.5L547.7 969.8L547.7 586.7L108 586.7L113.5 648.2L117.3 681.3L121 708.3L124.9 732.7L128.8 752.7L132.6 770L138.1 791.1L143.9 809.7L149.6 824.9L155.5 838.4L161.3 849.7L168.9 862.6L176.6 873.4L184.2 882.6L193.8 892.4L203.6 900.9L215.2 909.3L226.3 916.2L239.7 923.1L254.9 929.6L268.9 934.7L285.6 939.8L305.6 944.8L322 948.3L341.1 951.8L362.1 955L388.9 958.4L421 961.7L442.5 963.6L482.7 966.4L518.9 968.5Z" fill="#87b5d4"/><path d="M525.1 968.5L547.7 969.5L547.7 586.7L108.3 586.7L111.5 625.5L113.7 647.5L117.3 678.7L121.1 706.6L124.9 730.2L128.8 750.5L132.9 769.1L138.3 790L144.1 808.3L149.8 823.8L156.2 838.4L163.2 851.8L170.8 864.2L178.5 874.7L186.5 884L195.7 893.2L205.3 901.3L216.5 909.3L227.6 916.1L240.8 922.9L255 929L270.8 934.7L287.6 939.8L306.7 944.5L324 948.2L342.8 951.6L365 955L392.7 958.4L421.4 961.4L450.1 963.8L490.3 966.5L525.1 968.5Z" fill="#89b6d5"/><path d="M531.5 968.5L547.7 969.2L547.7 586.7L108.6 586.7L111.5 622.2L114.1 647.5L117.3 676.2L121.3 704.9L125.1 728.6L129.6 752.2L134.5 773.7L139.2 791.1L144.5 808L150.2 823.2L156.1 836.7L163.2 850.4L170.8 862.9L178.8 873.9L188.1 884.6L197.6 894L208.1 902.6L220.4 911L232.1 917.8L245.5 924.3L260.8 930.5L276.1 935.8L293.3 940.7L310.3 944.8L331.5 949.1L352.6 952.7L377.4 956.2L404.2 959.3L429.4 961.7L463.5 964.4L531.5 968.5Z" fill="#8ab7d5"/><path d="M538.1 968.5L547.7 968.9L547.7 586.7L108.8 586.7L111.5 618.8L114.4 647.5L117.7 676.2L121.7 704.9L125.8 730.3L130.1 752.2L134.5 771.6L139.8 791.1L145.7 809.7L151.6 824.9L157.6 838.4L164.8 851.9L172.2 863.7L180.4 874.8L190 885.6L198.9 894.1L209.3 902.6L220.6 910.3L233.6 917.8L247.4 924.4L262.7 930.6L278 935.7L295.2 940.6L312.7 944.8L333.4 949L356.4 952.8L381.3 956.2L406.1 959.1L433.7 961.7L465.4 964.2L499.9 966.5L538.1 968.5Z" fill="#8db9d6"/><path d="M544.7 968.5L547.7 968.6L547.7 586.7L109.1 586.7L112 620.5L115.4 653.5L118.7 681.3L122.3 706.6L126.2 730.3L130.7 752.9L135.2 772.5L140.2 790.9L145.8 808L151.7 823.7L158.4 838.4L165.1 851.1L172.8 863.2L180.6 873.9L190 884.5L200 894.1L211 902.9L222.5 910.7L234 917.2L247.4 923.7L261.8 929.6L278 935.1L295.2 940.1L315.1 944.8L335.4 948.8L358.3 952.6L383.2 956L410 959.1L438 961.7L471.2 964.3L507.5 966.6L544.7 968.5Z" fill="#90bbd8"/><path d="M517.4 966.8L547.7 968.3L547.7 586.7L109.4 586.7L112.2 618.8L115.4 650.4L118.7 677.9L122.2 703.2L126.1 726.9L130.3 748.8L134.9 769.1L139.9 787.7L145.8 806.3L151.5 821.5L157.5 835L164.4 848.5L171.7 860.3L180.2 872.2L188.1 881.4L197.4 890.8L207.3 899.2L218.7 907.4L230.2 914.4L243.4 921.2L256.9 927L272.2 932.7L289.4 937.9L306.7 942.4L325.7 946.5L346.8 950.4L369.8 953.9L394.7 957L421.4 959.8L450.1 962.3L482.7 964.7L517.4 966.8Z" fill="#93bdd9"/><path d="M523.4 966.8L547.7 968L547.7 586.7L109.7 586.7L112.5 618.8L115.6 649.2L119 677.9L122.6 703.2L126.5 726.9L130.7 748.4L135.4 769.1L140.2 787.1L145.8 804.6L151.7 820.5L158.1 835L165.1 848.4L172.5 860.3L180.4 871.3L188.3 880.6L198.5 890.8L209.1 899.7L220.4 907.7L232.1 914.6L244.9 921.2L258.8 927.1L274.1 932.7L291.4 937.9L308.6 942.3L328.2 946.5L348.8 950.2L371.7 953.7L396.6 956.8L425.3 959.8L454 962.3L488.4 964.7L523.4 966.8Z" fill="#96beda"/><path d="M529.6 966.8L547.7 967.7L547.7 586.7L110 586.7L113 620.5L115.9 649.2L119.2 676.5L123 703.5L126.9 726.5L131.2 748.8L135.9 769.1L141 787.7L146.4 804.6L152.1 819.8L158 833.3L165.1 847L172.8 859.5L180.7 870.5L190 881.3L199.5 890.8L209.7 899.2L221.7 907.7L234 914.9L246.5 921.2L260.8 927.2L277 933L294.1 938.1L312.4 942.6L331.5 946.7L352.6 950.4L375.5 953.8L402.3 957.1L431 960L459.7 962.4L494.1 964.8L529.6 966.8Z" fill="#99c0db"/><path d="M535.9 966.8L547.7 967.4L547.7 586.7L110.3 586.7L113.3 620.5L116.3 649.2L119.5 676.2L123.4 703.2L127.4 726.9L131.7 748.8L136.4 769.1L141.5 787.7L147.6 806.3L153.5 821.5L159.6 835L166.8 848.5L174.2 860.3L182.3 871.4L191.9 882.3L200.6 890.8L211 899.3L222.5 907.3L234.5 914.4L248 921.2L262.7 927.3L278.9 933L296.2 938.1L314.3 942.5L333.4 946.5L356.4 950.5L379.4 953.8L406.1 957.1L435.8 960L465.4 962.4L499.9 964.8L535.9 966.8Z" fill="#9cc2dc"/><path d="M542.3 966.8L547.7 967L547.7 586.7L110.6 586.7L113.5 619.3L116.8 650.9L120.1 677.9L123.8 703.2L127.8 726.9L132.2 748.8L136.9 769.1L142.2 787.9L147.9 805.5L153.6 820.3L160.3 835L167 847.6L174.7 859.8L182.5 870.5L191.9 881.2L201.7 890.8L212.9 899.9L224.3 907.7L235.9 914.4L249.6 921.2L264.6 927.4L280.8 933L298.3 938.1L316.2 942.4L336 946.5L358.3 950.4L383.2 953.9L410 957.1L438.7 959.9L469.3 962.4L505.6 964.8L542.3 966.8Z" fill="#9ec4dd"/><path d="M516.4 965.1L547.7 966.7L547.7 586.7L110.8 586.7L113.6 617.1L116.9 649.2L120.3 676.2L123.9 701.5L127.9 725.2L132.3 747.2L136.6 765.7L141.6 784.3L147.6 802.9L153.4 818.1L159.4 831.7L166.4 845.1L173.6 857L182.1 868.8L190.7 878.9L199.5 887.8L209.1 896L220.6 904.4L232.1 911.5L245.5 918.5L259.1 924.5L274.1 930.2L291.4 935.6L308.6 940.1L327.7 944.4L348 948.2L369.8 951.6L394.8 955L421.4 957.9L450.1 960.5L482.7 963L516.4 965.1Z" fill="#a1c5de"/><path d="M522.3 965.1L547.7 966.4L547.7 586.7L111.1 586.7L114 618.8L117.3 649.3L120.9 677.9L124.3 701.5L128.4 725.2L132.6 746.4L137.1 765.7L142.2 784.2L147.9 802L153.6 817.2L160.1 831.6L167 844.9L174.4 857L182.3 867.9L190.2 877.2L200.2 887.4L210 895.8L220.6 903.6L232.6 911L245.5 917.8L258.8 923.7L274.4 929.6L291.4 935L310.5 940L329.6 944.3L350.8 948.2L372.4 951.6L398.3 955L425.3 957.9L454 960.5L486.5 962.9L522.3 965.1Z" fill="#a3c7df"/><path d="M528.3 965.1L547.7 966.1L547.7 586.7L111.4 586.7L114.4 618.8L117.4 647.5L121.1 677L124.9 702.9L128.8 725.1L133.2 747.2L138 767.4L142.7 784.3L147.9 800.3L153.6 815.6L160 829.9L167 843.6L174.7 856.1L182.6 867.1L191.9 878.1L201.5 887.6L211.2 895.8L222.5 904L234 911L247.4 918L260.8 923.8L276.2 929.6L293.3 935L312.4 940L331.5 944.1L353.6 948.2L375.5 951.6L401.8 955L431 958L459.7 960.6L492.2 962.9L528.3 965.1Z" fill="#a5c8e0"/><path d="M534.4 965.1L547.7 965.8L547.7 586.7L111.7 586.7L114.7 618.8L117.8 647.5L121.1 674.3L125.1 701.5L129.2 725.2L133.7 747.2L138.3 766.5L143.8 786L149.4 802.9L155.5 818.6L162.3 833.3L168.9 845.6L176.6 857.7L184.8 868.8L193.8 879L203.4 888.3L212.9 896.3L224.4 904.4L237.8 912.4L251.2 919L266.5 925.4L281.8 930.8L299 936L316.2 940.3L335.4 944.4L356.4 948.2L379.4 951.7L406.1 955L434.8 958L463.5 960.5L498 963L534.4 965.1Z" fill="#a8cae1"/><path d="M540.6 965.1L547.7 965.4L547.7 586.7L112 586.7L115.2 620.5L118.3 649.2L121.8 676.2L125.5 701.5L129.7 725.2L134.2 747.2L138.6 765.7L144.1 785.1L149.8 802.3L155.5 817.1L162.2 831.6L169.5 845.1L176.9 857L186.2 869.3L195.7 880L205.3 889.1L215.8 897.5L228.2 906L239.9 912.7L253.8 919.5L268.4 925.5L285.1 931.3L302.6 936.4L320.1 940.7L340.1 944.8L362.1 948.7L385.1 952L411.9 955.3L440.6 958.2L471.2 960.7L505.6 963.1L540.6 965.1Z" fill="#aacbe2"/><path d="M546.9 965.1L547.7 965.1L547.7 586.7L112.3 586.7L115.4 619.4L118.9 650.9L122.6 679.6L126.2 703.2L130.4 726.9L134.7 747.2L139.6 767.4L144.9 786L150.6 802.9L156.7 818.1L163.2 832.2L170.8 846.2L178.5 858L186.7 868.8L195.7 878.9L206.4 889.1L217 897.5L228.2 905.2L241.4 912.7L255 919.3L270.3 925.6L285.6 930.9L302.8 935.9L322 940.6L342.7 944.8L364.1 948.5L387 951.8L413.8 955.1L442.5 958L473.1 960.5L509.4 963L546.9 965.1Z" fill="#accce2"/><path d="M521.8 963.4L547.7 964.8L547.7 586.7L112.6 586.7L115.5 617.1L119 649.2L122.5 676.2L126.1 699.9L130.2 723.5L134.5 744.4L139.2 764.1L144.1 781.4L149.8 798.9L155.5 813.9L162 828.3L168.9 841.6L176.6 854L184.9 865.4L193.8 875.9L203.4 885.4L213.7 894.1L224.4 901.9L236.6 909.3L249.6 916.1L264.6 922.7L278.6 927.9L295.2 933.2L313.6 938.1L333.4 942.5L354.5 946.5L376.2 949.9L401.6 953.3L429.1 956.3L455.9 958.8L488.4 961.3L521.8 963.4Z" fill="#afcee3"/><path d="M527.6 963.4L547.7 964.5L547.7 586.7L112.9 586.7L115.8 617.1L119.2 648L123 677.3L126.7 701.5L130.7 723.6L135.2 745.5L140.2 765.7L145 782.6L150.6 799.5L157.3 816.4L163.5 829.9L170.8 843.5L178.3 855.3L186.2 865.9L195.7 876.9L204.8 885.7L214.9 894.1L226.3 902.3L238 909.3L251.2 916.1L264.6 922L280.5 927.9L297.1 933.1L315.8 938.1L335.4 942.4L357.6 946.5L379.4 949.9L405.1 953.3L432.9 956.3L459.7 958.7L492.2 961.2L527.6 963.4Z" fill="#b1cfe4"/><path d="M533.5 963.4L547.7 964.2L547.7 586.7L113.2 586.7L116.1 617.1L119.3 645.8L123 674.6L126.9 699.7L130.8 721.8L135.3 743.8L140.2 764L145.6 782.6L151.2 799.5L157.5 815.4L164.2 829.9L170.8 842.2L178.5 854.3L186.7 865.4L195.7 875.8L205.9 885.7L216.8 894.7L228.1 902.6L239.7 909.5L253.1 916.3L266.5 922.1L282.3 927.9L299 933.1L318.1 938.1L339.2 942.6L360.2 946.5L382.4 949.9L408.7 953.3L436.7 956.3L465.4 958.8L498 961.2L533.5 963.4Z" fill="#b3d1e5"/><path d="M539.6 963.4L547.7 963.8L547.7 586.7L113.5 586.7L116.6 618.8L119.6 645.8L123 671.9L127 698.2L131.2 721.8L135.8 743.8L140.3 762.4L146 782.2L151.7 799.2L157.5 813.8L164.1 828.3L171.4 841.8L178.8 853.6L188.1 866L197.6 876.8L207.2 885.9L217.2 894.1L229.4 902.6L241.6 909.8L255 916.5L270.1 922.9L284.2 927.9L300.9 933.1L320.4 938.1L341.1 942.5L363.2 946.5L385.6 949.9L412.2 953.3L440.6 956.2L469.3 958.8L503.7 961.3L539.6 963.4Z" fill="#b6d2e6"/><path d="M545.7 963.4L547.7 963.5L547.7 586.7L113.8 586.7L117.1 620.5L120.4 649.2L124 676.2L128 701.5L132.3 725.2L136.7 745.5L141.8 765.7L147.2 784.3L153.1 801.2L159.4 816.7L165.7 829.9L173.1 843.5L180.9 855.3L189.9 867.1L199.1 877.2L209.1 886.6L218.7 894.3L230.7 902.6L243.5 910.1L256.9 916.6L271.8 922.9L287.5 928.4L304.8 933.5L323.9 938.3L344.9 942.8L366.1 946.5L388.9 949.9L415.8 953.3L444.4 956.2L475 958.8L509.4 961.3L545.7 963.4Z" fill="#b8d4e6"/><path d="M521.8 961.7L547.7 963.2L547.7 586.7L114.1 586.7L117.3 619.2L120.5 647.5L124.2 674.5L127.8 698.2L132.1 721.8L136.4 742.2L140.9 760.7L146.2 779.3L151.7 795.8L157.5 810.7L163.8 824.9L171 838.4L178.5 850.6L186.7 862L195.7 872.6L205.4 882.3L215.2 890.8L226.3 898.9L237.8 906.1L251.2 913.2L265 919.5L279.9 925.2L297.1 930.8L314.3 935.5L333.4 939.9L354.5 944L377.4 947.8L402.3 951.2L429.1 954.3L455.9 956.9L488.4 959.5L521.8 961.7Z" fill="#bbd5e7"/><path d="M527.5 961.7L547.7 962.8L547.7 586.7L114.4 586.7L117.4 617.1L121.1 649.3L124.9 677.3L128.5 699.9L132.6 722L137.3 743.8L142.2 763.4L147.3 780.9L153.1 797.8L159.1 813L165.4 826.6L172.8 840.2L180.4 852.2L189 863.7L197.6 873.6L207.2 883L216.8 891.1L228.2 899.3L241.6 907.5L255 914.3L270.3 920.9L284.8 926.2L300.9 931.3L318.1 935.9L337.3 940.2L358.3 944.2L381.3 947.9L406.1 951.3L432.9 954.3L461.6 957L494.1 959.5L527.5 961.7Z" fill="#bdd7e8"/><path d="M533.3 961.7L547.7 962.5L547.7 586.7L114.7 586.7L117.7 617.1L121.1 646.4L124.9 674.7L128.8 698.8L133 721.8L137.7 743.8L142.4 762.4L147.9 781L153.6 797.7L159.4 812.1L166.1 826.6L173.5 840.1L181 851.9L190 863.8L199.5 874.6L209.1 883.7L219.8 892.4L231.9 900.9L243.5 907.7L256.7 914.4L272.2 921L286.6 926.2L303 931.3L322 936.3L343 940.9L364.1 944.8L386.2 948.2L411.9 951.6L438.7 954.5L467.4 957.1L499.9 959.6L533.3 961.7Z" fill="#c0d8e9"/><path d="M539.2 961.7L547.7 962.2L547.7 586.7L115 586.7L118.1 617.1L121.1 643.6L124.9 672L128.8 696.4L133.1 720.1L137.8 742.1L142.9 762.4L148.4 780.9L154.3 797.8L160.5 813L167 826.9L174.7 840.8L182.3 852.5L190.9 863.7L199.9 873.9L210.5 884L221 892.4L233.2 900.9L245.5 908L258.8 914.7L274.1 921.1L288.5 926.2L305 931.3L324.7 936.4L344.9 940.8L367.3 944.8L389.4 948.2L415.6 951.6L442.5 954.5L471.2 957L503.7 959.5L539.2 961.7Z" fill="#c2daea"/><path d="M545.3 961.7L547.7 961.8L547.7 586.7L115.3 586.7L118.8 620.5L122.2 649.2L125.9 676.2L129.8 699.9L133.9 721.8L138.3 742.1L143.5 762.4L149 780.9L154.9 797.8L161.3 813.4L167.6 826.6L175.1 840.1L182.7 851.9L191.8 863.7L200.9 873.9L211 883.5L222.2 892.4L234 900.5L246.2 907.7L259.9 914.4L274.1 920.4L290.4 926.2L307.1 931.3L327 936.4L348.8 941L370.2 944.8L392.7 948.2L419.2 951.6L444.4 954.3L476.9 957.1L505.6 959.3L545.3 961.7Z" fill="#c5dbea"/><path d="M522.4 960L547.7 961.4L547.7 586.7L115.7 586.7L118.7 617.1L122.5 649.2L126.3 676.2L130.2 699.9L134.4 721.8L138.3 740.1L143.5 760.7L149 779.3L154.9 796.2L161.1 811.4L167 824.1L174.7 838.1L182.3 850.1L190 860.4L199.5 871.4L208.9 880.6L218.9 889.1L230.1 897.2L241.6 904.3L255 911.4L269.3 917.8L283.7 923.3L300.9 928.9L318.1 933.7L339.2 938.5L363 943.1L384 946.5L408.7 949.9L438.5 953.3L459.7 955.3L497.3 958.3L522.4 960Z" fill="#c8dceb"/><path d="M528 960L547.7 960.9L547.7 586.7L116.2 586.7L117.1 598.5L118.3 606.9L119 617.1L120.1 623.8L121 634L122.1 640.7L122.9 649.2L123.9 654.2L124.7 662.7L126 669.4L126.9 677L127.8 681.3L128.6 688L129.7 693.1L130.6 699.9L131.5 703.2L132.5 710L133.4 713.4L134.5 720.3L135.4 723.5L136.2 728.6L137.2 732L140.1 745.5L141.2 748.8L141.8 752.2L142.9 755.6L144.1 760.7L149.6 779.3L155.5 796.2L161.3 810.3L167 822.6L174.7 836.8L182.1 848.5L190 859.2L195.7 866.1L201.3 872.2L209.1 879.8L218.7 888L230.1 896.3L242.9 904.3L255.8 911L271 917.8L284.2 922.9L299.6 927.9L318.1 933.1L339.3 938.1L365.8 943.1L387 946.5L412.2 949.9L461.6 955.1L502.4 958.3L519 959.2L528 960Z" fill="#cadeec"/><path d="M536.4 960L547.7 960.4L547.7 586.7L116.7 586.7L117.3 596L118.6 605.3L119.2 614.1L120.4 622.1L121.1 630.8L122.5 639L123 646.1L124.2 652.6L124.9 660.2L126.1 666.1L126.9 673.3L128.2 679.6L128.8 685.4L130.1 691.4L130.7 696.7L131.9 701.5L132.6 707.2L133.8 711.7L134.8 718.4L135.8 721.8L136.4 726.3L137.6 730.3L138.3 734.9L139.5 738.7L140.2 743L141.6 747.2L142.2 750.7L143.3 753.9L144.4 759L145.1 760.7L146 764.7L147 767.4L148.3 772.5L149.1 774.2L149.8 777.3L155.8 794.5L163.2 812.4L169.2 824.9L176.6 838.1L184.2 849.8L192.2 860.3L199.5 868.8L211.6 880.6L217.5 885.7L226.3 892.4L235.9 898.9L248 906L260.8 912.3L273.4 917.8L291.8 924.5L308.3 929.6L327.7 934.7L350.7 939.6L369.8 943.1L375.5 943.8L380.3 944.8L385.1 945.3L391.6 946.5L396.6 947L402.3 948L410 948.7L417.3 949.9L466.5 955L476.9 955.6L486.8 956.6L499.9 957.3L507.5 958.2L522.8 958.9L536.4 960Z" fill="#cddfed"/><path d="M523.4 958.3L547.7 959.8L547.7 586.7L117.2 586.7L120 613.7L123.5 642.4L127 667.8L131.4 694.8L135.6 716.8L140.2 737.9L145.7 759L150.8 775.9L156.7 792.8L162.9 808L169.3 821.5L176.6 834.8L184.2 846.7L191.9 857.1L201.5 868.2L211 877.7L220.6 885.8L232.1 894.2L243.5 901.5L256.9 908.6L270.3 914.8L286.7 921.2L301.9 926.2L320.1 931.4L339.2 935.9L358.3 939.8L381.3 943.8L406.1 947.4L431 950.4L458.7 953.3L490.3 956L523.4 958.3Z" fill="#cfe1ee"/><path d="M537.5 958.3L547.7 958.9L547.7 586.7L118 586.7L121.1 616.1L124.9 646.6L128.8 672.8L132.6 695.4L137.1 718.4L142.1 740.4L147.1 759L152.3 775.9L158.3 792.8L164.6 808L171.1 821.5L178.7 835L186.5 846.8L195.5 858.7L204.6 868.8L214.8 878.6L225.6 887.4L237.7 895.8L249.3 902.7L262.7 909.6L276.1 915.4L291.4 921.2L308.6 926.7L327.7 931.9L347.4 936.4L367.9 940.3L390.8 944.1L415.7 947.5L440.6 950.4L469.5 953.3L501.8 955.9L537.5 958.3Z" fill="#d2e2ef"/><path d="M525.2 956.6L547.7 958.1L547.7 586.7L118.8 586.7L122.1 617.1L125.5 644.1L129.3 669.4L133.6 694.8L138.3 718.4L142.6 737L147.9 757.1L153.2 774.2L159.2 791.1L165.1 805.3L171.2 818.1L178.7 831.6L186.3 843.5L195.1 855.3L203.9 865.4L214.2 875.6L224.4 884.2L235.8 892.4L247.4 899.6L260.8 906.8L276.1 913.7L291.1 919.5L306.7 924.6L324.4 929.6L343 934.1L362.4 938.1L385.1 942L410 945.7L434.8 948.7L462.1 951.6L492.2 954.2L525.2 956.6Z" fill="#d3e3ef"/><path d="M539.2 956.6L547.7 957.2L547.7 586.7L119.5 586.7L123.3 620.5L127.1 649.2L131 674.5L134.6 694.8L138.7 715.1L144.2 738.7L149.8 759L154.7 774.2L160.8 791.1L167 805.7L174 819.8L181.7 833.3L189.6 845.1L197.6 855.5L207.2 866.2L217 875.6L227.2 884L239.1 892.4L251.2 899.8L264.6 906.7L279.9 913.5L295.2 919.3L311.5 924.5L330 929.6L350.7 934.4L371.7 938.5L398.5 942.9L423.4 946.3L471.2 951.4L509.4 954.6L539.2 956.6Z" fill="#d4e3ee"/><path d="M527.7 955L538.1 955.9L547.7 956.4L547.7 586.7L120.1 586.7L120.9 591.7L121.7 601.9L122.9 608.6L123.7 618.8L124.9 625.5L125.5 632.3L126.7 639L127.6 647.5L128.7 652.6L129.4 659.3L130.5 664.4L131.3 671.1L132.4 676.2L133.3 683L134.5 688L135.1 693.1L136.4 698.1L137.1 703.2L138.3 707.6L138.9 711.7L140.2 716.5L141.1 721.8L142.2 725L142.7 728.6L144.1 732.8L144.8 737L146 740.4L146.6 743.8L147.9 747.4L148.5 750.5L149.7 753.9L150.4 757.3L151.7 760.6L152.5 764.1L153.6 766.6L154.2 769.1L155.5 772.4L156.5 775.9L157.5 777.9L158.3 780.9L159.4 783.1L160.2 786L161.1 787.7L162.2 791.1L163.2 792.8L165.7 799.5L166.8 801.2L171.3 811.4L179.5 826.6L186.8 838.4L198.2 853.6L205.6 862L217.7 873.9L232.1 885.5L241.6 892.1L255 900.1L268.4 906.9L279.9 912L293.3 917.2L300.9 919.6L302.8 920.5L306.7 921.5L308.6 922.3L320.1 925.7L323.9 926.5L325.8 927.3L346.8 932.5L350.5 933L362.1 935.7L367.9 936.5L371.7 937.5L377.4 938.3L381.3 939.2L387 939.9L390.8 940.8L396.8 941.4L402.3 942.5L410 943.4L413.8 944.2L420.8 944.8L427.2 945.9L434.8 946.6L442.5 947.7L450.1 948.3L457.8 949.4L467.4 950L475 951L486.5 951.8L494.1 952.7L505.6 953.3L515.2 954.4L527.7 955Z" fill="#d5e3ed"/><path d="M535.1 955L547.7 956L547.7 586.7L120.7 586.7L124.1 617.1L124.9 621.8L125.8 630.6L127 637.3L128 645.8L128.8 649.7L131.6 669.4L135.5 691.4L139.3 710L145.2 735.3L150.8 755.6L156.8 774.2L162.5 789.4L168.3 802.9L175.8 818.1L183.7 831.6L192.9 845.1L201 855.3L210.3 865.4L218.7 873.2L230.1 882.8L239.7 889.6L253.1 897.8L266.5 904.9L281.8 911.7L295.2 916.9L310.5 922L327.7 926.9L348.8 932L373.6 937.1L392.7 940.3L417.6 944L444.4 947.3L476.9 950.6L519 954L535.1 955Z" fill="#d6e3ed"/><path d="M541 955L547.7 955.5L547.7 586.7L121.2 586.7L124.2 613.7L128 642.4L131.9 667.8L135.8 689.7L139.9 710L145.4 733.6L151 753.9L157 772.5L164.7 792.8L170.8 806.3L176.8 818.1L184.2 830.9L192.8 843.5L201.5 854.5L211 864.9L220.5 873.9L232.1 883.2L243.5 891.1L256.9 899L270.3 905.8L285.6 912.4L300.9 918.1L316.2 922.9L335.4 928.2L358.3 933.4L375.5 936.8L396.6 940.3L419.5 943.6L446.3 946.9L480.7 950.4L522.8 953.8L541 955Z" fill="#d7e3ec"/><path d="M547.1 955L547.7 955L547.7 586.7L121.6 586.7L124.4 612L128.2 640.7L132.1 666.1L136 688L140.1 708.3L146 733.4L151.7 753.9L157.5 771.9L163.2 787.3L169.9 802.9L176.7 816.4L184.5 829.9L192.5 841.8L201.7 853.6L211 863.8L221.7 873.9L232.2 882.3L244.4 890.8L256.9 898.2L270.3 905L285.6 911.7L302.2 917.8L318.2 922.9L337 927.9L356.4 932.4L377.4 936.5L396.6 939.8L421.4 943.3L450.1 946.8L482.7 950.1L524.7 953.5L547.1 955Z" fill="#d8e2ec"/><path d="M527.9 953.3L547.7 954.6L547.7 586.7L121.9 586.7L124.6 610.3L128.7 640.7L132.6 665.9L137.2 691.4L141.7 713.4L146.2 732L151.7 752.1L157.5 770L163.2 785.5L169.9 801.2L176.6 814.7L184.2 828.1L191.9 839.7L199.9 850.2L209.1 860.7L219.1 870.5L229.1 878.9L240.7 887.4L253.1 895.2L266.5 902.4L279.9 908.5L295.2 914.6L312.4 920.4L329.6 925.4L346.8 929.7L367.9 934.2L389.4 938.1L411.9 941.5L437 944.8L467.4 948.2L496 950.8L527.9 953.3Z" fill="#d8e2eb"/><path d="M533.6 953.3L547.7 954.2L547.7 586.7L122.3 586.7L125.2 612L129.1 640.7L133.1 666.1L137.6 691.4L142.2 713L146.7 732L151.7 750.1L157.5 768.1L163.2 783.8L169.9 799.5L176.6 813.2L184.2 826.7L191.9 838.4L201.5 850.9L211 861.5L220.6 870.7L230.4 878.9L242.1 887.4L255 895.4L268.4 902.5L281.8 908.6L297.1 914.6L314.3 920.4L331.5 925.3L350.7 930L371.7 934.4L392.6 938.1L415.7 941.6L440.9 944.8L472.3 948.2L501.8 950.8L533.6 953.3Z" fill="#d9e2ea"/><path d="M539.5 953.3L547.7 953.8L547.7 586.7L122.6 586.7L126.5 618.8L130 644.1L134.4 671.1L138.3 692.5L142.8 713.4L147.9 734.3L153.6 754.4L159 770.8L165.1 786.8L171.4 801.2L178.5 815.3L186.2 828.4L194.1 840.1L203.4 851.9L212.6 862L222.5 871.4L233.9 880.6L245.5 888.7L257.3 895.8L270.3 902.6L285.4 909.3L300.9 915.3L318.1 920.9L335.4 925.7L354.5 930.2L376.3 934.7L396.6 938.2L421.4 941.9L446.3 945L476.8 948.2L507.5 950.9L539.5 953.3Z" fill="#dae2ea"/><path d="M545.5 953.3L547.7 953.4L547.7 586.7L123 586.7L126.9 618.5L130.4 644.1L134.5 669.3L138.3 690L142.9 711.7L147.9 732.2L153.6 752.5L159.4 769.9L165.1 785.1L172.2 801.2L179 814.7L187 828.3L195.7 841L204.4 851.9L213.7 862L224.4 872L235.2 880.6L247.5 889.1L260.8 896.9L274.1 903.6L289.4 910.2L304.8 915.9L321.4 921.2L339.2 926L358.3 930.5L379.3 934.7L400.4 938.3L425.3 941.9L450.1 944.9L481.5 948.2L513.3 950.9L545.5 953.3Z" fill="#dbe2e9"/><path d="M527.2 951.6L547.7 953L547.7 586.7L123.4 586.7L126.9 615.5L130.7 642.8L134.5 666.6L138.4 688L143.1 710L147.9 730L153.6 750.5L159.4 768.1L165.1 783.4L172.1 799.5L178.5 812.3L186.2 825.6L193.8 837.1L202.6 848.5L211.6 858.7L222 868.8L232.1 877.2L243.7 885.7L256.9 893.9L270.1 900.9L283.7 907.1L297.9 912.7L314.3 918.3L331.5 923.4L349.5 927.9L369.8 932.3L392 936.4L413.8 939.8L438.8 943.1L467.4 946.4L496 949.1L527.2 951.6Z" fill="#dce2e8"/><path d="M532.9 951.6L547.7 952.6L547.7 586.7L123.7 586.7L126.9 612.5L130.7 640L134.5 664L139.3 689.7L144.1 712.2L149 732L153.8 748.8L159.8 767.4L166.2 784.3L172.8 799.3L179.7 813L186.6 824.9L194.5 836.7L203.4 848.2L212.9 858.9L223.2 868.8L234 877.7L245.1 885.7L256.9 893L270.3 900.2L283.7 906.3L299.8 912.7L314.7 917.8L333.4 923.3L352.1 927.9L371.7 932.1L394.7 936.3L417.1 939.8L442.7 943.1L473.1 946.5L501.8 949.1L532.9 951.6Z" fill="#dce2e8"/><path d="M538.7 951.6L547.7 952.2L547.7 586.7L124.1 586.7L127.4 613.7L131.5 642.4L135.9 669.4L140.2 692.2L144.9 713.4L149.8 732.9L155.5 752.7L161.1 769.1L167 784.6L173.7 799.5L180.4 812.8L188.1 825.8L196.7 838.4L205.3 849.3L214.8 859.7L224.4 868.8L235.9 878.2L247.4 886.2L260.5 894.1L273.5 900.9L287.5 907.2L302.8 913.1L320.1 918.8L337.3 923.6L356.4 928.3L377.4 932.7L398.4 936.4L421.4 939.9L446.8 943.1L478 946.5L507.5 949.2L538.7 951.6Z" fill="#dde2e7"/><path d="M544.7 951.6L547.7 951.8L547.7 586.7L124.5 586.7L128.3 617.1L131.9 642.4L136.4 669.4L140.2 689.7L145 711.7L149.8 730.8L155.5 750.7L161.3 767.8L167.6 784.3L174.7 800L182.3 814.7L189.5 826.6L197.6 838.4L207.1 850.2L216.6 860.3L226.3 869.4L237.8 878.6L249.3 886.5L262.1 894.1L275.2 900.9L289.4 907.2L304.8 913L322 918.7L341.1 924L360.2 928.5L382.2 933L402.3 936.5L427.2 940.1L452 943.3L482.6 946.5L513.3 949.2L544.7 951.6Z" fill="#dde2e6"/><path d="M527.2 949.9L547.7 951.3L547.7 586.7L124.8 586.7L128.8 617.8L132.3 642.4L136.4 667L140.2 687.2L144.1 705.2L149.8 728.6L155.5 748.7L161.3 766L167 781.1L173.6 796.2L180.4 809.7L188.1 822.9L195.7 834.4L205.3 846.8L214.8 857.4L224.4 866.6L235.1 875.6L245.5 883.1L257.7 890.8L270.3 897.7L284.4 904.3L299 910.2L315.9 916.1L332.9 921.2L352.7 926.2L371.7 930.4L394.8 934.7L416.1 938.1L440.9 941.4L470.4 944.8L527.2 949.9Z" fill="#dee1e5"/><path d="M532.9 949.9L547.7 950.8L547.7 586.7L125.3 586.7L128.8 614.8L132.5 640.7L136.4 664.3L140.2 684.7L144.1 702.8L149.8 726.4L155.5 746.6L161.3 764.1L167 779.3L174.4 796.2L180.4 808.2L188.1 821.5L195.7 833L205.3 845.6L214.8 856.2L226.2 867.1L232.2 872.2L241 878.9L250.9 885.7L262.2 892.4L272.2 897.8L286.3 904.3L299 909.5L318.1 916.1L335.4 921.2L355.4 926.2L371.7 929.8L398.1 934.7L419.7 938.1L444.9 941.4L474.9 944.8L532.9 949.9Z" fill="#dee1e5"/><path d="M540.5 949.9L547.7 950.3L547.7 586.7L125.8 586.7L128.8 610.8L132.8 639L136.7 662.7L142.2 690.9L146.4 710L151.7 730.7L157.5 750.1L163.2 767L169.3 782.6L176.6 798.6L184.2 813.1L191.9 825.7L199.6 836.7L209.1 848.4L218.7 858.6L227.8 867.1L238.2 875.6L250.2 884L261.2 890.8L276.1 898.6L291.4 905.4L305.9 911L321 916.1L338.4 921.2L358.9 926.2L381.3 930.9L402.4 934.7L424.4 938.1L450.2 941.4L480.7 944.8L540.5 949.9Z" fill="#dfe1e4"/><path d="M526.7 948.2L547.7 949.8L547.7 586.7L126.4 586.7L129.3 610.3L133.5 639L138.3 667.6L142.2 687.2L146.5 706.6L151.7 727.5L157.5 747.1L163.2 764.1L168.9 779L175.8 794.5L182.3 807.4L190 820.5L197.6 832L207.2 844.3L216.8 854.9L226.3 864.2L235.9 872.2L247.4 880.7L260.7 889.1L273.1 895.8L287.5 902.6L302.8 908.8L319 914.4L335.9 919.5L355.6 924.5L373.6 928.5L396.6 932.9L418.3 936.4L442.7 939.8L471.2 943.1L526.7 948.2Z" fill="#e0e1e3"/><path d="M535.3 948.2L547.7 949.1L547.7 586.7L126.9 586.7L130.7 615.7L134.5 641.2L138.3 663.6L143.1 688L147.9 709.2L153.4 730.3L159 748.8L164.2 764.1L170.8 780.9L177 794.5L184.2 808.5L191.9 821.4L200.1 833.3L209.1 844.7L218.7 855.1L228.2 864.2L239.7 873.6L251.2 881.8L263 889.1L276.1 896L290.3 902.6L306.7 909.1L322.3 914.4L339.5 919.5L358.3 924.2L377.4 928.4L400.4 932.7L423.7 936.4L448.7 939.8L476.9 943L505.6 945.7L535.3 948.2Z" fill="#e0e1e3"/><path d="M544.2 948.2L547.7 948.4L547.7 586.7L127.5 586.7L130.7 611.1L134.9 639L139.2 664.4L144.1 688.8L148.5 708.3L153.6 727.9L159.4 747L165.1 763.7L171.3 779.3L178.5 795.1L186.2 809.6L193.4 821.5L201.6 833.3L211 845L220.6 855.3L230.1 864.2L241.6 873.5L253.1 881.6L265.5 889.1L278.3 895.8L293.1 902.6L308.6 908.6L325.7 914.4L343.3 919.5L363.8 924.5L383.2 928.6L406.1 932.8L429.3 936.4L455 939.8L484.6 943L513.3 945.7L544.2 948.2Z" fill="#e1e0e2"/><path d="M530.9 946.5L547.7 947.8L547.7 586.7L128.1 586.7L131.7 613.7L135.5 639L140 664.4L144.1 685L148.6 704.9L153.6 724.6L159.4 744L165.1 760.8L171 775.9L178.5 792.6L185.6 806.3L192.6 818.1L201.5 831.1L209.9 841.8L219 851.9L229.6 862L239.7 870.5L251.4 878.9L264.6 887.2L277.5 894.1L292 900.9L306.7 906.8L323.8 912.7L340.8 917.8L360.2 922.8L379.4 927L402.3 931.3L423.3 934.7L447.7 938.1L475 941.3L530.9 946.5Z" fill="#e1e0e1"/><path d="M539.7 946.5L547.7 947.1L547.7 586.7L128.7 586.7L132.6 615.4L136.4 640.1L140.7 664.4L145.9 689.7L150.3 708.3L155.5 728.1L161.3 746.8L167 763.1L172.8 777.6L180.4 794L188.1 808.3L195.7 820.7L203.4 831.6L212.9 843.4L222.5 853.6L232.1 862.5L243.5 871.8L255 879.9L267.4 887.4L280.1 894.1L294.9 900.9L310.5 907L327.2 912.7L344.6 917.8L364.1 922.7L383.2 926.8L406.1 931.1L428.9 934.7L453.9 938.1L482.7 941.4L539.7 946.5Z" fill="#e2e0e0"/><path d="M527.3 944.8L547.7 946.4L547.7 586.7L129.3 586.7L132.6 610.8L136.7 637.3L141.2 662.7L146 686.4L150.3 704.9L155.5 724.8L161.3 743.7L167 760.2L173.3 775.9L180.2 791.1L187.3 804.6L194.4 816.4L202.5 828.3L211 839.2L220.6 849.9L230.1 859.1L239.7 867.3L251.2 875.8L264 884L276.1 890.8L290 897.5L306.3 904.3L322 909.9L339.2 915.2L356.4 919.8L376.7 924.5L398.5 928.8L421.4 932.7L446.9 936.4L473.1 939.6L527.3 944.8Z" fill="#e2e0e0"/><path d="M535.9 944.8L547.7 945.7L547.7 586.7L130 586.7L134.4 618.8L138.3 642.9L142.2 663.9L146.8 686.3L151.7 707.1L157.5 728.2L163.2 746.4L168.9 762.4L175.2 777.6L182.3 792.8L189.6 806.3L196.9 818.1L205.3 829.9L213.4 840.1L222.7 850.2L233.5 860.3L243.8 868.8L255.6 877.2L268.4 885.2L281.8 892.3L296.8 899.2L310.5 904.7L327.7 910.7L344.9 915.8L364.1 920.7L383.2 924.9L406.1 929.3L428.9 933L453.2 936.4L480.7 939.6L535.9 944.8Z" fill="#e3dfdf"/><path d="M544.9 944.8L547.7 945L547.7 586.7L130.6 586.7L134.5 614.7L138.3 638.6L142.4 661L147.6 686.3L152.1 704.9L157.5 724.8L163.2 743.3L168.9 759.5L174.9 774.2L182.3 790.2L190 804.5L197.6 816.9L205.6 828.3L215.1 840.1L224.6 850.2L235.5 860.3L245.9 868.8L257.9 877.2L271.9 885.7L284.8 892.4L299.8 899.2L314.3 904.9L331.5 910.7L348.8 915.8L367.9 920.6L387 924.8L411.9 929.4L434.6 933L459.5 936.4L488.4 939.7L544.9 944.8Z" fill="#e4dfde"/><path d="M532.9 943.1L547.7 944.3L547.7 586.7L131.2 586.7L134.5 610L138.6 635.7L142.8 659.3L147.9 683.7L152.1 701.5L157.5 721.5L163.2 740.2L169.2 757.3L175.4 772.5L182.3 787.7L190 802.1L197.6 814.7L205.9 826.6L214.8 837.8L224.4 848.2L234 857.3L243.7 865.4L255.2 873.9L268.4 882.3L280.8 889.1L294.9 895.8L310.5 902.3L325.5 907.7L343 913.1L360.4 917.8L382.4 922.9L402.3 926.8L425.3 930.7L452 934.6L476.9 937.6L503.7 940.5L532.9 943.1Z" fill="#e4dfdd"/><path d="M541.8 943.1L547.7 943.6L547.7 586.7L131.9 586.7L136.4 618L140.2 641.1L144.1 661.5L149 684.7L153.6 703.9L159.4 724.7L165.1 742.7L170.8 758.6L177.3 774.2L184.2 788.9L191.9 803L199.5 815.3L207.5 826.6L217.1 838.4L226.6 848.5L237.5 858.7L249.3 868.1L260.8 876L274 884L286.9 890.8L301.8 897.5L316.2 903.2L333.4 909.1L350.7 914.2L369.8 919L388.9 923.2L411.9 927.6L434.8 931.3L459.2 934.7L486.5 937.9L541.8 943.1Z" fill="#e5dedc"/><path d="M530.6 941.4L547.7 942.9L547.7 586.7L132.6 586.7L136.4 613.4L140.2 636.7L144.4 659.3L149.8 684.5L154.4 703.2L159.4 721.3L165.1 739.6L170.8 755.6L177 770.8L184.2 786.3L191.9 800.6L199.5 813L207.9 824.9L216.8 836L226.3 846.3L235.9 855.4L245.8 863.7L257.3 872.2L270.3 880.4L283 887.4L297 894.1L310.5 899.8L327.5 906L343.5 911L362.1 916.1L381.3 920.6L400.4 924.5L423.4 928.6L448.2 932.4L473.1 935.6L499.9 938.5L530.6 941.4Z" fill="#e6dedb"/><path d="M539.5 941.4L547.7 942.1L547.7 586.7L133.2 586.7L136.4 608.7L140.8 635.7L145.6 661L150 681.3L155.5 704.1L161 723.5L167 742L172.8 757.6L179 772.5L186.2 787.4L193.8 801.4L201.5 813.6L209.5 824.9L218.7 836.1L228.2 846.4L237.8 855.3L248 863.7L259.7 872.2L272.2 880L285.7 887.4L300 894.1L314.3 900L331 906L347.4 911L366.3 916.1L387 920.9L406.1 924.7L429.1 928.6L454 932.3L480.7 935.6L507.5 938.5L539.5 941.4Z" fill="#e6deda"/><path d="M528.9 939.8L547.7 941.4L547.7 586.7L133.9 586.7L138.3 616.3L142.2 638.7L146.1 659.3L151.2 683L155.5 700.4L161.3 720.9L167 738.8L172.8 754.6L178.8 769.1L186.2 784.8L193.8 798.9L201.5 811.3L209.9 823.2L218.7 834.1L228.2 844.4L237.8 853.5L248 862L259.6 870.5L272.2 878.5L285.2 885.7L299.3 892.4L314.3 898.7L329.6 904.3L345.6 909.3L363.9 914.4L383.2 919L402.3 923L425.3 927.1L448.2 930.6L473.1 933.9L498 936.7L528.9 939.8Z" fill="#e7ddd9"/><path d="M537.8 939.8L547.7 940.6L547.7 586.7L134.6 586.7L138.3 611.6L142.2 634.3L146.6 657.6L151.7 681.1L157.5 704L163.1 723.5L168.9 741.1L174.7 756.4L180.8 770.8L188.1 785.9L195.7 799.7L203.4 811.8L211.6 823.2L220.6 834.2L230.1 844.4L240 853.6L251.2 862.8L262.7 870.9L275.6 878.9L288.1 885.7L302.4 892.4L316.2 898.2L333.2 904.3L349.5 909.3L368.2 914.4L388.9 919.2L408.1 923.1L431 927.1L455.9 930.8L480.7 933.9L505.6 936.7L537.8 939.8Z" fill="#e7ddd8"/><path d="M547 939.8L547.7 939.8L547.7 586.7L135.3 586.7L140 617.1L144.1 640.4L147.9 659.8L152.7 681.3L157.5 700.3L163.2 720.3L168.9 737.9L174.9 753.9L181.3 769.1L188.1 783.2L195.7 797.2L203.5 809.7L212.9 822.8L221.7 833.3L232.1 844.3L242.1 853.6L253.1 862.5L264.6 870.6L278 878.8L290.9 885.7L305.5 892.4L320.1 898.3L336.9 904.3L353.5 909.3L372.7 914.4L392.7 919L412.3 922.9L436.7 927L463.5 930.9L488.4 934L515.2 936.8L547 939.8Z" fill="#e8ddd7"/><path d="M536.7 938.1L547.7 939L547.7 586.7L136 586.7L140.5 615.4L144.6 639L148.7 659.3L154 683L157.9 698.2L163.7 718.4L169.2 735.3L176.1 753.9L182.6 769.1L190.1 784.3L197.6 797.9L205.1 809.7L213.7 821.5L222.5 832.2L232.1 842.4L241.6 851.3L252.6 860.3L264.4 868.8L276.1 876.1L289.4 883.5L302.8 889.9L317 895.8L333.4 901.9L350.7 907.3L369.8 912.6L390.8 917.5L415.7 922.5L434.8 925.8L457.8 929.2L484.6 932.7L536.7 938.1Z" fill="#e9dcd6"/><path d="M546 938.1L547.7 938.2L547.7 586.7L136.7 586.7L140.9 613.7L145.1 637.3L149.2 657.6L154.5 681.3L160.2 703.2L165.8 721.8L171.5 738.7L177.3 753.9L183.1 767.4L190.6 782.6L198.1 796.2L206.7 809.7L215.4 821.5L225.4 833.3L235.2 843.5L244.4 851.9L256.9 861.8L268.4 869.8L281.8 877.9L295.2 884.9L306.7 890.2L322 896.5L341.1 903.2L358.3 908.4L377.4 913.4L392.7 916.9L417.6 921.9L438.7 925.5L461.6 928.9L488.4 932.3L519 935.6L546 938.1Z" fill="#e9dcd6"/><path d="M535.4 936.4L547.7 937.5L547.7 586.7L137.4 586.7L141.7 613.7L145.6 635.7L149.6 655.9L155 679.6L160.7 701.5L166.3 720.1L172.6 738.7L177.8 752.2L184.2 767.1L191.9 782.6L199.5 796.2L207.1 808L214.8 818.7L224.4 830.3L234 840.4L243.5 849.4L254.9 858.7L266.7 867.1L279.9 875.3L292.8 882.3L307 889.1L322 895.2L337.7 900.9L354.5 906.2L372.2 911L388.9 915L411.9 919.8L431 923.3L452 926.6L476.9 930L505.6 933.4L535.4 936.4Z" fill="#eadcd5"/><path d="M543.7 936.4L547.7 936.7L547.7 586.7L138.1 586.7L142.1 612L146 633.6L150.1 654.2L155.5 678.2L161.3 700.2L166.7 718.4L172.8 736.2L178.5 751.1L184.8 765.7L191.9 780.2L199.5 793.9L207.4 806.3L216 818.1L224.4 828.3L234 838.6L245.5 849.3L256.9 858.6L269 867.1L281.8 875L295.2 882.2L310 889.1L323.9 894.7L341.1 900.9L357.5 906L376.3 911L394.7 915.3L415 919.5L436.7 923.3L459.7 926.9L486.5 930.4L511.3 933.2L543.7 936.4Z" fill="#eadcd5"/><path d="M533.7 934.7L547.7 936L547.7 586.7L138.8 586.7L142.2 607.8L146.8 634L151.7 657.9L155.9 676.2L161.3 696.8L167 716.1L172.8 733.2L178.7 748.8L184.5 762.4L191.9 777.7L199.5 791.5L207.8 804.6L216.8 817L226.1 828.3L235.6 838.4L245.5 847.6L256.9 857L268.4 865.2L279.9 872.4L293.3 879.8L306.7 886.3L321.2 892.4L337.3 898.4L354.5 904L371.7 908.8L388.9 913L411.2 917.8L431 921.4L454 925.1L478.8 928.6L501.8 931.4L533.7 934.7Z" fill="#ebdbd4"/><path d="M542 934.7L547.7 935.2L547.7 586.7L139.5 586.7L144.1 614.7L147.9 635.4L152.1 655.9L157.5 678.7L163.2 700.1L168.8 718.4L174.7 735.4L180.4 750.1L186.5 764.1L193.8 778.8L201.5 792.3L209.3 804.6L216.8 814.9L226.3 826.6L235.9 836.8L247.4 847.5L258.8 856.8L270.3 864.9L282 872.2L295.2 879.4L308.6 885.8L324.4 892.4L341.1 898.5L358.3 904L377.4 909.2L394.7 913.3L416.2 917.8L436.7 921.5L457.8 924.8L484.6 928.5L509.4 931.4L542 934.7Z" fill="#ebdbd4"/><path d="M532.6 933L547.7 934.4L547.7 586.7L140.2 586.7L144.1 610.4L147.9 631.3L152.3 652.6L157.5 675.1L163.2 696.7L168.7 715.1L174.7 732.4L180.4 747.3L186.2 760.7L193.8 776.2L201.5 789.9L209.1 802L217 813L226.6 824.9L236 835L246.7 845.1L256.9 853.6L268.4 862L281.7 870.5L293.8 877.2L307.5 884L323.3 890.8L337.3 896L354.5 901.7L369.8 906.1L389.3 911L410 915.6L430.5 919.5L450.8 922.9L476.9 926.6L500.9 929.6L532.6 933Z" fill="#ecdbd3"/><path d="M541 933L547.7 933.6L547.7 586.7L140.9 586.7L145.7 615.4L149.8 636.9L153.9 655.9L159.4 679L165.1 699.9L170.8 718.3L176.6 734.5L182.3 749L188.3 762.4L195.7 777.3L203.4 790.7L211.3 802.9L220 814.7L228.4 824.9L237.9 835L249.3 845.6L259.1 853.6L270.8 862L283.7 870.2L296.6 877.2L310.5 884L325.8 890.5L341.1 896.1L358.3 901.7L373.6 906L393.8 911L415.7 915.7L436 919.5L456.8 922.9L482.7 926.5L508.3 929.6L541 933Z" fill="#eddbd2"/><path d="M532.1 931.3L547.7 932.8L547.7 586.7L141.7 586.7L146 612.4L149.8 632.7L154 652.6L159.4 675.3L165.1 696.4L170.8 715L176.6 731.4L182.3 746.1L188.1 759.2L195.7 774.7L203.4 788.2L211 800.2L219 811.4L228.7 823.2L238.2 833.3L249 843.5L259.2 851.9L270.8 860.3L283.7 868.6L296.1 875.6L309.9 882.3L323.9 888.4L339 894.1L354.5 899.3L371.4 904.3L391.2 909.3L411.9 913.9L432 917.8L452 921.2L476.9 924.8L501.2 927.9L532.1 931.3Z" fill="#eddbd2"/><path d="M540.6 931.3L547.7 932L547.7 586.7L142.4 586.7L146.7 612L151.7 637.9L156 657.6L161.3 679L167 699.4L172.5 716.8L178.5 733.4L184.2 747.7L190.1 760.7L197.6 775.6L205.3 788.9L213.3 801.2L222.1 813L230.6 823.2L240.1 833.3L251.2 843.6L261.4 851.9L273.2 860.3L285.6 868.2L299 875.6L312.9 882.3L329 889.1L343 894.3L360.2 899.9L375.6 904.3L395.9 909.3L417.6 914L437.6 917.8L458.1 921.2L484.6 924.9L508.7 927.9L540.6 931.3Z" fill="#eedad1"/><path d="M532.2 929.6L547.7 931.1L547.7 586.7L143.2 586.7L147.9 614.1L151.7 633.8L155.8 652.6L161.3 675.2L167 695.9L172.8 714.1L178.5 730.3L184.2 744.7L190.6 759L197.6 773L205.3 786.4L213.8 799.5L222.5 811.4L232.1 822.8L241.6 832.8L251.2 841.7L261.5 850.2L273.2 858.7L285.6 866.6L298.6 873.9L312.3 880.6L325.8 886.5L341.5 892.4L356.6 897.5L373.7 902.6L393.4 907.7L413.8 912.2L433.8 916.1L454 919.5L478.8 923.2L501.9 926.2L532.2 929.6Z" fill="#eedad1"/><path d="M540.8 929.6L547.7 930.3L547.7 586.7L143.9 586.7L147.9 609.6L153.6 638.7L157.9 657.6L163.2 678.7L168.9 698.7L174.7 716.4L180.4 732.2L186.2 746.2L192 759L199.5 773.8L207.2 787L215.4 799.5L224.3 811.4L232.8 821.5L242.5 831.6L253.1 841.5L263.9 850.2L275.7 858.7L287.5 866.1L300.9 873.6L314.3 880.1L327.7 885.9L344.9 892.4L360.5 897.5L378 902.6L398.1 907.7L419.5 912.3L439.5 916.1L459.7 919.5L484.6 923.1L509.5 926.2L540.8 929.6Z" fill="#efdad0"/><path d="M532.9 927.9L547.7 929.4L547.7 586.7L144.7 586.7L149.8 615.3L153.6 634.4L157.6 652.6L163.2 674.9L168.9 695.2L174.7 713.1L180.4 729L186.2 743.2L191.9 756L199.5 771.1L207.2 784.5L214.8 796.3L222.5 806.8L232.1 818.5L241.6 828.8L253.1 839.5L264 848.5L275.7 857L287.5 864.5L300.9 872L314.3 878.6L327.7 884.5L344.1 890.8L359.2 895.8L376.3 900.9L395.8 906L415.7 910.4L435.9 914.4L455.4 917.8L478.8 921.3L503.1 924.5L532.9 927.9Z" fill="#efdacf"/><path d="M541.6 927.9L547.7 928.5L547.7 586.7L145.5 586.7L149.8 610.8L155.2 637.3L159.4 655.8L165 677.9L170.8 697.8L176.5 715.1L182.3 730.7L188.1 744.6L193.8 757.1L201.5 771.9L209.1 785L217.6 797.8L226.3 809.4L235.2 819.8L244.9 829.9L255 839.3L266.4 848.5L278 856.7L289.4 864L302.8 871.4L316.2 878L330 884L346.8 890.4L363.3 895.8L380.7 900.9L400.7 906L421.4 910.5L441.8 914.4L461.8 917.8L486.5 921.4L510.9 924.5L541.6 927.9Z" fill="#f0d9cd"/><path d="M534.2 926.2L547.7 927.5L547.7 586.7L146.5 586.7L149.8 606.2L155.5 634.8L159.4 651.7L165.1 674.3L170.8 694.1L176.6 711.8L182.3 727.4L189.8 745.5L195.7 758L203.4 772.6L212.9 788.4L220.6 799.5L229.8 811.4L235.9 818.4L245.5 828.4L255 837.2L264.6 845.2L276.1 853.7L289 862L300.9 868.8L314.3 875.6L329.4 882.3L343 887.6L362 894.1L379.1 899.2L398.6 904.3L421.2 909.3L438.4 912.7L457.8 916.1L480.7 919.6L504.9 922.9L534.2 926.2Z" fill="#f0d8cb"/><path d="M546.7 926.2L547.7 926.3L547.7 586.7L147.6 586.7L151.7 609.8L157.5 637.5L161.4 654.2L167 675.8L172.8 695.2L178.5 712.4L184.2 727.7L190 741.5L197.6 757.8L204.6 770.8L212.6 784.3L220.6 796.1L229.7 808L238.4 818.1L248.3 828.3L258.8 837.8L270.1 846.8L281.8 855.1L293.3 862.2L306.7 869.6L320.1 876.1L334.4 882.3L350.7 888.4L367.9 894.1L385.4 899.2L405.6 904.3L427.2 909L446.8 912.7L466.9 916.1L489.7 919.5L516 922.9L546.7 926.2Z" fill="#f1d7ca"/><path d="M544.1 924.5L547.7 924.9L547.7 586.7L148.8 586.7L153.6 612.6L157.5 630.9L162.5 652.6L167.4 671.1L172.8 689.6L178.5 707.1L184.5 723.5L191.9 741.1L199.5 757.1L206.9 770.8L214.8 783.8L222.5 795L231.2 806.3L240 816.4L249.9 826.6L260.8 836.4L271.7 845.1L283.7 853.6L295.2 860.8L308.6 868.2L322 874.7L335.7 880.6L352.6 887L368.9 892.4L386.3 897.5L406.1 902.6L427.2 907.2L446.7 911L466.3 914.4L490.3 918L514.3 921.2L544.1 924.5Z" fill="#f1d6c8"/><path d="M542 922.9L547.7 923.5L547.7 586.7L150.1 586.7L154.6 610.3L159.4 632.8L163.2 649.2L168.9 670.8L174.7 690.1L180.4 707.2L186.2 722.5L193.7 740.4L200.2 753.9L207.4 767.4L214.8 779.7L223.7 792.8L232.1 803.7L241.6 814.7L251.2 824.6L260.8 833.3L271.1 841.8L282.8 850.2L295.2 858.1L308.6 865.7L322 872.3L337.1 878.9L354.5 885.5L369.8 890.7L387.3 895.8L406.9 900.9L427.2 905.5L446.8 909.3L466.1 912.7L488.4 916.2L513 919.5L542 922.9Z" fill="#f2d5c6"/><path d="M540.5 921.2L547.7 921.9L547.7 586.7L151.5 586.7L155.5 607.9L161.3 634.4L165.3 650.9L170.8 671.4L176.6 690.3L182.3 707.1L188.1 722.1L195.2 738.7L201.5 751.8L209.1 766L216.8 778.6L224.4 789.8L232.1 800L241.7 811.4L251.5 821.5L262.7 831.8L272.9 840.1L284.5 848.5L297.1 856.5L309.8 863.7L323.4 870.5L338.7 877.2L352.6 882.6L369.8 888.5L388.5 894.1L407.9 899.2L427.2 903.6L446.3 907.5L466.3 911L488.4 914.5L512.2 917.8L540.5 921.2Z" fill="#f3d4c4"/><path d="M539.4 919.5L547.7 920.4L547.7 586.7L152.9 586.7L157.5 609.9L162.4 632.3L167 651.1L172.8 671.9L178.5 690.3L184.2 706.8L190 721.6L195.9 735.3L203.4 750.8L210.6 764.1L218.7 777.3L226.3 788.5L234.8 799.5L243.5 809.7L253.3 819.8L264.3 829.9L274.7 838.4L286.4 846.8L299 854.9L311.6 862L325.1 868.8L339.2 875L353.4 880.6L369.8 886.3L388.9 892.2L406.1 896.8L423.5 900.9L446.3 905.6L466.7 909.3L487.8 912.7L511.8 916.1L539.4 919.5Z" fill="#f3d3c2"/><path d="M538.9 917.8L547.7 918.8L547.7 586.7L154.4 586.7L159.4 611.6L163.2 628.7L167.4 645.8L172.9 666.1L178.5 684.3L184.2 701.1L190.2 716.8L197.6 734L205.3 749.7L212.3 762.4L220.6 775.9L228.2 787L236.6 797.8L245.5 808.1L255.1 818.1L266.2 828.3L276.6 836.7L288.3 845.1L300.9 853.2L313.6 860.3L327.1 867.1L341.1 873.3L355.2 878.9L371.7 884.7L388.9 890L406.1 894.7L424.8 899.2L446.3 903.7L467.5 907.7L488.3 911L511.9 914.4L538.9 917.8Z" fill="#f4d2c1"/><path d="M538.9 916.1L547.7 917.1L547.7 586.7L155.9 586.7L160.7 610.3L165.1 629.7L169.2 645.8L174.7 665.6L180.4 684L186.2 700.5L191.9 715.3L199.5 732.9L207.2 748.4L214.8 762.1L222.5 774.4L230.1 785.4L238.5 796.2L247.4 806.4L257.1 816.4L268.2 826.6L278.7 835L290.4 843.5L300.9 850.2L314.3 857.9L327.7 864.7L341.1 870.8L356.4 876.9L371.7 882.4L387.5 887.4L405.7 892.4L426.4 897.5L444.4 901.4L467.4 905.7L489.1 909.3L512.3 912.7L538.9 916.1Z" fill="#f4d1bf"/><path d="M539.4 914.4L547.7 915.4L547.7 586.7L157.4 586.7L161.3 605.4L167 630.3L171 645.8L176.6 665.5L182.3 683.6L188.1 699.8L194.1 715.1L201.5 731.7L209.1 747L216.8 760.6L224.4 772.8L232.1 783.7L240.5 794.5L249.3 804.6L259.2 814.7L270.3 824.8L280.8 833.3L292.6 841.8L303.1 848.5L316.2 856.1L327.9 862L342.6 868.8L358.3 875.1L373.7 880.6L389.7 885.7L407.7 890.8L428.3 895.8L446.3 899.7L469.3 904.1L490.4 907.7L513.3 911L539.4 914.4Z" fill="#f5d0bd"/><path d="M540.5 912.7L547.7 913.6L547.7 586.7L159.1 586.7L163.2 606.3L168.9 630.6L172.9 645.8L178.5 665.1L184.2 682.8L190 698.8L195.8 713.4L203.4 730.3L211 745.5L218.7 758.9L226.3 771L234 781.8L242.6 792.8L251.5 802.9L261.4 813L272.2 822.9L283.1 831.6L294.9 840.1L305.5 846.8L318.1 854.1L330.3 860.3L345.1 867.1L360.2 873.2L376.1 878.9L392 884L410 889.1L430.4 894.1L448.2 898L471.2 902.4L492 906L514.7 909.3L540.5 912.7Z" fill="#f4ceba"/><path d="M542 911L547.7 911.7L547.7 586.7L160.8 586.7L165.1 606.9L170.8 630.6L174.9 645.8L180.4 664.5L186.2 681.9L191.9 697.6L197.6 711.8L205.3 728.7L212.9 743.7L220.6 757.1L228.2 769.1L235.9 779.9L244.8 791.1L253.7 801.2L263.7 811.4L274.1 820.8L283.7 828.5L295.2 836.9L308 845.1L320.1 852.1L332.9 858.7L347.7 865.4L364.1 872L378.7 877.2L394.6 882.3L412.5 887.4L432.9 892.4L450.1 896.2L473.1 900.7L494.1 904.3L516.5 907.7L542 911Z" fill="#f3cab6"/><path d="M544.2 909.3L547.7 909.8L547.7 586.7L162.4 586.7L165.7 601.9L171.4 625.5L177.3 647.5L183 666.1L188.7 683L194.5 698.2L200.1 711.7L207.9 728.6L215.8 743.8L224.8 759L232.7 770.8L240.2 780.9L249.9 792.8L257.6 801.2L268 811.4L277.5 819.8L287.5 827.8L299 836L312.4 844.5L327.7 853L341.1 859.6L352.6 864.7L366 870.1L385.1 876.8L400.4 881.6L419.5 886.9L440.6 892L455.9 895.3L482.7 900.3L503.7 903.8L526.7 907.2L544.2 909.3Z" fill="#f1c5b2"/><path d="M542.3 907.7L547.7 908.3L547.7 586.7L163.8 586.7L168.3 606.9L172.5 623.8L178 644.1L183.7 662.7L189.4 679.6L195.7 696.5L201.3 710L209.1 726.7L216.8 741.4L224.1 753.9L232.1 766.2L239.7 776.9L248.4 787.7L257.4 797.8L267.5 808L278 817.4L287.5 825.1L299 833.4L312 841.8L323.9 848.6L336.8 855.3L351.5 862L367.9 868.7L382.4 873.9L398.5 879.1L415.8 884L436.7 889.3L452 892.7L476.9 897.6L498 901.3L542.3 907.7Z" fill="#f0c1ae"/><path d="M539.6 906L547.7 907L547.7 586.7L165 586.7L168.9 604L174.7 626.9L180.4 647.4L186.2 665.7L191.9 682.1L197.6 697L203.4 710.6L211 726.8L218.7 741.2L226.2 753.9L234 765.7L241.6 776.2L249.5 786L258.8 796.5L268.4 806.1L278 814.8L288.3 823.2L299.9 831.6L312.4 839.8L324.6 846.8L337.6 853.6L352.2 860.3L367.9 866.8L382.7 872.2L398.3 877.2L415.7 882.3L432.9 886.7L450.3 890.8L473.1 895.4L494.3 899.2L515.6 902.6L539.6 906Z" fill="#eebdaa"/><path d="M537.4 904.3L547.7 905.6L547.7 586.7L166.3 586.7L170.8 606.5L176.6 628.9L180.4 642.4L186.2 661L191.9 677.6L197.6 692.7L203.4 706.6L211.3 723.5L218.7 737.5L226.3 750.5L234 762.4L241.6 773L250.7 784.3L259.7 794.5L269.7 804.6L279.9 813.8L289.4 821.5L300.9 829.9L313.9 838.4L325.8 845.3L338.5 851.9L353 858.7L367.9 864.8L383.2 870.5L398.6 875.6L415.9 880.6L432.9 885.1L450.1 889.1L473.1 893.9L493.1 897.5L513.9 900.9L537.4 904.3Z" fill="#edb8a6"/><path d="M535.5 902.6L547.7 904.2L547.7 586.7L167.6 586.7L172.7 608.6L176.6 623.6L182.3 643.8L188.1 661.9L193.8 678.3L199.5 693.1L205.3 706.6L212.9 722.7L220.6 737.2L228.2 750.1L235.9 761.7L243.5 772.3L251.9 782.6L260.8 792.6L270.3 802.3L280.3 811.4L290.6 819.8L302.1 828.3L314.3 836.3L325.8 843L339.2 850.1L352.6 856.4L366 862.1L381.3 867.9L398.5 873.7L413.8 878.3L429.1 882.4L449.7 887.4L471.2 891.9L492.2 895.8L535.5 902.6Z" fill="#ecb4a1"/><path d="M546.3 902.6L547.7 902.8L547.7 586.7L168.9 586.7L172.8 603.1L178.5 625.2L184.2 645L190 662.7L195.7 678.8L201.5 693.3L207.2 706.6L214.8 722.5L222.5 736.7L229.8 748.8L237.8 761L245.5 771.4L254.6 782.6L263.8 792.8L274 802.9L283.7 811.5L294.1 819.8L305.8 828.3L318.1 836.2L330.8 843.5L344 850.2L358.8 857L373.6 863L388.9 868.6L405.2 873.9L422.7 878.9L440.6 883.5L457.8 887.5L480.7 892.1L501.3 895.8L522.4 899.2L546.3 902.6Z" fill="#eab09d"/><path d="M544.9 900.9L547.7 901.3L547.7 586.7L170.3 586.7L174.7 605.1L180.4 626.7L186.2 646L191.9 663.4L197.6 679.1L203.4 693.4L209.2 706.6L216.8 722.1L224.4 736.1L232.1 748.8L239.7 760.1L247.4 770.5L255.9 780.9L265.1 791.1L275.4 801.2L285.6 810.3L295.4 818.1L307.1 826.6L320.1 834.9L332.1 841.8L345.2 848.5L359.9 855.3L375.5 861.7L390.4 867.1L405.9 872.2L423.3 877.2L440.6 881.7L457.8 885.8L480.7 890.5L500.7 894.1L544.9 900.9Z" fill="#e9ac99"/><path d="M543.9 899.2L547.7 899.7L547.7 586.7L171.7 586.7L176.6 606.8L182.3 627.9L188.1 646.8L193.4 662.7L199.5 679.3L205.3 693.3L211.2 706.6L218.7 721.6L226.3 735.5L233.5 747.2L241.6 759.2L249.3 769.4L258.8 780.9L268.2 791.1L278 800.6L287.5 809L297.1 816.6L308.6 824.9L321.7 833.3L333.4 840.1L346.5 846.8L361.1 853.6L375.5 859.5L390.8 865.2L406.9 870.5L424.1 875.6L440.6 879.9L457.9 884L478.8 888.4L500.5 892.4L543.9 899.2Z" fill="#e7a795"/><path d="M543.3 897.5L547.7 898.1L547.7 586.7L173.1 586.7L182.3 622.2L188.1 641.4L193.8 658.7L199.5 674.4L205.3 688.6L212.6 704.9L219.2 718.4L226.3 731.4L234 744.1L241.6 755.5L249.3 765.9L258.8 777.6L268.1 787.7L278 797.5L287.8 806.3L298.4 814.7L310.1 823.2L320.4 829.9L333.4 837.6L344.9 843.6L358.7 850.2L374.6 857L388.9 862.4L404.2 867.6L421.4 872.8L437.6 877.2L458.5 882.3L480.7 887L500.6 890.8L543.3 897.5Z" fill="#e6a391"/><path d="M543.1 895.8L547.7 896.5L547.7 586.7L174.6 586.7L178.5 602.2L184.2 623.1L190 641.9L195.7 658.9L201.5 674.3L207.2 688.3L213.1 701.5L220.6 716.8L228.2 730.5L235.9 743.1L243.5 754.4L251.2 764.7L260.4 775.9L269.6 786L279.9 796.1L289.5 804.6L300 813L310.5 820.7L322 828.2L333.5 835L346.1 841.8L360.2 848.5L375.5 855.1L389.4 860.3L404.2 865.5L421.4 870.8L438.7 875.6L459.4 880.6L480.7 885.2L501 889.1L543.1 895.8Z" fill="#e4a08e"/><path d="M543.2 894.1L547.7 894.8L547.7 586.7L176.2 586.7L180.4 603.3L186.2 623.8L191.9 642.2L197.6 658.9L203.4 674L209.1 687.9L214.8 700.5L222.5 715.8L230.1 729.5L237.8 741.9L245.5 753.2L253.1 763.4L262 774.2L271.3 784.3L281.6 794.5L291.4 803.1L301.7 811.4L312.4 819.1L323.8 826.6L335.4 833.4L347.8 840.1L361.9 846.8L377.4 853.5L390.9 858.7L405.6 863.7L423.4 869.3L440 873.9L460.6 878.9L480.7 883.3L501.7 887.4L543.2 894.1Z" fill="#e39d8b"/><path d="M543.8 892.4L547.7 893L547.7 586.7L177.8 586.7L182.3 604.2L188.1 624.2L193.8 642.3L199.5 658.7L205.3 673.6L211 687.2L216.8 699.9L224.4 714.8L232.1 728.4L239.7 740.7L247.4 751.8L255.3 762.4L264.6 773.4L273.1 782.6L283.4 792.8L293.3 801.5L303.5 809.7L314.3 817.5L325.6 824.9L337.3 831.7L349.7 838.4L363.8 845.1L379.4 851.8L392.7 857L407.3 862L423.4 867.1L441.5 872.2L461.9 877.2L482.7 881.8L502.8 885.7L543.8 892.4Z" fill="#e29b89"/><path d="M544.7 890.8L547.7 891.2L547.7 586.7L179.4 586.7L184.2 604.8L190 624.4L195.7 642.2L201.5 658.3L207.2 673L212.9 686.4L218.7 698.8L226.3 713.7L234 727.2L241.6 739.3L249.3 750.4L257.1 760.7L266.5 771.9L274.9 780.9L285.3 791.1L295.2 799.8L305.5 808L316.2 815.7L327.6 823.2L339.2 830L351.7 836.7L365.8 843.5L381.3 850.1L394.7 855.3L409.2 860.3L425.3 865.4L443.3 870.5L463.5 875.5L484.6 880.2L504.1 884L544.7 890.8Z" fill="#e19886"/><path d="M546.1 889.1L547.7 889.3L547.7 586.7L181.2 586.7L186.2 605.1L191.9 624.4L197.6 641.9L203.3 657.6L209.1 672.2L214.8 685.5L220.8 698.2L228.2 712.5L235.9 725.8L243.5 737.9L251.2 748.8L259 759L268.4 770.2L276.9 779.3L287.3 789.4L297.1 798L307.6 806.3L318.1 813.9L329.6 821.4L341.2 828.3L353.9 835L367.9 841.8L383.2 848.3L396.8 853.6L411.3 858.7L427.4 863.7L445.3 868.8L465.4 873.8L486.5 878.5L505.6 882.3L546.1 889.1Z" fill="#e09684"/><path d="M537.1 885.7L547.7 887.3L547.7 586.7L183 586.7L188.1 605.2L193.8 624.2L199.5 641.3L205.3 657L211 671.3L216.8 684.4L222.5 696.5L230.1 711L237.8 724.3L245.5 736.2L253.1 747.1L260.8 757.1L268.4 766.2L278 776.6L287.5 786L297.1 794.5L307.6 802.9L318.1 810.7L329.3 818.1L341.1 825.2L352.9 831.6L366.6 838.4L381.3 844.9L394.7 850.2L408.7 855.3L425.3 860.7L441.4 865.4L460.8 870.5L480.7 875.1L499.1 878.9L537.1 885.7Z" fill="#df9381"/><path d="M539.4 884L547.7 885.3L547.7 586.7L184.8 586.7L190 605.1L195.7 623.7L201.5 640.6L207.2 655.9L212.9 670.1L218.7 683.1L224.4 695L232.1 709.5L239.7 722.6L247.4 734.5L255 745.3L262.7 755.2L270.3 764.3L279.9 774.6L289.4 784L299.4 792.8L309.9 801.2L320.1 808.7L331.5 816.3L343 823.2L355.4 829.9L369.2 836.7L383.2 842.9L397.3 848.5L411.3 853.6L427.2 858.8L444 863.7L463.4 868.8L482.7 873.3L501.6 877.2L539.4 884Z" fill="#de907e"/><path d="M542.1 882.3L547.7 883.2L547.7 586.7L186.8 586.7L191.9 604.6L197.6 622.9L203.4 639.6L209.1 654.8L214.8 668.8L220.6 681.6L226.3 693.4L234 707.7L241.6 720.7L249.3 732.5L256.9 743.3L265.2 753.9L274.1 764.4L283.4 774.2L293.3 783.6L302.8 791.9L312.4 799.6L323.9 807.9L335.4 815.3L346.8 822.2L358.3 828.4L371.9 835L387 841.6L400.1 846.8L414.1 851.9L429.7 857L446.9 862L465.4 866.9L484.6 871.4L503.7 875.4L542.1 882.3Z" fill="#dd8e7c"/><path d="M545.4 880.6L547.7 881L547.7 586.7L188.8 586.7L193.8 603.9L199.5 622L205.3 638.4L211 653.4L216.8 667.2L224.4 683.9L230.1 695.3L237.8 709.2L245.5 721.8L253.1 733.2L260.8 743.7L268.9 753.9L278 764.2L287.5 774.1L297.1 783.1L306.4 791.1L317.3 799.5L327.7 806.9L339.2 814.3L350.7 821L362.1 827.1L374.9 833.3L388.9 839.5L403.2 845.1L417.3 850.2L432.9 855.3L450.1 860.3L469.3 865.4L488.4 869.8L507.5 873.8L545.4 880.6Z" fill="#dc8b79"/><path d="M539 877.2L547.7 878.7L547.7 586.7L190.9 586.7L195.7 602.9L201.5 620.7L207.2 636.9L212.9 651.8L218.7 665.4L226.3 681.9L232.1 693.2L239.5 706.6L247.4 719.6L254.5 730.3L262.7 741.4L270.3 751L278.8 760.7L287.5 769.9L297.1 779L306.7 787.3L317.8 796.2L327.7 803.2L339.2 810.8L350.7 817.6L362.1 823.8L374.5 829.9L388.9 836.4L402.1 841.8L415.8 846.8L431 851.9L447.7 857L465.4 861.8L482.7 866L501.8 870.2L539 877.2Z" fill="#db8977"/><path d="M543.2 875.6L547.7 876.3L547.7 586.7L193.1 586.7L197.6 601.7L203.4 619.2L209.1 635.2L214.8 649.9L220.6 663.4L228.2 679.8L234.2 691.4L241.6 704.7L249.3 717.2L256.9 728.6L264.6 738.9L272.5 748.8L281.8 759.4L291.2 769.1L300.9 778.2L310 786L320.9 794.5L331.5 802.1L343 809.5L354.5 816.2L366 822.4L377.9 828.3L392.7 834.9L405.7 840.1L419.5 845.1L434.8 850.3L451.5 855.3L469.3 860.1L488.4 864.7L507.2 868.8L543.2 875.6Z" fill="#da8674"/><path d="M538.3 872.2L547.7 873.8L547.7 586.7L195.4 586.7L205.3 617.4L211 633.3L216.8 647.8L222.5 661.2L230.1 677.4L235.9 688.6L243.5 702.2L251.2 714.6L258.8 725.9L266.5 736.3L274.1 745.8L282.7 755.6L291.4 764.7L300.9 773.8L310.5 782.1L320.1 789.8L331.1 797.8L341.3 804.6L352.6 811.5L364.6 818.1L378 824.9L392.7 831.5L405.3 836.7L418.8 841.8L433.6 846.8L449.9 851.9L467.4 856.8L484.6 861.1L503.7 865.4L538.3 872.2Z" fill="#d88371"/><path d="M543.7 870.5L547.7 871.2L547.7 586.7L197.9 586.7L203.4 604.1L209.1 620.7L214.8 635.9L220.6 650L226.3 662.9L234 678.6L239.9 689.7L247.4 702.7L255 714.7L262.7 725.8L270.3 735.9L278 745.2L285.7 753.9L295.2 763.7L304.8 772.7L314.3 780.9L325.2 789.4L335.4 796.6L346.8 804.1L358.3 810.9L369.8 817.1L382 823.2L396.6 829.7L409.5 835L423.1 840.1L438.7 845.3L454.6 850.2L473 855.3L492.2 860L508.8 863.7L543.7 870.5Z" fill="#d67f6d"/><path d="M540.3 867.1L547.7 868.4L547.7 586.7L200.4 586.7L205.3 601.8L211 618.3L216.8 633.4L222.5 647.3L228.2 660.1L235.9 675.7L241.6 686.5L249.3 699.7L256.9 711.7L264.6 722.7L272.2 732.9L279.9 742.2L287.5 750.8L297.1 760.7L306.7 769.6L316.2 777.9L326.6 786L337.3 793.7L348.8 801.2L360.1 808L371.7 814.3L383.2 820L396.6 826.1L409.8 831.6L423.1 836.7L437.8 841.8L453.9 846.8L471.2 851.7L505.6 860.1L540.3 867.1Z" fill="#d57b6a"/><path d="M547 865.4L547.7 865.5L547.7 586.7L203.1 586.7L209.1 604.8L214.8 620.6L220.6 635.2L226.3 648.6L232.1 661.1L239.7 676.2L245.5 686.7L253.1 699.6L260.8 711.3L268.2 721.8L276.1 732L283.7 741.1L292.3 750.5L300.9 759.3L310.5 768.1L320.1 776.2L330.5 784.3L341.1 791.9L352.6 799.3L364.1 806.1L375.5 812.3L387.3 818.1L402.3 824.9L414.7 829.9L428.3 835L443.1 840.1L459.4 845.1L476.9 850L494.1 854.4L512.9 858.7L547 865.4Z" fill="#d37666"/><path d="M545.1 862L547.7 862.5L547.7 586.7L205.9 586.7L211 601.8L216.8 617.5L222.5 632L228.2 645.3L234 657.7L241.6 672.8L247.4 683.2L255 696.1L262.7 707.8L270.2 718.4L278 728.5L285.6 737.6L294.3 747.2L302.8 755.8L312.4 764.7L322 772.8L332.4 780.9L343 788.5L354.5 796L366 802.8L377.4 809.1L388.9 814.8L402.3 820.9L415.7 826.5L429.1 831.6L443.7 836.7L459.8 841.8L476.9 846.7L511.3 855.1L545.1 862Z" fill="#d17262"/><path d="M544.3 858.7L547.7 859.3L547.7 586.7L208.9 586.7L214.8 603.7L220.6 618.9L226.3 632.9L232.1 645.9L237.8 657.9L245.5 672.6L251.3 683L258.8 695.3L266.5 706.8L274.1 717.3L281.8 727.1L289.4 736L298.2 745.5L306.7 754L316.2 762.7L325.8 770.8L335.4 778.2L346.4 786L356.8 792.8L368.1 799.5L379.4 805.7L390.8 811.5L404.2 817.6L417.4 823.2L430.5 828.3L444.9 833.3L460.7 838.4L476.9 843.1L492.2 847.2L511.3 851.8L544.3 858.7Z" fill="#d06e5e"/><path d="M544.4 855.3L547.7 855.9L547.7 586.7L212.1 586.7L222.5 615L228.2 628.9L234 641.8L239.9 654.2L247.4 668.5L253.1 678.7L260.8 691.2L268.4 702.7L276.1 713.3L283.7 723L291.4 732L299 740.4L308.6 750L318.1 758.8L327.7 766.9L337.3 774.4L348.8 782.5L359.2 789.4L370.5 796.2L381.3 802.1L392.9 808L406.1 814.2L419.4 819.8L432.5 824.9L446.7 829.9L462.3 835L476.9 839.3L509.4 847.8L544.4 855.3Z" fill="#ce6a5b"/><path d="M545.4 851.9L547.7 852.3L547.7 586.7L215.5 586.7L226.3 615.4L237.8 641.5L243.5 653.2L251.2 667.5L257.2 677.9L264.6 689.7L272.2 701L279.9 711.4L287.5 721L295.2 729.9L303.4 738.7L312.4 747.6L322 756.3L331.5 764.3L341.1 771.7L351.7 779.3L362.1 786.1L373.3 792.8L385.1 799.3L396.6 805.1L410 811.3L422 816.4L435 821.5L449.1 826.6L464.5 831.6L478.8 835.9L511.3 844.4L545.4 851.9Z" fill="#cc6657"/><path d="M547.5 848.5L547.7 586.7L219.1 586.7L230.1 615.2L241.6 640.6L247.6 652.6L255 666.1L261 676.2L268.4 687.8L276.1 698.9L283.7 709.1L291.4 718.6L299 727.3L306.7 735.5L316.2 744.9L325.8 753.5L335.4 761.5L344.9 768.8L355 775.9L365.3 782.6L376.6 789.4L388.8 796.2L398.8 801.2L411.9 807.3L425.2 813L438.1 818.1L452.1 823.2L467.5 828.3L482.7 832.8L515.2 841.4L547.5 848.5Z" fill="#ca6153"/><path d="M542.7 843.5L547.7 844.5L547.7 586.7L222.9 586.7L234 614.4L245.5 639.2L251.5 650.9L258.8 664.1L265.1 674.5L272.2 685.5L279.9 696.4L287.5 706.5L295.2 715.8L302.8 724.5L311.6 733.6L320.1 741.8L327.8 748.8L337.3 756.7L346.7 764.1L356.4 771L366.4 777.6L377.4 784.3L388.9 790.8L399.2 796.2L411.9 802.2L424.9 808L451.1 818.1L478.8 827.2L507.5 835.2L542.7 843.5Z" fill="#c95d50"/><path d="M547.1 840.1L547.7 840.2L547.7 586.7L227 586.7L237.8 613L249.3 637.2L255 648.2L262.7 661.7L268.5 671.1L276.1 682.7L283.7 693.4L291.2 703.2L299 712.6L306.7 721.2L315.4 730.3L323.9 738.4L333.4 746.9L342 753.9L360.3 767.4L370.6 774.2L381.7 780.9L392.7 787.1L404.2 793.1L417.6 799.4L429.4 804.6L455.6 814.7L482.7 823.6L511.3 831.7L547.1 840.1Z" fill="#c7594c"/><path d="M545.1 835L547.7 835.6L547.7 586.7L231.4 586.7L242.9 613.7L254.5 637.3L261.9 650.9L267.9 661L281.2 681.3L288.6 691.4L296.6 701.5L311.4 718.4L327.7 734.5L336.2 742.1L344.9 749.3L354.5 756.6L364.1 763.4L373.6 769.7L385.1 776.7L406.1 788.1L429.1 798.9L454 808.8L469.3 814.2L484.6 819.2L513.3 827.3L545.1 835Z" fill="#c45549"/><path d="M543.2 829.9L547.7 831L547.7 586.7L235.8 586.7L247.4 612.9L258.8 635.7L264.6 646L272.2 658.8L285.6 678.8L299 696.3L306.7 705.4L314.3 713.8L322.2 721.8L331 730.3L339.2 737.5L348.8 745.4L358.3 752.7L367.9 759.4L377.4 765.8L388.5 772.5L410 784.2L431.9 794.5L457 804.6L482.7 813.5L509.7 821.5L543.2 829.9Z" fill="#c05147"/><path d="M542.9 824.9L547.7 826L547.7 586.7L240.6 586.7L251.2 610.1L262.7 632.5L268.4 642.6L276.1 655.2L289.4 675L302.8 692.3L310.5 701.3L318.5 710L326.8 718.4L335.4 726.5L352.6 741.1L362.1 748.4L371.7 755.1L390.8 767.3L411.9 778.9L433.9 789.4L458.7 799.5L482.7 808L510.2 816.4L542.9 824.9Z" fill="#bc4d45"/><path d="M544.1 819.8L547.7 820.7L547.7 586.7L245.8 586.7L256.9 610.4L268.4 632L281.8 654L295.2 673.2L308.6 690.1L323.9 707L339.2 721.8L348.8 730.1L357.3 737L375.5 750.3L394.4 762.4L415.7 774.1L436.9 784.3L461.4 794.5L486.5 803.4L513.3 811.7L544.1 819.8Z" fill="#b84943"/><path d="M547 814.7L547.7 814.9L547.7 586.7L251.5 586.7L262.7 609.7L274.1 630.6L287.5 651.9L300.9 670.6L314.3 687.1L329.6 703.7L337.8 711.7L346.8 719.9L363.6 733.6L382.5 747.2L401.4 759L423.2 770.8L444.4 780.8L469.3 790.9L493.6 799.5L520.9 807.8L547 814.7Z" fill="#b44541"/><path d="M545.1 808L547.7 808.6L547.7 586.7L257.7 586.7L268.4 608L280.3 628.9L293.3 649L306.7 667.3L320.1 683.4L335.4 699.6L350.7 713.9L367.9 728.1L385.1 740.5L404.2 752.6L425 764.1L446.1 774.2L470.4 784.3L493.6 792.8L520.5 801.2L545.1 808Z" fill="#b0403f"/><path d="M545.5 801.2L547.7 801.8L547.7 586.7L264.5 586.7L276.1 608.6L287.5 627.9L299 645.2L312.4 663L325.8 678.9L341.1 694.9L356.4 709L373.6 722.9L391 735.3L409.8 747.2L428.1 757.3L448.8 767.4L472.7 777.6L495.4 786L520.9 794.3L545.5 801.2Z" fill="#ac3c3e"/><path d="M542.1 792.8L547.7 794.3L547.7 586.7L272 586.7L283.7 607.8L295.2 626.3L306.7 642.9L319.4 659.3L333.4 675.5L346.8 689.2L362.1 703.2L377.4 715.6L393.1 726.9L411.5 738.7L429.3 748.8L450.1 759.3L472.5 769.1L494.1 777.5L519 785.9L542.1 792.8Z" fill="#a8383c"/><path d="M547.6 786L547.7 586.7L280.5 586.7L291.4 605.5L302.8 623.3L314.3 639.3L327.7 656L341.3 671.1L356.4 686.1L371.7 699.6L387 711.6L404 723.5L420.3 733.6L438.7 743.9L459.1 753.9L478.5 762.4L500.3 770.8L524.7 779.1L547.6 786Z" fill="#a4343a"/><path d="M544.5 775.9L547.7 776.8L547.7 586.7L290 586.7L300.9 604.5L312.4 621.5L323.9 636.8L335.6 650.9L348.8 665.2L362.1 678.3L377.1 691.4L392.2 703.2L408.1 714.4L425.1 725.2L442.5 735L459.9 743.8L478.8 752.3L499.5 760.7L522.8 769L544.5 775.9Z" fill="#a03038"/><path d="M545.2 765.7L547.7 766.5L547.7 586.7L300.9 586.7L310.5 601.6L322 617.8L333.4 632.4L346.5 647.5L358.3 659.8L372 672.8L385.9 684.7L400.4 695.9L415.8 706.6L432 716.8L450 726.9L466.8 735.3L485.4 743.8L503.7 751.3L524.7 759L545.2 765.7Z" fill="#9c2c36"/><path d="M545 753.9L547.7 754.8L547.7 586.7L313.5 586.7L323.9 601.7L335.4 616.8L346.8 630.5L357.7 642.4L369.8 654.5L383.2 666.7L396.6 677.8L410 687.9L424.9 698.2L440.6 707.9L456.4 716.8L473 725.2L490.3 733.2L507.5 740.4L525.3 747.2L545 753.9Z" fill="#992934"/><path d="M544.8 740.4L547.7 741.4L547.7 586.7L328.3 586.7L338.4 600.2L348.8 613L358.3 623.9L369.8 635.9L381.3 647L393.3 657.6L406.1 668.1L419.5 678L434.3 688L447.9 696.5L462.9 704.9L476.9 712.2L493.5 720.1L509.1 726.9L526.1 733.6L544.8 740.4Z" fill="#962833"/><path d="M545.9 725.2L547.7 725.8L547.7 586.7L346 586.7L356.4 599.4L366 610.3L375.5 620.3L386 630.6L396.6 640.2L408.1 649.9L419.5 658.8L431.9 667.8L444.6 676.2L457.8 684.3L470.3 691.4L484.6 698.9L499.9 706.3L515.2 713.1L530.5 719.4L545.9 725.2Z" fill="#932732"/><path d="M545.5 706.6L547.7 707.4L547.7 586.7L367.8 586.7L385.1 605.3L394.7 614.6L404.2 623.3L414.7 632.3L425.3 640.7L436.7 649.2L446.3 655.8L467.9 669.4L479.8 676.2L492.5 683L517.1 694.8L532.4 701.4L545.5 706.6Z" fill="#902631"/><path d="M546.2 684.7L547.7 685.3L547.7 586.7L395.5 586.7L411.5 601.9L427.3 615.4L444.9 628.9L463.5 641.7L482.7 653.5L502.5 664.4L523.1 674.5L546.2 684.7Z" fill="#8d2430"/><path d="M547.4 657.6L547.7 657.7L547.7 586.7L432.6 586.7L445 596.8L458.4 606.9L473 617.1L486.2 625.5L500.5 634L515.9 642.4L532.4 650.7L547.4 657.6Z" fill="#8a232e"/><path d="M547.2 622.1L547.7 622.4L547.7 586.7L485.7 586.7L499.9 595.9L515.4 605.3L530.7 613.7L547.2 622.1Z" fill="#88222d"/></g>
<path d="M116.2 587.5L116.5 590.2L116.8 592.9L117 595.6L117.3 598.3L117.6 601L117.9 603.7L118.1 606.4L118.4 609.1L118.7 611.8L119 614.1L119 614.5L119.3 617.2L119.6 619.9L119.9 622.6L120.2 625.3L120.5 628L120.9 630.7L121.2 633.4L121.5 636.1L121.8 638.8L122 640.2L122.2 641.5L122.5 644.2L122.9 646.9L123.2 649.6L123.6 652.3L123.9 655L124.3 657.7L124.7 660.4L125.1 663.1L125.1 663.1L125.5 665.8L125.9 668.5L126.3 671.2L126.7 673.9L127.1 676.6L127.5 679.3L127.9 682L128.1 683.3L128.3 684.7L128.8 687.4L129.2 690L129.7 692.7L130.2 695.4L130.6 698.1L131.1 700.8L131.2 701.3L131.6 703.5L132.1 706.2L132.6 708.9L133.1 711.6L133.6 714.3L134.2 717L134.2 717.4L134.7 719.7L135.3 722.4L135.8 725.1L136.4 727.8L137 730.5L137.3 731.9L137.6 733.2L138.2 735.9L138.8 738.6L139.5 741.3L140.1 744L140.3 745L140.8 746.7L141.5 749.4L142.2 752.1L142.9 754.8L143.4 756.9L143.6 757.5L144.3 760.2L145.1 762.9L145.8 765.6L146.5 767.7L146.6 768.3L147.4 771L148.3 773.7L149.1 776.4L149.5 777.7L150 779.1L150.9 781.8L151.8 784.5L152.6 786.8L152.7 787.2L153.7 789.9L154.6 792.6L155.6 795.3L155.6 795.3L156.7 798L157.7 800.7L158.7 803.1L158.8 803.4L159.9 806.1L161.1 808.8L161.7 810.3L162.3 811.5L163.5 814.2L164.7 816.9L164.8 817L166 819.6L167.3 822.3L167.8 823.3L168.7 825L170.1 827.7L170.9 829.1L171.6 830.4L173.1 833.1L174 834.6L174.6 835.8L176.2 838.5L177 839.8L177.9 841.2L179.6 843.9L180.1 844.6L181.4 846.6L183.1 849.1L183.2 849.3L185.1 852L186.2 853.4L187.1 854.7L189.2 857.4L189.2 857.5L191.3 860.1L192.3 861.3L193.5 862.8L195.3 864.9L195.8 865.5L198.2 868.2L198.4 868.4L200.7 870.9L201.5 871.6L203.3 873.6L204.5 874.7L206.1 876.3L207.6 877.7L208.9 879L210.6 880.5L211.9 881.7L213.7 883.2L215.1 884.4L216.7 885.7L218.3 887.1L219.8 888.2L221.8 889.7L222.8 890.5L225.4 892.4L225.9 892.8L229 894.9L229.3 895.1L232 897L233.3 897.8L235.1 899L237.6 900.5L238.1 900.9L241.2 902.7L242.1 903.2L244.2 904.4L246.9 905.9L247.3 906.1L250.3 907.8L252.1 908.6L253.4 909.3L256.5 910.8L257.5 911.3L259.5 912.3L262.6 913.7L263.3 914L265.6 915.1L268.7 916.4L269.6 916.7L271.7 917.6L274.8 918.9L276.2 919.4L277.8 920L280.9 921.2L283.5 922.1L284 922.3L287 923.4L290.1 924.4L291.2 924.8L293.1 925.4L296.2 926.4L299.2 927.4L299.7 927.5L302.3 928.3L305.3 929.2L308.4 930.1L308.9 930.2L311.5 930.9L314.5 931.8L317.6 932.6L319 932.9L320.6 933.3L323.7 934.1L326.7 934.8L329.8 935.6L330.1 935.6L332.9 936.3L335.9 936.9L339 937.6L342 938.3L342.3 938.3L345.1 938.9L348.1 939.5L351.2 940.1L354.2 940.7L356 941L357.3 941.3L360.4 941.8L363.4 942.4L366.5 942.9L369.5 943.4L371.3 943.7L372.6 943.9L375.6 944.4L378.7 944.9L381.7 945.4L384.8 945.8L387.9 946.3L388.6 946.4L390.9 946.7L394 947.2L397 947.6L400.1 948L403.1 948.4L406.2 948.8L408.5 949.1L409.2 949.2L412.3 949.6L415.4 950L418.4 950.3L421.5 950.7L424.5 951L427.6 951.4L430.6 951.7L431.4 951.8L433.7 952.1L436.7 952.4L439.8 952.7L442.9 953L445.9 953.3L449 953.6L452 953.9L455.1 954.2L458.1 954.5L458.4 954.5L461.2 954.8L464.2 955L467.3 955.3L470.4 955.6L473.4 955.8L476.5 956.1L479.5 956.3L482.6 956.6L485.6 956.8L488.7 957.1L490.7 957.2L491.7 957.3L494.8 957.5L497.9 957.7L500.9 958L504 958.2L507 958.4L510.1 958.6L513.1 958.8L516.2 959L519.2 959.2L522.3 959.4L525.4 959.6L528.4 959.8L530.3 959.9L531.5 960L534.5 960.2L537.6 960.3L540.6 960.5L543.7 960.7L546.8 960.9" fill="none" stroke="#fff" stroke-width="1.9" stroke-dasharray="10 10" clip-path="url(#cp_d)" stroke-linejoin="round"/>
<path d="M163.1 587.5L163.6 590.2L164.2 592.9L164.8 595.6L164.8 595.6L165.4 598.3L166 601L166.6 603.7L167.2 606.4L167.8 609L167.9 609.1L168.5 611.8L169.2 614.5L169.8 617.2L170.5 619.9L170.9 621.6L171.2 622.6L171.9 625.3L172.6 628L173.3 630.7L174 633.3L174 633.4L174.7 636.1L175.5 638.8L176.2 641.5L176.9 644.2L177 644.4L177.7 646.9L178.5 649.6L179.3 652.3L180.1 654.8L180.1 655L180.9 657.7L181.8 660.4L182.6 663.1L183.1 664.6L183.5 665.8L184.4 668.5L185.3 671.2L186.2 673.9L186.2 673.9L187.1 676.6L188 679.3L189 682L189.2 682.7L190 684.7L190.9 687.4L191.9 690L192.3 691L193 692.7L194 695.4L195.1 698.1L195.3 698.9L196.2 700.8L197.3 703.5L198.4 706.2L198.4 706.3L199.5 708.9L200.7 711.6L201.5 713.4L201.9 714.3L203.1 717L204.3 719.7L204.5 720.2L205.6 722.4L206.9 725.1L207.6 726.6L208.2 727.8L209.5 730.5L210.6 732.7L210.9 733.2L212.3 735.9L213.7 738.6L213.7 738.6L215.2 741.3L216.6 744L216.7 744.2L218.2 746.7L219.7 749.4L219.8 749.5L221.3 752.1L222.8 754.6L223 754.8L224.6 757.5L225.9 759.5L226.3 760.2L228.1 762.9L229 764.2L229.9 765.6L231.7 768.3L232 768.7L233.6 771L235.1 773.1L235.5 773.7L237.5 776.4L238.1 777.2L239.6 779.1L241.2 781.2L241.6 781.8L243.8 784.5L244.2 785.1L246 787.2L247.3 788.8L248.3 789.9L250.3 792.3L250.6 792.6L253 795.3L253.4 795.8L255.5 798L256.5 799.1L258 800.7L259.5 802.3L260.6 803.4L262.6 805.3L263.3 806.1L265.6 808.3L266.1 808.8L268.7 811.2L269 811.5L271.7 814L271.9 814.2L274.8 816.7L275 816.9L277.8 819.3L278.2 819.6L280.9 821.8L281.5 822.3L284 824.3L284.9 825L287 826.6L288.4 827.7L290.1 828.9L292 830.4L293.1 831.2L295.8 833.1L296.2 833.3L299.2 835.4L299.8 835.8L302.3 837.5L303.9 838.5L305.3 839.4L308.1 841.2L308.4 841.4L311.5 843.2L312.5 843.9L314.5 845L317.2 846.6L317.6 846.8L320.6 848.5L322 849.3L323.7 850.2L326.7 851.8L327 852L329.8 853.4L332.3 854.7L332.9 855L335.9 856.5L337.8 857.4L339 857.9L342 859.3L343.6 860.1L345.1 860.7L348.1 862.1L349.6 862.8L351.2 863.4L354.2 864.7L356 865.5L357.3 866L360.4 867.2L362.7 868.2L363.4 868.4L366.5 869.6L369.5 870.7L369.8 870.9L372.6 871.9L375.6 872.9L377.3 873.6L378.7 874L381.7 875.1L384.8 876.1L385.3 876.3L387.9 877.1L390.9 878.1L393.7 879L394 879L397 880L400.1 880.9L402.7 881.7L403.1 881.8L406.2 882.7L409.2 883.5L412.2 884.4L412.3 884.4L415.4 885.2L418.4 886L421.5 886.8L422.5 887.1L424.5 887.6L427.6 888.3L430.6 889.1L433.5 889.7L433.7 889.8L436.7 890.5L439.8 891.2L442.9 891.9L445.3 892.4L445.9 892.6L449 893.2L452 893.9L455.1 894.5L458 895.1L458.1 895.2L461.2 895.8L464.2 896.4L467.3 897L470.4 897.6L471.9 897.8L473.4 898.1L476.5 898.7L479.5 899.2L482.6 899.8L485.6 900.3L486.9 900.5L488.7 900.8L491.7 901.3L494.8 901.8L497.9 902.3L500.9 902.8L503.4 903.2L504 903.3L507 903.8L510.1 904.2L513.1 904.7L516.2 905.1L519.2 905.6L521.6 905.9L522.3 906L525.4 906.5L528.4 906.9L531.5 907.3L534.5 907.7L537.6 908.1L540.6 908.5L541.8 908.6L543.7 908.9L546.8 909.3" fill="none" stroke="#fff" stroke-width="1.9" stroke-dasharray="10 10" clip-path="url(#cp_d)" stroke-linejoin="round"/>
<path d="M231.7 587.5L232 588.2L232.8 590.2L233.9 592.9L235 595.6L235.1 595.7L236.2 598.3L237.3 601L238.1 602.9L238.5 603.7L239.6 606.4L240.8 609.1L241.2 609.9L242.1 611.8L243.3 614.5L244.2 616.6L244.5 617.2L245.8 619.9L247.1 622.6L247.3 623L248.4 625.3L249.7 628L250.3 629.2L251.1 630.7L252.5 633.4L253.4 635.2L253.9 636.1L255.3 638.8L256.5 641L256.7 641.5L258.2 644.2L259.5 646.6L259.7 646.9L261.2 649.6L262.6 652L262.7 652.3L264.3 655L265.6 657.2L265.9 657.7L267.5 660.4L268.7 662.2L269.2 663.1L270.9 665.8L271.7 667.1L272.6 668.5L274.4 671.2L274.8 671.8L276.1 673.9L277.8 676.4L278 676.6L279.8 679.3L280.9 680.8L281.7 682L283.6 684.7L284 685.1L285.6 687.4L287 689.3L287.6 690L289.6 692.7L290.1 693.3L291.7 695.4L293.1 697.2L293.9 698.1L296 700.8L296.2 701L298.3 703.5L299.2 704.7L300.5 706.2L302.3 708.3L302.8 708.9L305.2 711.6L305.3 711.8L307.6 714.3L308.4 715.2L310.1 717L311.5 718.5L312.7 719.7L314.5 721.7L315.3 722.4L317.6 724.8L317.9 725.1L320.6 727.8L320.7 727.8L323.4 730.5L323.7 730.8L326.3 733.2L326.7 733.6L329.3 735.9L329.8 736.4L332.3 738.6L332.9 739.1L335.4 741.3L335.9 741.8L338.5 744L339 744.4L341.8 746.7L342 746.9L345.1 749.4L345.1 749.4L348.1 751.8L348.6 752.1L351.2 754.1L352.1 754.8L354.2 756.4L355.8 757.5L357.3 758.6L359.5 760.2L360.4 760.8L363.4 762.9L363.4 762.9L366.5 765L367.4 765.6L369.5 767L371.5 768.3L372.6 769L375.6 771L375.7 771L378.7 772.8L380.1 773.7L381.7 774.7L384.6 776.4L384.8 776.5L387.9 778.3L389.3 779.1L390.9 780L394 781.7L394.1 781.8L397 783.4L399.1 784.5L400.1 785L403.1 786.6L404.3 787.2L406.2 788.1L409.2 789.7L409.7 789.9L412.3 791.2L415.3 792.6L415.4 792.6L418.4 794.1L421.1 795.3L421.5 795.5L424.5 796.8L427.1 798L427.6 798.2L430.6 799.5L433.4 800.7L433.7 800.8L436.7 802.1L439.8 803.3L440 803.4L442.9 804.5L445.9 805.7L446.8 806.1L449 806.9L452 808.1L453.9 808.8L455.1 809.2L458.1 810.3L461.2 811.4L461.4 811.5L464.2 812.5L467.3 813.5L469.2 814.2L470.4 814.6L473.4 815.6L476.5 816.6L477.4 816.9L479.5 817.6L482.6 818.5L485.6 819.5L486 819.6L488.7 820.4L491.7 821.3L494.8 822.2L495 822.3L497.9 823.1L500.9 823.9L504 824.8L504.6 825L507 825.6L510.1 826.5L513.1 827.3L514.7 827.7L516.2 828.1L519.2 828.9L522.3 829.6L525.3 830.4L525.4 830.4L528.4 831.1L531.5 831.9L534.5 832.6L536.6 833.1L537.6 833.3L540.6 834L543.7 834.7L546.8 835.4" fill="none" stroke="#fff" stroke-width="1.9" stroke-dasharray="10 10" clip-path="url(#cp_d)" stroke-linejoin="round"/>
<path d="M314 587.5L314.5 588.2L315.8 590.2L317.6 592.8L317.7 592.9L319.6 595.6L320.6 597.1L321.4 598.3L323.4 601L323.7 601.4L325.3 603.7L326.7 605.6L327.3 606.4L329.4 609.1L329.8 609.7L331.4 611.8L332.9 613.6L333.5 614.5L335.7 617.2L335.9 617.5L337.9 619.9L339 621.2L340.1 622.6L342 624.9L342.3 625.3L344.6 628L345.1 628.5L347 630.7L348.1 632L349.4 633.4L351.2 635.4L351.8 636.1L354.2 638.8L354.3 638.8L356.8 641.5L357.3 642L359.4 644.2L360.4 645.2L362 646.9L363.4 648.3L364.7 649.6L366.5 651.3L367.4 652.3L369.5 654.3L370.2 655L372.6 657.2L373.1 657.7L375.6 660L376 660.4L378.7 662.8L379 663.1L381.7 665.5L382.1 665.8L384.8 668.1L385.2 668.5L387.9 670.7L388.4 671.2L390.9 673.3L391.7 673.9L394 675.7L395 676.6L397 678.2L398.4 679.3L400.1 680.5L401.9 682L403.1 682.9L405.5 684.7L406.2 685.1L409.2 687.4L409.2 687.4L412.3 689.6L413 690L415.4 691.7L416.9 692.7L418.4 693.8L420.8 695.4L421.5 695.9L424.5 697.9L424.9 698.1L427.6 699.9L429.1 700.8L430.6 701.8L433.4 703.5L433.7 703.7L436.7 705.6L437.9 706.2L439.8 707.4L442.4 708.9L442.9 709.2L445.9 711L447.1 711.6L449 712.7L451.9 714.3L452 714.4L455.1 716L456.9 717L458.1 717.7L461.2 719.3L462.1 719.7L464.2 720.8L467.3 722.4L467.4 722.4L470.4 723.9L472.8 725.1L473.4 725.4L476.5 726.9L478.5 727.8L479.5 728.3L482.6 729.7L484.3 730.5L485.6 731.1L488.7 732.5L490.4 733.2L491.7 733.8L494.8 735.1L496.6 735.9L497.9 736.4L500.9 737.7L503.1 738.6L504 739L507 740.2L509.9 741.3L510.1 741.4L513.1 742.6L516.2 743.8L516.9 744L519.2 744.9L522.3 746.1L524.1 746.7L525.4 747.2L528.4 748.3L531.5 749.4L531.7 749.4L534.5 750.4L537.6 751.5L539.5 752.1L540.6 752.5L543.7 753.5L546.8 754.5" fill="none" stroke="#fff" stroke-width="1.9" stroke-dasharray="10 10" clip-path="url(#cp_d)" stroke-linejoin="round"/>
<path d="M90.7 940.7L94.6 940.8L98.4 940.8L102.3 940.8L106.1 940.8L110 940.8L113.8 940.8L117.7 940.8L121.6 940.8L125.4 940.7L129.3 940.7L133.1 940.7L137 940.6L140.8 940.6L144.7 940.5L148.5 940.4L152.4 940.4L156.2 940.3L160.1 940.2L163.9 940.1L167.8 940L171.6 939.9L175.4 939.8L179.3 939.7L183.1 939.6L187 939.5L190.8 939.3L194.7 939.2L198.5 939.1L202.4 938.9L206.2 938.8L210.1 938.6L213.9 938.5L217.8 938.3L221.6 938.2L225.4 938L229.3 937.8L233.1 937.6L237 937.4L240.8 937.2L244.7 937.1L248.5 936.9L252.3 936.6L256.2 936.4L260 936.2L263.9 936L267.7 935.8L271.5 935.6L275.4 935.3L279.2 935.1L283.1 934.9L286.9 934.6L290.7 934.4L294.6 934.1L298.4 933.9L302.3 933.6L306.1 933.4L309.9 933.1L313.8 932.9L317.6 932.6L321.4 932.3L325.3 932L329.1 931.8L333 931.5L336.8 931.2L340.6 930.9L344.5 930.6L348.3 930.3L352.1 930L356 929.7L359.8 929.4L363.6 929.1L367.5 928.8L371.3 928.5L375.1 928.2L379 927.9L382.8 927.6L386.6 927.3L390.5 926.9L394.3 926.6L398.1 926.3L402 926L405.8 925.6L409.6 925.3L413.5 925L417.3 924.6L421.1 924.3L425 924L428.8 923.6L432.6 923.3L436.5 922.9L440.3 922.6L444.1 922.2L447.9 921.9L451.8 921.6L455.6 921.2L459.4 920.9L463.3 920.5L467.1 920.2L470.9 919.8L474.8 919.4L478.6 919.1L482.4 918.7L486.2 918.4L490.1 918L493.9 917.7L497.7 917.3L501.6 917L505.4 916.6L509.2 916.2L513 915.9L516.9 915.5L520.7 915.2L524.5 914.8L528.3 914.4L532.2 914.1L536 913.7L539.8 913.4L543.7 913L547.5 912.7" fill="none" stroke="#000" stroke-width="1.6" clip-path="url(#cp_d)" stroke-linejoin="round"/>
<path d="M90.7 875.5L94.6 877.8L98.4 880.2L102.3 882.1L106.1 883.6L109.9 884.8L113.8 885.6L117.6 886.3L121.5 886.7L125.3 886.9L129.1 887L133 887L136.8 886.9L140.6 886.6L144.5 886.3L148.3 886L152.2 885.5L156 885L159.8 884.5L163.7 883.9L167.5 883.2L171.3 882.5L175.2 881.8L179 881L182.9 880.2L186.7 879.4L190.5 878.5L194.4 877.6L198.2 876.7L202.1 875.7L205.9 874.8L209.7 873.7L213.6 872.7L217.4 871.7L221.2 870.6L225.1 869.5L228.9 868.4L232.8 867.2L236.6 866L240.4 864.9L244.3 863.6L248.1 862.4L252 861.2L255.8 859.9L259.6 858.6L263.5 857.3L267.3 856L271.1 854.7L275 853.4L278.8 852L282.7 850.6L286.5 849.2L290.3 847.8L294.2 846.4L298 844.9L301.9 843.5L305.7 842L309.5 840.5L313.4 839.1L317.2 837.5L321 836L324.9 834.5L328.7 832.9L332.6 831.4L336.4 829.8L340.2 828.2L344.1 826.6L347.9 825L351.7 823.4L355.6 821.8L359.4 820.1L363.3 818.5L367.1 816.8L370.9 815.1L374.8 813.5L378.6 811.8L382.5 810.1L386.3 808.4L390.1 806.6L394 804.9L397.8 803.2L401.6 801.4L405.5 799.7L409.3 797.9L413.2 796.1L417 794.3L420.8 792.5L424.7 790.7L428.5 788.9L432.4 787.1L436.2 785.3L440 783.5L443.9 781.6L447.7 779.8L451.5 777.9L455.4 776.1L459.2 774.2L463.1 772.4L466.9 770.5L470.7 768.6L474.6 766.7L478.4 764.8L482.3 762.9L486.1 761L489.9 759.1L493.8 757.2L497.6 755.3L501.4 753.4L505.3 751.5L509.1 749.5L513 747.6L516.8 745.7L520.6 743.7L524.5 741.8L528.3 739.9L532.2 737.9L536 736L539.8 734L543.7 732L547.5 730.1" fill="none" stroke="#000" stroke-width="1.6" clip-path="url(#cp_d)" stroke-linejoin="round"/>
<rect x="91" y="587" width="456.3" height="403.1" fill="none" stroke="#5a5a5a" stroke-width="1.0"/>
<path d="M154.2 989.6v-4.5M154.2 587.5v4.5M232.8 989.6v-4.5M232.8 587.5v4.5M311.2 989.6v-4.5M311.2 587.5v4.5M389.8 989.6v-4.5M389.8 587.5v4.5M468.2 989.6v-4.5M468.2 587.5v4.5" stroke="#5a5a5a" stroke-width="1.0" fill="none"/>
<path d="M91.5 934.1h4.5M546.8 934.1h-4.5M91.5 864.8h4.5M546.8 864.8h-4.5M91.5 795.5h4.5M546.8 795.5h-4.5M91.5 726.2h4.5M546.8 726.2h-4.5M91.5 656.8h4.5M546.8 656.8h-4.5" stroke="#5a5a5a" stroke-width="1.0" fill="none"/>
<text x="154.8" y="1022.1" font-size="27.0" text-anchor="middle">5</text>
<text x="82.7" y="943.1" font-size="27.0" text-anchor="end">5</text>
<text x="233.3" y="1022.1" font-size="27.0" text-anchor="middle">10</text>
<text x="82.7" y="873.8" font-size="27.0" text-anchor="end">10</text>
<text x="311.9" y="1022.1" font-size="27.0" text-anchor="middle">15</text>
<text x="82.7" y="804.5" font-size="27.0" text-anchor="end">15</text>
<text x="390.4" y="1022.1" font-size="27.0" text-anchor="middle">20</text>
<text x="82.7" y="735.2" font-size="27.0" text-anchor="end">20</text>
<text x="468.9" y="1022.1" font-size="27.0" text-anchor="middle">25</text>
<text x="82.7" y="665.8" font-size="27.0" text-anchor="end">25</text>
<text x="547.4" y="1022.1" font-size="27.0" text-anchor="middle">30</text>
<text x="82.7" y="596.5" font-size="27.0" text-anchor="end">30</text>
<g transform="translate(22.6 858.2) rotate(-90)">
<text x="0" y="0" font-size="30.5" text-anchor="start">-g</text>
<text x="27.9" y="14.2" font-size="21" text-anchor="start">1</text>
<text x="42.7" y="0" font-size="30.5" text-anchor="start">(meV)</text>
</g>
<text x="252.8" y="1060.8" font-size="30.5" text-anchor="start">g</text>
<text x="270.6" y="1072.8" font-size="24.5" text-anchor="start">a</text>
<text x="293.8" y="1060.8" font-size="30.5" text-anchor="start">(meV)</text>
<text x="138.1" y="570.9" font-size="30" text-anchor="start">Quantum yield</text>
<text transform="matrix(0.3643 0 0 0.3044 340.78 571.21)" font-size="100" font-family='"Liberation Serif", serif' font-style="italic" stroke="#fff" stroke-width="1.79">η</text>
<text x="359.7" y="570.9" font-size="30" text-anchor="start">,</text>
<text x="380" y="570.9" font-size="30" text-anchor="start">Q</text>
<text x="404.9" y="578.8" font-size="20" text-anchor="start">c</text>
<text x="419.3" y="570.9" font-size="30" text-anchor="start">=</text>
<text x="439.8" y="570.9" font-size="31.5" text-anchor="start">10</text>
<text x="477.4" y="556.9" font-size="19" text-anchor="start">4</text>
<text x="625.8" y="560.9" font-size="34.5" text-anchor="middle" letter-spacing="0.5">(d)</text>
<linearGradient id="cb_d" x1="0" y1="1" x2="0" y2="0"><stop offset="0.000" stop-color="#123d6c"/><stop offset="0.017" stop-color="#154273"/><stop offset="0.033" stop-color="#174779"/><stop offset="0.050" stop-color="#1a4c80"/><stop offset="0.067" stop-color="#1d5287"/><stop offset="0.083" stop-color="#21598d"/><stop offset="0.100" stop-color="#245f94"/><stop offset="0.117" stop-color="#28669a"/><stop offset="0.133" stop-color="#2c6ca1"/><stop offset="0.150" stop-color="#3073a7"/><stop offset="0.167" stop-color="#367aad"/><stop offset="0.183" stop-color="#3c81b3"/><stop offset="0.200" stop-color="#4288b9"/><stop offset="0.217" stop-color="#4a8ebd"/><stop offset="0.233" stop-color="#5294c1"/><stop offset="0.250" stop-color="#5a9ac5"/><stop offset="0.267" stop-color="#629fc7"/><stop offset="0.283" stop-color="#69a3ca"/><stop offset="0.300" stop-color="#71a8cc"/><stop offset="0.317" stop-color="#78accf"/><stop offset="0.333" stop-color="#7eb0d1"/><stop offset="0.350" stop-color="#84b3d3"/><stop offset="0.367" stop-color="#89b6d5"/><stop offset="0.383" stop-color="#92bcd9"/><stop offset="0.400" stop-color="#9dc3dd"/><stop offset="0.417" stop-color="#a6c8e0"/><stop offset="0.433" stop-color="#aecee3"/><stop offset="0.450" stop-color="#b7d3e6"/><stop offset="0.467" stop-color="#c0d8e9"/><stop offset="0.483" stop-color="#cadeec"/><stop offset="0.500" stop-color="#d3e3ef"/><stop offset="0.517" stop-color="#d6e3ed"/><stop offset="0.533" stop-color="#d9e2ea"/><stop offset="0.550" stop-color="#dce2e8"/><stop offset="0.567" stop-color="#dee1e5"/><stop offset="0.583" stop-color="#e0e1e3"/><stop offset="0.600" stop-color="#e2e0e0"/><stop offset="0.617" stop-color="#e4dfdd"/><stop offset="0.633" stop-color="#e7ddd9"/><stop offset="0.650" stop-color="#e9dcd6"/><stop offset="0.667" stop-color="#ebdbd4"/><stop offset="0.683" stop-color="#eddbd2"/><stop offset="0.700" stop-color="#efdad0"/><stop offset="0.717" stop-color="#f1d7c9"/><stop offset="0.733" stop-color="#f3d3c3"/><stop offset="0.750" stop-color="#f5d0bc"/><stop offset="0.767" stop-color="#f0c0ad"/><stop offset="0.783" stop-color="#eab19e"/><stop offset="0.800" stop-color="#e5a18f"/><stop offset="0.817" stop-color="#e19886"/><stop offset="0.833" stop-color="#dd8e7c"/><stop offset="0.850" stop-color="#d98573"/><stop offset="0.867" stop-color="#d37665"/><stop offset="0.883" stop-color="#cc6658"/><stop offset="0.900" stop-color="#c6574a"/><stop offset="0.917" stop-color="#b74843"/><stop offset="0.933" stop-color="#a9393c"/><stop offset="0.950" stop-color="#9a2a35"/><stop offset="0.967" stop-color="#902531"/><stop offset="0.983" stop-color="#85212c"/><stop offset="1.000" stop-color="#7b1c28"/></linearGradient>
<rect x="569.5" y="587.4" width="26.9" height="402.5" fill="url(#cb_d)" stroke="#5a5a5a" stroke-width="1"/>
<text x="605.5" y="997.8" font-size="23.3" text-anchor="start">0</text>
<path d="M596.4 909.4h-4.3" stroke="#5a5a5a" stroke-width="1"/>
<text x="605.5" y="917.3" font-size="23.3" text-anchor="start">0.2</text>
<path d="M596.4 828.9h-4.3" stroke="#5a5a5a" stroke-width="1"/>
<text x="605.5" y="836.8" font-size="23.3" text-anchor="start">0.4</text>
<path d="M596.4 748.4h-4.3" stroke="#5a5a5a" stroke-width="1"/>
<text x="605.5" y="756.3" font-size="23.3" text-anchor="start">0.6</text>
<path d="M596.4 667.9h-4.3" stroke="#5a5a5a" stroke-width="1"/>
<text x="605.5" y="675.8" font-size="23.3" text-anchor="start">0.8</text>
<text x="605.5" y="595.3" font-size="23.3" text-anchor="start">1.0</text>
<text x="209.4" y="830.2" font-size="23.3" text-anchor="middle" fill="#fff">0.40</text>
<text x="298.1" y="781" font-size="23.3" text-anchor="middle" fill="#fff">0.75</text>
<text x="376.9" y="730.3" font-size="23.3" text-anchor="middle" fill="#fff">0.90</text>
<text x="457.5" y="677.4" font-size="23.3" text-anchor="middle" fill="#fff">0.95</text>
<text transform="matrix(0.3083 0 0 0.2676 350.97 846.23)" font-size="100" font-family='"Liberation Serif", serif' font-style="italic">η</text>
<text x="372.7" y="846.5" font-size="23.3" text-anchor="start">/</text>
<text transform="matrix(0.3083 0 0 0.2676 384.22 846.23)" font-size="100" font-family='"Liberation Serif", serif' font-style="italic">η</text>
<text x="399.9" y="858.4" font-size="18.5" text-anchor="start">0</text>
<text x="415.2" y="847.3" font-size="23.3" text-anchor="start">&gt;</text>
<text x="430.2" y="847.3" font-size="23.3" text-anchor="start">10</text>
<text x="456.6" y="836.1" font-size="15.5" text-anchor="start">2</text>
<text transform="matrix(0.3083 0 0 0.2676 237.67 962.43)" font-size="100" font-family='"Liberation Serif", serif' font-style="italic">η</text>
<text x="259.4" y="962.7" font-size="23.3" text-anchor="start">/</text>
<text transform="matrix(0.3083 0 0 0.2676 270.92 962.43)" font-size="100" font-family='"Liberation Serif", serif' font-style="italic">η</text>
<text x="286.6" y="974.6" font-size="18.5" text-anchor="start">0</text>
<text x="301.9" y="963.5" font-size="23.3" text-anchor="start">&gt;</text>
<text x="316.9" y="963.5" font-size="23.3" text-anchor="start">10</text>
<g clip-path="url(#cp_e)"><rect x="762.1" y="586.7" width="456.7" height="403.8" fill="#123e6d"/><path d="M1008.9 988.7L1049.4 990.4L1218.7 990.4L1218.7 586.7L762.1 586.7L762.1 725.8L764.9 772.5L768.5 813L770.9 833.3L773.9 853.6L776.7 868.8L779.9 882.3L783.7 895.8L788 907.7L792.5 917.8L797.2 926.2L803 934.7L808.8 941.4L815.6 947.9L822.6 953.3L830.8 958.4L840.4 963.2L850 967.1L861.4 970.8L874.8 974.3L886.3 976.7L901.5 979.3L918.7 981.7L939.8 984L960.8 985.8L1008.9 988.7Z" fill="#133f6f"/><path d="M1167.8 988.7L1218.7 989.8L1218.7 586.7L762.1 586.7L762.1 606.9L763.4 640.7L765.5 683L768.4 728.6L770.6 755.6L773.2 780.9L776.3 806.3L779.8 828.3L783.8 848.5L787.6 863.7L791.7 877.2L796.8 890.8L802.3 902.6L808.2 912.7L815.5 922.9L823.1 931.3L830.8 938.3L840.4 945.2L851.5 951.6L863.3 957L874.8 961.2L890.1 965.7L905.4 969.4L924.5 972.9L943.6 975.8L964.6 978.3L991.4 980.8L1020 982.9L1085 986.2L1167.8 988.7Z" fill="#144071"/><path d="M1174.7 985.4L1218.7 986.5L1218.7 586.7L764.5 586.7L768.4 664.4L770.6 696.5L772.9 725.2L775.9 755.6L778.6 777.6L782.1 801.2L785.8 821.5L790 840.1L794.2 855.3L799.3 870.5L804.9 884L810.9 895.8L817.2 906L825 916.1L832.8 924.3L842.3 932.5L851.9 939.2L863.3 945.7L874.8 950.9L888.2 955.9L903.5 960.6L918.7 964.3L935.9 967.7L957 971.1L979.9 974.1L1002.8 976.4L1033.4 978.9L1065.9 981L1098.4 982.6L1174.7 985.4Z" fill="#154272"/><path d="M1164.5 982L1218.7 983.6L1218.7 586.7L767.2 586.7L771.2 655.9L773.9 693.1L776.4 720.1L779.6 748.8L782.5 770.8L786 792.8L790 813L794 829.9L798.8 846.8L803.4 860.3L809 873.9L814.9 885.7L822.2 897.5L829.8 907.7L837.5 916.1L846.1 924L855.9 931.3L866.9 938.1L878.6 943.9L892 949.4L905.4 954L922.6 958.7L939.8 962.5L958.9 966L979.9 969.1L1004.7 972.1L1029.6 974.5L1056.3 976.6L1092.6 978.8L1164.5 982Z" fill="#154374"/><path d="M1193.8 980.3L1218.7 981.1L1218.7 586.7L769.6 586.7L772.1 628.9L774.4 661L776.8 689.7L779.9 720.1L782.6 742.1L786.2 767.4L790.1 789.4L794.4 809.7L799.1 828.3L803.8 843.5L809.5 858.7L815.7 872.2L822.2 884L830.1 895.8L838.4 906L846.1 913.8L855.7 921.9L867.2 929.8L878.6 936.3L892 942.5L905.4 947.6L920.7 952.4L937.9 956.9L957 960.9L978 964.4L1000.9 967.6L1027.7 970.6L1052.5 972.8L1081.2 974.9L1119.4 977.2L1193.8 980.3Z" fill="#164476"/><path d="M1214.5 978.6L1218.7 978.7L1218.7 586.7L771.8 586.7L774.2 623.8L776.6 655.9L779.7 689.7L782.7 716.8L786 742.1L790 767.4L794.3 789.4L799 809.7L803.7 826.6L809.4 843.5L814.9 857L821.5 870.5L828.5 882.3L835.7 892.4L844.3 902.6L853.8 911.8L863.3 919.5L874.8 927.1L888.2 934.4L901.5 940.3L916.8 945.9L932.1 950.5L949.3 954.8L968.4 958.7L991.4 962.5L1014.3 965.6L1037.2 968.2L1067.8 970.9L1098.4 973.2L1136.6 975.4L1214.5 978.6Z" fill="#174678"/><path d="M1183.9 975.2L1218.7 976.6L1218.7 586.7L773.8 586.7L776.3 622.1L778.9 654.2L782.1 686.3L785.4 715.1L788.5 737L792.3 760.7L796.7 782.6L801 801.2L805.7 818.1L810.8 833.3L816.7 848.5L823.1 862L829.8 873.9L837.8 885.7L846.1 895.8L854.3 904.3L864.1 912.7L874.8 920.4L886.3 927.3L899.6 933.9L913 939.4L928.3 944.7L943.6 949.1L962.7 953.6L981.8 957.3L1002.8 960.7L1025.7 963.7L1050.6 966.5L1079.3 969.1L1109.8 971.3L1142.3 973.2L1183.9 975.2Z" fill="#17477a"/><path d="M1194.1 973.5L1218.7 974.5L1218.7 586.7L775.7 586.7L778.2 620.5L780.9 650.9L784 681.3L787.5 710L791.2 735.3L794.9 757.3L799.1 777.6L803.5 796.2L808.9 814.7L814.1 829.9L820.2 845.1L826.8 858.7L833.6 870.5L841.8 882.3L850.2 892.4L859.5 901.8L869.1 909.9L880.2 917.8L891.6 924.5L903.5 930.5L918.7 936.8L934 942.1L951.2 947L968.4 951.1L989.4 955.2L1010.5 958.6L1035.3 961.9L1060.1 964.7L1088.8 967.3L1119.4 969.5L1153.8 971.6L1194.1 973.5Z" fill="#18497b"/><path d="M1201 971.8L1218.7 972.6L1218.7 586.7L777.5 586.7L780.3 622.1L783.5 655.9L786.3 681.3L789.8 708.3L793.6 733.6L797.6 755.6L802 775.9L807.1 796.2L812.8 814.7L818.3 829.9L824.1 843.5L831 857L838.1 868.8L846.1 880L855.3 890.8L863.9 899.2L874.8 908.2L886.3 916.1L897.7 922.7L911.1 929.2L926.4 935.3L941.7 940.4L958.9 945.2L976.1 949.3L995.2 953L1018.1 956.8L1041 959.9L1067.8 962.9L1096.4 965.5L1127 967.8L1161.4 969.9L1201 971.8Z" fill="#194a7d"/><path d="M1205.4 970.2L1218.7 970.8L1218.7 586.7L779.2 586.7L781.9 618.8L784.6 647.5L787.9 676.2L791.7 704.9L795.4 728.6L799.4 750.5L803.8 770.8L809.1 791.1L814.8 809.7L820.3 824.9L826.9 840.1L833.9 853.6L841.1 865.4L849.6 877.2L858.4 887.4L867.2 896L877.1 904.3L888.2 912.1L900.7 919.5L914.4 926.2L928.3 932L943.6 937.3L960.8 942.3L979.9 946.9L999 950.7L1021.9 954.6L1044.9 957.8L1073.5 961L1102.2 963.7L1132.8 966L1165.2 968.1L1205.4 970.2Z" fill="#1a4b7f"/><path d="M1207.9 968.5L1218.7 969L1218.7 586.7L780.9 586.7L784 622.1L787.1 652.6L790.2 677.9L794 704.9L797.9 728.6L802.5 752.2L807.2 772.5L812.3 791.1L818.3 809.7L824.1 824.9L830.2 838.4L837.4 851.9L844.8 863.7L852.3 873.9L861 884L871 893.7L880.5 901.6L892 909.7L905.4 917.5L918.7 924L934 930.3L949.3 935.5L966.5 940.5L985.6 945.1L1004.7 949L1027.7 952.8L1050.6 956L1077.3 959.1L1107.9 962L1136.6 964.3L1169.1 966.4L1207.9 968.5Z" fill="#1a4d81"/><path d="M1208.9 966.8L1218.7 967.3L1218.7 586.7L782.4 586.7L785.5 620.5L788.4 647.5L792 676.2L795.9 703.2L799.9 726.9L804.7 750.5L809.1 769.1L814.3 787.7L820.4 806.3L826.3 821.5L832.5 835L839.7 848.5L847.2 860.3L855.7 871.8L864.9 882.3L873.7 890.8L884.4 899.6L895.8 907.5L907.5 914.4L921 921.2L935.9 927.4L951.2 932.8L968.4 937.9L987.5 942.6L1008.6 947L1029.6 950.6L1054.4 954.2L1079.3 957.1L1106 959.8L1138.5 962.5L1171 964.7L1208.9 966.8Z" fill="#1b4f83"/><path d="M1208.7 965.1L1218.7 965.6L1218.7 586.7L784 586.7L787.2 620.5L790.2 647.5L793.7 674.5L797.7 701.5L801.6 723.5L806.5 747.2L811.4 767.4L816.7 786L822.4 802.9L828.4 818.1L834.7 831.9L841.8 845.1L849.3 857L858 868.8L866.9 878.9L876.7 888.4L887.9 897.5L899.6 905.6L911.1 912.3L924.5 919L939.8 925.4L955.1 930.8L972.2 936L989.4 940.3L1008.6 944.4L1031.5 948.5L1056.3 952.2L1081.2 955.2L1107.9 958L1140.4 960.8L1172.9 963L1208.7 965.1Z" fill="#1c5085"/><path d="M1207.7 963.4L1218.7 964L1218.7 586.7L785.4 586.7L788.4 617.1L791.9 647.5L795.5 674.5L799.5 699.9L803.8 723.5L808.5 745.5L813.1 764.1L818.4 782.6L824.2 799.5L830.2 814.7L837.3 829.9L844.2 842.7L851.9 854.7L859.9 865.4L869.1 875.9L879.1 885.7L890.1 894.7L901.3 902.6L913 909.5L926.4 916.3L941.6 922.9L957 928.4L974.2 933.6L993.3 938.5L1012.4 942.7L1035.3 946.8L1060.1 950.5L1085 953.6L1111.7 956.4L1142.3 959.1L1207.7 963.4Z" fill="#1d5286"/><path d="M1205.9 961.7L1218.7 962.4L1218.7 586.7L786.9 586.7L790 617.1L793.6 647.5L797.3 674.5L801.1 698.2L805.6 721.8L810.4 743.8L815.1 762.4L820.6 780.9L826.5 797.8L832.6 813L839 826.6L846.4 840.1L854 851.9L862.9 863.7L871.8 873.9L882.4 884L892.7 892.4L904.9 900.9L916.8 908L930.2 914.7L945.4 921.2L960.8 926.7L978 932L995.2 936.4L1014.3 940.6L1035.3 944.5L1056.3 947.9L1083.1 951.4L1109.8 954.4L1140.4 957.2L1171 959.5L1205.9 961.7Z" fill="#1e5488"/><path d="M1203.7 960L1218.7 960.9L1218.7 586.7L788.3 586.7L791.7 618.8L795.2 647.5L799.1 674.5L802.7 696.5L806.9 718.4L811.4 738.7L816.6 759L822.1 777.6L828 794.5L834.2 809.7L841.4 824.9L848 836.9L855.7 848.8L864.3 860.3L873.1 870.5L883.5 880.6L893.9 889.3L905.4 897.4L916.8 904.4L930.2 911.4L945.5 918.1L960.8 923.9L978 929.3L995.2 933.9L1014.3 938.3L1035.3 942.4L1058.2 946.1L1083.1 949.5L1109.8 952.5L1140.4 955.4L1171 957.9L1203.7 960Z" fill="#1f568a"/><path d="M1201.1 958.3L1218.7 959.4L1218.7 586.7L789.6 586.7L793.2 618.8L796.8 647.5L800.8 674.5L804.6 696.5L808.9 718.4L813.9 740.4L818.9 759L824.1 775.9L830.1 792.8L836.4 808L842.8 821.5L850.3 835L858 846.8L866.9 858.7L875.9 868.8L886.3 878.8L896.6 887.4L908.5 895.8L920.7 903.1L934 910L947.4 915.9L962.7 921.7L979.9 927.3L997.1 932L1016.2 936.4L1037.2 940.6L1058.2 944.1L1083.1 947.6L1109.8 950.8L1138.5 953.6L1167.1 956L1201.1 958.3Z" fill="#20578c"/><path d="M1198.2 956.6L1218.7 957.9L1218.7 586.7L791 586.7L794 613.7L797.7 642.4L801.4 667.8L805.8 693.1L810.5 716.8L815.2 737L820.2 755.6L825.9 774.2L832.1 791.1L838.4 806.3L845 819.8L852.6 833.3L860.4 845.1L869.1 856.5L878.5 867.1L887.2 875.6L897.7 884.4L909.2 892.7L920.7 899.8L934 906.9L947.4 913L962.7 919L979.9 924.7L997.1 929.6L1016.2 934.2L1037.2 938.5L1060.1 942.4L1083.1 945.7L1109.8 949L1136.6 951.8L1165.2 954.2L1198.2 956.6Z" fill="#21598e"/><path d="M1195.2 955L1218.7 956.5L1218.7 586.7L792.3 586.7L795.6 615.4L799.2 642.4L803 667.8L807.2 691.4L811.3 711.7L816.4 733.6L821.9 753.9L827.2 770.8L832.6 786L838.9 801.2L845.4 814.7L852.8 828.3L860.3 840.1L869.1 851.9L878.6 863L888.2 872.5L897.7 880.7L909.2 889.2L920.7 896.6L934.8 904.3L949.3 911L964.6 917.1L979.9 922.3L997.1 927.3L1016.2 932L1035.3 936L1058.2 940.2L1081.2 943.6L1106 946.8L1132.8 949.7L1163.3 952.5L1195.2 955Z" fill="#225b8f"/><path d="M1216.7 955L1218.7 955.1L1218.7 586.7L793.5 586.7L797.2 617.1L800.9 644.1L804.9 669.4L809.3 693.1L813.9 715.1L818.8 735.3L824 753.9L830.1 772.5L836.5 789.4L843.2 804.6L850 818.1L857.6 831L866.1 843.5L874.8 854.4L884.4 864.8L894 873.9L905.4 883L916.8 891L930.2 898.9L943.6 905.6L958.9 912.3L974.2 917.9L991.4 923.4L1008.6 928L1027.7 932.4L1050.6 936.9L1073.5 940.7L1096.4 943.9L1125.1 947.3L1153.8 950.2L1184.3 952.7L1216.7 955Z" fill="#235c91"/><path d="M1212.2 953.3L1218.7 953.7L1218.7 586.7L794.8 586.7L798.1 613.7L801.9 640.7L806.2 667.8L810.6 691.4L815.3 713.4L820.3 733.6L826.1 753.9L831.8 770.8L837.5 786L844.2 801.3L851 814.7L858.9 828.3L867.2 840.4L876.2 851.9L885.5 862L895.8 871.8L906.7 880.6L918.7 889L930.2 895.9L943.6 902.9L958.9 909.7L974.2 915.5L991.4 921.1L1008.6 925.8L1027.7 930.4L1046.8 934.3L1069.7 938.3L1094.5 942L1121.3 945.3L1148 948.1L1178.6 950.8L1212.2 953.3Z" fill="#245e93"/><path d="M1207.8 951.6L1218.7 952.3L1218.7 586.7L796 586.7L799.6 615.4L803.5 642.4L807.4 666.1L812.3 691.4L816.7 711.7L821.8 732L827.2 750.5L832.8 767.4L839.2 784.3L845.2 797.8L852 811.4L859.8 824.9L867.7 836.7L876.9 848.5L886.3 859L896.5 868.8L907.3 877.7L918.5 885.7L930.2 892.9L943.6 900.1L958.9 907.1L974.2 913.1L991.4 918.8L1008.6 923.7L1027.7 928.4L1048.7 932.8L1071.6 936.8L1094.5 940.3L1119.4 943.5L1146.1 946.4L1174.8 949L1207.8 951.6Z" fill="#256095"/><path d="M1203.4 949.9L1218.7 951L1218.7 586.7L797.3 586.7L801 615.4L804.7 640.7L809 666.1L813.2 688L818 710L822.8 728.6L828.1 747.2L834.3 765.7L840.2 780.9L846.9 796.2L853.8 809.8L861.6 823.2L869.6 835L878.6 846.6L888 857L897.7 866.4L908.8 875.6L920.6 884L932.1 891.2L945.5 898.3L958.9 904.6L974.2 910.7L991.4 916.6L1008.6 921.6L1027.7 926.4L1046.8 930.5L1067.8 934.4L1092.6 938.3L1117.5 941.7L1142.3 944.5L1171 947.3L1203.4 949.9Z" fill="#266297"/><path d="M1199.1 948.2L1218.7 949.6L1218.7 586.7L798.5 586.7L802 613.7L806 640.3L809.8 662.7L815.5 691.4L821 715.1L825.1 730.5L830.6 748.8L836.5 765.7L842.3 780.6L849.3 796.2L855.7 808.5L863.3 821.4L872.7 835L880.5 844.9L889.9 855.3L898.6 863.7L909.2 872.7L920.7 881L933.4 889.1L945.8 895.8L960.8 902.9L976.8 909.3L991.5 914.4L1008.3 919.5L1028 924.5L1044.9 928.3L1069.5 933L1090.7 936.4L1115.6 939.8L1143.7 943.1L1199.1 948.2Z" fill="#276498"/><path d="M1218.1 948.2L1218.7 948.2L1218.7 586.7L799.7 586.7L803.1 612L807.3 639L812 666.1L816.5 688L821.6 710L826.5 728.6L832.2 747.2L838.1 764.1L844.2 779.4L851.1 794.5L858.2 808L866.4 821.5L874.8 833.5L884.2 845.1L893.7 855.3L903.5 864.4L914.9 873.7L926.4 881.7L939.8 889.8L953.1 896.7L968.4 903.5L983.7 909.4L1000.9 915.1L1018.1 920L1037.2 924.6L1058.2 929L1079.3 932.8L1104.1 936.6L1128.1 939.8L1155.7 942.8L1186.3 945.7L1218.1 948.2Z" fill="#28659a"/><path d="M1214.6 946.5L1218.7 946.8L1218.7 586.7L801 586.7L805 615.4L809 640.7L813.3 664.4L817.8 686.3L822.6 706.6L828 726.9L833.7 745.5L839.7 762.4L845.8 777.6L852.9 792.8L860 806.3L868.3 819.8L876.7 831.7L886.2 843.5L895.7 853.6L905.4 862.5L916.8 871.8L928.3 879.8L940.7 887.4L953.5 894.1L968.4 901L983.7 907L1000.9 912.8L1018.1 917.8L1037.2 922.6L1058.2 927.1L1079.3 931L1102.2 934.6L1127 938L1153.8 941L1182.4 943.9L1214.6 946.5Z" fill="#29679c"/><path d="M1211.1 944.8L1218.7 945.4L1218.7 586.7L802.3 586.7L806.4 615.4L810.2 639L814.5 662.7L819.1 684.7L823.9 704.9L829.4 725.2L835.2 743.8L841.3 760.7L847.5 775.9L854.6 791.1L861.8 804.6L870.1 818.1L878.5 829.9L886.7 840.1L896.1 850.2L906.8 860.3L917.2 868.8L929 877.2L941.7 885.1L955.1 892.2L968.4 898.4L983.7 904.6L1000.9 910.6L1018.1 915.7L1037.2 920.6L1056.3 924.8L1077.3 928.9L1100.3 932.6L1125.1 936.1L1151.9 939.3L1180.5 942.2L1211.1 944.8Z" fill="#2a699e"/><path d="M1207.7 943.1L1218.7 944L1218.7 586.7L803.5 586.7L807.2 612L811.3 637.3L816.1 662.7L820.8 684.7L825.7 704.9L831.3 725.2L837.3 743.8L842.8 759L849.1 774.2L856.2 789.4L863.3 802.6L870.8 814.7L879.1 826.6L888.2 837.9L897.7 848.3L907.3 857.3L918.7 866.8L930.2 875L941.8 882.3L955.1 889.5L968.4 895.9L983.7 902.2L1000.9 908.3L1018.1 913.6L1037.2 918.6L1056.3 923L1077.3 927.1L1100.3 930.9L1123.2 934.2L1150 937.5L1178.6 940.5L1207.7 943.1Z" fill="#2b6b9f"/><path d="M1204.2 941.4L1218.7 942.6L1218.7 586.7L804.8 586.7L808.8 613.7L812.7 637.3L817.2 661L822 683L827 703.2L832.2 721.8L838.1 740.4L844.2 757.1L850.6 772.5L857.6 787.2L865.2 801.2L872.5 813L880.8 824.9L890.1 836.3L899.6 846.7L909.2 855.7L920.7 865.2L932.1 873.4L943.7 880.6L957 887.9L970.3 894.3L985.6 900.6L1000.9 906.1L1018.1 911.5L1035.3 916.2L1054.4 920.7L1075.4 924.9L1098.4 928.9L1121.3 932.4L1148 935.8L1174.8 938.7L1204.2 941.4Z" fill="#2c6da1"/><path d="M1200.9 939.8L1218.7 941.3L1218.7 586.7L806 586.7L810.1 613.7L814.5 639L818.7 661L823.6 683L828.7 703.2L834 721.8L839.5 738.7L845.7 755.6L852.1 770.8L859.4 786L866.8 799.5L874.2 811.4L882.4 823.1L890.7 833.3L899.9 843.5L910.5 853.6L920.7 862.1L932.1 870.5L943.6 877.8L957 885.3L970.3 891.8L985.6 898.3L1000.9 904L1018.1 909.5L1035.3 914.2L1054.4 918.8L1075.4 923.2L1096.4 926.9L1119.4 930.5L1144.2 933.8L1171 936.8L1200.9 939.8Z" fill="#2d6ea3"/><path d="M1216.7 939.8L1218.7 939.9L1218.7 586.7L807.2 586.7L811.1 612L815.2 635.7L819.9 659.3L824.8 681.3L830 701.5L835.3 720.1L841.5 738.7L847.8 755.6L854.3 770.8L861.4 785.3L869.1 799L876.9 811.4L885.5 823.2L895.3 835L905 845.1L914.9 854.3L926.4 863.5L937.9 871.5L950 878.9L962.7 885.7L976.1 892L991.4 898.3L1008.6 904.4L1025.7 909.7L1044.9 914.7L1064 919.1L1085 923.3L1107.9 927.2L1130.8 930.5L1157.6 933.9L1186.3 937L1216.7 939.8Z" fill="#2e70a4"/><path d="M1212.7 938.1L1218.7 938.6L1218.7 586.7L808.4 586.7L812.7 613.7L816.9 637.3L821.7 661L826.4 681.3L831.6 701.5L837.1 720.1L842.8 737L849.2 753.9L855.8 769.1L863.3 784.3L870.9 797.8L878.5 809.7L887.1 821.5L895.8 832.1L905.4 842.2L915.8 851.9L926.4 860.5L938 868.8L951.2 877L964.2 884L978 890.5L993.3 896.8L1008.6 902.3L1025.7 907.7L1044.9 912.9L1064 917.3L1085 921.6L1106 925.2L1130.8 929L1155.7 932.2L1184.3 935.4L1212.7 938.1Z" fill="#2f72a6"/><path d="M1208.8 936.4L1218.7 937.3L1218.7 586.7L809.6 586.7L813.4 610.3L818 635.7L822.4 657.6L827.5 679.6L832.8 699.9L838.4 718.4L844.2 735.8L850.5 752.2L857.2 767.4L864.7 782.6L872.4 796.2L880 808L888.2 819.2L897 829.9L906.5 840.1L916.8 849.7L927.8 858.7L939.6 867.1L951.2 874.4L964.6 881.8L978 888.2L993.3 894.6L1008.6 900.2L1025.7 905.7L1044.9 911L1064 915.6L1085 919.9L1106 923.6L1128.9 927.2L1153.8 930.5L1180.5 933.6L1208.8 936.4Z" fill="#3174a8"/><path d="M1205.1 934.7L1218.7 935.9L1218.7 586.7L810.8 586.7L814.7 610.3L819 634L823.9 657.6L828.6 677.9L833.5 696.5L839 715.1L844.7 732L851.1 748.8L857.7 764.1L865.2 779.3L872.8 792.8L880.3 804.6L888.8 816.4L897.7 827.3L907.3 837.6L917 846.8L928.3 856.2L939.8 864.5L951.7 872.2L964.6 879.4L978 885.9L993.3 892.5L1008.6 898.2L1025.7 903.8L1042.9 908.7L1062.1 913.4L1083.1 917.8L1104.1 921.7L1127 925.4L1151.9 928.8L1178.6 932L1205.1 934.7Z" fill="#3276a9"/><path d="M1201.5 933L1218.7 934.6L1218.7 586.7L812 586.7L816.2 612L820.6 635.7L825.3 657.6L830.1 677.9L835.1 696.5L840.8 715.1L846.6 732L853.1 748.8L859.8 764.1L866.6 777.6L874.2 791.1L881.7 802.9L890.2 814.7L899.6 826.2L909.2 836.4L918.7 845.4L928.6 853.6L940 862L951.2 869.3L965.1 877.2L978.7 884L993.3 890.3L1008.6 896.1L1025.7 901.8L1042.9 906.8L1062.1 911.6L1081.2 915.8L1102.2 919.8L1125.1 923.6L1148 926.9L1174.8 930.2L1201.5 933Z" fill="#3478ab"/><path d="M1215.3 933L1218.7 933.3L1218.7 586.7L813.2 586.7L817.5 612L822 635.7L826.7 657.6L831.7 677.9L837.2 698.2L842.5 715.1L848.4 732L855.1 748.8L861.9 764.1L868.8 777.6L876.6 791.1L884.4 803L893 814.7L902.9 826.6L912.7 836.7L922.6 845.8L934 855L945.5 863.1L957.3 870.5L970.3 877.6L983.7 884.1L999.6 890.8L1016.2 896.8L1033.4 902.3L1052.5 907.5L1071.6 912.1L1092.6 916.4L1113.6 920.2L1136.6 923.8L1161.4 927.2L1188.2 930.3L1215.3 933Z" fill="#367aad"/><path d="M1211.2 931.3L1218.7 932L1218.7 586.7L814.3 586.7L818.7 612L823.3 635.7L828.1 657.6L833.2 677.9L838.5 697L844.2 715.1L850.2 732L856.3 747.2L863.2 762.4L870.1 775.9L877.9 789.4L885.6 801.2L894.3 813L903.5 823.9L913 834L923.2 843.5L934 852.3L945.5 860.5L957 867.8L970.3 875.3L983.7 881.9L999 888.4L1014.3 894.2L1031.5 899.8L1048.7 904.7L1067.8 909.5L1088.8 914.1L1109.8 918L1132.8 921.8L1157.6 925.3L1184.3 928.5L1211.2 931.3Z" fill="#377cae"/><path d="M1207.4 929.6L1218.7 930.7L1218.7 586.7L815.5 586.7L819.9 612L824.3 634L829.1 655.9L834.2 676.2L839.4 694.8L845.3 713.4L851.4 730.3L857.5 745.5L864.4 760.7L871.3 774.2L879.2 787.7L886.9 799.5L895.7 811.4L904.1 821.5L913.7 831.6L924.5 841.7L934.9 850.2L946.5 858.7L958.9 866.5L972 873.9L985.6 880.6L999 886.4L1014.3 892.2L1031.5 897.9L1048.7 903L1067.8 907.8L1086.9 912.1L1107.9 916.1L1130.8 920L1153.8 923.3L1180.5 926.7L1207.4 929.6Z" fill="#397eb0"/><path d="M1203.7 927.9L1218.7 929.4L1218.7 586.7L816.6 586.7L820.8 610.3L825.6 634L830.1 654.2L835.2 674.5L840.5 693.1L846.4 711.7L852.5 728.6L858.7 743.8L865.6 759L872.6 772.5L880.4 786L888.2 797.8L897 809.7L905.4 819.7L914.9 829.8L924.5 838.8L934 846.9L945.5 855.4L957 863L970.3 870.7L983.7 877.5L999 884.3L1014.3 890.2L1030.7 895.8L1047.6 900.9L1065.9 905.7L1085 910L1106 914.2L1128.9 918.2L1151.9 921.6L1176.7 924.9L1203.7 927.9Z" fill="#3b7fb2"/><path d="M1216.3 927.9L1218.7 928.2L1218.7 586.7L817.8 586.7L822.1 610.3L826.5 632.3L831.5 654.2L836.7 674.5L842.1 693.1L848 711.5L854.3 728.6L860.6 743.8L867.6 759L874.7 772.5L882.4 785.5L890.7 797.8L899.6 809.7L909.2 820.8L918.7 830.7L929.1 840.1L939.8 848.7L951.5 857L964.6 865.2L977.4 872.2L991.4 878.9L1006.6 885.4L1021.9 891L1039.1 896.6L1056.3 901.5L1075.4 906.3L1096.4 910.8L1117.5 914.8L1140.4 918.5L1163.3 921.8L1190.1 925.1L1216.3 927.9Z" fill="#3c81b3"/><path d="M1212.3 926.2L1218.7 926.9L1218.7 586.7L818.9 586.7L823.6 612L828.2 634L833.3 655.9L838.2 674.5L843.6 693.1L849.8 711.7L856.1 728.6L862.4 743.8L869.6 759L876.7 772.2L884 784.3L892 796.3L900.8 808L909.5 818.1L919.2 828.3L930.2 838.3L940.8 846.8L952.6 855.3L964.6 862.8L978 870.3L991.4 876.8L1006.6 883.4L1021.9 889.1L1037.2 894.2L1054.4 899.3L1073.5 904.2L1092.6 908.5L1113.6 912.6L1136.6 916.5L1159.5 919.9L1184.3 923.1L1212.3 926.2Z" fill="#3e83b5"/><path d="M1208.4 924.5L1218.7 925.6L1218.7 586.7L820 586.7L824.5 610.3L829.1 632.3L833.8 652.6L839.1 672.8L844.6 691.4L850.2 708.3L856.5 725.2L862.8 740.4L869.9 755.6L877.1 769.1L885.1 782.6L893.1 794.5L901.5 805.7L910.7 816.4L920.4 826.6L930.2 835.6L941.7 845L953.1 853.2L964.6 860.5L978 868.1L991.4 874.7L1006.6 881.4L1021.9 887.3L1037.2 892.4L1054.3 897.5L1071.6 902.1L1090.7 906.5L1111.7 910.7L1134.7 914.8L1157.6 918.3L1182.4 921.6L1208.4 924.5Z" fill="#4085b7"/><path d="M1204.7 922.9L1218.7 924.4L1218.7 586.7L821.2 586.7L825.7 610.3L830 630.6L834.8 650.9L840.1 671.1L845.6 689.7L851.2 706.6L857.5 723.5L863.9 738.7L871 753.7L878.2 767.4L886.3 780.9L893.9 792.3L901.9 802.9L911.1 813.9L920.7 823.9L930.7 833.3L941.7 842.4L952.3 850.2L964.6 858.2L977.1 865.4L990.4 872.2L1004.7 878.6L1020 884.7L1035.3 890L1052.5 895.3L1069.7 900L1088.8 904.5L1109.8 908.9L1130.8 912.7L1153.8 916.3L1178.6 919.7L1204.7 922.9Z" fill="#4187b8"/><path d="M1216.4 922.9L1218.7 923.1L1218.7 586.7L822.3 586.7L826.9 610.3L831.6 632.3L836.5 652.6L841.6 671.1L847.2 689.7L852.9 706.6L859.3 723.5L865.7 738.7L872.9 753.7L880.3 767.4L888.2 780.4L895.8 791.7L905.4 804.1L914.6 814.7L924.5 824.9L934 833.6L945.5 842.8L957 851L969.1 858.7L981.8 865.7L995.2 872.4L1010.5 879L1025.7 884.9L1042.9 890.7L1060.1 895.8L1079.3 900.7L1098.4 905L1119.4 909.2L1142.3 913.1L1165.2 916.6L1190.1 919.9L1216.4 922.9Z" fill="#4389ba"/><path d="M1212.5 921.2L1218.7 921.8L1218.7 586.7L823.4 586.7L827.4 606.9L832.9 632.3L837.9 652.6L843 671.1L848.7 689.7L854.5 706.6L861 723.5L867.6 738.7L874.1 752.2L881.4 765.7L889.6 779.3L897.7 791.1L906.9 802.9L915.7 813L925.6 823.2L935.9 832.6L947.4 841.8L958.9 849.9L970.3 857.1L983.7 864.6L997.1 871.2L1012.4 877.9L1027.7 883.7L1042.9 888.9L1060.1 894.1L1077.3 898.6L1096.4 903.1L1117.5 907.4L1138.5 911.1L1161.4 914.7L1186.3 918.1L1212.5 921.2Z" fill="#458abb"/><path d="M1208.7 919.5L1218.7 920.7L1218.7 586.7L824.4 586.7L827.7 603.6L833.6 630.6L837.3 645.8L843.2 667.8L848.9 686.3L854.7 703.2L860.5 718.4L867.7 735.3L873.3 747.2L881.4 762.4L890.6 777.6L896.3 786L903.8 796.2L913.6 808L923.1 818.1L935.9 830L945.5 837.9L957 846.4L970.3 855L981.8 861.6L995.2 868.4L1010.5 875.3L1021.9 879.9L1041 886.7L1058.2 892L1075.4 896.7L1090.7 900.4L1113.6 905.3L1142.3 910.5L1163.3 913.8L1188.2 917.2L1208.7 919.5Z" fill="#478cbc"/><path d="M1216.2 919.5L1218.7 919.8L1218.7 586.7L825.3 586.7L828.2 601.9L834.1 628.9L839.6 650.9L845.3 671.1L851.1 689.7L857.1 706.6L864.5 725.2L870.5 738.7L878.2 753.9L883.8 764.1L893.3 779.3L899.1 787.7L906.9 797.8L918.5 811.4L928.3 821.2L937.9 829.9L949.3 839.1L960.8 847.3L974.2 855.7L985.6 862.1L999 868.8L1012.4 874.7L1023.8 879.3L1042.9 886L1060.1 891.3L1079.3 896.5L1100.3 901.4L1117.5 905L1144.2 909.8L1167.1 913.3L1192 916.7L1216.2 919.5Z" fill="#4a8ebd"/><path d="M1207.9 917.8L1218.7 919L1218.7 586.7L826 586.7L830.4 608.6L836.2 634L840 649.2L845.7 669.4L851.5 688L857.5 704.9L863.4 720.1L870.1 735.3L876.7 748.9L884.4 762.9L892 775.3L900.5 787.7L909.2 798.9L918.5 809.7L928.3 819.6L937.7 828.3L948 836.7L959.6 845.1L972.2 853.3L984.7 860.3L998 867.1L1012.4 873.5L1027.7 879.6L1042.9 885L1060.1 890.3L1077.3 895L1096.4 899.6L1115.6 903.6L1136.6 907.6L1159.5 911.3L1182.4 914.6L1207.9 917.8Z" fill="#4c8fbe"/><path d="M1214.3 917.8L1218.7 918.3L1218.7 586.7L826.6 586.7L831.1 608.6L836.1 630.6L841.3 650.9L846.5 669.4L852.4 688L858.4 704.9L864.4 720.1L871.2 735.3L877.8 748.8L885.3 762.4L893.6 775.9L901.5 787.3L911.1 799.5L920.1 809.7L930.1 819.8L939.8 828.5L951.2 837.7L962.7 845.9L975 853.6L987.5 860.6L1000.9 867.3L1015.8 873.9L1031.5 879.9L1046.8 885.2L1064 890.4L1081.2 895L1100.3 899.6L1121.3 903.9L1142.3 907.7L1165.2 911.4L1190.1 914.8L1214.3 917.8Z" fill="#4e91bf"/><path d="M1206.2 916.1L1218.7 917.6L1218.7 586.7L827.3 586.7L831.8 608.6L836.6 629.5L841.6 649.2L846.9 667.8L852.7 686.3L858.7 703.2L864.7 718.4L871.4 733.6L878.1 747.2L885.5 760.7L893.8 774.2L901.5 785.4L909.8 796.2L918.7 806.6L928.3 816.5L939.2 826.6L949.6 835L961.2 843.5L972.2 850.7L985.6 858.4L999 865.2L1012.4 871.3L1027.7 877.5L1042.9 882.9L1060.1 888.3L1077.3 893.1L1096.4 897.8L1115.6 901.9L1136.6 905.9L1157.6 909.4L1180.5 912.8L1206.2 916.1Z" fill="#5093c0"/><path d="M1212.5 916.1L1218.7 916.8L1218.7 586.7L827.9 586.7L832.5 608.6L837.6 630.6L842.8 650.9L848 669L853.8 686.8L859.7 703.2L865.7 718.4L872.5 733.6L879.2 747.2L886.6 760.7L895.1 774.2L903.3 786L911.2 796.2L920.7 807L930.2 816.8L941 826.6L951.4 835L962.7 843.2L974.2 850.5L987.5 858.2L1000.9 865L1016.2 871.8L1031.5 877.8L1046.8 883.2L1064 888.5L1081.2 893.2L1100.3 897.8L1119.4 901.8L1140.4 905.8L1163.3 909.5L1188.2 913.1L1212.5 916.1Z" fill="#5294c1"/><path d="M1204.6 914.4L1218.7 916.1L1218.7 586.7L828.6 586.7L833.2 608.6L837.9 628.9L843.1 649.2L848.5 667.8L853.9 684.7L859.9 701.5L866 716.8L872.7 732L879.4 745.5L886.8 759L894.1 770.8L902.2 782.6L911.1 794.3L920 804.6L929.7 814.7L939.8 824L949.3 832L960.8 840.5L973 848.5L985.6 855.9L999 862.9L1012.4 869.1L1027.7 875.3L1042.9 880.9L1058.2 885.8L1075.6 890.8L1094.5 895.5L1113.6 899.8L1134.7 903.9L1156.6 907.7L1180.5 911.2L1204.6 914.4Z" fill="#5596c2"/><path d="M1210.7 914.4L1218.7 915.4L1218.7 586.7L829.3 586.7L833.9 608.6L838.6 628.9L843.9 649.2L849.3 667.8L854.8 684.7L860.9 701.5L867.2 717.2L873.8 732L880.5 745.5L888 759L895.8 771.5L903.5 782.6L912.7 794.5L921.5 804.6L931.3 814.7L941.7 824.2L951.2 832L962.7 840.5L975.1 848.5L987.5 855.7L1000.9 862.6L1016.2 869.6L1031.5 875.7L1046.8 881.1L1064 886.5L1081.2 891.3L1100.3 896L1119.4 900.1L1140.4 904.1L1163.3 907.9L1186.3 911.3L1210.7 914.4Z" fill="#5798c3"/><path d="M1216.9 914.4L1218.7 914.6L1218.7 586.7L829.9 586.7L834.6 608.6L839.4 628.9L844.7 649.2L850 667.1L855.7 684.7L861.8 701.5L867.9 716.8L874.8 732L881.6 745.5L889.2 759L896.6 770.8L905.4 783.4L914.9 795.5L924.5 806.2L934 815.8L944.2 824.9L955.1 833.6L966.5 841.7L978 849L991.4 856.6L1004.7 863.3L1020 870.1L1035.3 876.1L1050.6 881.4L1067.8 886.7L1085 891.4L1104.1 896L1125.1 900.4L1146.1 904.3L1169.1 908L1192 911.3L1216.9 914.4Z" fill="#5999c4"/><path d="M1209 912.7L1218.7 913.9L1218.7 586.7L830.6 586.7L835.3 608.6L840.1 628.9L845.5 649.2L851 667.8L856.5 684.7L862.7 701.5L869.1 717.1L875.8 732L882.7 745.5L890.1 758.5L897.8 770.8L906.1 782.6L914.9 793.8L924.5 804.6L934 814.3L943.6 822.9L954.3 831.6L964.6 839.1L976.5 846.8L989.4 854.4L1002.8 861.2L1016.2 867.4L1031.5 873.6L1046.8 879.1L1064 884.6L1081.2 889.4L1100 894.1L1119.4 898.4L1140.4 902.5L1161.4 906L1184.3 909.5L1209 912.7Z" fill="#5b9bc5"/><path d="M1215.1 912.7L1218.7 913.2L1218.7 586.7L831.2 586.7L836 608.6L840.8 628.9L846.1 648.7L851.8 667.8L857.6 685.2L863.7 701.5L869.9 716.8L876.7 731.6L883.8 745.5L891.5 759L899.1 770.8L907.5 782.6L916.8 794.4L926 804.6L935.9 814.5L945.5 823.1L957 832.2L968.4 840.4L979.9 847.7L993.3 855.2L1006.6 861.9L1020 867.9L1035 873.9L1050.6 879.4L1067.8 884.8L1085 889.5L1103.8 894.1L1123.2 898.3L1144.2 902.3L1167.1 906.2L1190.1 909.5L1215.1 912.7Z" fill="#5d9cc6"/><path d="M1207.3 911L1218.7 912.4L1218.7 586.7L831.9 586.7L836.6 608.2L841.6 628.9L846.6 647.5L852.1 666.1L857.7 683L863.9 699.9L870.2 715.1L877.1 730.3L884.4 744.4L891.7 757.3L899.6 769.8L907.5 780.9L916.8 792.7L925.9 802.9L935.9 813L945.3 821.5L955.7 829.9L967.4 838.4L979.9 846.4L991.4 853L1004.7 859.9L1018.1 866L1033.3 872.2L1048.7 877.7L1064 882.7L1081.2 887.6L1100.3 892.4L1119.4 896.7L1140.4 900.8L1161.4 904.4L1184.3 907.9L1207.3 911Z" fill="#5f9dc7"/><path d="M1213.3 911L1218.7 911.7L1218.7 586.7L832.5 586.7L837.4 608.6L842.3 628.9L847.3 647.5L852.9 666.1L858.6 683L864.8 699.9L871.1 715.1L878.1 730.3L885.1 743.8L892.9 757.3L900.4 769.1L909.2 781.4L918.3 792.8L927.4 802.9L937.6 813L947 821.5L957.5 829.9L968.4 837.8L979.9 845.2L993.3 852.8L1006.6 859.6L1020 865.7L1035.3 871.9L1050.6 877.4L1067.8 882.8L1085 887.7L1104.1 892.4L1123.2 896.6L1144.2 900.7L1165.2 904.3L1188.2 907.7L1213.3 911Z" fill="#619ec7"/><path d="M1205.7 909.3L1218.7 911L1218.7 586.7L833.2 586.7L838.1 608.6L843.1 628.9L848.1 647.5L853.8 666.1L859.4 683L865.2 698.5L871.4 713.4L878.4 728.6L885.3 742.1L893 755.6L900.5 767.4L908.9 779.3L916.9 789.4L926.4 800.3L935.9 810L945.5 818.7L955.1 826.6L966.5 835.1L978 842.7L991.4 850.6L1004.7 857.6L1018.1 863.8L1033.4 870.1L1048.2 875.6L1064 880.7L1081.2 885.7L1098.4 890.2L1117.5 894.6L1138.5 898.8L1159.5 902.5L1182.4 906.1L1205.7 909.3Z" fill="#63a0c8"/><path d="M1211.5 909.3L1218.7 910.2L1218.7 586.7L833.8 586.7L838.8 608.6L843.8 628.9L848.9 647.5L854.6 666.1L860.3 683L866.7 699.9L872.9 714.6L879.4 728.6L886.4 742.1L893.9 755.2L901.7 767.4L910.2 779.3L918.7 790L928.3 800.7L937.9 810.3L947.4 819L957 826.7L968.4 835.1L979.9 842.6L993.3 850.4L1006.6 857.4L1020.5 863.7L1035.3 869.8L1051.1 875.6L1067.8 880.9L1085 885.8L1104.1 890.7L1123.2 894.9L1144.2 899.1L1165.2 902.7L1188.2 906.2L1211.5 909.3Z" fill="#65a1c9"/><path d="M1217.4 909.3L1218.7 909.5L1218.7 586.7L834.5 586.7L839.4 608.6L844.5 628.9L850 648.4L855.4 666.1L861.2 683L867.2 698.7L873.3 713.4L880.4 728.6L887.5 742.1L895.3 755.6L903 767.4L911.1 778.7L919.6 789.4L928.7 799.5L938.7 809.7L949.3 819.2L960.7 828.3L972.2 836.4L983.7 843.7L997.1 851.3L1010.5 858.1L1023.8 864.1L1039.1 870.2L1054.4 875.7L1071.6 881.1L1088.8 885.9L1107.9 890.7L1127 894.9L1148 898.9L1169.4 902.6L1192 906L1217.4 909.3Z" fill="#68a2c9"/><path d="M1209.9 907.7L1218.7 908.8L1218.7 586.7L835.2 586.7L839.7 606.9L844.8 627.2L850 645.8L855.7 664.4L861.4 681.2L867.2 696.5L873.5 711.7L880.6 726.9L887.6 740.4L895.4 753.9L903.5 766.3L911.5 777.6L920.7 789L930.1 799.5L939.8 809.2L949.3 817.7L958.9 825.5L970.3 833.9L982.5 841.8L995.2 849.1L1008.6 856L1021.9 862.2L1037.2 868.5L1052.5 874L1067.8 879L1085 884L1104.1 888.9L1123.2 893.2L1142.3 897.1L1163.9 900.9L1186.3 904.4L1209.9 907.7Z" fill="#6aa3ca"/><path d="M1215.6 907.7L1218.7 908L1218.7 586.7L835.8 586.7L840.4 606.9L845.5 627.2L850.7 645.8L856.5 664.4L862.3 681.3L868.8 698.2L874.8 712.3L881.6 726.9L888.7 740.4L896.6 753.9L904.3 765.7L913 777.8L922.4 789.4L931.6 799.5L941.7 809.5L951.2 817.9L962.1 826.6L972.2 833.9L984.5 841.8L997.1 849L1010.5 855.8L1024.1 862L1039.1 868.2L1054.9 873.9L1071.6 879.2L1088.8 884.1L1107.9 888.9L1127 893.2L1148 897.3L1169.1 901L1192 904.5L1215.6 907.7Z" fill="#6ca4cb"/><path d="M1208.3 906L1218.7 907.3L1218.7 586.7L836.5 586.7L841.1 606.9L846.1 626.7L851.5 645.8L856.8 662.7L862.6 679.6L869 696.5L875.5 711.7L881.8 725.2L888.9 738.7L896.7 752.2L904.3 764.1L912.8 775.9L920.9 786L930.2 796.5L939.8 806.2L949.3 814.9L959.4 823.2L970.9 831.6L983.7 840L995.3 846.8L1008.6 853.8L1021.9 860L1037.2 866.4L1052.5 872L1068.3 877.2L1085 882.2L1102.2 886.7L1121.3 891.1L1142.3 895.4L1163.3 899.2L1184.4 902.6L1208.3 906Z" fill="#6ea6cb"/><path d="M1213.9 906L1218.7 906.6L1218.7 586.7L837.1 586.7L841.8 606.9L847 627.2L852.3 645.8L857.6 662.8L863.3 679.3L869.2 694.8L875.7 710L882.9 725.2L890 738.7L896.8 750.5L904.4 762.4L913 774.4L922.3 786L931.3 796.2L941.4 806.3L951.2 815.1L961.2 823.2L972.7 831.6L985.6 840L997.5 846.8L1010.5 853.6L1023.8 859.8L1039.1 866.1L1054.4 871.7L1071.3 877.2L1088.8 882.3L1106 886.7L1125.1 891.1L1146.1 895.3L1167.1 899.1L1190.1 902.7L1213.9 906Z" fill="#70a7cc"/><path d="M1206.7 904.3L1218.7 905.9L1218.7 586.7L837.8 586.7L842.5 606.9L847.7 627.2L853.1 645.8L858.4 662.7L864.3 679.6L870.8 696.5L877.4 711.7L883.9 725.2L891 738.7L898 750.5L905.6 762.4L914.1 774.2L922.6 784.7L932.1 795.4L941.7 805.1L951.2 813.7L960.8 821.5L972.2 830L983.7 837.6L996.6 845.1L1009.4 851.9L1023.8 858.7L1037.2 864.3L1052.5 870.1L1067.8 875.2L1085 880.3L1102.2 884.9L1121.3 889.4L1140.4 893.4L1161.4 897.3L1183.4 900.9L1206.7 904.3Z" fill="#72a8cc"/><path d="M1212.3 904.3L1218.7 905.1L1218.7 586.7L838.4 586.7L843.2 606.9L848.5 627.2L853.8 645.6L859.2 662.7L865.2 679.6L871.1 694.8L877.6 710L884.4 724.1L892 738.5L899.1 750.5L907.3 763L915.4 774.2L924.5 785.4L934 795.9L943.6 805.4L953.1 813.9L962.7 821.7L974.2 830L985.6 837.5L999 845.3L1012.4 852.3L1026.2 858.7L1041 864.8L1056.3 870.4L1072 875.6L1088.8 880.5L1106 885L1125.1 889.4L1146.1 893.7L1167.1 897.5L1188.4 900.9L1212.3 904.3Z" fill="#74a9cd"/><path d="M1217.9 904.3L1218.7 904.4L1218.7 586.7L839.1 586.7L844.2 608.2L849.2 627.2L854.6 645.8L860 662.7L866 679.6L872.7 696.5L879.4 711.7L885.9 725.2L893.2 738.7L900.3 750.5L908.1 762.4L916.8 774.3L926.4 786L935.7 796.2L945.5 805.7L955.1 814.2L964.6 821.8L976.1 830.1L987.5 837.5L1000.9 845.2L1014.3 852.1L1028.7 858.7L1042.9 864.5L1059.4 870.5L1075.4 875.7L1092.7 880.6L1111.7 885.5L1130.8 889.8L1150 893.6L1172 897.5L1193.9 901L1217.9 904.3Z" fill="#76abce"/><path d="M1210.7 902.6L1218.7 903.7L1218.7 586.7L839.8 586.7L844.6 606.9L849.9 627.2L855.4 645.8L860.8 662.7L866.9 679.6L872.9 694.8L879.6 710L886.3 723.8L893.3 737L900.4 748.8L908.1 760.7L916.8 772.7L926.3 784.3L935.5 794.5L945.5 804.3L955.1 812.8L964.6 820.5L976.1 828.8L988.3 836.7L1000.9 844L1014.3 851L1027.2 857L1041 862.7L1056.3 868.4L1071.6 873.5L1088.8 878.6L1106 883.2L1125.1 887.7L1144.2 891.7L1165.2 895.6L1187.3 899.2L1210.7 902.6Z" fill="#78acce"/><path d="M1216.2 902.6L1218.7 902.9L1218.7 586.7L840.4 586.7L845.3 606.9L850.2 625.5L855.7 644.3L861.4 662L867.2 678L873.8 694.8L880.5 710L887.1 723.5L894.4 737L902.6 750.5L910.5 762.4L918.7 773.5L927.7 784.3L937 794.5L947.4 804.6L957 813L967.7 821.5L978 828.8L990.2 836.7L1002.8 843.9L1016.2 850.8L1029.7 857L1044.9 863.2L1060.1 868.8L1075.7 873.9L1092.6 878.8L1109.8 883.3L1128.9 887.7L1150 892L1171 895.8L1192.3 899.2L1216.2 902.6Z" fill="#7aadcf"/><path d="M1209.2 900.9L1218.7 902.2L1218.7 586.7L841.1 586.7L846 606.9L850.9 625.5L856.4 644.1L861.9 661L868 677.9L874 693.1L880.5 707.9L887.3 721.8L893.9 734.2L901.6 747.2L909.3 759L918 770.8L926.4 781.2L935.9 791.8L945.3 801.2L955.1 810L965 818.1L976.5 826.6L987.5 833.8L1000.9 841.7L1014.3 848.7L1027.7 855L1041 860.7L1056.3 866.4L1071.6 871.6L1088.8 876.8L1106 881.4L1125.1 886L1144.2 890L1165.2 894L1186.3 897.5L1209.2 900.9Z" fill="#7caed0"/><path d="M1214.6 900.9L1218.7 901.5L1218.7 586.7L841.7 586.7L846.7 606.9L851.9 626.2L857.2 644.1L862.7 661L868.8 677.9L874.8 692.8L881.7 708.3L888.3 721.8L895.8 735.7L903.5 748.3L911.1 759.8L919.2 770.8L927.5 780.9L936.7 791.1L946.8 801.2L957 810.2L966.7 818.1L978.4 826.6L991.4 835L1003.1 841.8L1016.2 848.6L1029.6 854.8L1044.9 861.1L1060.1 866.8L1075.4 871.9L1092.6 877L1109.8 881.5L1128.9 886L1148 890L1169.1 893.9L1191.2 897.5L1214.6 900.9Z" fill="#7dafd0"/><path d="M1207.8 899.2L1218.7 900.7L1218.7 586.7L842.4 586.7L847.4 606.9L852.4 625.5L857.6 642.9L863.3 660.4L869.1 676.2L875.1 691.4L881.8 706.6L888.4 720.1L895.8 733.8L903.5 746.5L911.1 758.1L919.2 769.1L928.3 780.3L937.9 790.8L947.4 800.3L957 808.9L966.5 816.6L978 825L989.4 832.6L1002.2 840.1L1014.3 846.5L1027.7 852.9L1041.2 858.7L1056.3 864.5L1071.6 869.7L1088.8 875L1106 879.7L1123.8 884L1142.3 888L1163.3 892.1L1185.4 895.8L1207.8 899.2Z" fill="#7fb0d1"/><path d="M1213.1 899.2L1218.7 900L1218.7 586.7L843.1 586.7L848 606.8L853.1 625.5L858.7 644.1L864.4 661L870.6 677.9L876.7 693L883.6 708.3L890.1 721.3L897.7 735.2L905 747.2L913 759L920.7 769.3L930.2 780.9L939.5 791.1L949.3 800.7L958.9 809.1L968.4 816.8L979.9 825.1L991.4 832.5L1004.7 840.3L1018.1 847.3L1031.5 853.5L1044.9 859.1L1060.1 864.8L1075.4 870L1092.6 875.2L1109.8 879.8L1128.9 884.3L1148 888.3L1169.1 892.3L1190.2 895.8L1213.1 899.2Z" fill="#80b1d1"/><path d="M1218.4 899.2L1218.7 899.2L1218.7 586.7L843.7 586.7L848.8 606.9L853.9 625.5L859.5 644.1L865.2 661.2L871.4 677.9L877.7 693.1L884.4 707.8L891.4 721.8L898.9 735.3L906.1 747.2L914.2 759L922.6 770.1L931.6 780.9L941 791.1L951.2 801L960.8 809.3L970.3 816.9L981.8 825.1L993.3 832.5L1006.6 840.2L1020 847.1L1033.4 853.3L1048.7 859.6L1064 865.2L1080 870.5L1096.4 875.3L1113.6 879.8L1132.8 884.3L1151.9 888.3L1172.9 892.2L1195.1 895.8L1218.4 899.2Z" fill="#81b2d2"/><path d="M1211.6 897.5L1218.7 898.5L1218.7 586.7L844.4 586.7L849 605.3L854.1 623.8L859.5 641.6L865.2 658.8L871 674.4L877.1 689.7L883.9 704.9L890.6 718.4L897.7 731.5L905.4 744.2L913 755.6L921.7 767.4L930.2 777.8L939.8 788.3L949.3 797.8L958.9 806.4L969.2 814.7L980.8 823.2L993.3 831.3L1004.7 838L1018.1 845.1L1031.5 851.4L1044.9 857.1L1060.1 862.9L1075.4 868.1L1092.6 873.3L1109.8 878L1127.6 882.3L1146.1 886.3L1167.1 890.4L1189.2 894.1L1211.6 897.5Z" fill="#83b3d2"/><path d="M1216.9 897.5L1218.7 897.8L1218.7 586.7L845 586.7L850 606.1L855.4 625.5L860.5 642.4L866.2 659.3L872.5 676.2L878.6 691L884.9 704.9L892 719.1L899.6 732.9L907.3 745.4L914.9 756.6L923 767.4L931.4 777.6L940.6 787.7L950.9 797.8L960.8 806.6L970.9 814.7L982.6 823.2L995.2 831.3L1007.5 838.4L1020.5 845.1L1035.1 851.9L1048.7 857.6L1064 863.3L1079.3 868.4L1096.4 873.5L1113.6 878.1L1132.8 882.6L1151.9 886.7L1172.9 890.6L1194 894.1L1216.9 897.5Z" fill="#84b3d3"/><path d="M1210.2 895.8L1218.7 897L1218.7 586.7L845.7 586.7L850.4 605.3L855.7 624.1L861.4 642.7L867.2 659.6L872.9 674.9L879 689.7L885.9 704.9L892.7 718.4L899.6 731.1L907.3 743.6L914.9 754.9L922.9 765.7L931.2 775.9L940.4 786L950.6 796.2L960.8 805.3L970.4 813L982 821.5L993.3 828.9L1006.5 836.7L1018.1 842.9L1031.5 849.2L1045.5 855.3L1060.1 860.9L1075.4 866.2L1092.6 871.5L1109.8 876.2L1127.7 880.6L1146.1 884.7L1167.1 888.8L1188.2 892.4L1210.2 895.8Z" fill="#86b4d3"/><path d="M1215.4 895.8L1218.7 896.3L1218.7 586.7L846.4 586.7L851.6 606.9L856.8 625.5L862.1 642.4L867.9 659.3L874.3 676.2L880.5 691.2L886.8 704.9L893.9 718.9L901.2 732L908.5 743.8L916.6 755.6L924.5 766.1L934 777.5L943.5 787.7L953.1 797.1L962.7 805.5L972.2 813.1L983.8 821.5L995.2 828.9L1008.6 836.7L1021.9 843.7L1035.3 849.9L1048.7 855.5L1064 861.3L1079.3 866.5L1096.4 871.7L1113.6 876.3L1131.4 880.6L1150 884.6L1171 888.7L1193 892.4L1215.4 895.8Z" fill="#87b5d4"/><path d="M1208.9 894.1L1218.7 895.6L1218.7 586.7L847 586.7L851.9 605.4L857.1 623.8L862.3 640.7L868.1 657.6L874.5 674.5L880.5 689.1L887 703.2L893.9 717L901.3 730.3L908.6 742.1L916.6 753.9L924.5 764.5L933.9 775.9L943.3 786L953.1 795.7L962.7 804.2L972.2 811.8L983.7 820.2L995.2 827.7L1007.6 835L1020 841.6L1033.4 848L1046.8 853.7L1062.1 859.6L1077.3 864.9L1092.6 869.7L1109.8 874.5L1127.7 878.9L1146.1 883L1167.1 887.2L1208.9 894.1Z" fill="#89b6d5"/><path d="M1214 894.1L1218.7 894.8L1218.7 586.7L847.7 586.7L852.5 605.3L857.8 623.8L863.3 641.4L869.5 659.3L876 676.2L882.4 691.4L888.8 704.9L895.7 718.4L903.4 732L910.8 743.8L918.7 755.2L926.8 765.7L935.9 776.6L944.7 786L955.1 796.1L964.6 804.4L974.2 812L985.6 820.3L998 828.3L1010.5 835.5L1023.8 842.4L1037 848.5L1050.6 854.3L1065.9 860L1081.8 865.4L1098.4 870.4L1115.6 875.1L1132.8 879.2L1151.9 883.4L1171 887.1L1192 890.7L1214 894.1Z" fill="#8ab7d5"/><path d="M1207.7 892.4L1218.7 894.1L1218.7 586.7L848.4 586.7L853.2 605.3L858.6 623.8L864.5 642.4L869.7 657.6L875.5 672.8L881.9 688L888.2 701.7L894.9 715.1L901.5 727L909.2 739.5L916.8 750.9L925.4 762.4L934 772.9L943.6 783.4L953 792.8L962.7 801.4L972.8 809.7L984.3 818.1L997.1 826.5L1008.6 833.2L1020 839.4L1033.4 845.9L1047.3 851.9L1062.1 857.7L1077.3 863L1092.6 867.8L1109.8 872.7L1127.8 877.2L1146.1 881.4L1165.2 885.2L1186.6 889.1L1207.7 892.4Z" fill="#8db9d6"/><path d="M1212.7 892.4L1218.7 893.3L1218.7 586.7L849.1 586.7L853.8 604.6L859.3 623.8L865.2 642.4L870.6 657.6L876.4 672.8L882.4 687.2L889.9 703.2L895.8 714.8L903.5 728.4L911.1 740.7L920.2 753.9L928 764.1L935.9 773.6L945.5 783.9L954.5 792.8L964.6 801.7L972.3 808L983.7 816.4L996.4 824.9L1008.6 832.1L1023.6 840.1L1035.3 845.7L1049.8 851.9L1064 857.4L1077.3 862.1L1094.5 867.5L1111.7 872.3L1131.4 877.2L1148 880.9L1171.9 885.7L1212.7 892.4Z" fill="#90bbd8"/><path d="M1218.7 892.4L1218.7 586.7L849.9 586.7L853.8 601.9L859.7 622.1L865.2 639.7L871 656.1L876.7 671.1L884.4 689.1L890.2 701.5L898.1 716.8L905.4 729.5L913.3 742.1L922.6 755.2L930.2 765L938.1 774.2L947.6 784.3L957 793.3L968 802.9L978 810.8L988.2 818.1L1000.9 826.3L1013.2 833.3L1026.2 840.1L1040.7 846.8L1056.3 853.3L1069.7 858.3L1085.8 863.7L1102.2 868.6L1121.3 873.8L1135.7 877.2L1157.6 882L1174.8 885.3L1195.8 888.9L1218.7 892.4Z" fill="#93bdd9"/><path d="M1214.4 890.8L1218.7 891.4L1218.7 586.7L850.8 586.7L855.8 605.3L861.4 624.4L867.2 642.1L872.9 658.1L878.6 672.8L885.2 688L892 702.4L898.6 715.1L905.4 726.9L913 739.1L920.9 750.5L929.9 762.4L938.5 772.5L947.4 782.1L957 791.4L966.5 799.8L976.7 808L988.3 816.4L1000.9 824.6L1012.4 831.3L1023.8 837.4L1037.2 843.8L1050.6 849.6L1065.9 855.5L1081.2 860.9L1098.4 866.3L1115.6 871L1132.8 875.3L1151.9 879.6L1171 883.4L1192 887.2L1214.4 890.8Z" fill="#96beda"/><path d="M1210.3 889.1L1218.7 890.3L1218.7 586.7L851.8 586.7L856.8 605.3L861.8 622.1L867.2 639L873.3 655.9L879.2 671.1L885.7 686.3L892.1 699.9L899.1 713.4L906.9 726.9L914.3 738.7L922.6 750.5L930.2 760.5L938.9 770.8L947.4 780L956.9 789.4L966.5 797.9L976.9 806.3L987.5 814.1L999 821.7L1010.5 828.6L1022.3 835L1036.1 841.8L1050.6 848.1L1064.4 853.6L1079.3 858.9L1096.4 864.4L1113.6 869.3L1130.8 873.7L1150 878L1169.1 881.9L1210.3 889.1Z" fill="#99c0db"/><path d="M1217.4 889.1L1218.7 889.3L1218.7 586.7L852.7 586.7L857.8 605.3L863.3 623.7L869.1 641.1L874.8 656.9L881.1 672.8L887.8 688L894.3 701.5L901.5 715.1L908.4 726.9L916 738.7L924.3 750.5L932.2 760.7L940.8 770.8L950.3 780.9L960.8 791L970.3 799.2L979.9 806.8L991.4 815L1002.8 822.4L1015.8 829.9L1027.7 836.2L1041 842.5L1055.1 848.5L1069.7 854.2L1085 859.5L1102.2 864.8L1119.4 869.6L1136.6 873.8L1155.7 878.1L1174.8 881.9L1195.8 885.6L1217.4 889.1Z" fill="#9cc2dc"/><path d="M1213.3 887.4L1218.7 888.2L1218.7 586.7L853.7 586.7L858.8 605.3L863.9 622.1L869.5 639L875.6 655.9L881.7 671.1L888.2 686L894.9 699.9L901.5 712.5L908.9 725.2L916.4 737L924.5 748.5L932.6 759L941.7 769.7L950.7 779.3L960.8 789L970.3 797.3L979.9 805L991.4 813.2L1002.8 820.7L1015.6 828.3L1027.7 834.6L1041 841L1054.4 846.8L1069.7 852.8L1085 858.1L1100.3 862.9L1117.5 867.8L1134.7 872.2L1153.8 876.5L1172.9 880.4L1213.3 887.4Z" fill="#9ec4dd"/><path d="M1209.4 885.7L1218.7 887.1L1218.7 586.7L854.6 586.7L859.5 604.2L865.2 623L871 640.1L876.7 655.7L882.4 670L888.9 684.7L895.8 699L902.5 711.7L909.4 723.5L916.9 735.3L924.5 746.1L933 757.3L941.7 767.5L951 777.6L960.8 787L970.3 795.5L979.9 803.1L991.4 811.5L1002.8 819L1014.3 825.9L1025.7 832.1L1039.1 838.6L1052.5 844.6L1067.8 850.7L1083.1 856.1L1098.4 861L1115.6 866L1132.8 870.5L1150 874.5L1169.1 878.5L1209.4 885.7Z" fill="#a1c5de"/><path d="M1216.3 885.7L1218.7 886.1L1218.7 586.7L855.6 586.7L860.8 605.3L866 622.1L871.7 639L877.3 654.2L883.5 669.4L890.1 684.4L896.8 698.2L903.5 710.7L910.9 723.5L918.6 735.3L926.4 746.4L934.8 757.3L943.6 767.5L953.1 777.6L962.7 786.8L972.2 795.2L982 802.9L993.7 811.4L1004.7 818.5L1018.1 826.4L1029.6 832.5L1042.9 838.9L1057.4 845.1L1071.6 850.7L1086.9 856.1L1102.2 860.9L1119.4 865.8L1136.6 870.2L1155.7 874.6L1174.8 878.5L1216.3 885.7Z" fill="#a3c7df"/><path d="M1212.4 884L1218.7 885L1218.7 586.7L856.6 586.7L861.4 603.7L867.2 622.2L872.9 639.1L878.6 654.5L884.4 668.6L890.7 683L897.7 697.3L904.5 710L911.4 721.8L919 733.6L926.4 744.1L935.3 755.6L943.9 765.7L953.1 775.6L962.7 784.9L972.2 793.3L982.2 801.2L993.3 809.3L1004.7 816.9L1016.2 823.7L1027.7 829.9L1041.4 836.7L1054.4 842.5L1069.7 848.6L1085 854.1L1100.3 859L1117.5 864L1134.7 868.5L1151.9 872.6L1171 876.6L1192 880.6L1212.4 884Z" fill="#a5c8e0"/><path d="M1208.7 882.3L1218.7 883.9L1218.7 586.7L857.6 586.7L862.9 605.3L868.2 622.1L874 639L879.7 654.2L886 669.4L892 682.9L898.7 696.5L905.4 708.9L913 721.9L920.7 733.6L928.3 744.4L935.9 754.2L944.3 764.1L953.1 773.6L962.7 782.9L972.2 791.4L982.3 799.5L993.3 807.6L1004.7 815.2L1016.2 822.1L1027.7 828.4L1041 835L1054.4 841L1068.8 846.8L1083.1 852.1L1098.4 857.1L1114.9 862L1132.8 866.8L1150 870.9L1169.1 875L1208.7 882.3Z" fill="#a8cae1"/><path d="M1215.5 882.3L1218.7 882.8L1218.7 586.7L858.6 586.7L863.4 603.6L869.1 621.5L874.8 638.1L880.5 653.3L886.5 667.8L893.4 683L900.1 696.5L907.3 709.7L914.9 722.4L922.6 734L930.2 744.6L938.9 755.6L947.4 765.4L957 775.4L966.5 784.4L976.1 792.7L987 801.2L997.1 808.4L1008.6 815.9L1020 822.6L1031.5 828.8L1044.9 835.3L1058.2 841.2L1073.5 847.2L1088.8 852.7L1104.1 857.6L1121.3 862.5L1138.5 867L1155.7 871L1174.8 875L1215.5 882.3Z" fill="#aacbe2"/><path d="M1211.8 880.6L1218.7 881.7L1218.7 586.7L859.5 586.7L865 605.3L870.4 622.1L876.3 639L882.1 654.2L888.2 668.7L894.7 683L901.5 696.5L908 708.3L915 720.1L922.8 732L930.2 742.4L939.3 753.9L948.1 764.1L957 773.4L966.5 782.5L976.1 790.8L985.6 798.4L997.1 806.7L1008.6 814.2L1020 821L1031.5 827.2L1044.9 833.8L1058.2 839.7L1071.8 845.1L1086.9 850.7L1102.2 855.7L1118 860.3L1134.7 864.8L1151.9 869L1171 873.1L1192 877.2L1211.8 880.6Z" fill="#accce2"/><path d="M1218.5 880.6L1218.7 586.7L860.5 586.7L865.5 603.6L871 620.7L876.7 637L882.6 652.6L889 667.8L895.2 681.3L902 694.8L909.2 707.9L916.8 720.5L924.5 732.1L932.1 742.6L941.1 753.9L950 764.1L958.9 773.2L968.4 782.3L978 790.5L987.5 798L999 806.3L1010.5 813.7L1021.9 820.5L1033.4 826.6L1047.1 833.3L1060.1 839.1L1075.5 845.1L1090.7 850.6L1106 855.5L1122.5 860.3L1140.4 865L1159.5 869.5L1178.6 873.5L1218.5 880.6Z" fill="#afcee3"/><path d="M1214.9 878.9L1218.7 879.6L1218.7 586.7L861.5 586.7L867.2 605.6L872.6 622.1L878 637.3L883.9 652.6L890.1 667.3L896.6 681.3L903.4 694.8L909.9 706.6L917.1 718.4L924.9 730.3L933.5 742.1L941.5 752.2L950.4 762.4L958.9 771.2L968.4 780.3L978 788.6L987.5 796.2L999 804.5L1010.5 812L1021.9 818.8L1033.4 825.1L1046.8 831.6L1060.1 837.6L1074.7 843.5L1088.8 848.6L1104.1 853.6L1121 858.7L1138.5 863.3L1155.7 867.4L1174.8 871.6L1214.9 878.9Z" fill="#b1cfe4"/><path d="M1211.4 877.2L1218.7 878.5L1218.7 586.7L862.5 586.7L867.6 603.6L872.9 619.9L878.6 636L884.4 650.9L890.1 664.4L897.1 679.6L903.9 693.1L911.1 706.1L918.7 718.6L926.4 730.1L934 740.6L941.7 750.2L949.3 759.1L958.9 769.2L968.4 778.4L978 786.8L987.6 794.5L999 802.8L1010.5 810.3L1021.9 817.2L1033.4 823.5L1046.8 830.1L1060.1 836.1L1073.5 841.6L1088.8 847.2L1104.1 852.3L1119.6 857L1136.6 861.6L1153.8 865.8L1172.9 870L1211.4 877.2Z" fill="#b3d1e5"/><path d="M1218 877.2L1218.7 877.4L1218.7 586.7L863.5 586.7L869.1 604.9L874.8 622.1L880.5 638L886.3 652.5L892.9 667.8L899.2 681.3L905.4 693.2L912.9 706.6L920.7 719.2L928.2 730.3L935.9 740.8L943.8 750.5L953.1 761.1L962.5 770.8L971.5 779.3L981.4 787.7L991.4 795.5L1002.8 803.7L1014.3 811L1025.7 817.8L1037.2 823.9L1050.6 830.4L1064 836.3L1077.7 841.8L1092.6 847.2L1107.9 852.2L1124.1 857L1142.3 861.8L1159.5 865.9L1178.6 870L1218 877.2Z" fill="#b6d2e6"/><path d="M1214.6 875.6L1218.7 876.3L1218.7 586.7L864.5 586.7L869.1 601.9L874.8 619L880.5 634.9L886.8 650.9L893.4 666.1L899.6 679.3L905.8 691.4L913 704.3L920.7 716.7L928.3 728.1L935.9 738.5L944.2 748.8L953.1 759L962.7 768.9L972.2 777.9L981.6 786L992.4 794.5L1002.8 801.9L1014.3 809.4L1025.7 816.1L1037.2 822.3L1050.6 828.9L1064 834.8L1077.3 840.2L1092.6 845.8L1107.9 850.9L1123.2 855.4L1140.4 860.1L1157.6 864.3L1176.7 868.5L1214.6 875.6Z" fill="#b8d4e6"/><path d="M1211.2 873.9L1218.7 875.1L1218.7 586.7L865.5 586.7L871 604.3L876.4 620.5L882.4 636.9L888 650.9L893.9 664.4L900.3 677.9L907.3 691.4L913.9 703.2L921.2 715.1L929.1 726.9L937.8 738.7L945.5 748.2L953.5 757.3L962.7 766.9L972.2 776L981.8 784.3L992.5 792.8L1002.8 800.2L1014.3 807.7L1025.7 814.5L1038.6 821.5L1050.6 827.4L1063.9 833.3L1076.3 838.4L1090.7 843.8L1106 848.9L1121.3 853.6L1138.5 858.3L1172.9 866.5L1211.2 873.9Z" fill="#bbd5e7"/><path d="M1217.8 873.9L1218.7 874L1218.7 586.7L866.6 586.7L871.8 603.6L877.5 620.5L883.2 635.7L889.3 650.9L895.2 664.4L901.5 677.7L908.7 691.4L915.4 703.2L922.7 715.1L930.7 726.9L939.6 738.7L947.4 748.3L955.4 757.3L964.6 766.8L974.2 775.8L984.1 784.3L995 792.8L1004.7 799.7L1016.2 807.2L1027.7 814L1039.1 820.2L1052.5 826.8L1065.9 832.7L1079.9 838.4L1094.5 843.7L1109.8 848.8L1125.8 853.6L1142.3 858.1L1159.5 862.3L1178.6 866.5L1217.8 873.9Z" fill="#bdd7e8"/><path d="M1214.5 872.2L1218.7 872.9L1218.7 586.7L867.6 586.7L872.9 603.6L878.6 620.3L884.4 635.7L890.1 649.9L896.5 664.4L903 677.9L909.2 689.7L916.8 703.1L924.3 715.1L931.2 725.2L939.8 736.7L947.4 746.1L955.8 755.6L964.6 764.8L974.2 773.8L984.4 782.6L995.1 791.1L1004.7 798L1016.2 805.5L1027.7 812.4L1039.1 818.6L1052.5 825.2L1065.9 831.2L1079.3 836.7L1092.9 841.8L1107.9 846.9L1124.5 851.9L1140.4 856.3L1157.6 860.6L1176.7 864.9L1214.5 872.2Z" fill="#c0d8e9"/><path d="M1211.3 870.5L1218.7 871.8L1218.7 586.7L868.6 586.7L874 603.6L879.2 618.8L884.9 634L891 649.2L897 662.7L903.5 676.1L909.7 688L916.8 700.6L924.5 712.9L931.7 723.5L939.8 734.5L947.4 744L956.1 753.9L964.6 762.7L974.2 771.9L984.6 780.9L995.2 789.3L1004.7 796.2L1016.2 803.8L1027.7 810.7L1039.1 817L1052.5 823.7L1065.9 829.8L1078.6 835L1092.6 840.3L1106.8 845.1L1123.1 850.2L1138.5 854.5L1154.6 858.7L1172.9 862.9L1211.3 870.5Z" fill="#c2daea"/><path d="M1217.8 870.5L1218.7 870.7L1218.7 586.7L869.6 586.7L874.8 602.8L880.5 619.4L886.3 634.5L892 648.5L898.3 662.7L904.9 676.2L911.1 688L918.9 701.5L926.4 713.4L934 724.5L942.2 735.3L950.5 745.5L958.9 754.8L968.4 764.5L978 773.4L987.5 781.5L997.7 789.4L1008.6 797.1L1020 804.5L1031.5 811.3L1044.3 818.1L1056.3 824L1069.7 829.9L1083.1 835.3L1096.4 840.3L1111.7 845.4L1127.6 850.2L1144.2 854.8L1178.6 862.9L1217.8 870.5Z" fill="#c5dbea"/><path d="M1214.6 868.8L1218.7 869.5L1218.7 586.7L870.7 586.7L876.1 603.6L881.5 618.8L887.2 634L893.5 649.2L899.6 662.7L905.4 674.5L912.6 688L919.4 699.9L926.4 711L934 722.1L942.6 733.6L950.9 743.8L958.9 752.7L968.4 762.5L978 771.4L987.5 779.6L997.9 787.7L1008.6 795.4L1020 802.8L1031.5 809.6L1042.9 815.8L1054.4 821.5L1067.8 827.6L1081.6 833.3L1095.1 838.4L1109.9 843.5L1126.3 848.5L1142.3 853L1159.5 857.4L1176.7 861.3L1214.6 868.8Z" fill="#c8dceb"/><path d="M1211.6 867.1L1218.7 868.4L1218.7 586.7L871.7 586.7L876.7 602L882.4 618.3L888.2 633.3L894.1 647.5L900.2 661L907.3 675.5L914 688L920.7 699.4L928.3 711.4L935.5 721.8L943.6 732.6L951.2 741.9L958.9 750.6L968.4 760.5L978 769.5L987.5 777.7L997.1 785.3L1007.4 792.8L1018.1 799.9L1029.6 806.9L1041 813.3L1054.4 820L1067.8 826.1L1081 831.6L1094.5 836.8L1108.9 841.8L1125 846.8L1140.4 851.2L1157.6 855.7L1174.8 859.7L1211.6 867.1Z" fill="#cadeec"/><path d="M1218 867.1L1218.7 867.2L1218.7 586.7L872.8 586.7L878.6 604.4L884.4 620.4L890.1 635.1L895.8 648.6L902.3 662.7L909 676.2L915.5 688L922.5 699.9L930.1 711.7L937.2 721.8L944.8 732L953.1 742L960.8 750.5L970.3 760.3L979.9 769.2L989.6 777.6L1000.5 786L1010.5 793.1L1021.9 800.6L1033.4 807.4L1044.9 813.7L1058.2 820.3L1071.6 826.3L1084.6 831.6L1098.4 836.8L1113.6 842L1129.5 846.8L1146.1 851.5L1180.5 859.7L1218 867.1Z" fill="#cddfed"/><path d="M1215 865.4L1218.7 866.1L1218.7 586.7L873.8 586.7L884.4 617.3L890.1 632.1L896.6 647.5L902.8 661L909.2 673.8L916 686.3L923 698.2L930.2 709.5L937.9 720.4L946.6 732L955.1 742L962.8 750.5L972.2 760.2L981.8 769L991.4 777.1L1000.9 784.5L1012.4 792.7L1022.9 799.5L1034.3 806.3L1046.7 813L1058.2 818.7L1071.6 824.8L1084 829.9L1097.4 835L1112.1 840.1L1128.3 845.1L1144.2 849.7L1161.4 854.1L1178.6 858.1L1215 865.4Z" fill="#cfe1ee"/><path d="M1212.2 863.7L1218.7 864.9L1218.7 586.7L874.9 586.7L880.5 603.5L886.1 618.8L892 633.8L897.7 647.2L904.1 661L911 674.5L917.5 686.3L924.5 698.1L932.1 709.9L939.3 720.1L947.1 730.3L955.1 739.9L963.1 748.8L972.2 758.1L981.8 767L991.4 775.2L1000.9 782.7L1012.4 790.9L1022.9 797.8L1033.4 804.1L1044.9 810.5L1056.6 816.4L1069.7 822.5L1083.4 828.3L1096.6 833.3L1111.7 838.6L1127.1 843.5L1142.3 847.9L1159.5 852.4L1176.7 856.4L1212.2 863.7Z" fill="#d2e2ef"/><path d="M1218.6 863.7L1218.7 586.7L876 586.7L880.5 600.3L886.3 616.1L892 630.8L897.7 644.3L905.4 660.7L911.1 672L918.7 685.9L926.4 698.6L934 710.3L943.6 723.5L953.1 735.3L958.9 742.1L968.4 752.2L976.1 759.7L984.5 767.4L994.6 775.9L1001 780.9L1012.8 789.4L1025.7 797.8L1037.1 804.6L1046.4 809.7L1059.9 816.4L1074.9 823.2L1087.1 828.3L1100.6 833.3L1115.3 838.4L1131.6 843.5L1149.6 848.5L1184.6 857L1218.6 863.7Z" fill="#d3e3ef"/><path d="M1217 862L1218.7 862.4L1218.7 586.7L877.3 586.7L882.4 601.9L888.2 617.5L893.9 631.8L900 645.8L906.3 659.3L913 672.5L919.8 684.7L926.9 696.5L934 707.4L941.7 718.2L949.7 728.6L958.2 738.7L966.5 747.8L976.1 757.4L985.6 766.1L995.2 774.1L1004.7 781.5L1015.8 789.4L1026.3 796.2L1037.6 802.9L1050.1 809.7L1062.1 815.6L1075.1 821.5L1087.3 826.6L1100.6 831.6L1115.6 836.8L1130.8 841.6L1146.1 846L1162.1 850.2L1180.5 854.6L1217 862Z" fill="#d4e3ee"/><path d="M1215.6 860.3L1218.7 860.9L1218.7 586.7L878.6 586.7L884.4 603.4L890.1 618.7L895.8 632.8L901.5 645.8L908 659.3L914.9 672.8L921.6 684.7L928.3 695.7L935.9 707.3L943.6 718L951.2 727.8L958.9 736.8L966.7 745.5L976.1 754.9L985.6 763.8L995.2 771.9L1004.7 779.3L1016.2 787.5L1026.9 794.5L1037.2 800.7L1048.7 807L1060.7 813L1073.5 819L1087.5 824.9L1100.7 829.9L1115.6 835.1L1130.8 840L1146.1 844.4L1178.6 852.6L1215.6 860.3Z" fill="#d5e3ed"/><path d="M1214.3 858.7L1218.7 859.5L1218.7 586.7L879.9 586.7L885.2 601.9L890.9 617.1L897.1 632.3L903.1 645.8L909.2 658.5L915.8 671.1L922.6 683.2L929.6 694.8L937.5 706.6L944.8 716.8L952.7 726.9L960.8 736.4L969.2 745.5L978 754.3L987.5 763.1L996.7 770.8L1006.6 778.5L1017.2 786L1027.7 792.9L1038.8 799.5L1050.6 806L1062.1 811.8L1075.4 818L1087.8 823.2L1100.9 828.3L1115.6 833.4L1130.8 838.4L1146.1 842.8L1178.6 851.1L1214.3 858.7Z" fill="#d6e3ed"/><path d="M1213.1 857L1218.7 858.1L1218.7 586.7L881.2 586.7L892 616.2L897.7 630.1L903.5 643.1L909.6 655.9L916.6 669.4L923.2 681.3L930.2 692.7L937.9 704.3L945.5 714.9L953.1 724.7L960.8 733.8L968.4 742.2L978 751.8L987.5 760.7L997.1 768.8L1006.6 776.3L1017.9 784.3L1028.2 791.1L1039.1 797.7L1050.6 804.1L1062.1 809.9L1075.4 816.1L1088 821.5L1101 826.6L1115.6 831.8L1130.8 836.7L1146.1 841.2L1178.6 849.6L1213.1 857Z" fill="#d7e3ec"/><path d="M1212 855.3L1218.7 856.6L1218.7 586.7L882.6 586.7L888.2 602.4L893.8 617.1L899.6 631L905.4 643.8L911.3 655.9L918.3 669.4L925.1 681.3L932.1 692.7L939.8 704.1L947.4 714.6L955.1 724.3L962.7 733.3L970.8 742.1L979.9 751.2L989.4 760L998.2 767.4L1008.6 775.5L1018.1 782.3L1028.8 789.4L1040 796.2L1050.6 802.1L1062.1 808L1075.4 814.3L1088.3 819.8L1101.2 824.9L1115.6 830L1130.7 835L1146.1 839.6L1178.6 848.1L1212 855.3Z" fill="#d8e2ec"/><path d="M1210.9 853.6L1218.7 855.1L1218.7 586.7L883.9 586.7L890 603.6L895.3 617.1L901.5 631.8L907.1 644.1L913 656.1L920.1 669.4L926.4 680.4L933.2 691.4L940 701.5L947.4 711.8L955.2 721.8L963.8 732L972.2 741.1L980 748.8L989.4 757.6L999 765.7L1008.6 773.2L1019.3 780.9L1029.6 787.8L1040.6 794.5L1052.5 801.1L1064 807L1076.9 813L1088.7 818.1L1101.4 823.2L1115.4 828.3L1144.2 837.4L1176.7 846.1L1210.9 853.6Z" fill="#d8e2eb"/><path d="M1218.4 853.6L1218.7 853.7L1218.7 586.7L885.3 586.7L890.8 601.9L896.8 617.1L903.3 632.3L909.2 645L915.5 657.6L922.6 670.6L928.8 681.3L935.9 692.6L943.6 703.7L950.7 713.4L958.9 723.5L966.5 732.3L974.2 740.5L983.7 749.9L993.3 758.6L1002.8 766.5L1012.4 773.8L1022.5 780.9L1033.4 788.1L1044.9 794.9L1056.3 801.2L1067.8 806.9L1081.1 813L1093.1 818.1L1106.1 823.2L1120.4 828.3L1150 837.4L1182.4 845.9L1218.4 853.6Z" fill="#d9e2ea"/><path d="M1217.3 851.9L1218.7 852.2L1218.7 586.7L886.7 586.7L897.7 615.7L909.2 641.5L915.5 654.2L922.6 667.4L928.6 677.9L936 689.7L943.6 700.8L951.2 711.2L958.9 720.8L966.5 729.7L974.9 738.7L983.7 747.4L993.3 756.2L1002.8 764.2L1012.4 771.6L1023.2 779.3L1033.5 786L1044.8 792.8L1056.3 799.2L1067.8 805L1081.2 811.2L1093.4 816.4L1106.4 821.5L1120.5 826.6L1150 835.8L1182.4 844.3L1217.3 851.9Z" fill="#dae2ea"/><path d="M1216.4 850.2L1218.7 850.7L1218.7 586.7L888 586.7L893.9 602.4L899.6 616.6L911.1 642.1L917.2 654.2L924.5 667.6L930.5 677.9L937.9 689.5L945.5 700.6L952.5 710L960.6 720.1L968.4 729.1L977.4 738.7L985.6 746.8L995.2 755.4L1004.7 763.4L1014.3 770.7L1023.9 777.6L1034.2 784.3L1045.4 791.1L1056.3 797.2L1067.8 803L1081.2 809.3L1093.8 814.7L1106.7 819.8L1120.7 824.9L1150 834.2L1182.4 842.7L1216.4 850.2Z" fill="#dbe2e9"/><path d="M1215.5 848.5L1218.7 849.2L1218.7 586.7L889.5 586.7L900.7 615.4L907.3 630.5L912.9 642.4L918.7 653.9L925.4 666.1L932.1 677.4L938.9 688L945.5 697.7L953.1 708L960.8 717.6L968.8 726.9L976.6 735.3L985.6 744.3L995.2 753L1004.7 761L1014.3 768.5L1024.7 775.9L1035.3 782.9L1046.1 789.4L1058.2 796.2L1069.7 802L1082.4 808L1094.2 813L1107 818.1L1120.8 823.2L1150 832.5L1180.5 840.7L1215.5 848.5Z" fill="#dce2e8"/><path d="M1214.7 846.8L1218.7 847.7L1218.7 586.7L890.9 586.7L902.2 615.4L908.2 628.9L914.6 642.4L920.7 654.2L927.3 666.1L934 677.4L940.9 688L947.4 697.4L955.1 707.7L962.7 717.2L971.2 726.9L979.2 735.3L987.7 743.8L997.1 752.2L1006.6 760.2L1016.2 767.6L1025.7 774.4L1035.7 780.9L1046.8 787.7L1058.2 794.1L1069.7 800L1082.9 806.3L1094.6 811.4L1107.9 816.7L1121.3 821.6L1150 830.8L1180.5 839.1L1214.7 846.8Z" fill="#dce2e8"/><path d="M1214 845.1L1218.7 846.1L1218.7 586.7L892.3 586.7L903.5 614.7L914.9 639.6L921.6 652.6L928.1 664.4L934.2 674.5L941.7 686.2L949.3 697.1L956.4 706.6L964.6 716.7L972.2 725.4L980 733.6L989.4 742.9L999 751.5L1008 759L1018.1 766.7L1027.7 773.5L1037.2 779.8L1048.7 786.7L1060.1 793.1L1071.6 799L1095.1 809.7L1121.3 819.8L1150 829.1L1180.5 837.5L1214 845.1Z" fill="#dde2e7"/><path d="M1213.3 843.5L1218.7 844.6L1218.7 586.7L893.7 586.7L899.6 601.8L905.3 615.4L916.8 640L923.4 652.6L930 664.4L936.1 674.5L943.6 686L951.2 696.8L958.7 706.6L966.5 716.2L974.2 724.8L982.6 733.6L991.3 742.1L999 749L1008.6 757L1018.1 764.4L1027.7 771.3L1037.2 777.6L1048.7 784.6L1060.1 791.1L1071.6 797L1083.1 802.5L1095.5 808L1121.6 818.1L1150 827.4L1180.5 835.9L1213.3 843.5Z" fill="#dde2e6"/><path d="M1212.7 841.8L1218.7 843L1218.7 586.7L895.2 586.7L901.2 601.9L906.9 615.4L918.7 640.4L925.2 652.6L931.9 664.4L944.7 684.7L951.9 694.8L959.6 704.9L967.9 715.1L975.4 723.5L983.7 732.2L992.2 740.4L1000.9 748.3L1009.7 755.6L1020 763.5L1029.6 770.3L1040.6 777.6L1050.6 783.6L1062.1 790L1073.5 795.9L1096.4 806.5L1122 816.4L1150 825.7L1180.5 834.2L1212.7 841.8Z" fill="#dee1e5"/><path d="M1212.2 840.1L1218.7 841.5L1218.7 586.7L896.7 586.7L907.3 612.6L918.9 637.3L925.1 649.2L932.1 661.6L939 672.8L945.6 683L953.1 693.6L960.5 703.2L968.4 712.9L976.1 721.5L984.4 730.3L993.1 738.7L1000.9 745.8L1010.6 753.9L1020 761.2L1029.6 768.1L1039.1 774.4L1050.6 781.5L1062.1 788L1073.5 793.9L1096.6 804.6L1122.3 814.7L1150 824L1180.5 832.6L1212.2 840.1Z" fill="#dee1e5"/><path d="M1211.8 838.4L1218.7 839.9L1218.7 586.7L898.1 586.7L909.2 613.3L920.7 637.3L926.9 649.2L934 661.6L947.4 682.5L955.1 693.2L962.7 703.2L970.3 712.4L978 720.9L987 730.3L995.2 738.1L1003.4 745.5L1012.4 752.9L1021.9 760.3L1031.5 767.1L1042.2 774.2L1052.5 780.5L1073.5 791.9L1097.1 802.9L1122.7 813L1150 822.2L1178.6 830.4L1211.8 838.4Z" fill="#dfe1e4"/><path d="M1211.4 836.7L1218.7 838.3L1218.7 586.7L899.6 586.7L911.1 613.9L922.6 637.6L928.8 649.2L935.6 661L948.6 681.3L962.7 700.3L970.3 709.6L978.2 718.4L986.2 726.9L994.9 735.3L1002.8 742.5L1012.4 750.5L1021.9 758L1031.5 764.8L1041 771.2L1052.5 778.3L1073.5 789.9L1085 795.5L1097.7 801.2L1123.2 811.4L1150 820.4L1178.6 828.7L1211.4 836.7Z" fill="#e0e1e3"/><path d="M1211.1 835L1218.7 836.7L1218.7 586.7L901.2 586.7L912.7 613.7L924.5 637.8L930.6 649.2L937.6 661L950.8 681.3L964.6 699.8L972.2 709L979.9 717.6L988.9 726.9L997.1 734.8L1005.2 742.1L1014.3 749.6L1023.8 757L1033.4 763.9L1052.5 776.1L1073.5 787.8L1085 793.4L1098.4 799.5L1123.2 809.5L1150 818.7L1178.6 827L1211.1 835Z" fill="#e0e1e3"/><path d="M1218.5 835L1218.7 835.1L1218.7 586.7L902.7 586.7L914.3 613.7L926.4 638L932.5 649.2L939.5 661L952.9 681.3L960.8 692L968.3 701.5L976.1 710.6L983.7 718.9L991.5 726.9L1000.5 735.3L1008.6 742.5L1018.1 750.3L1027.7 757.5L1037.2 764.2L1047.4 770.8L1058.2 777.3L1069.7 783.7L1080.8 789.4L1104.1 800L1128.9 809.7L1157.6 819.3L1186.3 827.3L1218.5 835Z" fill="#e1e0e2"/><path d="M1218.3 833.3L1218.7 833.4L1218.7 586.7L904.2 586.7L915.2 612L920.9 623.8L927.9 637.3L940.5 659.3L953.9 679.6L960.8 689.1L968.4 698.8L976.1 707.8L984.2 716.8L992.5 725.2L1000.9 733.2L1010.5 741.6L1019.4 748.8L1029.6 756.5L1039.1 763.2L1048.7 769.4L1059.5 775.9L1081.2 787.5L1104.1 798.1L1129.3 808L1157.6 817.5L1186.3 825.6L1218.3 833.3Z" fill="#e1e0e1"/><path d="M1218.1 831.6L1218.7 831.8L1218.7 586.7L905.8 586.7L916.9 612L928.3 634.8L934.4 645.8L941.7 658L955.1 678.2L962.7 688.6L970.3 698.2L978 707.2L985.6 715.5L993.5 723.5L1002.4 732L1010.5 739.1L1020.4 747.2L1029.6 754.1L1039.1 760.9L1049.2 767.4L1060.1 774.1L1081.2 785.4L1104.3 796.2L1129.8 806.3L1157.6 815.7L1186.3 823.9L1218.1 831.6Z" fill="#e2e0e0"/><path d="M1217.8 829.9L1218.7 830.2L1218.7 586.7L907.4 586.7L910.1 593.4L917.6 610.3L929.6 634L942.2 655.9L955.6 676.2L961.8 684.7L971.1 696.5L984.4 711.7L994.3 721.8L1001.4 728.6L1010.5 736.7L1020 744.6L1031.5 753.3L1041 760L1060.1 772L1081.2 783.5L1106 795L1119.4 800.6L1132.8 805.6L1157.6 814L1186.3 822.3L1207.3 827.6L1217.8 829.9Z" fill="#e2e0e0"/><path d="M1215.5 828.3L1218.7 829L1218.7 586.7L908.4 586.7L914.3 600.2L920.6 613.7L931.9 635.7L944.8 657.6L958.5 677.9L972.2 695.7L979.9 704.6L987.9 713.4L996.3 721.8L1004.7 729.8L1021.9 744.3L1031.5 751.5L1041 758.3L1060.9 770.8L1071.6 776.9L1083.1 782.9L1106 793.6L1130.8 803.5L1159.5 813.2L1188.2 821.5L1215.5 828.3Z" fill="#e3dfdf"/><path d="M1213.1 826.6L1218.7 827.9L1218.7 586.7L909.5 586.7L920.7 611.4L932.2 634L938.9 645.8L945.5 656.6L958.9 676.4L973.1 694.8L988.1 711.7L996.4 720.1L1004.7 728L1021.9 742.7L1031.5 749.9L1041 756.7L1060.1 768.9L1081.2 780.5L1104.1 791.4L1128.9 801.5L1155.7 810.8L1184.3 819.3L1213.1 826.6Z" fill="#e4dfde"/><path d="M1217.9 826.6L1218.7 826.7L1218.7 586.7L910.6 586.7L922.1 612L934 635L940.2 645.8L947.4 657.5L960.2 676.2L974.2 694.2L981.8 703L989.8 711.7L998.2 720.1L1006.6 728L1023.8 742.5L1033.4 749.7L1042.9 756.5L1063.1 769.1L1084.9 780.9L1107.9 791.7L1132.8 801.6L1159.5 810.8L1188.2 819.2L1217.9 826.6Z" fill="#e4dfdd"/><path d="M1215.5 824.9L1218.7 825.6L1218.7 586.7L911.7 586.7L922.6 610.6L934.7 634L947.4 655.3L960.8 675L968.4 685.1L976.1 694.5L991.4 711.5L1007.3 726.9L1016.2 734.6L1025.4 742.1L1044 755.6L1064 768.2L1085 779.6L1107.9 790.3L1130.8 799.6L1157.6 808.9L1186.3 817.5L1215.5 824.9Z" fill="#e5dedc"/><path d="M1213.2 823.2L1218.7 824.5L1218.7 586.7L912.8 586.7L924.4 612L935.9 633.9L949.2 655.9L962 674.5L976.1 692.6L991.4 709.6L1007.4 725.2L1016.2 732.9L1025.4 740.4L1042.9 753.3L1062.4 765.7L1083.8 777.6L1106 788.1L1129.6 797.8L1155.7 807.1L1182.4 815.2L1213.2 823.2Z" fill="#e6dedb"/><path d="M1218.1 823.2L1218.7 823.3L1218.7 586.7L913.9 586.7L924.8 610.3L937.3 634L949.5 654.2L963.5 674.5L978 692.9L993.3 709.8L1002 718.4L1010.5 726.2L1027.7 740.5L1046.2 753.9L1065.9 766.3L1086.9 777.7L1109.8 788.5L1134.7 798.5L1161.4 807.7L1188.2 815.6L1218.1 823.2Z" fill="#e6deda"/><path d="M1215.9 821.5L1218.7 822.2L1218.7 586.7L915 586.7L926.4 611.1L937.9 632.7L951.2 654.7L964.6 674L978.4 691.4L993.6 708.3L1002.1 716.8L1010.5 724.5L1027.7 738.9L1046 752.2L1065.9 764.8L1086.9 776.3L1109.8 787.1L1132.8 796.4L1159.5 805.8L1186.3 813.9L1215.9 821.5Z" fill="#e7ddd9"/><path d="M1213.7 819.8L1218.7 821L1218.7 586.7L916.1 586.7L927.2 610.3L938.9 632.3L951.2 652.6L964.6 671.9L978.6 689.7L993.8 706.6L1002.3 715.1L1010.5 722.7L1027.7 737.2L1045.9 750.5L1064.4 762.4L1085.7 774.2L1107.9 784.9L1131.1 794.5L1157.6 803.9L1184.3 812.1L1213.7 819.8Z" fill="#e7ddd8"/><path d="M1218.6 819.8L1218.7 586.7L917.2 586.7L928.3 610.1L940.2 632.3L953.1 653.3L966.5 672.5L980.3 689.7L995.6 706.6L1004.1 715.1L1012.4 722.7L1029.6 737L1048.2 750.5L1067.8 762.9L1088.8 774.3L1111.7 785.1L1134.7 794.5L1161.4 803.9L1188.2 812L1218.6 819.8Z" fill="#e8ddd7"/><path d="M1216.5 818.1L1218.7 818.7L1218.7 586.7L918.4 586.7L930.2 611.4L941.7 632.5L955.1 654.1L968.4 672.8L981.9 689.7L997.4 706.6L1006.1 715.1L1014.3 722.6L1031.5 736.8L1041 743.9L1050.6 750.5L1069.6 762.4L1090.7 773.8L1111.7 783.8L1136.6 793.9L1161.4 802.6L1188.2 810.7L1216.5 818.1Z" fill="#e9dcd6"/><path d="M1214.5 816.4L1218.7 817.5L1218.7 586.7L919.5 586.7L930.2 609L941.9 630.6L955.1 651.9L968.4 670.9L982.2 688L997.6 704.9L1014.3 720.8L1031.5 735.1L1050.5 748.8L1069.3 760.7L1090.7 772.4L1111.7 782.3L1134.7 791.8L1159.5 800.7L1186.3 808.9L1214.5 816.4Z" fill="#e9dcd6"/><path d="M1212.5 814.7L1218.7 816.3L1218.7 586.7L920.7 586.7L932.1 610.3L943.6 631.2L957 652.6L970.2 671.1L983.9 688L999 704.4L1014.3 719L1031.5 733.4L1050.4 747.2L1069.1 759L1090.6 770.8L1111.7 780.9L1134.7 790.5L1159.5 799.4L1186.3 807.7L1212.5 814.7Z" fill="#eadcd5"/><path d="M1217.4 814.7L1218.7 815.1L1218.7 586.7L921.8 586.7L933.4 610.3L945.5 632.1L957.3 650.9L970.5 669.4L984.1 686.3L999.7 703.2L1016.2 718.9L1033.4 733.2L1042.9 740.3L1052.5 746.9L1071.6 758.9L1092.6 770.4L1113.6 780.4L1138.5 790.6L1163.3 799.4L1190.1 807.5L1217.4 814.7Z" fill="#eadcd5"/><path d="M1215.5 813L1218.7 813.8L1218.7 586.7L923 586.7L934 609.1L946 630.6L958.9 651L972.2 669.6L985.9 686.3L1000.9 702.6L1016.2 717.1L1025.6 725.2L1034 732L1052.5 745.3L1071.5 757.3L1092.6 768.9L1113.6 778.9L1136.6 788.5L1161.4 797.4L1188.2 805.7L1215.5 813Z" fill="#ebdbd4"/><path d="M1213.7 811.4L1218.7 812.6L1218.7 586.7L924.2 586.7L935.9 610.3L947.4 630.6L959.1 649.2L972.4 667.8L986.1 684.7L1000.9 700.7L1016.2 715.3L1025.7 723.5L1034.1 730.3L1052.5 743.7L1071.6 755.8L1092.6 767.4L1113.6 777.5L1136.6 787.1L1161.4 796.1L1186.3 803.9L1213.7 811.4Z" fill="#ebdbd4"/><path d="M1218.6 811.4L1218.7 586.7L925.4 586.7L936.4 608.6L948.7 630.6L960.8 649.4L974.2 667.9L987.9 684.7L1003.7 701.5L1020 716.9L1037.2 730.9L1055.1 743.8L1074 755.6L1094.5 766.9L1117.1 777.6L1140.4 787.2L1165.2 796L1192 804.3L1218.6 811.4Z" fill="#ecdbd3"/><path d="M1216.8 809.7L1218.7 810.1L1218.7 586.7L926.6 586.7L937.9 609L949.3 629.2L962.7 650L975.7 667.8L989.4 684.4L1004.7 700.7L1020 715.1L1037.2 729.2L1055.1 742.1L1073.8 753.9L1094.5 765.3L1115.6 775.4L1138.5 785L1163.3 794L1190.1 802.4L1216.8 809.7Z" fill="#eddbd2"/><path d="M1215.1 808L1218.7 808.9L1218.7 586.7L927.8 586.7L939.8 610.1L951.2 630L962.7 647.8L976.1 666.2L983.7 675.7L991.4 684.6L1005.8 699.9L1021.9 714.9L1038.7 728.6L1056.3 741.2L1075.4 753.3L1095 764.1L1116.1 774.2L1138.5 783.6L1163.3 792.7L1188.2 800.6L1215.1 808Z" fill="#eddbd2"/><path d="M1213.5 806.3L1218.7 807.6L1218.7 586.7L929.1 586.7L939.8 607.7L952 628.9L964.6 648.3L978 666.5L991.7 683L1006.6 698.8L1021.9 713L1038.8 726.9L1056.3 739.6L1075.4 751.7L1094.7 762.4L1115.6 772.5L1138.5 782.2L1161.4 790.7L1186.3 798.7L1213.5 806.3Z" fill="#eedad1"/><path d="M1218.4 806.3L1218.7 806.4L1218.7 586.7L930.3 586.7L941.7 608.7L953.4 628.9L966.5 648.8L979.9 666.8L993.5 683L1008.6 698.7L1024.4 713.4L1041 726.9L1058.2 739.2L1077.3 751.2L1097.8 762.4L1118.9 772.5L1142.3 782.3L1166.7 791.1L1192 799.1L1218.4 806.3Z" fill="#eedad1"/><path d="M1216.8 804.6L1218.7 805.1L1218.7 586.7L931.6 586.7L943 608.6L954.9 628.9L966.5 646.6L979.9 664.6L993.3 680.6L1008.6 696.8L1024.6 711.7L1041.2 725.2L1058.2 737.5L1077.3 749.5L1097.5 760.7L1118.5 770.8L1142.3 780.8L1165.2 789.2L1190.1 797.2L1216.8 804.6Z" fill="#efdad0"/><path d="M1215.3 802.9L1218.7 803.8L1218.7 586.7L932.9 586.7L943.6 607.2L955.3 627.2L968.4 647.1L981.4 664.4L995.2 680.7L1010.2 696.5L1025.7 710.8L1041.3 723.5L1058.2 735.7L1077.3 747.9L1097.3 759L1118.1 769.1L1140.4 778.6L1164.9 787.7L1190.1 795.8L1215.3 802.9Z" fill="#efdacf"/><path d="M1213.9 801.2L1218.7 802.5L1218.7 586.7L934.1 586.7L945.5 608.2L957 627.5L968.4 644.8L981.8 662.7L995.2 678.6L1010.5 694.7L1025.7 708.9L1042.9 723L1060.2 735.3L1078.9 747.2L1097.1 757.3L1117.7 767.4L1140.4 777.2L1163.3 785.8L1188.2 793.9L1213.9 801.2Z" fill="#f0d9cd"/><path d="M1212.5 799.5L1218.7 801.2L1218.7 586.7L935.4 586.7L947.1 608.6L958.9 628.2L970.7 645.8L983.7 663L997.1 678.7L1012.4 694.6L1027.7 708.7L1042.9 721.1L1060.2 733.6L1078.8 745.5L1096.9 755.6L1117.5 765.8L1140.4 775.7L1163.3 784.3L1188.2 792.5L1212.5 799.5Z" fill="#f0d8cb"/><path d="M1217.5 799.5L1218.7 799.9L1218.7 586.7L936.7 586.7L947.6 606.9L959.8 627.2L972.2 645.7L985.6 663.2L999 678.7L1014.3 694.5L1029.6 708.4L1046.2 721.8L1064 734.4L1081.6 745.5L1100.3 755.8L1121.3 766L1144.2 775.7L1167.1 784.3L1192 792.3L1217.5 799.5Z" fill="#f1d7ca"/><path d="M1216.2 797.8L1218.7 798.5L1218.7 586.7L938.1 586.7L949.3 607.5L960.8 626.4L974 645.8L987 662.7L1000.9 678.8L1014.9 693.1L1029.7 706.6L1046.8 720.4L1064 732.7L1081.6 743.8L1100.3 754.2L1121.3 764.5L1144 774.2L1166.6 782.6L1192 790.9L1216.2 797.8Z" fill="#f1d6c8"/><path d="M1214.9 796.2L1218.7 797.2L1218.7 586.7L939.4 586.7L951.2 608.3L962.7 627L974.4 644.1L987.5 661.2L1000.9 676.7L1016.2 692.4L1031.5 706.2L1046.8 718.6L1064 730.9L1081.6 742.1L1100.3 752.5L1121.3 762.9L1143.6 772.5L1165.9 780.9L1190.1 788.9L1214.9 796.2Z" fill="#f2d5c6"/><path d="M1213.7 794.5L1218.7 795.8L1218.7 586.7L940.8 586.7L951.2 605.8L962.7 624.6L974.9 642.4L987.8 659.3L1000.9 674.6L1016.2 690.4L1031.5 704.3L1046.8 716.8L1064 729.1L1081.2 740.1L1100.3 750.9L1119.9 760.7L1142.3 770.5L1165.2 779.2L1190.1 787.5L1213.7 794.5Z" fill="#f3d4c4"/><path d="M1212.6 792.8L1218.7 794.5L1218.7 586.7L942.1 586.7L953.1 606.6L964.6 625.1L976.5 642.4L989.4 659.1L1002.8 674.5L1017.6 689.7L1032.5 703.2L1048.7 716.3L1065.8 728.6L1083.1 739.5L1102.2 750.3L1121.3 759.7L1142.3 768.9L1164.7 777.6L1188.2 785.5L1212.6 792.8Z" fill="#f3d3c2"/><path d="M1217.6 792.8L1218.7 793.1L1218.7 586.7L943.5 586.7L955.1 607.3L966.5 625.6L978.2 642.4L991.4 659.2L1004.8 674.5L1019.7 689.7L1034.8 703.2L1050.6 715.9L1067.8 728.1L1085 739L1104.1 749.6L1125.1 759.9L1146.5 769.1L1168.8 777.6L1193.9 785.9L1217.6 792.8Z" fill="#f4d2c1"/><path d="M1216.6 791.1L1218.7 791.7L1218.7 586.7L944.9 586.7L956.3 606.9L968 625.5L979.9 642.4L993.3 659.3L1006.7 674.5L1021.9 689.7L1037.1 703.2L1051.9 715.1L1068.6 726.9L1086.9 738.3L1105.8 748.8L1125.1 758.3L1146.1 767.4L1168.3 775.9L1192 783.8L1216.6 791.1Z" fill="#f4d1bf"/><path d="M1215.6 789.4L1218.7 790.3L1218.7 586.7L946.3 586.7L957 605.5L968.4 623.7L980.4 640.7L993.7 657.6L1007.2 672.8L1021.9 687.7L1037.2 701.4L1052.5 713.6L1069.7 725.8L1086.9 736.6L1105.8 747.2L1125.1 756.7L1145.9 765.7L1167.8 774.2L1192 782.4L1215.6 789.4Z" fill="#f5d0bd"/><path d="M1214.8 787.7L1218.7 788.5L1218.7 586.7L948.1 586.7L958.9 605.8L961.9 610.3L962.7 612.2L964 613.7L964.6 615.3L969.5 622.1L970.3 623.9L975.2 630.6L976.1 632.3L977.6 634L983.7 642.6L990.5 650.9L991.4 652.4L996 657.6L997.1 659.3L1012.4 676.1L1023.8 687.1L1034.2 696.5L1052.5 711.7L1071.6 725.2L1081.2 731L1084.9 733.6L1086.9 734.5L1090.7 737L1092.6 737.8L1096.4 740.3L1098.4 741.1L1105.9 745.5L1107.9 746.2L1115.9 750.5L1117.5 751L1119.4 752.3L1121.3 752.9L1123 753.9L1138 760.7L1144.2 763.1L1145.9 764.1L1148 764.7L1149.8 765.7L1151.9 766.2L1154.2 767.4L1161.4 769.9L1163 770.8L1165.2 771.4L1167.5 772.5L1174.8 774.8L1176.7 775.8L1180.5 776.8L1182.1 777.6L1190.1 779.9L1192.2 780.9L1195.8 781.7L1197.6 782.6L1201.5 783.5L1203.3 784.3L1207.3 785.2L1209 786L1213 786.9L1214.8 787.7Z" fill="#f4ceba"/><path d="M1215.5 784.3L1218.7 785.3L1218.7 586.7L951.4 586.7L962.7 606L974.2 623.6L985.6 639.4L999 656L1012.4 670.8L1025.7 684.1L1041 697.6L1056.3 709.8L1073.4 721.8L1090.7 732.7L1107.9 742.3L1127.9 752.2L1148 761.1L1169.1 769.3L1192 777.2L1215.5 784.3Z" fill="#f3cab6"/><path d="M1216.6 780.9L1218.7 781.6L1218.7 586.7L955.1 586.7L966.5 605.7L978 622.9L989.9 639L1002.8 654.7L1016.2 669.3L1029.6 682.4L1044.9 695.8L1060.1 707.7L1075.4 718.5L1092.6 729.3L1109.8 738.9L1129.7 748.8L1148.7 757.3L1170.2 765.7L1193.9 774L1216.6 780.9Z" fill="#f1c5b2"/><path d="M1218 777.6L1218.7 777.8L1218.7 586.7L959 586.7L970.3 605.2L981.8 622.1L993.3 637.3L1006.6 653.3L1020 667.7L1033.4 680.6L1047.9 693.1L1063.1 704.9L1079.3 716.2L1096.4 726.9L1114.7 737L1132.8 746L1151.9 754.4L1172.9 762.7L1195.8 770.7L1218 777.6Z" fill="#f0c1ae"/><path d="M1214 772.5L1218.7 773.9L1218.7 586.7L963 586.7L974.2 604.5L985.2 620.5L997.1 636L1008.6 649.6L1021.9 664L1035.3 676.9L1048.7 688.5L1064 700.6L1079.3 711.3L1095.8 721.8L1113.6 731.9L1130.8 740.7L1150 749.4L1169.4 757.3L1192 765.4L1214 772.5Z" fill="#eebdaa"/><path d="M1216 769.1L1218.7 770L1218.7 586.7L967.1 586.7L978 603.6L989.4 619.9L1000.9 634.6L1012.4 648L1025.7 662.1L1039.1 674.8L1052.5 686.4L1067.8 698.2L1083.1 708.9L1100.3 719.7L1117.5 729.3L1134.7 738L1153.8 746.6L1172.9 754.4L1193.9 762L1216 769.1Z" fill="#edb8a6"/><path d="M1218.3 765.7L1218.7 765.9L1218.7 586.7L971.4 586.7L981.8 602.6L993.3 618.6L1004.7 633L1017.4 647.5L1029.6 660.1L1043.1 672.8L1057.1 684.7L1072.5 696.5L1087.3 706.6L1104.1 717.1L1121.3 726.6L1138.5 735.2L1157.5 743.8L1176.7 751.5L1197.4 759L1218.3 765.7Z" fill="#ecb4a1"/><path d="M1215.5 760.7L1218.7 761.7L1218.7 586.7L975.8 586.7L986 601.9L997.1 617.1L1008.6 631.3L1021.5 645.8L1033.4 658L1046.8 670.4L1060.1 681.6L1075.2 693.1L1090 703.2L1106 713.2L1121.3 721.8L1138.5 730.5L1156.3 738.7L1174.8 746.4L1195.2 753.9L1215.5 760.7Z" fill="#eab09d"/><path d="M1218.4 757.3L1218.7 757.4L1218.7 586.7L980.4 586.7L991.4 602.6L1002.3 617.1L1014.3 631.6L1025.7 644.2L1037.5 655.9L1050.6 667.9L1064.6 679.6L1079.3 690.6L1094.5 700.9L1109.2 710L1125.1 718.9L1142.3 727.6L1159.5 735.4L1178.6 743.3L1198.1 750.5L1218.4 757.3Z" fill="#e9ac99"/><path d="M1216.4 752.2L1218.7 753L1218.7 586.7L985.2 586.7L995.2 600.9L1006.6 615.9L1018.1 629.4L1029.6 641.9L1041 653.2L1054.4 665.4L1067.8 676.4L1081.2 686.4L1096.4 696.8L1111.7 706.2L1127.5 715.1L1144.1 723.5L1161.4 731.5L1178.8 738.7L1196.7 745.5L1216.4 752.2Z" fill="#e7a795"/><path d="M1214.9 747.2L1218.7 748.4L1218.7 586.7L990.1 586.7L1000.9 601.6L1010.5 613.8L1021.9 627.2L1033.4 639.4L1045.1 650.9L1058.2 662.6L1070.7 672.8L1084.3 683L1098.4 692.5L1112.8 701.5L1127.7 710L1144.1 718.4L1161.4 726.5L1178.1 733.6L1195.8 740.5L1214.9 747.2Z" fill="#e6a391"/><path d="M1213.8 742.1L1218.7 743.7L1218.7 586.7L995.2 586.7L1005.3 600.2L1016.1 613.7L1026.5 625.5L1037.8 637.3L1050.1 649.2L1062.1 659.7L1074.1 669.4L1087.7 679.6L1102.2 689.4L1115.6 697.7L1130.8 706.3L1146.1 714.2L1162.2 721.8L1178.6 728.9L1195.8 735.6L1213.8 742.1Z" fill="#e4a08e"/><path d="M1218.2 738.7L1218.7 738.9L1218.7 586.7L1000.6 586.7L1010.5 599.6L1020.7 612L1031.5 624.1L1042.9 635.9L1054.4 646.7L1067 657.6L1079.3 667.4L1092.6 677.1L1106 686.1L1120.2 694.8L1134.7 702.9L1150 710.8L1166.2 718.4L1182.4 725.4L1199.6 732.1L1218.2 738.7Z" fill="#e39d8b"/><path d="M1218 733.6L1218.7 733.9L1218.7 586.7L1006.2 586.7L1016.8 600.2L1025.7 610.7L1037.2 623.2L1047.9 634L1060.1 645.3L1071.6 655L1083.1 664.1L1096.4 673.7L1109.8 682.6L1121.3 689.7L1132.8 696.3L1151.9 706.3L1169.1 714.4L1186.3 721.7L1203.5 728.5L1218 733.6Z" fill="#e29b89"/><path d="M1214.3 728.6L1218.7 730.2L1218.7 586.7L1010.5 586.7L1020 598.6L1030.1 610.3L1041 622L1051.4 632.3L1062.1 642.1L1073.5 651.8L1085.2 661L1098.4 670.5L1109.8 678.2L1123.2 686.5L1137.8 694.8L1151.9 702.1L1167.1 709.5L1182.4 716.2L1197.7 722.4L1214.3 728.6Z" fill="#e19886"/><path d="M1214.7 725.2L1218.7 726.6L1218.7 586.7L1014.5 586.7L1023.8 598.2L1033.4 609.1L1042.9 619.2L1054.4 630.5L1065.9 640.9L1077.3 650.5L1088.8 659.4L1100.4 667.8L1113.6 676.5L1126.9 684.7L1140.4 692.3L1153.8 699.2L1169.1 706.6L1184.3 713.3L1199.6 719.6L1214.7 725.2Z" fill="#e09684"/><path d="M1215.3 721.8L1218.7 723.1L1218.7 586.7L1018.6 586.7L1027.7 597.6L1037.5 608.6L1047.3 618.8L1058.2 629.4L1069.7 639.6L1081.2 649.1L1092.6 657.8L1104.1 666L1117.1 674.5L1128.9 681.8L1142.3 689.3L1155.7 696.3L1170.1 703.2L1184.3 709.6L1199.6 715.9L1215.3 721.8Z" fill="#df9381"/><path d="M1216.1 718.4L1218.7 719.4L1218.7 586.7L1022.9 586.7L1031.5 596.8L1041 607.4L1050.6 617.2L1062.1 628.1L1072.5 637.3L1083.1 646L1094.5 654.8L1106 662.9L1118.4 671.1L1130.8 678.7L1144.2 686.3L1157.3 693.1L1171.2 699.9L1186.3 706.6L1201.5 712.9L1216.1 718.4Z" fill="#de907e"/><path d="M1217.2 715.1L1218.7 715.6L1218.7 586.7L1027.3 586.7L1037.2 598.1L1046.8 608.3L1056.3 617.8L1065.9 626.7L1076.1 635.7L1086.9 644.4L1098.4 653.1L1109.8 661.1L1121.3 668.6L1133.8 676.2L1146.1 683.2L1159.5 690.2L1172.9 696.6L1187.5 703.2L1201.5 709.1L1217.2 715.1Z" fill="#dd8e7c"/><path d="M1218.4 711.7L1218.7 711.8L1218.7 586.7L1031.8 586.7L1041 597L1050.6 607.1L1060.1 616.5L1070 625.5L1079.9 634L1090.7 642.7L1102.2 651.2L1113.6 659.2L1125.1 666.6L1138.3 674.5L1150.5 681.3L1163.3 687.9L1176.7 694.4L1190.1 700.3L1218.4 711.7Z" fill="#dc8b79"/><path d="M1215.5 706.6L1218.7 707.9L1218.7 586.7L1036.6 586.7L1044.9 595.8L1054.4 605.7L1064 615L1073.5 623.6L1083.7 632.3L1094.4 640.7L1104.1 647.9L1115.6 655.9L1127 663.3L1138.5 670.2L1161.9 683L1174.8 689.3L1188.2 695.4L1215.5 706.6Z" fill="#db8977"/><path d="M1217.2 703.2L1218.7 703.8L1218.7 586.7L1041.5 586.7L1050.6 596.5L1059.3 605.3L1077.7 622.1L1087.8 630.6L1098.4 638.9L1119.4 653.7L1130.8 661L1142.1 667.8L1165.2 680.3L1190.1 692.1L1217.2 703.2Z" fill="#da8674"/><path d="M1214.9 698.2L1218.7 699.7L1218.7 586.7L1046.5 586.7L1064 604.4L1081.7 620.5L1100.7 635.7L1121.3 650.2L1142.3 663.3L1165.2 675.8L1190.1 687.8L1214.9 698.2Z" fill="#d88371"/><path d="M1217.2 694.8L1218.7 695.4L1218.7 586.7L1051.8 586.7L1068.8 603.6L1086.9 619.6L1106 634.5L1125.1 647.8L1146.1 660.8L1168.3 672.8L1192 684.2L1217.2 694.8Z" fill="#d67f6d"/><path d="M1215.5 689.7L1218.7 691L1218.7 586.7L1057.3 586.7L1073.5 602.4L1090.7 617.4L1109.8 632.2L1128.9 645.3L1149 657.6L1170.8 669.4L1192 679.7L1215.5 689.7Z" fill="#d57b6a"/><path d="M1218.3 686.3L1218.7 686.5L1218.7 586.7L1063.1 586.7L1079.3 602L1096.4 616.6L1113.6 629.7L1132.8 642.7L1151.9 654.3L1173.5 666.1L1194.6 676.2L1218.3 686.3Z" fill="#d37666"/><path d="M1217.2 681.3L1218.7 681.9L1218.7 586.7L1069 586.7L1085 601.4L1101.9 615.4L1119.4 628.4L1136.6 640L1154.6 650.9L1174.8 661.8L1195.8 672L1217.2 681.3Z" fill="#d17262"/><path d="M1216.5 676.2L1218.7 677.1L1218.7 586.7L1075.3 586.7L1090.7 600.5L1106 613L1123 625.5L1140.4 637.1L1157.7 647.5L1176.7 657.8L1195.8 667.1L1216.5 676.2Z" fill="#d06e5e"/><path d="M1216.1 671.1L1218.7 672.2L1218.7 586.7L1081.8 586.7L1096.4 599.5L1111.7 611.6L1127 622.7L1144.1 634L1161.1 644.1L1178.6 653.6L1197.1 662.7L1216.1 671.1Z" fill="#ce6a5b"/><path d="M1216.1 666.1L1218.7 667.2L1218.7 586.7L1088.7 586.7L1102.6 598.5L1117.5 610.1L1132.1 620.5L1147.6 630.6L1163.3 639.9L1180.5 649.3L1197.7 657.8L1216.1 666.1Z" fill="#cc6657"/><path d="M1216.5 661L1218.7 662L1218.7 586.7L1095.9 586.7L1109.8 598.2L1123.2 608.3L1136.6 617.7L1151.9 627.5L1167.1 636.5L1182.4 644.8L1198 652.6L1216.5 661Z" fill="#ca6153"/><path d="M1217.3 655.9L1218.7 656.6L1218.7 586.7L1103.4 586.7L1115.6 596.4L1128.9 606.3L1142.3 615.5L1155.7 624L1169.8 632.3L1185.4 640.7L1201.5 648.7L1217.3 655.9Z" fill="#c95d50"/><path d="M1218.4 650.9L1218.7 651L1218.7 586.7L1111.4 586.7L1123.2 595.8L1136.3 605.3L1149 613.7L1161.4 621.4L1174.8 629.2L1190.1 637.3L1203.7 644.1L1218.4 650.9Z" fill="#c7594c"/><path d="M1216.1 644.1L1218.7 645.3L1218.7 586.7L1119.8 586.7L1132.8 596.3L1142.3 603L1163.3 616.4L1174.8 623.1L1190.1 631.4L1203.5 638.2L1216.1 644.1Z" fill="#c45549"/><path d="M1216.8 639L1218.7 639.9L1218.7 586.7L1127.9 586.7L1149.5 601.9L1171 615.2L1192.7 627.2L1216.8 639Z" fill="#c05147"/><path d="M1217.8 634L1218.7 634.4L1218.7 586.7L1136.3 586.7L1155.7 599.9L1174.8 611.6L1195.8 623.2L1217.8 634Z" fill="#bc4d45"/><path d="M1215.6 627.2L1218.7 628.7L1218.7 586.7L1145.3 586.7L1161.4 597.4L1178.6 607.8L1195.8 617.3L1215.6 627.2Z" fill="#b84943"/><path d="M1217.4 622.1L1218.7 622.8L1218.7 586.7L1154.7 586.7L1169.1 595.9L1185 605.3L1200.5 613.7L1217.4 622.1Z" fill="#b44541"/><path d="M1216.1 615.4L1218.7 616.7L1218.7 586.7L1164.8 586.7L1176.7 594.1L1190.1 601.8L1202.7 608.6L1216.1 615.4Z" fill="#b0403f"/><path d="M1218.7 610.3L1218.7 586.7L1175.5 586.7L1195.9 598.5L1218.7 610.3Z" fill="#ac3c3e"/><path d="M1218.3 603.6L1218.7 603.8L1218.7 586.7L1187 586.7L1202 595.1L1218.3 603.6Z" fill="#a8383c"/><path d="M1218.4 596.8L1218.7 597L1218.7 586.7L1199.3 586.7L1218.4 596.8Z" fill="#a4343a"/><path d="M1215.8 588.4L1218.7 589.9L1218.7 586.7L1212.5 586.7L1215.8 588.4Z" fill="#a03038"/></g>
<path d="M876.3 587.5L877.2 590.2L878.1 592.9L879 595.5L879 595.6L880 598.3L880.9 601L881.8 603.7L882 604.3L882.8 606.4L883.8 609.1L884.8 611.8L885.1 612.7L885.8 614.5L886.8 617.2L887.8 619.9L888.1 620.8L888.9 622.6L889.9 625.3L891 628L891.2 628.5L892.1 630.7L893.2 633.4L894.3 635.9L894.3 636.1L895.5 638.8L896.6 641.5L897.3 643L897.8 644.2L899 646.9L900.2 649.6L900.4 649.8L901.5 652.3L902.7 655L903.4 656.4L904 657.7L905.3 660.4L906.5 662.7L906.6 663.1L908 665.8L909.4 668.5L909.5 668.7L910.8 671.2L912.2 673.9L912.6 674.6L913.6 676.6L915.1 679.3L915.6 680.2L916.6 682L918.1 684.7L918.7 685.6L919.7 687.4L921.3 690L921.7 690.8L922.9 692.7L924.5 695.4L924.8 695.8L926.2 698.1L927.8 700.7L927.9 700.8L929.7 703.5L930.9 705.4L931.4 706.2L933.3 708.9L933.9 709.9L935.1 711.6L937 714.3L937 714.3L938.9 717L940 718.5L940.9 719.7L942.9 722.4L943.1 722.6L945 725.1L946.1 726.6L947.1 727.8L949.2 730.4L949.3 730.5L951.5 733.2L952.2 734.2L953.7 735.9L955.3 737.8L956 738.6L958.4 741.3L958.4 741.3L960.8 744L961.4 744.6L963.3 746.7L964.5 747.9L965.9 749.4L967.5 751.1L968.5 752.1L970.6 754.2L971.2 754.8L973.6 757.2L973.9 757.5L976.7 760.1L976.7 760.2L979.6 762.9L979.7 763L982.6 765.6L982.8 765.8L985.7 768.3L985.8 768.4L988.8 771L988.9 771L991.9 773.6L992.1 773.7L995 776.1L995.4 776.4L998 778.5L998.9 779.1L1001.1 780.8L1002.4 781.8L1004.1 783.1L1006.1 784.5L1007.2 785.3L1009.8 787.2L1010.2 787.5L1013.3 789.6L1013.7 789.9L1016.3 791.7L1017.7 792.6L1019.4 793.7L1021.9 795.3L1022.4 795.6L1025.5 797.6L1026.2 798L1028.6 799.4L1030.7 800.7L1031.6 801.3L1034.7 803L1035.3 803.4L1037.7 804.8L1040.1 806.1L1040.8 806.5L1043.8 808.1L1045 808.8L1046.9 809.8L1049.9 811.3L1050.2 811.5L1053 812.9L1055.6 814.2L1056 814.4L1059.1 815.9L1061.2 816.9L1062.1 817.3L1065.2 818.8L1067 819.6L1068.2 820.1L1071.3 821.5L1073.1 822.3L1074.3 822.8L1077.4 824.1L1079.4 825L1080.4 825.4L1083.5 826.7L1086.1 827.7L1086.5 827.9L1089.6 829.1L1092.7 830.2L1093 830.4L1095.7 831.4L1098.8 832.5L1100.3 833.1L1101.8 833.6L1104.9 834.7L1107.9 835.8L1107.9 835.8L1111 836.8L1114 837.8L1116 838.5L1117.1 838.8L1120.1 839.8L1123.2 840.8L1124.5 841.2L1126.2 841.7L1129.3 842.6L1132.3 843.6L1133.4 843.9L1135.4 844.4L1138.4 845.3L1141.5 846.2L1142.9 846.6L1144.5 847L1147.6 847.9L1150.6 848.7L1152.9 849.3L1153.7 849.5L1156.8 850.3L1159.8 851L1162.9 851.8L1163.6 852L1165.9 852.5L1169 853.3L1172 854L1174.9 854.7L1175.1 854.7L1178.1 855.4L1181.2 856.1L1184.2 856.8L1187 857.4L1187.3 857.4L1190.3 858.1L1193.4 858.7L1196.4 859.3L1199.5 860L1200 860.1L1202.5 860.6L1205.6 861.2L1208.6 861.8L1211.7 862.3L1214 862.8L1214.7 862.9L1217.8 863.5" fill="none" stroke="#fff" stroke-width="1.9" stroke-dasharray="10 10" clip-path="url(#cp_e)" stroke-linejoin="round"/>
<path d="M948.1 587.5L949.2 589.6L949.5 590.2L951 592.9L952.2 595.1L952.6 595.6L954.1 598.3L955.3 600.4L955.7 601L957.3 603.7L958.4 605.5L958.9 606.4L960.5 609.1L961.4 610.5L962.2 611.8L963.9 614.5L964.5 615.4L965.6 617.2L967.4 619.9L967.5 620.1L969.2 622.6L970.6 624.7L971 625.3L972.8 628L973.6 629.1L974.7 630.7L976.6 633.4L976.7 633.5L978.6 636.1L979.7 637.7L980.5 638.8L982.6 641.5L982.8 641.8L984.6 644.2L985.8 645.8L986.7 646.9L988.8 649.6L988.9 649.6L991 652.3L991.9 653.4L993.2 655L995 657.1L995.5 657.7L997.8 660.4L998 660.7L1000.1 663.1L1001.1 664.2L1002.5 665.8L1004.1 667.6L1004.9 668.5L1007.2 670.9L1007.4 671.2L1010 673.9L1010.2 674.2L1012.5 676.6L1013.3 677.3L1015.2 679.3L1016.3 680.4L1017.9 682L1019.4 683.4L1020.7 684.7L1022.4 686.4L1023.5 687.4L1025.5 689.2L1026.4 690L1028.6 692L1029.4 692.7L1031.6 694.8L1032.4 695.4L1034.7 697.4L1035.5 698.1L1037.7 700L1038.7 700.8L1040.8 702.6L1041.9 703.5L1043.8 705.1L1045.3 706.2L1046.9 707.5L1048.7 708.9L1049.9 709.9L1052.2 711.6L1053 712.2L1055.8 714.3L1056 714.5L1059.1 716.7L1059.5 717L1062.1 718.9L1063.3 719.7L1065.2 721.1L1067.2 722.4L1068.2 723.2L1071.2 725.1L1071.3 725.2L1074.3 727.2L1075.3 727.8L1077.4 729.2L1079.6 730.5L1080.4 731.1L1083.5 733L1083.9 733.2L1086.5 734.8L1088.4 735.9L1089.6 736.6L1092.7 738.4L1093.1 738.6L1095.7 740.1L1097.9 741.3L1098.8 741.8L1101.8 743.5L1102.8 744L1104.9 745.1L1107.9 746.7L1107.9 746.7L1111 748.3L1113.2 749.4L1114 749.8L1117.1 751.4L1118.6 752.1L1120.1 752.8L1123.2 754.3L1124.3 754.8L1126.2 755.7L1129.3 757.1L1130.1 757.5L1132.3 758.5L1135.4 759.9L1136.2 760.2L1138.4 761.2L1141.5 762.5L1142.5 762.9L1144.5 763.8L1147.6 765L1149 765.6L1150.6 766.3L1153.7 767.5L1155.8 768.3L1156.8 768.7L1159.8 769.8L1162.9 771L1162.9 771L1165.9 772.1L1169 773.2L1170.2 773.7L1172 774.3L1175.1 775.4L1177.9 776.4L1178.1 776.5L1181.2 777.5L1184.2 778.5L1186 779.1L1187.3 779.5L1190.3 780.5L1193.4 781.5L1194.3 781.8L1196.4 782.5L1199.5 783.4L1202.5 784.3L1203.1 784.5L1205.6 785.2L1208.6 786.1L1211.7 787L1212.4 787.2L1214.7 787.9L1217.8 788.7" fill="none" stroke="#fff" stroke-width="1.9" stroke-dasharray="10 10" clip-path="url(#cp_e)" stroke-linejoin="round"/>
<path d="M1120.8 587.5L1123.2 589.3L1124.3 590.2L1126.2 591.6L1127.9 592.9L1129.3 593.9L1131.6 595.6L1132.3 596.1L1135.4 598.3L1135.4 598.3L1138.4 600.4L1139.3 601L1141.5 602.5L1143.2 603.7L1144.5 604.6L1147.3 606.4L1147.6 606.6L1150.6 608.6L1151.4 609.1L1153.7 610.6L1155.7 611.8L1156.8 612.5L1159.8 614.4L1160 614.5L1162.9 616.2L1164.5 617.2L1165.9 618.1L1169 619.9L1169 619.9L1172 621.6L1173.7 622.6L1175.1 623.4L1178.1 625.1L1178.5 625.3L1181.2 626.7L1183.4 628L1184.2 628.4L1187.3 630L1188.5 630.7L1190.3 631.6L1193.4 633.2L1193.7 633.4L1196.4 634.8L1199.1 636.1L1199.5 636.3L1202.5 637.8L1204.6 638.8L1205.6 639.3L1208.6 640.7L1210.2 641.5L1211.7 642.2L1214.7 643.6L1216.1 644.2L1217.8 645" fill="none" stroke="#fff" stroke-width="1.9" stroke-dasharray="10 10" clip-path="url(#cp_e)" stroke-linejoin="round"/>
<path d="M761.7 824.7L765.6 826.8L769.4 828.7L773.2 830.1L777.1 831.2L780.9 832.1L784.7 832.8L788.6 833.2L792.4 833.6L796.2 833.8L800.1 834L803.9 834.1L807.8 834.1L811.6 834L815.4 833.9L819.3 833.8L823.1 833.6L826.9 833.4L830.8 833.1L834.6 832.8L838.5 832.5L842.3 832.2L846.1 831.8L850 831.5L853.8 831.1L857.6 830.7L861.5 830.2L865.3 829.8L869.1 829.3L873 828.8L876.8 828.3L880.7 827.8L884.5 827.3L888.3 826.8L892.2 826.2L896 825.7L899.8 825.1L903.7 824.5L907.5 823.9L911.4 823.3L915.2 822.6L919 822L922.9 821.3L926.7 820.7L930.5 820L934.4 819.3L938.2 818.6L942 817.9L945.9 817.2L949.7 816.5L953.6 815.7L957.4 815L961.2 814.2L965.1 813.4L968.9 812.7L972.7 811.9L976.6 811.1L980.4 810.2L984.3 809.4L988.1 808.6L991.9 807.7L995.8 806.9L999.6 806L1003.4 805.1L1007.3 804.3L1011.1 803.4L1014.9 802.5L1018.8 801.5L1022.6 800.6L1026.5 799.7L1030.3 798.7L1034.1 797.8L1038 796.8L1041.8 795.8L1045.6 794.8L1049.5 793.8L1053.3 792.8L1057.2 791.8L1061 790.8L1064.8 789.8L1068.7 788.7L1072.5 787.7L1076.3 786.6L1080.2 785.5L1084 784.4L1087.8 783.3L1091.7 782.2L1095.5 781.1L1099.4 780L1103.2 778.8L1107 777.7L1110.9 776.5L1114.7 775.4L1118.5 774.2L1122.4 773L1126.2 771.8L1130.1 770.6L1133.9 769.4L1137.7 768.2L1141.6 766.9L1145.4 765.7L1149.2 764.4L1153.1 763.2L1156.9 761.9L1160.7 760.6L1164.6 759.3L1168.4 758L1172.3 756.7L1176.1 755.4L1179.9 754L1183.8 752.7L1187.6 751.3L1191.4 750L1195.3 748.6L1199.1 747.2L1203 745.8L1206.8 744.4L1210.6 743L1214.5 741.6L1218.3 740.1" fill="none" stroke="#000" stroke-width="1.6" clip-path="url(#cp_e)" stroke-linejoin="round"/>
<path d="M769.5 588.5L770.9 596.9L772.3 603.9L773.7 609.9L775.1 615L776.5 619.5L777.9 623.4L779.3 626.8L780.7 629.7L782.1 632.4L783.4 634.7L784.8 636.8L786.2 638.7L787.6 640.3L789 641.8L790.4 643.2L791.8 644.4L793.2 645.4L794.6 646.4L796 647.3L797.4 648L798.8 648.7L800.2 649.4L801.6 649.9L803 650.4L804.4 650.8L805.8 651.2L807.2 651.5L808.6 651.8L810 652L811.4 652.2L812.8 652.3L814.2 652.4L815.6 652.4L817 652.5L818.4 652.5L819.8 652.4L821.2 652.4L822.6 652.3L824 652.1L825.4 652L826.8 651.8L828.2 651.6L829.6 651.4L831 651.1L832.4 650.8L833.7 650.5L835.1 650.2L836.5 649.9L837.9 649.5L839.3 649.1L840.7 648.7L842.1 648.3L843.5 647.8L844.9 647.4L846.3 646.9L847.7 646.4L849.1 645.9L850.5 645.4L851.9 644.8L853.3 644.2L854.7 643.7L856.1 643.1L857.5 642.4L858.9 641.8L860.3 641.2L861.7 640.5L863.1 639.8L864.5 639.2L865.9 638.4L867.3 637.7L868.7 637L870.1 636.3L871.5 635.5L872.9 634.7L874.3 633.9L875.7 633.1L877.1 632.3L878.5 631.5L879.9 630.6L881.3 629.8L882.7 628.9L884 628.1L885.4 627.2L886.8 626.3L888.2 625.3L889.6 624.4L891 623.5L892.4 622.5L893.8 621.6L895.2 620.6L896.6 619.6L898 618.6L899.4 617.6L900.8 616.6L902.2 615.6L903.6 614.5L905 613.5L906.4 612.4L907.8 611.3L909.2 610.2L910.6 609.1L912 608L913.4 606.9L914.8 605.8L916.2 604.7L917.6 603.5L919 602.4L920.4 601.2L921.8 600L923.2 598.9L924.6 597.7L926 596.5L927.4 595.2L928.8 594L930.2 592.8L931.6 591.6L933 590.3L934.3 589.1L935.7 587.8" fill="none" stroke="#000" stroke-width="1.6" clip-path="url(#cp_e)" stroke-linejoin="round"/>
<rect x="762.5" y="587" width="455.8" height="403.1" fill="none" stroke="#5a5a5a" stroke-width="1.0"/>
<path d="M825.7 989.6v-4.5M825.7 587.5v4.5M904.1 989.6v-4.5M904.1 587.5v4.5M982.6 989.6v-4.5M982.6 587.5v4.5M1061 989.6v-4.5M1061 587.5v4.5M1139.4 989.6v-4.5M1139.4 587.5v4.5" stroke="#5a5a5a" stroke-width="1.0" fill="none"/>
<path d="M763 934.1h4.5M1217.8 934.1h-4.5M763 864.8h4.5M1217.8 864.8h-4.5M763 795.5h4.5M1217.8 795.5h-4.5M763 726.2h4.5M1217.8 726.2h-4.5M763 656.8h4.5M1217.8 656.8h-4.5" stroke="#5a5a5a" stroke-width="1.0" fill="none"/>
<text x="826.3" y="1022.1" font-size="27.0" text-anchor="middle">5</text>
<text x="753.6" y="943.1" font-size="27.0" text-anchor="end">5</text>
<text x="904.7" y="1022.1" font-size="27.0" text-anchor="middle">10</text>
<text x="753.6" y="873.8" font-size="27.0" text-anchor="end">10</text>
<text x="983.2" y="1022.1" font-size="27.0" text-anchor="middle">15</text>
<text x="753.6" y="804.5" font-size="27.0" text-anchor="end">15</text>
<text x="1061.6" y="1022.1" font-size="27.0" text-anchor="middle">20</text>
<text x="753.6" y="735.2" font-size="27.0" text-anchor="end">20</text>
<text x="1140" y="1022.1" font-size="27.0" text-anchor="middle">25</text>
<text x="753.6" y="665.8" font-size="27.0" text-anchor="end">25</text>
<text x="1218.4" y="1022.1" font-size="27.0" text-anchor="middle">30</text>
<text x="753.6" y="596.5" font-size="27.0" text-anchor="end">30</text>
<g transform="translate(693.5 858.2) rotate(-90)">
<text x="0" y="0" font-size="30.5" text-anchor="start">-g</text>
<text x="27.9" y="14.2" font-size="21" text-anchor="start">1</text>
<text x="42.7" y="0" font-size="30.5" text-anchor="start">(meV)</text>
</g>
<text x="923.7" y="1060.8" font-size="30.5" text-anchor="start">g</text>
<text x="941.5" y="1072.8" font-size="24.5" text-anchor="start">a</text>
<text x="964.7" y="1060.8" font-size="30.5" text-anchor="start">(meV)</text>
<text x="809" y="570.9" font-size="30" text-anchor="start">Quantum yield</text>
<text transform="matrix(0.3643 0 0 0.3044 1011.68 571.21)" font-size="100" font-family='"Liberation Serif", serif' font-style="italic" stroke="#fff" stroke-width="1.79">η</text>
<text x="1030.6" y="570.9" font-size="30" text-anchor="start">,</text>
<text x="1050.9" y="570.9" font-size="30" text-anchor="start">Q</text>
<text x="1075.8" y="578.8" font-size="20" text-anchor="start">c</text>
<text x="1090.2" y="570.9" font-size="30" text-anchor="start">=</text>
<text x="1110.7" y="570.9" font-size="31.5" text-anchor="start">10</text>
<text x="1148.3" y="556.9" font-size="19" text-anchor="start">3</text>
<text x="1289.1" y="560.9" font-size="34.5" text-anchor="middle" letter-spacing="0.5">(e)</text>
<linearGradient id="cb_e" x1="0" y1="1" x2="0" y2="0"><stop offset="0.000" stop-color="#123d6c"/><stop offset="0.017" stop-color="#154273"/><stop offset="0.033" stop-color="#174779"/><stop offset="0.050" stop-color="#1a4c80"/><stop offset="0.067" stop-color="#1d5286"/><stop offset="0.083" stop-color="#21588d"/><stop offset="0.100" stop-color="#245f94"/><stop offset="0.117" stop-color="#28659a"/><stop offset="0.133" stop-color="#2b6b9f"/><stop offset="0.150" stop-color="#2f71a5"/><stop offset="0.167" stop-color="#3477ab"/><stop offset="0.183" stop-color="#397eb0"/><stop offset="0.200" stop-color="#3e84b5"/><stop offset="0.217" stop-color="#448aba"/><stop offset="0.233" stop-color="#4f92c0"/><stop offset="0.250" stop-color="#5b9bc5"/><stop offset="0.267" stop-color="#67a2c9"/><stop offset="0.283" stop-color="#73a9cd"/><stop offset="0.300" stop-color="#7dafd0"/><stop offset="0.317" stop-color="#85b4d3"/><stop offset="0.333" stop-color="#91bbd8"/><stop offset="0.350" stop-color="#9cc2dd"/><stop offset="0.367" stop-color="#a6c8e0"/><stop offset="0.383" stop-color="#afcee3"/><stop offset="0.400" stop-color="#b8d4e6"/><stop offset="0.417" stop-color="#c2daea"/><stop offset="0.433" stop-color="#cddfed"/><stop offset="0.450" stop-color="#d4e3ee"/><stop offset="0.467" stop-color="#d7e3ec"/><stop offset="0.483" stop-color="#d9e2ea"/><stop offset="0.500" stop-color="#dce2e8"/><stop offset="0.517" stop-color="#dee1e6"/><stop offset="0.533" stop-color="#e0e1e3"/><stop offset="0.550" stop-color="#e1e0e1"/><stop offset="0.567" stop-color="#e4dfdd"/><stop offset="0.583" stop-color="#e7ddd9"/><stop offset="0.600" stop-color="#eadcd5"/><stop offset="0.617" stop-color="#eddbd2"/><stop offset="0.633" stop-color="#f0d9ce"/><stop offset="0.650" stop-color="#f2d5c5"/><stop offset="0.667" stop-color="#f5d0bc"/><stop offset="0.683" stop-color="#f2c8b4"/><stop offset="0.700" stop-color="#efbfac"/><stop offset="0.717" stop-color="#ecb7a4"/><stop offset="0.733" stop-color="#eaae9c"/><stop offset="0.750" stop-color="#e7a694"/><stop offset="0.767" stop-color="#e49f8d"/><stop offset="0.783" stop-color="#e29987"/><stop offset="0.800" stop-color="#de917f"/><stop offset="0.817" stop-color="#db8a78"/><stop offset="0.833" stop-color="#d7816f"/><stop offset="0.850" stop-color="#d27464"/><stop offset="0.867" stop-color="#cd6859"/><stop offset="0.883" stop-color="#c85b4e"/><stop offset="0.900" stop-color="#bd4e46"/><stop offset="0.917" stop-color="#b04140"/><stop offset="0.933" stop-color="#a33339"/><stop offset="0.950" stop-color="#972934"/><stop offset="0.967" stop-color="#8e2430"/><stop offset="0.983" stop-color="#84202c"/><stop offset="1.000" stop-color="#7b1c28"/></linearGradient>
<rect x="1241.2" y="587.4" width="26.4" height="402.5" fill="url(#cb_e)" stroke="#5a5a5a" stroke-width="1"/>
<text x="1276.7" y="997.8" font-size="23.3" text-anchor="start">0</text>
<path d="M1267.6 945.2h-4.3" stroke="#5a5a5a" stroke-width="1"/>
<text x="1276.7" y="953.1" font-size="23.3" text-anchor="start">0.1</text>
<path d="M1267.6 900.5h-4.3" stroke="#5a5a5a" stroke-width="1"/>
<text x="1276.7" y="908.4" font-size="23.3" text-anchor="start">0.2</text>
<path d="M1267.6 855.7h-4.3" stroke="#5a5a5a" stroke-width="1"/>
<text x="1276.7" y="863.6" font-size="23.3" text-anchor="start">0.3</text>
<path d="M1267.6 811h-4.3" stroke="#5a5a5a" stroke-width="1"/>
<text x="1276.7" y="818.9" font-size="23.3" text-anchor="start">0.4</text>
<path d="M1267.6 766.3h-4.3" stroke="#5a5a5a" stroke-width="1"/>
<text x="1276.7" y="774.2" font-size="23.3" text-anchor="start">0.5</text>
<path d="M1267.6 721.6h-4.3" stroke="#5a5a5a" stroke-width="1"/>
<text x="1276.7" y="729.5" font-size="23.3" text-anchor="start">0.6</text>
<path d="M1267.6 676.8h-4.3" stroke="#5a5a5a" stroke-width="1"/>
<text x="1276.7" y="684.7" font-size="23.3" text-anchor="start">0.7</text>
<path d="M1267.6 632.1h-4.3" stroke="#5a5a5a" stroke-width="1"/>
<text x="1276.7" y="640" font-size="23.3" text-anchor="start">0.8</text>
<text x="1276.7" y="595.3" font-size="23.3" text-anchor="start">0.9</text>
<text x="931.6" y="769" font-size="23.3" text-anchor="middle" fill="#fff">0.4</text>
<text x="1016.6" y="726.2" font-size="23.3" text-anchor="middle" fill="#fff">0.6</text>
<text x="1138.1" y="647.4" font-size="23.3" text-anchor="middle" fill="#fff">0.8</text>
<text transform="matrix(0.3083 0 0 0.2676 780.17 684.93)" font-size="100" font-family='"Liberation Serif", serif' font-style="italic">η</text>
<text x="801.9" y="685.2" font-size="23.3" text-anchor="start">/</text>
<text transform="matrix(0.3083 0 0 0.2676 813.42 684.93)" font-size="100" font-family='"Liberation Serif", serif' font-style="italic">η</text>
<text x="829.1" y="697.1" font-size="18.5" text-anchor="start">0</text>
<text x="844.5" y="686" font-size="23.3" text-anchor="start">&gt;</text>
<text x="859.4" y="686" font-size="23.3" text-anchor="start">10</text>
<text x="885.8" y="674.8" font-size="15.5" text-anchor="start">2</text>
<text transform="matrix(0.3083 0 0 0.2676 858.92 862.93)" font-size="100" font-family='"Liberation Serif", serif' font-style="italic">η</text>
<text x="880.6" y="863.2" font-size="23.3" text-anchor="start">/</text>
<text transform="matrix(0.3083 0 0 0.2676 892.17 862.93)" font-size="100" font-family='"Liberation Serif", serif' font-style="italic">η</text>
<text x="907.9" y="875.1" font-size="18.5" text-anchor="start">0</text>
<text x="923.2" y="864" font-size="23.3" text-anchor="start">&gt;</text>
<text x="938.1" y="864" font-size="23.3" text-anchor="start">10</text>
<path d="M1530.2 991.4v-5.5M1530.2 587.2v5.5M1621 991.4v-5.5M1621 587.2v5.5M1711.7 991.4v-5.5M1711.7 587.2v5.5M1802.4 991.4v-5.5M1802.4 587.2v5.5M1893.2 991.4v-5.5M1893.2 587.2v5.5" stroke="#5a5a5a" stroke-width="1.0" fill="none"/>
<path d="M1439.5 910.6h5.5M1983.9 910.6h-5.5M1439.5 829.7h5.5M1983.9 829.7h-5.5M1439.5 748.9h5.5M1983.9 748.9h-5.5M1439.5 668h5.5M1983.9 668h-5.5" stroke="#5a5a5a" stroke-width="1.0" fill="none"/>
<clipPath id="cp_f2"><rect x="1439.2" y="586.7" width="545" height="408.2"/></clipPath>
<rect x="1439.5" y="587.2" width="544.4" height="404.2" fill="none" stroke="#5a5a5a" stroke-width="1.0"/>
<path d="M1439.5 944.5L1444 943.6L1448.6 942.7L1453.1 941.7L1457.6 940.6L1462.2 939.5L1466.7 938.4L1471.3 937.3L1475.8 936L1480.3 934.8L1484.9 933.5L1489.4 932.1L1493.9 930.7L1498.5 929.2L1503 927.6L1507.5 926L1512.1 924.3L1516.6 922.6L1521.2 920.8L1525.7 918.9L1530.2 916.9L1534.8 914.9L1539.3 912.7L1543.8 910.5L1548.4 908.2L1552.9 905.8L1557.5 903.4L1562 900.8L1566.5 898.2L1571.1 895.4L1575.6 892.6L1580.1 889.7L1584.7 886.7L1589.2 883.6L1593.7 880.4L1598.3 877.2L1602.8 873.9L1607.4 870.5L1611.9 867.1L1616.4 863.7L1621 860.2L1625.5 856.7L1630 853.3L1634.6 849.8L1639.1 846.4L1643.7 843.1L1648.2 839.9L1652.7 836.7L1657.3 833.8L1661.8 830.9L1666.3 828.3L1670.9 825.8L1675.4 823.6L1679.9 821.7L1684.5 820L1689 818.5L1693.6 817.4L1698.1 816.5L1702.6 815.9L1707.2 815.5L1711.7 815.5L1716.2 815.5L1720.8 815.9L1725.3 816.5L1729.8 817.4L1734.4 818.5L1738.9 820L1743.5 821.7L1748 823.6L1752.5 825.8L1757.1 828.3L1761.6 830.9L1766.1 833.8L1770.7 836.7L1775.2 839.9L1779.8 843.1L1784.3 846.4L1788.8 849.8L1793.4 853.3L1797.9 856.7L1802.4 860.2L1807 863.7L1811.5 867.1L1816 870.5L1820.6 873.9L1825.1 877.2L1829.7 880.4L1834.2 883.6L1838.7 886.7L1843.3 889.7L1847.8 892.6L1852.3 895.4L1856.9 898.2L1861.4 900.8L1865.9 903.4L1870.5 905.8L1875 908.2L1879.6 910.5L1884.1 912.7L1888.6 914.9L1893.2 916.9L1897.7 918.9L1902.2 920.8L1906.8 922.6L1911.3 924.3L1915.9 926L1920.4 927.6L1924.9 929.2L1929.5 930.7L1934 932.1L1938.5 933.5L1943.1 934.8L1947.6 936L1952.1 937.3L1956.7 938.4L1961.2 939.5L1965.8 940.6L1970.3 941.7L1974.8 942.7L1979.4 943.6L1983.9 944.5" fill="none" stroke="#3DB391" stroke-width="3.2" clip-path="url(#cp_f2)" stroke-linejoin="round"/>
<path d="M1439.5 966.2L1444 965.8L1448.6 965.4L1453.1 964.9L1457.6 964.4L1462.2 963.9L1466.7 963.4L1471.3 962.8L1475.8 962.2L1480.3 961.6L1484.9 960.9L1489.4 960.2L1493.9 959.4L1498.5 958.6L1503 957.7L1507.5 956.8L1512.1 955.8L1516.6 954.8L1521.2 953.7L1525.7 952.5L1530.2 951.2L1534.8 949.9L1539.3 948.5L1543.8 947L1548.4 945.4L1552.9 943.7L1557.5 941.8L1562 939.9L1566.5 937.9L1571.1 935.8L1575.6 933.5L1580.1 931.1L1584.7 928.6L1589.2 926L1593.7 923.3L1598.3 920.4L1602.8 917.5L1607.4 914.4L1611.9 911.3L1616.4 908.2L1621 905L1625.5 901.8L1630 898.6L1634.6 895.5L1639.1 892.4L1643.7 889.5L1648.2 886.7L1652.7 884.1L1657.3 881.6L1661.8 879.4L1666.3 877.5L1670.9 875.8L1675.4 874.3L1679.9 873.1L1684.5 872.2L1689 871.5L1693.6 871L1698.1 870.6L1702.6 870.4L1707.2 870.4L1711.7 870.3L1716.2 870.4L1720.8 870.4L1725.3 870.6L1729.8 871L1734.4 871.5L1738.9 872.2L1743.5 873.1L1748 874.3L1752.5 875.8L1757.1 877.5L1761.6 879.4L1766.1 881.6L1770.7 884.1L1775.2 886.7L1779.8 889.5L1784.3 892.4L1788.8 895.5L1793.4 898.6L1797.9 901.8L1802.4 905L1807 908.2L1811.5 911.3L1816 914.4L1820.6 917.5L1825.1 920.4L1829.7 923.3L1834.2 926L1838.7 928.6L1843.3 931.1L1847.8 933.5L1852.3 935.8L1856.9 937.9L1861.4 939.9L1865.9 941.8L1870.5 943.7L1875 945.4L1879.6 947L1884.1 948.5L1888.6 949.9L1893.2 951.2L1897.7 952.5L1902.2 953.7L1906.8 954.8L1911.3 955.8L1915.9 956.8L1920.4 957.7L1924.9 958.6L1929.5 959.4L1934 960.2L1938.5 960.9L1943.1 961.6L1947.6 962.2L1952.1 962.8L1956.7 963.4L1961.2 963.9L1965.8 964.4L1970.3 964.9L1974.8 965.4L1979.4 965.8L1983.9 966.2" fill="none" stroke="#3DB391" stroke-width="2.3" stroke-dasharray="10 10" clip-path="url(#cp_f2)" stroke-linejoin="round" stroke-dashoffset="7"/>
<path d="M1439.5 964.2L1983.9 964.2" fill="none" stroke="#000" stroke-width="2.2" stroke-dasharray="10 10" clip-path="url(#cp_f2)" stroke-linejoin="round" stroke-dashoffset="7"/>
<path d="M1439.5 992.4L1983.9 992.4" fill="none" stroke="#1F4A7C" stroke-width="3.2" clip-path="url(#cp_f2)" stroke-linejoin="round"/>
<path d="M1439.5 992.2L1983.9 992.2" fill="none" stroke="#E0446C" stroke-width="2.3" stroke-dasharray="10 10" clip-path="url(#cp_f2)" stroke-linejoin="round"/>
<path d="M1439.5 989.6L1441.8 989.6L1444 989.5L1446.3 989.5L1448.6 989.5L1450.8 989.5L1453.1 989.5L1455.4 989.5L1457.6 989.5L1459.9 989.5L1462.2 989.5L1464.5 989.5L1466.7 989.5L1469 989.5L1471.3 989.5L1473.5 989.5L1475.8 989.5L1478.1 989.5L1480.3 989.5L1482.6 989.5L1484.9 989.5L1487.1 989.5L1489.4 989.5L1491.7 989.5L1493.9 989.5L1496.2 989.5L1498.5 989.5L1500.7 989.5L1503 989.5L1505.3 989.5L1507.5 989.5L1509.8 989.5L1512.1 989.5L1514.4 989.5L1516.6 989.5L1518.9 989.4L1521.2 989.4L1523.4 989.4L1525.7 989.4L1528 989.4L1530.2 989.4L1532.5 989.4L1534.8 989.4L1537 989.4L1539.3 989.4L1541.6 989.4L1543.8 989.4L1546.1 989.4L1548.4 989.4L1550.6 989.4L1552.9 989.3L1555.2 989.3L1557.5 989.3L1559.7 989.3L1562 989.3L1564.3 989.3L1566.5 989.3L1568.8 989.3L1571.1 989.3L1573.3 989.2L1575.6 989.2L1577.9 989.2L1580.1 989.2L1582.4 989.2L1584.7 989.2L1586.9 989.1L1589.2 989.1L1591.5 989.1L1593.7 989.1L1596 989.1L1598.3 989L1600.6 989L1602.8 989L1605.1 989L1607.4 988.9L1609.6 988.9L1611.9 988.9L1614.2 988.8L1616.4 988.8L1618.7 988.7L1621 988.7L1623.2 988.6L1625.5 988.6L1627.8 988.5L1630 988.5L1632.3 988.4L1634.6 988.3L1636.8 988.2L1639.1 988.1L1641.4 988L1643.7 987.9L1645.9 987.8L1648.2 987.7L1650.5 987.5L1652.7 987.4L1655 987.2L1657.3 987L1659.5 986.7L1661.8 986.5L1664.1 986.2L1666.3 985.8L1668.6 985.4L1670.9 984.9L1673.1 984.3L1675.4 983.7L1675.4 983.7L1675.9 983.5L1676.3 983.4L1676.8 983.2L1677.2 983L1677.7 982.9L1677.7 982.9L1678.1 982.7L1678.6 982.5L1679 982.3L1679.5 982.1L1679.9 981.9L1679.9 981.9L1680.4 981.7L1680.9 981.4L1681.3 981.2L1681.8 980.9L1682.2 980.7L1682.2 980.7L1682.7 980.4L1683.1 980.1L1683.6 979.8L1684 979.5L1684.5 979.1L1684.5 979.1L1684.9 978.8L1685.4 978.4L1685.8 978.1L1686.3 977.6L1686.7 977.2L1686.7 977.2L1687.2 976.8L1687.7 976.3L1688.1 975.8L1688.6 975.3L1689 974.7L1689 974.7L1689.5 974.1L1689.9 973.5L1690.4 972.8L1690.8 972.1L1691.3 971.4L1691.3 971.4L1691.7 970.6L1692.2 969.7L1692.6 968.8L1693.1 967.9L1693.6 966.8L1693.6 966.8L1694 965.7L1694.5 964.6L1694.9 963.3L1695.4 961.9L1695.8 960.4L1695.8 960.4L1696.3 958.8L1696.7 957.1L1697.2 955.2L1697.6 953.2L1698.1 951L1698.1 951L1698.5 948.6L1699 946L1699.5 943.1L1699.9 940L1700.4 936.5L1700.4 936.5L1700.8 932.7L1701.3 928.6L1701.7 923.9L1702.2 918.8L1702.6 913.1L1702.6 913.1L1703.1 906.7L1703.5 899.6L1704 891.7L1704.4 882.8L1704.9 872.9L1704.9 872.9L1705.3 861.8L1705.8 849.4L1706.3 835.6L1706.7 820.1L1707.2 803.1L1707.2 803.1L1707.6 784.5L1708.1 764.3L1708.5 742.9L1709 720.8L1709.4 698.7L1709.9 677.7L1710.3 659.2L1710.8 644.6L1711.2 635.2L1711.7 631.9L1712.2 635.2L1712.6 644.6L1713.1 659.2L1713.5 677.7L1714 698.7L1714.4 720.8L1714.9 742.9L1715.3 764.3L1715.8 784.5L1716.2 803.1L1716.2 803.1L1716.7 820.1L1717.1 835.6L1717.6 849.4L1718.1 861.8L1718.5 872.9L1718.5 872.9L1719 882.8L1719.4 891.7L1719.9 899.6L1720.3 906.7L1720.8 913.1L1720.8 913.1L1721.2 918.8L1721.7 923.9L1722.1 928.6L1722.6 932.7L1723 936.5L1723 936.5L1723.5 940L1723.9 943.1L1724.4 946L1724.9 948.6L1725.3 951L1725.3 951L1725.8 953.2L1726.2 955.2L1726.7 957.1L1727.1 958.8L1727.6 960.4L1727.6 960.4L1728 961.9L1728.5 963.3L1728.9 964.6L1729.4 965.7L1729.8 966.8L1729.8 966.8L1730.3 967.9L1730.8 968.8L1731.2 969.7L1731.7 970.6L1732.1 971.4L1732.1 971.4L1732.6 972.1L1733 972.8L1733.5 973.5L1733.9 974.1L1734.4 974.7L1734.4 974.7L1734.8 975.3L1735.3 975.8L1735.7 976.3L1736.2 976.8L1736.7 977.2L1736.7 977.2L1737.1 977.6L1737.6 978.1L1738 978.4L1738.5 978.8L1738.9 979.1L1738.9 979.1L1739.4 979.5L1739.8 979.8L1740.3 980.1L1740.7 980.4L1741.2 980.7L1741.2 980.7L1741.6 980.9L1742.1 981.2L1742.5 981.4L1743 981.7L1743.5 981.9L1743.5 981.9L1743.9 982.1L1744.4 982.3L1744.8 982.5L1745.3 982.7L1745.7 982.9L1745.7 982.9L1746.2 983L1746.6 983.2L1747.1 983.4L1747.5 983.5L1748 983.7L1748 983.7L1750.3 984.3L1752.5 984.9L1754.8 985.4L1757.1 985.8L1759.3 986.2L1761.6 986.5L1763.9 986.7L1766.1 987L1768.4 987.2L1770.7 987.4L1772.9 987.5L1775.2 987.7L1777.5 987.8L1779.8 987.9L1782 988L1784.3 988.1L1786.6 988.2L1788.8 988.3L1791.1 988.4L1793.4 988.5L1795.6 988.5L1797.9 988.6L1800.2 988.6L1802.4 988.7L1804.7 988.7L1807 988.8L1809.2 988.8L1811.5 988.9L1813.8 988.9L1816 988.9L1818.3 989L1820.6 989L1822.8 989L1825.1 989L1827.4 989.1L1829.7 989.1L1831.9 989.1L1834.2 989.1L1836.5 989.1L1838.7 989.2L1841 989.2L1843.3 989.2L1845.5 989.2L1847.8 989.2L1850.1 989.2L1852.3 989.3L1854.6 989.3L1856.9 989.3L1859.1 989.3L1861.4 989.3L1863.7 989.3L1865.9 989.3L1868.2 989.3L1870.5 989.3L1872.8 989.4L1875 989.4L1877.3 989.4L1879.6 989.4L1881.8 989.4L1884.1 989.4L1886.4 989.4L1888.6 989.4L1890.9 989.4L1893.2 989.4L1895.4 989.4L1897.7 989.4L1900 989.4L1902.2 989.4L1904.5 989.4L1906.8 989.5L1909 989.5L1911.3 989.5L1913.6 989.5L1915.9 989.5L1918.1 989.5L1920.4 989.5L1922.7 989.5L1924.9 989.5L1927.2 989.5L1929.5 989.5L1931.7 989.5L1934 989.5L1936.3 989.5L1938.5 989.5L1940.8 989.5L1943.1 989.5L1945.3 989.5L1947.6 989.5L1949.9 989.5L1952.1 989.5L1954.4 989.5L1956.7 989.5L1958.9 989.5L1961.2 989.5L1963.5 989.5L1965.8 989.5L1968 989.5L1970.3 989.5L1972.6 989.5L1974.8 989.5L1977.1 989.5L1979.4 989.5L1981.6 989.6L1983.9 989.6" fill="none" stroke="#E0446C" stroke-width="3.4000000000000004" clip-path="url(#cp_f2)" stroke-linejoin="round"/>
<path d="M1666.3 990.2L1668.6 990L1670.9 989.8L1673.1 989.5L1675.4 989.2L1675.4 989.2L1675.9 989.2L1676.3 989.1L1676.8 989L1677.2 988.9L1677.7 988.8L1677.7 988.8L1678.1 988.8L1678.6 988.7L1679 988.6L1679.5 988.5L1679.9 988.4L1679.9 988.4L1680.4 988.3L1680.9 988.2L1681.3 988.1L1681.8 987.9L1682.2 987.8L1682.2 987.8L1682.7 987.7L1683.1 987.5L1683.6 987.4L1684 987.2L1684.5 987.1L1684.5 987.1L1684.9 986.9L1685.4 986.7L1685.8 986.6L1686.3 986.4L1686.7 986.2L1686.7 986.2L1687.2 986L1687.7 985.7L1688.1 985.5L1688.6 985.2L1689 985L1689 985L1689.5 984.7L1689.9 984.4L1690.4 984.1L1690.8 983.7L1691.3 983.4L1691.3 983.4L1691.7 983L1692.2 982.6L1692.6 982.1L1693.1 981.7L1693.6 981.1L1693.6 981.1L1694 980.6L1694.5 980L1694.9 979.4L1695.4 978.7L1695.8 978L1695.8 978L1696.3 977.2L1696.7 976.3L1697.2 975.3L1697.6 974.3L1698.1 973.2L1698.1 973.2L1698.5 971.9L1699 970.6L1699.5 969.1L1699.9 967.4L1700.4 965.6L1700.4 965.6L1700.8 963.5L1701.3 961.2L1701.7 958.6L1702.2 955.8L1702.6 952.5L1702.6 952.5L1703.1 948.8L1703.5 944.6L1704 939.7L1704.4 934.2L1704.9 927.8L1704.9 927.8L1705.3 920.3L1705.8 911.7L1706.3 901.6L1706.7 889.7L1707.2 875.9L1707.2 875.9L1707.6 859.6L1708.1 840.7L1708.5 818.8L1709 794L1709.4 766.7L1709.9 738L1710.3 710.1L1710.8 686.1L1711.2 669.7L1711.7 663.8L1712.2 669.7L1712.6 686.1L1713.1 710.1L1713.5 738L1714 766.7L1714.4 794L1714.9 818.8L1715.3 840.7L1715.8 859.6L1716.2 875.9L1716.2 875.9L1716.7 889.7L1717.1 901.6L1717.6 911.7L1718.1 920.3L1718.5 927.8L1718.5 927.8L1719 934.2L1719.4 939.7L1719.9 944.6L1720.3 948.8L1720.8 952.5L1720.8 952.5L1721.2 955.8L1721.7 958.6L1722.1 961.2L1722.6 963.5L1723 965.6L1723 965.6L1723.5 967.4L1723.9 969.1L1724.4 970.6L1724.9 971.9L1725.3 973.2L1725.3 973.2L1725.8 974.3L1726.2 975.3L1726.7 976.3L1727.1 977.2L1727.6 978L1727.6 978L1728 978.7L1728.5 979.4L1728.9 980L1729.4 980.6L1729.8 981.1L1729.8 981.1L1730.3 981.7L1730.8 982.1L1731.2 982.6L1731.7 983L1732.1 983.4L1732.1 983.4L1732.6 983.7L1733 984.1L1733.5 984.4L1733.9 984.7L1734.4 985L1734.4 985L1734.8 985.2L1735.3 985.5L1735.7 985.7L1736.2 986L1736.7 986.2L1736.7 986.2L1737.1 986.4L1737.6 986.6L1738 986.7L1738.5 986.9L1738.9 987.1L1738.9 987.1L1739.4 987.2L1739.8 987.4L1740.3 987.5L1740.7 987.7L1741.2 987.8L1741.2 987.8L1741.6 987.9L1742.1 988.1L1742.5 988.2L1743 988.3L1743.5 988.4L1743.5 988.4L1743.9 988.5L1744.4 988.6L1744.8 988.7L1745.3 988.8L1745.7 988.8L1745.7 988.8L1746.2 988.9L1746.6 989L1747.1 989.1L1747.5 989.2L1748 989.2L1748 989.2L1750.3 989.5L1752.5 989.8L1754.8 990" fill="none" stroke="#E0446C" stroke-width="2.3" stroke-dasharray="10 10" clip-path="url(#cp_f2)" stroke-linejoin="round"/>
<path d="M1708.1 990.9L1708.2 990.8L1708.3 990.8L1708.3 990.7L1708.4 990.6L1708.5 990.5L1708.6 990.3L1708.7 990.2L1708.8 990.1L1708.9 989.9L1709 989.8L1709.1 989.6L1709.2 989.4L1709.3 989.1L1709.3 988.9L1709.4 988.6L1709.5 988.3L1709.6 987.9L1709.7 987.5L1709.8 987L1709.9 986.5L1710 985.9L1710.1 985.1L1710.2 984.3L1710.2 983.3L1710.3 982L1710.4 980.5L1710.5 978.7L1710.6 976.4L1710.7 973.5L1710.8 969.8L1710.9 964.8L1711 958.1L1711.1 948.8L1711.2 935.3L1711.2 915L1711.3 883.4L1711.4 832.5L1711.5 752.4L1711.6 649.5L1711.7 592.3L1711.8 649.5L1711.9 752.4L1712 832.5L1712.1 883.4L1712.2 915L1712.2 935.3L1712.3 948.8L1712.4 958.1L1712.5 964.8L1712.6 969.8L1712.7 973.5L1712.8 976.4L1712.9 978.7L1713 980.5L1713.1 982L1713.2 983.3L1713.2 984.3L1713.3 985.1L1713.4 985.9L1713.5 986.5L1713.6 987L1713.7 987.5L1713.8 987.9L1713.9 988.3L1714 988.6L1714.1 988.9L1714.1 989.1L1714.2 989.4L1714.3 989.6L1714.4 989.8L1714.5 989.9L1714.6 990.1L1714.7 990.2L1714.8 990.3L1714.9 990.5L1715 990.6L1715.1 990.7L1715.1 990.8L1715.2 990.8L1715.3 990.9" fill="none" stroke="#1F4A7C" stroke-width="3.4" clip-path="url(#cp_f2)" stroke-linejoin="round"/>
<text x="1439.5" y="1023" font-size="27.0" text-anchor="middle">-0.3</text>
<text x="1530.2" y="1023" font-size="27.0" text-anchor="middle">-0.2</text>
<text x="1621" y="1023" font-size="27.0" text-anchor="middle">-0.1</text>
<text x="1711.7" y="1023" font-size="27.0" text-anchor="middle">0</text>
<text x="1802.4" y="1023" font-size="27.0" text-anchor="middle">0.1</text>
<text x="1893.2" y="1023" font-size="27.0" text-anchor="middle">0.2</text>
<text x="1983.9" y="1023" font-size="27.0" text-anchor="middle">0.3</text>
<text x="1431" y="998.2" font-size="27.0" text-anchor="end">0</text>
<text x="1431" y="917.4" font-size="27.0" text-anchor="end">0.2</text>
<text x="1431" y="836.5" font-size="27.0" text-anchor="end">0.4</text>
<text x="1431" y="755.7" font-size="27.0" text-anchor="end">0.6</text>
<text x="1431" y="674.8" font-size="27.0" text-anchor="end">0.8</text>
<text x="1431" y="594" font-size="27.0" text-anchor="end">1.0</text>
<g transform="translate(1367.9 896.8) rotate(-90)">
<text x="0" y="0" font-size="30" text-anchor="start">Quantum yield</text>
<text transform="matrix(0.3595 0 0 0.3029 201.24 0.04)" font-size="100" font-family='"Liberation Serif", serif' font-style="italic" stroke="#fff" stroke-width="1.81">η</text>
</g>
<text transform="matrix(0.3938 0 0 0.3321 1644.42 1060.00)" font-size="100" font-family='"Liberation Serif", serif' stroke="#fff" stroke-width="1.93">Δ</text>
<text transform="matrix(0.2022 0 0 0.2493 1672.99 1070.00)" font-size="100" font-family='"Liberation Sans", sans-serif' font-style="italic">L</text>
<text x="1693.8" y="1058.8" font-size="30" text-anchor="start">(meV)</text>
<text x="1965.7" y="560.9" font-size="34.5" text-anchor="middle" letter-spacing="0.5">(f)</text>
<text x="1791" y="954" font-size="23.3" text-anchor="middle">x10</text>
<path d="M1735.1 613H1772.9" stroke="#1F4A7C" stroke-width="3.2"/>
<path d="M1735.1 625.5H1765.2" stroke="#1F4A7C" stroke-width="2.3" stroke-dasharray="10 10"/>
<text x="1784.3" y="624.5" font-size="23.3" text-anchor="start">Q</text>
<text x="1804.5" y="630.4" font-size="18.5" text-anchor="start">c</text>
<text x="1820.7" y="624.5" font-size="23.3" text-anchor="start">=</text>
<text x="1840.9" y="624.5" font-size="23.3" text-anchor="start">10</text>
<text x="1867.4" y="613.1" font-size="17" text-anchor="start">5</text>
<path d="M1735.1 646.5H1772.9" stroke="#E0446C" stroke-width="3.2"/>
<path d="M1735.1 659H1765.2" stroke="#E0446C" stroke-width="2.3" stroke-dasharray="10 10"/>
<text x="1784.3" y="658" font-size="23.3" text-anchor="start">Q</text>
<text x="1804.5" y="663.9" font-size="18.5" text-anchor="start">c</text>
<text x="1820.7" y="658" font-size="23.3" text-anchor="start">=</text>
<text x="1840.9" y="658" font-size="23.3" text-anchor="start">10</text>
<text x="1867.4" y="646.6" font-size="17" text-anchor="start">4</text>
<path d="M1735.1 680H1772.9" stroke="#3DB391" stroke-width="3.2"/>
<path d="M1735.1 692.5H1765.2" stroke="#3DB391" stroke-width="2.3" stroke-dasharray="10 10"/>
<text x="1784.3" y="691.5" font-size="23.3" text-anchor="start">Q</text>
<text x="1804.5" y="697.4" font-size="18.5" text-anchor="start">c</text>
<text x="1820.7" y="691.5" font-size="23.3" text-anchor="start">=</text>
<text x="1840.9" y="691.5" font-size="23.3" text-anchor="start">10</text>
<text x="1867.4" y="680.1" font-size="17" text-anchor="start">3</text>
<path d="M1735.1 716.9H1765.2" stroke="#000" stroke-width="2.1" stroke-dasharray="10 10"/>
<text x="1785.5" y="725" font-size="23.3" text-anchor="start">w/o CEP,</text>
<text x="1888.5" y="725" font-size="23.3" text-anchor="start">Q</text>
<text x="1908.7" y="730.9" font-size="18.5" text-anchor="start">c</text>
<text x="1924.9" y="725" font-size="23.3" text-anchor="start">=</text>
<text x="1945.1" y="725" font-size="23.3" text-anchor="start">10</text>
<text x="1971.6" y="713.6" font-size="17" text-anchor="start">4</text>
<rect x="1481.8" y="600.5" width="215.8" height="159.8" fill="#fff" stroke="#5a5a5a" stroke-width="1.0"/>
<path d="M1517.8 760.3v-2.5M1517.8 600.5v2.5M1553.8 760.3v-2.5M1553.8 600.5v2.5M1589.7 760.3v-2.5M1589.7 600.5v2.5M1625.7 760.3v-2.5M1625.7 600.5v2.5M1661.6 760.3v-2.5M1661.6 600.5v2.5" stroke="#5a5a5a" stroke-width="1.0" fill="none"/>
<path d="M1481.8 728.3h2.5M1697.6 728.3h-2.5M1481.8 696.4h2.5M1697.6 696.4h-2.5M1481.8 664.4h2.5M1697.6 664.4h-2.5M1481.8 632.5h2.5M1697.6 632.5h-2.5" stroke="#5a5a5a" stroke-width="1.0" fill="none"/>
<path d="M1481.8 717.1L1482.6 716.6L1483.3 716L1484 715.5L1484.7 715L1485.4 714.5L1486.2 714L1486.9 713.4L1487.6 712.9L1488.3 712.4L1489 711.9L1489.8 711.4L1490.5 710.9L1491.2 710.4L1491.9 709.9L1492.6 709.4L1493.4 708.9L1494.1 708.4L1494.8 707.9L1495.5 707.5L1496.2 707L1497 706.5L1497.7 706L1498.4 705.6L1499.1 705.1L1499.8 704.6L1500.5 704.2L1501.3 703.7L1502 703.2L1502.7 702.8L1503.4 702.3L1504.1 701.9L1504.9 701.4L1505.6 701L1506.3 700.6L1507 700.1L1507.7 699.7L1508.5 699.3L1509.2 698.8L1509.9 698.4L1510.6 698L1511.3 697.6L1512.1 697.2L1512.8 696.8L1513.5 696.3L1514.2 695.9L1514.9 695.5L1515.7 695.1L1516.4 694.8L1517.1 694.4L1517.8 694L1518.5 693.6L1519.2 693.2L1520 692.8L1520.7 692.5L1521.4 692.1L1522.1 691.7L1522.8 691.3L1523.6 691L1524.3 690.6L1525 690.3L1525.7 689.9L1526.4 689.6L1527.2 689.2L1527.9 688.9L1528.6 688.6L1529.3 688.2L1530 687.9L1530.8 687.6L1531.5 687.2L1532.2 686.9L1532.9 686.6L1533.6 686.3L1534.3 686L1535.1 685.7L1535.8 685.4L1536.5 685.1L1537.2 684.8L1537.9 684.5L1538.7 684.2L1539.4 683.9L1540.1 683.7L1540.8 683.4L1541.5 683.1L1542.3 682.8L1543 682.6L1543.7 682.3L1544.4 682.1L1545.1 681.8L1545.9 681.6L1546.6 681.3L1547.3 681.1L1548 680.8L1548.7 680.6L1549.5 680.4L1550.2 680.2L1550.9 679.9L1551.6 679.7L1552.3 679.5L1553 679.3L1553.8 679.1L1554.5 678.9L1555.2 678.7L1555.9 678.5L1556.6 678.3L1557.4 678.1L1558.1 677.9L1558.8 677.8L1559.5 677.6L1560.2 677.4L1561 677.2L1561.7 677.1L1562.4 676.9L1563.1 676.8L1563.8 676.6L1564.6 676.5L1565.3 676.3L1566 676.2L1566.7 676.1L1567.4 675.9L1568.1 675.8L1568.9 675.7L1569.6 675.6L1570.3 675.5L1571 675.3L1571.7 675.2L1572.5 675.1L1573.2 675L1573.9 674.9L1574.6 674.9L1575.3 674.8L1576.1 674.7L1576.8 674.6L1577.5 674.5L1578.2 674.5L1578.9 674.4L1579.7 674.4L1580.4 674.3L1581.1 674.2L1581.8 674.2L1582.5 674.2L1583.3 674.1L1584 674.1L1584.7 674L1585.4 674L1586.1 674L1586.8 674L1587.6 674L1588.3 674L1589 673.9L1589.7 673.9L1590.4 673.9L1591.2 674L1591.9 674L1592.6 674L1593.3 674L1594 674L1594.8 674L1595.5 674.1L1596.2 674.1L1596.9 674.2L1597.6 674.2L1598.4 674.2L1599.1 674.3L1599.8 674.4L1600.5 674.4L1601.2 674.5L1602 674.5L1602.7 674.6L1603.4 674.7L1604.1 674.8L1604.8 674.9L1605.5 674.9L1606.3 675L1607 675.1L1607.7 675.2L1608.4 675.3L1609.1 675.5L1609.9 675.6L1610.6 675.7L1611.3 675.8L1612 675.9L1612.7 676.1L1613.5 676.2L1614.2 676.3L1614.9 676.5L1615.6 676.6L1616.3 676.8L1617.1 676.9L1617.8 677.1L1618.5 677.2L1619.2 677.4L1619.9 677.6L1620.6 677.8L1621.4 677.9L1622.1 678.1L1622.8 678.3L1623.5 678.5L1624.2 678.7L1625 678.9L1625.7 679.1L1626.4 679.3L1627.1 679.5L1627.8 679.7L1628.6 679.9L1629.3 680.2L1630 680.4L1630.7 680.6L1631.4 680.8L1632.2 681.1L1632.9 681.3L1633.6 681.6L1634.3 681.8L1635 682.1L1635.8 682.3L1636.5 682.6L1637.2 682.8L1637.9 683.1L1638.6 683.4L1639.3 683.7L1640.1 683.9L1640.8 684.2L1641.5 684.5L1642.2 684.8L1642.9 685.1L1643.7 685.4L1644.4 685.7L1645.1 686L1645.8 686.3L1646.5 686.6L1647.3 686.9L1648 687.2L1648.7 687.6L1649.4 687.9L1650.1 688.2L1650.9 688.6L1651.6 688.9L1652.3 689.2L1653 689.6L1653.7 689.9L1654.4 690.3L1655.2 690.6L1655.9 691L1656.6 691.3L1657.3 691.7L1658 692.1L1658.8 692.5L1659.5 692.8L1660.2 693.2L1660.9 693.6L1661.6 694L1662.4 694.4L1663.1 694.8L1663.8 695.1L1664.5 695.5L1665.2 695.9L1666 696.3L1666.7 696.8L1667.4 697.2L1668.1 697.6L1668.8 698L1669.6 698.4L1670.3 698.8L1671 699.3L1671.7 699.7L1672.4 700.1L1673.1 700.6L1673.9 701L1674.6 701.4L1675.3 701.9L1676 702.3L1676.7 702.8L1677.5 703.2L1678.2 703.7L1678.9 704.2L1679.6 704.6L1680.3 705.1L1681.1 705.6L1681.8 706L1682.5 706.5L1683.2 707L1683.9 707.5L1684.7 707.9L1685.4 708.4L1686.1 708.9L1686.8 709.4L1687.5 709.9L1688.3 710.4L1689 710.9L1689.7 711.4L1690.4 711.9L1691.1 712.4L1691.8 712.9L1692.6 713.4L1693.3 714L1694 714.5L1694.7 715L1695.4 715.5L1696.2 716L1696.9 716.6L1697.6 717.1" fill="none" stroke="#E0446C" stroke-width="3.2" clip-path="url(#cp_fi)" stroke-linejoin="round"/>
<path d="M1481.8 793.9L1482.6 793.1L1483.3 792.3L1484 791.4L1484.7 790.6L1485.4 789.8L1486.2 788.9L1486.9 788.1L1487.6 787.3L1488.3 786.5L1489 785.7L1489.8 784.9L1490.5 784.1L1491.2 783.2L1491.9 782.4L1492.6 781.6L1493.4 780.9L1494.1 780.1L1494.8 779.3L1495.5 778.5L1496.2 777.7L1497 776.9L1497.7 776.1L1498.4 775.4L1499.1 774.6L1499.8 773.8L1500.5 773.1L1501.3 772.3L1502 771.6L1502.7 770.8L1503.4 770.1L1504.1 769.3L1504.9 768.6L1505.6 767.9L1506.3 767.1L1507 766.4L1507.7 765.7L1508.5 765L1509.2 764.2L1509.9 763.5L1510.6 762.8L1511.3 762.1L1512.1 761.4L1512.8 760.7L1513.5 760L1514.2 759.4L1514.9 758.7L1515.7 758L1516.4 757.3L1517.1 756.7L1517.8 756L1518.5 755.3L1519.2 754.7L1520 754L1520.7 753.4L1521.4 752.8L1522.1 752.1L1522.8 751.5L1523.6 750.9L1524.3 750.3L1525 749.7L1525.7 749.1L1526.4 748.5L1527.2 747.9L1527.9 747.3L1528.6 746.7L1529.3 746.1L1530 745.5L1530.8 745L1531.5 744.4L1532.2 743.9L1532.9 743.3L1533.6 742.8L1534.3 742.2L1535.1 741.7L1535.8 741.2L1536.5 740.6L1537.2 740.1L1537.9 739.6L1538.7 739.1L1539.4 738.6L1540.1 738.1L1540.8 737.6L1541.5 737.1L1542.3 736.7L1543 736.2L1543.7 735.7L1544.4 735.3L1545.1 734.8L1545.9 734.4L1546.6 734L1547.3 733.5L1548 733.1L1548.7 732.7L1549.5 732.3L1550.2 731.9L1550.9 731.5L1551.6 731.1L1552.3 730.7L1553 730.3L1553.8 730L1554.5 729.6L1555.2 729.3L1555.9 728.9L1556.6 728.6L1557.4 728.2L1558.1 727.9L1558.8 727.6L1559.5 727.3L1560.2 727L1561 726.7L1561.7 726.4L1562.4 726.1L1563.1 725.8L1563.8 725.5L1564.6 725.3L1565.3 725L1566 724.8L1566.7 724.5L1567.4 724.3L1568.1 724.1L1568.9 723.8L1569.6 723.6L1570.3 723.4L1571 723.2L1571.7 723L1572.5 722.8L1573.2 722.7L1573.9 722.5L1574.6 722.3L1575.3 722.2L1576.1 722L1576.8 721.9L1577.5 721.8L1578.2 721.6L1578.9 721.5L1579.7 721.4L1580.4 721.3L1581.1 721.2L1581.8 721.1L1582.5 721L1583.3 721L1584 720.9L1584.7 720.9L1585.4 720.8L1586.1 720.8L1586.8 720.7L1587.6 720.7L1588.3 720.7L1589 720.7L1589.7 720.7L1590.4 720.7L1591.2 720.7L1591.9 720.7L1592.6 720.7L1593.3 720.8L1594 720.8L1594.8 720.9L1595.5 720.9L1596.2 721L1596.9 721L1597.6 721.1L1598.4 721.2L1599.1 721.3L1599.8 721.4L1600.5 721.5L1601.2 721.6L1602 721.8L1602.7 721.9L1603.4 722L1604.1 722.2L1604.8 722.3L1605.5 722.5L1606.3 722.7L1607 722.8L1607.7 723L1608.4 723.2L1609.1 723.4L1609.9 723.6L1610.6 723.8L1611.3 724.1L1612 724.3L1612.7 724.5L1613.5 724.8L1614.2 725L1614.9 725.3L1615.6 725.5L1616.3 725.8L1617.1 726.1L1617.8 726.4L1618.5 726.7L1619.2 727L1619.9 727.3L1620.6 727.6L1621.4 727.9L1622.1 728.2L1622.8 728.6L1623.5 728.9L1624.2 729.3L1625 729.6L1625.7 730L1626.4 730.3L1627.1 730.7L1627.8 731.1L1628.6 731.5L1629.3 731.9L1630 732.3L1630.7 732.7L1631.4 733.1L1632.2 733.5L1632.9 734L1633.6 734.4L1634.3 734.8L1635 735.3L1635.8 735.7L1636.5 736.2L1637.2 736.7L1637.9 737.1L1638.6 737.6L1639.3 738.1L1640.1 738.6L1640.8 739.1L1641.5 739.6L1642.2 740.1L1642.9 740.6L1643.7 741.2L1644.4 741.7L1645.1 742.2L1645.8 742.8L1646.5 743.3L1647.3 743.9L1648 744.4L1648.7 745L1649.4 745.5L1650.1 746.1L1650.9 746.7L1651.6 747.3L1652.3 747.9L1653 748.5L1653.7 749.1L1654.4 749.7L1655.2 750.3L1655.9 750.9L1656.6 751.5L1657.3 752.1L1658 752.8L1658.8 753.4L1659.5 754L1660.2 754.7L1660.9 755.3L1661.6 756L1662.4 756.7L1663.1 757.3L1663.8 758L1664.5 758.7L1665.2 759.4L1666 760L1666.7 760.7L1667.4 761.4L1668.1 762.1L1668.8 762.8L1669.6 763.5L1670.3 764.2L1671 765L1671.7 765.7L1672.4 766.4L1673.1 767.1L1673.9 767.9L1674.6 768.6L1675.3 769.3L1676 770.1L1676.7 770.8L1677.5 771.6L1678.2 772.3L1678.9 773.1L1679.6 773.8L1680.3 774.6L1681.1 775.4L1681.8 776.1L1682.5 776.9L1683.2 777.7L1683.9 778.5L1684.7 779.3L1685.4 780.1L1686.1 780.9L1686.8 781.6L1687.5 782.4L1688.3 783.2L1689 784.1L1689.7 784.9L1690.4 785.7L1691.1 786.5L1691.8 787.3L1692.6 788.1L1693.3 788.9L1694 789.8L1694.7 790.6L1695.4 791.4L1696.2 792.3L1696.9 793.1L1697.6 793.9" fill="none" stroke="#E0446C" stroke-width="2.3" stroke-dasharray="10 10" clip-path="url(#cp_fi)" stroke-linejoin="round"/>
<path d="M1568.1 1109.5L1568.3 1107.7L1568.5 1106L1568.7 1104.2L1568.9 1102.3L1569 1100.5L1569.2 1098.6L1569.4 1096.6L1569.6 1094.6L1569.8 1092.6L1569.9 1090.6L1570.1 1088.5L1570.3 1086.4L1570.5 1084.2L1570.7 1082L1570.8 1079.7L1571 1077.4L1571.2 1075.1L1571.4 1072.7L1571.6 1070.3L1571.7 1067.8L1571.9 1065.3L1572.1 1062.7L1572.3 1060.1L1572.5 1057.4L1572.6 1054.7L1572.8 1051.9L1573 1049.1L1573.2 1046.2L1573.4 1043.2L1573.5 1040.2L1573.7 1037.2L1573.9 1034L1574.1 1030.9L1574.3 1027.6L1574.4 1024.3L1574.6 1020.9L1574.8 1017.5L1575 1014L1575.2 1010.4L1575.3 1006.8L1575.5 1003.1L1575.7 999.3L1575.9 995.5L1576.1 991.5L1576.2 987.5L1576.4 983.5L1576.6 979.3L1576.8 975.1L1577 970.8L1577.1 966.4L1577.3 961.9L1577.5 957.4L1577.7 952.7L1577.9 948L1578 943.2L1578.2 938.4L1578.4 933.4L1578.6 928.4L1578.8 923.2L1578.9 918L1579.1 912.7L1579.3 907.3L1579.5 901.9L1579.7 896.3L1579.8 890.7L1580 885L1580.2 879.2L1580.4 873.3L1580.6 867.4L1580.7 861.4L1580.9 855.3L1581.1 849.1L1581.3 842.9L1581.5 836.6L1581.6 830.2L1581.8 823.8L1582 817.3L1582.2 810.8L1582.4 804.2L1582.5 797.6L1582.7 791L1582.9 784.4L1583.1 777.7L1583.3 771L1583.4 764.3L1583.6 757.6L1583.8 750.9L1584 744.3L1584.2 737.6L1584.3 731L1584.5 724.5L1584.7 718L1584.9 711.6L1585.1 705.3L1585.2 699L1585.4 692.9L1585.6 686.9L1585.8 681L1585.9 675.3L1586.1 669.7L1586.3 664.3L1586.5 659L1586.7 654L1586.8 649.2L1587 644.6L1587.2 640.2L1587.4 636L1587.6 632.2L1587.7 628.6L1587.9 625.2L1588.1 622.2L1588.3 619.4L1588.5 617L1588.6 614.8L1588.8 613L1589 611.5L1589.2 610.3L1589.4 609.5L1589.5 609L1589.7 608.8L1589.9 609L1590.1 609.5L1590.3 610.3L1590.4 611.5L1590.6 613L1590.8 614.8L1591 617L1591.2 619.4L1591.3 622.2L1591.5 625.2L1591.7 628.6L1591.9 632.2L1592.1 636L1592.2 640.2L1592.4 644.6L1592.6 649.2L1592.8 654L1593 659L1593.1 664.3L1593.3 669.7L1593.5 675.3L1593.7 681L1593.9 686.9L1594 692.9L1594.2 699L1594.4 705.3L1594.6 711.6L1594.8 718L1594.9 724.5L1595.1 731L1595.3 737.6L1595.5 744.3L1595.7 750.9L1595.8 757.6L1596 764.3L1596.2 771L1596.4 777.7L1596.6 784.4L1596.7 791L1596.9 797.6L1597.1 804.2L1597.3 810.8L1597.5 817.3L1597.6 823.8L1597.8 830.2L1598 836.6L1598.2 842.9L1598.4 849.1L1598.5 855.3L1598.7 861.4L1598.9 867.4L1599.1 873.3L1599.3 879.2L1599.4 885L1599.6 890.7L1599.8 896.3L1600 901.9L1600.2 907.3L1600.3 912.7L1600.5 918L1600.7 923.2L1600.9 928.4L1601.1 933.4L1601.2 938.4L1601.4 943.2L1601.6 948L1601.8 952.7L1602 957.4L1602.1 961.9L1602.3 966.4L1602.5 970.8L1602.7 975.1L1602.8 979.3L1603 983.5L1603.2 987.5L1603.4 991.5L1603.6 995.5L1603.7 999.3L1603.9 1003.1L1604.1 1006.8L1604.3 1010.4L1604.5 1014L1604.6 1017.5L1604.8 1020.9L1605 1024.3L1605.2 1027.6L1605.4 1030.9L1605.5 1034L1605.7 1037.2L1605.9 1040.2L1606.1 1043.2L1606.3 1046.2L1606.4 1049.1L1606.6 1051.9L1606.8 1054.7L1607 1057.4L1607.2 1060.1L1607.3 1062.7L1607.5 1065.3L1607.7 1067.8L1607.9 1070.3L1608.1 1072.7L1608.2 1075.1L1608.4 1077.4L1608.6 1079.7L1608.8 1082L1609 1084.2L1609.1 1086.4L1609.3 1088.5L1609.5 1090.6L1609.7 1092.6L1609.9 1094.6L1610 1096.6L1610.2 1098.6L1610.4 1100.5L1610.6 1102.3L1610.8 1104.2L1610.9 1106L1611.1 1107.7L1611.3 1109.5" stroke="#1F4A7C" stroke-width="4.0" clip-path="url(#cp_fi)" stroke-linejoin="round" fill="#1F4A7C"/>
<path d="M1589.7 620.3L1589.7 766.7" fill="none" stroke="#fff" stroke-width="2.3" stroke-dasharray="9 11" clip-path="url(#cp_fi)" stroke-linejoin="round"/>
<rect x="1481.8" y="600.5" width="215.8" height="159.8" fill="none" stroke="#5a5a5a" stroke-width="1.0"/>
<text x="1516.6" y="777.8" font-size="14.5" text-anchor="middle">-1</text>
<text x="1589.7" y="777.8" font-size="14.5" text-anchor="middle">0</text>
<text x="1661.6" y="777.8" font-size="14.5" text-anchor="middle">1</text>
<text x="1476.8" y="734.1" font-size="14.5" text-anchor="end">0.80</text>
<text x="1476.8" y="670.2" font-size="14.5" text-anchor="end">0.90</text>
<text x="1476.8" y="606.3" font-size="14.5" text-anchor="end">1.00</text>
<text transform="matrix(0.2159 0 0 0.1550 1557.64 796.30)" font-size="100" font-family='"Liberation Serif", serif'>Δ</text>
<text transform="matrix(0.1275 0 0 0.1072 1570.82 801.00)" font-size="100" font-family='"Liberation Sans", sans-serif' font-style="italic">L</text>
<text x="1582" y="796.3" font-size="15" text-anchor="start" letter-spacing="1.4">(&#956;eV)</text>
</svg>
</body></html>
